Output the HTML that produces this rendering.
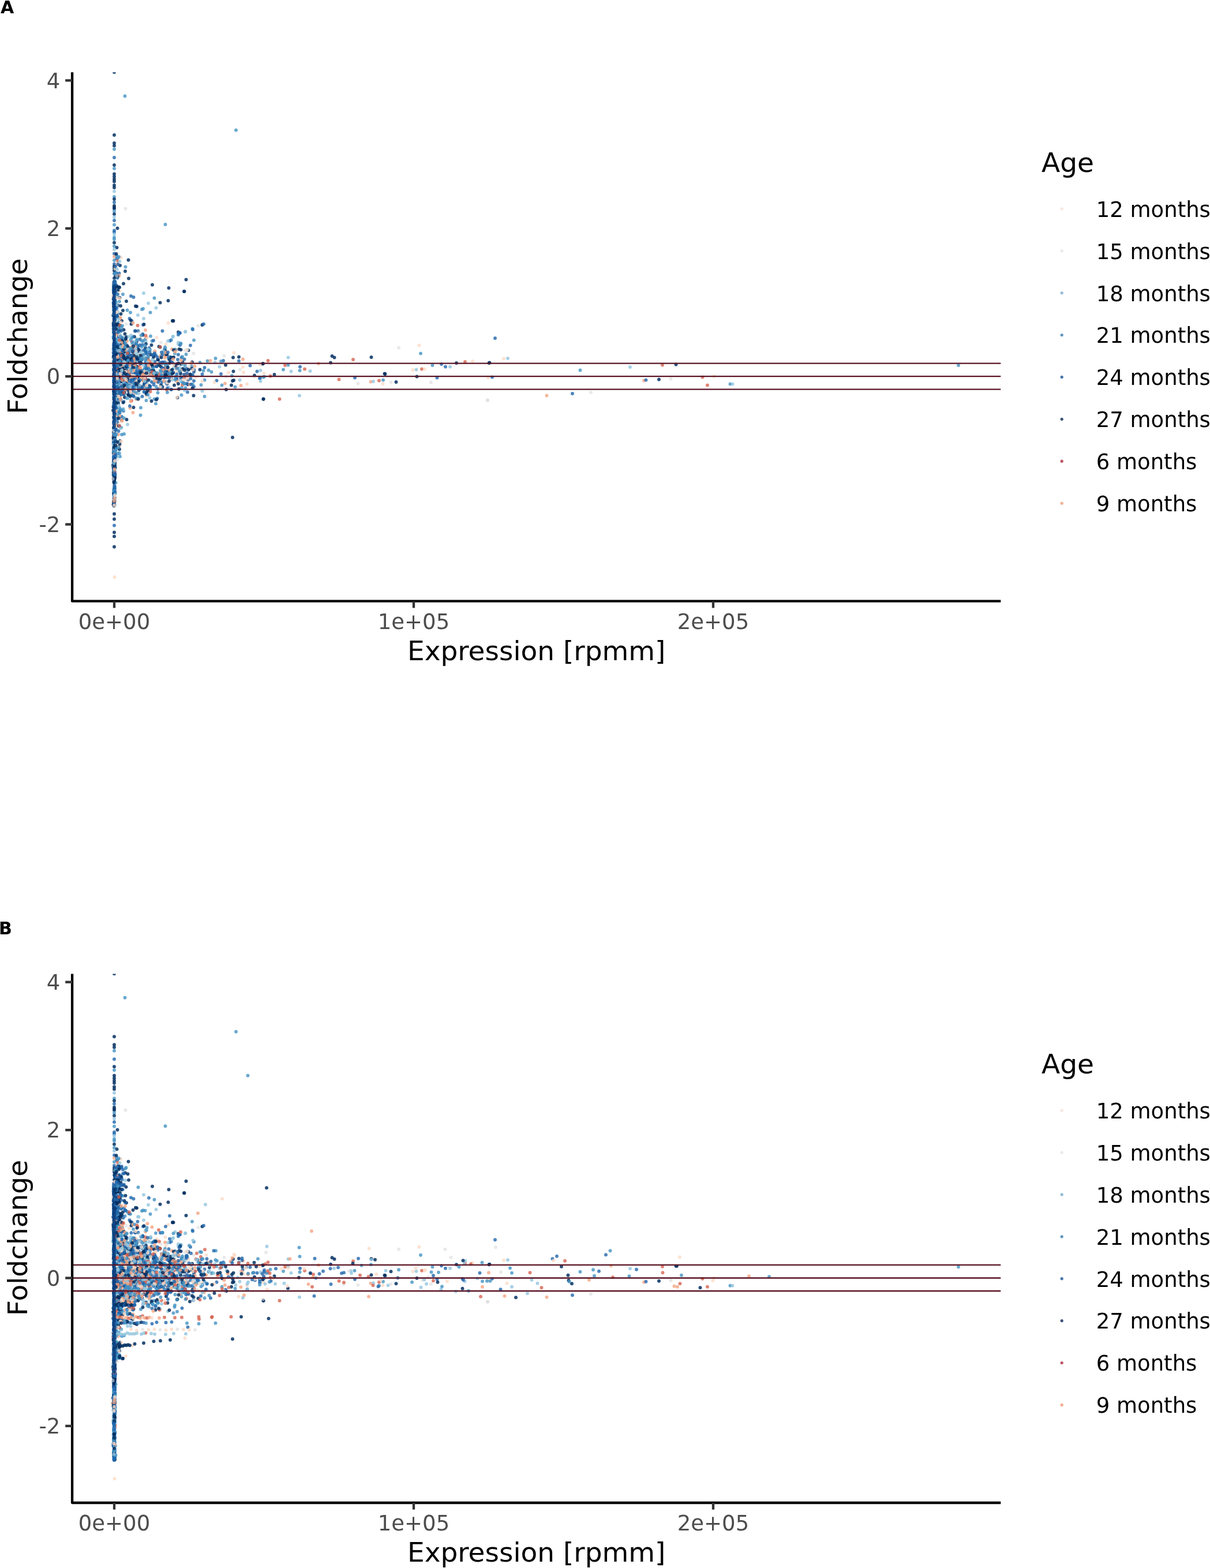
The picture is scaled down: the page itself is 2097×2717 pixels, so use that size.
<!DOCTYPE html>
<html><head><meta charset="utf-8"><style>
html,body{margin:0;padding:0;background:#fff;}
svg{display:block;}
.tk{font-family:"DejaVu Sans","Liberation Sans",sans-serif;font-size:37px;fill:#4D4D4D;}
.ti{font-family:"DejaVu Sans","Liberation Sans",sans-serif;font-size:47px;fill:#000;}
.lt{font-family:"DejaVu Sans","Liberation Sans",sans-serif;font-size:47px;fill:#000;}
.lg{font-family:"DejaVu Sans","Liberation Sans",sans-serif;font-size:37px;fill:#000;}
circle.N{fill:#053061;fill-opacity:.85} circle.B{fill:#2166AC;fill-opacity:.8} circle.M{fill:#4393C3;fill-opacity:.8} circle.L{fill:#92C5DE;fill-opacity:.8} circle.G{fill:#DADADA;fill-opacity:.6} circle.P{fill:#FDDBC7;fill-opacity:.8} circle.O{fill:#F4A582;fill-opacity:.8} circle.R{fill:#D6604D;fill-opacity:.78}
.pl{font-family:"DejaVu Sans","Liberation Sans",sans-serif;font-size:30px;font-weight:bold;fill:#000;}
</style></head><body>
<svg width="2097" height="2717" viewBox="0 0 2097 2717">
<rect width="2097" height="2717" fill="#fff"/>
<text x="1" y="22.8" class="pl">A</text>
<text x="-2.1" y="1618.5" class="pl">B</text>
<g transform="translate(0,0)">
<clipPath id="clipA"><rect x="125.1" y="125.2" width="1609.2" height="916.5"/></clipPath>
<g clip-path="url(#clipA)">
<rect x="195.4" y="742" width="5.2" height="134" rx="2.7" fill="#1a4f8f" fill-opacity="0.75"/>
<circle class=N cx=198 cy=234 r=2.95 />
<circle class=N cx=198 cy=248 r=2.95 />
<circle class=N cx=198 cy=252.5 r=2.95 />
<circle class=M cx=198 cy=258.5 r=2.95 />
<circle class=B cx=198 cy=273 r=2.95 />
<circle class=N cx=198 cy=286 r=2.95 />
<circle class=M cx=198 cy=292 r=2.95 />
<circle class=N cx=198 cy=301.5 r=2.95 />
<circle class=N cx=198 cy=306 r=2.95 />
<circle class=N cx=198 cy=310.5 r=2.95 />
<circle class=N cx=198 cy=314.5 r=2.95 />
<circle class=N cx=198 cy=321 r=2.95 />
<circle class=N cx=198 cy=325 r=2.95 />
<circle class=L cx=198 cy=331.5 r=2.95 />
<circle class=M cx=198 cy=341 r=2.95 />
<circle class=N cx=198 cy=345 r=2.95 />
<circle class=B cx=198 cy=350.5 r=2.95 />
<circle class=N cx=198 cy=356.5 r=2.95 />
<circle class=N cx=198 cy=359.5 r=2.95 />
<circle class=N cx=198 cy=361.5 r=2.95 />
<circle class=M cx=198 cy=366 r=2.95 />
<circle class=N cx=198 cy=371 r=2.95 />
<circle class=L cx=198 cy=376 r=2.95 />
<circle class=B cx=198 cy=382 r=2.95 />
<circle class=M cx=198 cy=389.5 r=2.95 />
<circle class=N cx=203.5 cy=395.5 r=2.95 />
<circle class=B cx=198 cy=399.5 r=2.95 />
<circle class=B cx=198 cy=402.5 r=2.95 />
<circle class=L cx=198 cy=406 r=2.95 />
<circle class=M cx=198 cy=411.5 r=2.95 />
<circle class=M cx=198 cy=414.5 r=2.95 />
<circle class=N cx=198 cy=420.5 r=2.95 />
<circle class=M cx=198 cy=426.5 r=2.95 />
<circle class=N cx=202.5 cy=429 r=2.95 />
<circle class=L cx=198 cy=432 r=2.95 />
<circle class=B cx=198 cy=439.5 r=2.95 />
<circle class=O cx=198 cy=444.5 r=2.95 />
<circle class=M cx=198 cy=451 r=2.95 />
<circle class=B cx=198 cy=457.5 r=2.95 />
<circle class=O cx=203 cy=458.5 r=2.95 />
<circle class=N cx=198 cy=461.5 r=2.95 />
<circle class=N cx=198 cy=465 r=2.95 />
<circle class=N cx=198 cy=469 r=2.95 />
<circle class=B cx=198 cy=474 r=2.95 />
<circle class=L cx=202 cy=477.5 r=2.95 />
<circle class=N cx=198 cy=482 r=2.95 />
<circle class=L cx=198 cy=487 r=2.95 />
<circle class=M cx=198 cy=491.5 r=2.95 />
<circle class=N cx=199.5 cy=518 r=2.95 />
<circle class=N cx=198 cy=514.5 r=2.95 />
<circle class=B cx=198 cy=529 r=2.95 />
<circle class=N cx=198.5 cy=528.5 r=2.95 />
<circle class=N cx=197 cy=528 r=2.95 />
<circle class=B cx=199.5 cy=558.5 r=2.95 />
<circle class=N cx=198.5 cy=524.5 r=2.95 />
<circle class=N cx=199 cy=512.5 r=2.95 />
<circle class=M cx=200 cy=512.5 r=2.95 />
<circle class=O cx=197.5 cy=488 r=2.95 />
<circle class=N cx=198 cy=550.5 r=2.95 />
<circle class=L cx=197.5 cy=518 r=2.95 />
<circle class=B cx=198 cy=529.5 r=2.95 />
<circle class=M cx=197.5 cy=539 r=2.95 />
<circle class=N cx=198 cy=546 r=2.95 />
<circle class=B cx=199.5 cy=545.5 r=2.95 />
<circle class=O cx=197.5 cy=501.5 r=2.95 />
<circle class=N cx=197.5 cy=491 r=2.95 />
<circle class=N cx=198 cy=559 r=2.95 />
<circle class=N cx=197.5 cy=527 r=2.95 />
<circle class=N cx=199 cy=511.5 r=2.95 />
<circle class=P cx=198.5 cy=559.5 r=2.95 />
<circle class=M cx=198 cy=545 r=2.95 />
<circle class=B cx=197.5 cy=543 r=2.95 />
<circle class=B cx=197.5 cy=492.5 r=2.95 />
<circle class=O cx=197.5 cy=518.5 r=2.95 />
<circle class=B cx=198 cy=502.5 r=2.95 />
<circle class=N cx=197 cy=494 r=2.95 />
<circle class=N cx=198 cy=557.5 r=2.95 />
<circle class=B cx=198.5 cy=526.5 r=2.95 />
<circle class=N cx=199 cy=488 r=2.95 />
<circle class=M cx=198 cy=531.5 r=2.95 />
<circle class=M cx=197.5 cy=495 r=2.95 />
<circle class=B cx=198 cy=556.5 r=2.95 />
<circle class=B cx=198 cy=505.5 r=2.95 />
<circle class=N cx=198 cy=516.5 r=2.95 />
<circle class=B cx=197.5 cy=537 r=2.95 />
<circle class=B cx=198 cy=538 r=2.95 />
<circle class=B cx=197.5 cy=493 r=2.95 />
<circle class=N cx=198 cy=502.5 r=2.95 />
<circle class=B cx=197.5 cy=552.5 r=2.95 />
<circle class=M cx=198.5 cy=538 r=2.95 />
<circle class=B cx=198 cy=545.5 r=2.95 />
<circle class=B cx=198.5 cy=525 r=2.95 />
<circle class=M cx=198.5 cy=533.5 r=2.95 />
<circle class=M cx=198.5 cy=490.5 r=2.95 />
<circle class=N cx=197.5 cy=537.5 r=2.95 />
<circle class=B cx=198.5 cy=541 r=2.95 />
<circle class=P cx=198.5 cy=507 r=2.95 />
<circle class=B cx=198 cy=536.5 r=2.95 />
<circle class=N cx=199 cy=555 r=2.95 />
<circle class=N cx=198 cy=516.5 r=2.95 />
<circle class=L cx=199 cy=513 r=2.95 />
<circle class=B cx=197.5 cy=493.5 r=2.95 />
<circle class=N cx=198.5 cy=544.5 r=2.95 />
<circle class=N cx=198 cy=547 r=2.95 />
<circle class=B cx=198.5 cy=518.5 r=2.95 />
<circle class=B cx=198 cy=545 r=2.95 />
<circle class=N cx=198.5 cy=511 r=2.95 />
<circle class=B cx=198 cy=503 r=2.95 />
<circle class=L cx=198.5 cy=514 r=2.95 />
<circle class=B cx=198 cy=494.5 r=2.95 />
<circle class=B cx=197.5 cy=527.5 r=2.95 />
<circle class=N cx=197.5 cy=544 r=2.95 />
<circle class=N cx=197 cy=526.5 r=2.95 />
<circle class=N cx=197.5 cy=518 r=2.95 />
<circle class=M cx=198.5 cy=535.5 r=2.95 />
<circle class=N cx=197.5 cy=535.5 r=2.95 />
<circle class=M cx=198.5 cy=522 r=2.95 />
<circle class=B cx=198 cy=497 r=2.95 />
<circle class=N cx=199.5 cy=492 r=2.95 />
<circle class=O cx=199 cy=500.5 r=2.95 />
<circle class=B cx=198 cy=510 r=2.95 />
<circle class=N cx=198.5 cy=492 r=2.95 />
<circle class=B cx=198 cy=504 r=2.95 />
<circle class=R cx=197.5 cy=505.5 r=2.95 />
<circle class=B cx=199.5 cy=559.5 r=2.95 />
<circle class=B cx=197.5 cy=555 r=2.95 />
<circle class=N cx=198 cy=499.5 r=2.95 />
<circle class=M cx=196.5 cy=502 r=2.95 />
<circle class=N cx=197.5 cy=543.5 r=2.95 />
<circle class=R cx=198 cy=505 r=2.95 />
<circle class=M cx=197.5 cy=504 r=2.95 />
<circle class=B cx=199 cy=528.5 r=2.95 />
<circle class=N cx=198.5 cy=550.5 r=2.95 />
<circle class=P cx=198 cy=554 r=2.95 />
<circle class=B cx=197 cy=514.5 r=2.95 />
<circle class=N cx=198.5 cy=496 r=2.95 />
<circle class=M cx=197.5 cy=510 r=2.95 />
<circle class=B cx=198 cy=558 r=2.95 />
<circle class=B cx=197 cy=529 r=2.95 />
<circle class=M cx=197 cy=525 r=2.95 />
<circle class=M cx=199.5 cy=489.5 r=2.95 />
<circle class=B cx=197.5 cy=502.5 r=2.95 />
<circle class=B cx=197.5 cy=490 r=2.95 />
<circle class=N cx=198.5 cy=506 r=2.95 />
<circle class=N cx=198 cy=545 r=2.95 />
<circle class=M cx=199 cy=528.5 r=2.95 />
<circle class=B cx=198 cy=544.5 r=2.95 />
<circle class=N cx=198.5 cy=510 r=2.95 />
<circle class=B cx=197 cy=503 r=2.95 />
<circle class=M cx=198.5 cy=534.5 r=2.95 />
<circle class=B cx=196 cy=546.5 r=2.95 />
<circle class=B cx=197 cy=526.5 r=2.95 />
<circle class=N cx=197.5 cy=558 r=2.95 />
<circle class=M cx=196.5 cy=518.5 r=2.95 />
<circle class=B cx=198.5 cy=541 r=2.95 />
<circle class=B cx=197.5 cy=517.5 r=2.95 />
<circle class=M cx=197 cy=494.5 r=2.95 />
<circle class=B cx=198.5 cy=504.5 r=2.95 />
<circle class=N cx=198 cy=542 r=2.95 />
<circle class=P cx=198 cy=537 r=2.95 />
<circle class=B cx=197.5 cy=516 r=2.95 />
<circle class=N cx=199 cy=491 r=2.95 />
<circle class=B cx=197.5 cy=531 r=2.95 />
<circle class=M cx=198 cy=498 r=2.95 />
<circle class=G cx=197.5 cy=515 r=2.95 />
<circle class=N cx=197 cy=545.5 r=2.95 />
<circle class=N cx=199 cy=520.5 r=2.95 />
<circle class=N cx=198 cy=558.5 r=2.95 />
<circle class=B cx=196.5 cy=524.5 r=2.95 />
<circle class=B cx=198 cy=551.5 r=2.95 />
<circle class=M cx=198 cy=495 r=2.95 />
<circle class=M cx=198 cy=537.5 r=2.95 />
<circle class=B cx=198 cy=544 r=2.95 />
<circle class=B cx=198 cy=488 r=2.95 />
<circle class=O cx=197.5 cy=530.5 r=2.95 />
<circle class=B cx=197 cy=558 r=2.95 />
<circle class=B cx=198.5 cy=510.5 r=2.95 />
<circle class=N cx=198 cy=534 r=2.95 />
<circle class=B cx=197.5 cy=495 r=2.95 />
<circle class=N cx=197 cy=498 r=2.95 />
<circle class=N cx=199 cy=507.5 r=2.95 />
<circle class=P cx=196.5 cy=555.5 r=2.95 />
<circle class=M cx=198 cy=545 r=2.95 />
<circle class=N cx=200 cy=498 r=2.95 />
<circle class=O cx=198 cy=515 r=2.95 />
<circle class=B cx=198 cy=536.5 r=2.95 />
<circle class=M cx=199 cy=523.5 r=2.95 />
<circle class=M cx=198.5 cy=489.5 r=2.95 />
<circle class=N cx=198.5 cy=513.5 r=2.95 />
<circle class=B cx=197.5 cy=502 r=2.95 />
<circle class=B cx=198.5 cy=493 r=2.95 />
<circle class=N cx=198.5 cy=528 r=2.95 />
<circle class=N cx=199 cy=490 r=2.95 />
<circle class=B cx=199 cy=537 r=2.95 />
<circle class=M cx=198.5 cy=531 r=2.95 />
<circle class=B cx=198 cy=525.5 r=2.95 />
<circle class=P cx=198 cy=517 r=2.95 />
<circle class=N cx=198.5 cy=534 r=2.95 />
<circle class=B cx=198.5 cy=546 r=2.95 />
<circle class=B cx=199 cy=545.5 r=2.95 />
<circle class=N cx=198 cy=557 r=2.95 />
<circle class=N cx=197 cy=506.5 r=2.95 />
<circle class=B cx=198.5 cy=525.5 r=2.95 />
<circle class=N cx=197 cy=518.5 r=2.95 />
<circle class=B cx=197.5 cy=546 r=2.95 />
<circle class=B cx=197 cy=545 r=2.95 />
<circle class=N cx=197.5 cy=507 r=2.95 />
<circle class=M cx=198.5 cy=552.5 r=2.95 />
<circle class=N cx=197 cy=532 r=2.95 />
<circle class=B cx=198 cy=522 r=2.95 />
<circle class=P cx=195.5 cy=513 r=2.95 />
<circle class=O cx=198 cy=493.5 r=2.95 />
<circle class=N cx=198.5 cy=545 r=2.95 />
<circle class=B cx=197 cy=497.5 r=2.95 />
<circle class=O cx=198 cy=547.5 r=2.95 />
<circle class=N cx=198 cy=553.5 r=2.95 />
<circle class=N cx=197.5 cy=547.5 r=2.95 />
<circle class=N cx=199.5 cy=532 r=2.95 />
<circle class=N cx=199 cy=534 r=2.95 />
<circle class=N cx=198 cy=520 r=2.95 />
<circle class=B cx=198.5 cy=515.5 r=2.95 />
<circle class=B cx=198.5 cy=535.5 r=2.95 />
<circle class=N cx=198.5 cy=525.5 r=2.95 />
<circle class=B cx=197.5 cy=537.5 r=2.95 />
<circle class=B cx=198 cy=555.5 r=2.95 />
<circle class=B cx=198 cy=557 r=2.95 />
<circle class=N cx=197.5 cy=547 r=2.95 />
<circle class=N cx=198.5 cy=502.5 r=2.95 />
<circle class=B cx=197.5 cy=517 r=2.95 />
<circle class=N cx=199 cy=505.5 r=2.95 />
<circle class=L cx=198.5 cy=490 r=2.95 />
<circle class=B cx=198.5 cy=501.5 r=2.95 />
<circle class=B cx=197.5 cy=489 r=2.95 />
<circle class=N cx=197.5 cy=516 r=2.95 />
<circle class=P cx=198.5 cy=517.5 r=2.95 />
<circle class=B cx=199 cy=553.5 r=2.95 />
<circle class=B cx=198 cy=489 r=2.95 />
<circle class=M cx=197 cy=535 r=2.95 />
<circle class=N cx=197.5 cy=525.5 r=2.95 />
<circle class=N cx=198 cy=500 r=2.95 />
<circle class=B cx=198 cy=555.5 r=2.95 />
<circle class=M cx=198 cy=517.5 r=2.95 />
<circle class=B cx=197.5 cy=518 r=2.95 />
<circle class=M cx=198 cy=493.5 r=2.95 />
<circle class=N cx=198 cy=523 r=2.95 />
<circle class=B cx=197 cy=507.5 r=2.95 />
<circle class=M cx=197 cy=544.5 r=2.95 />
<circle class=B cx=199.5 cy=537.5 r=2.95 />
<circle class=L cx=198 cy=684.5 r=2.95 />
<circle class=O cx=198.5 cy=642.5 r=2.95 />
<circle class=M cx=197.5 cy=692 r=2.95 />
<circle class=B cx=197.5 cy=603.5 r=2.95 />
<circle class=N cx=198.5 cy=617.5 r=2.95 />
<circle class=B cx=196.5 cy=564.5 r=2.95 />
<circle class=O cx=197 cy=683 r=2.95 />
<circle class=M cx=198.5 cy=680 r=2.95 />
<circle class=N cx=197 cy=586 r=2.95 />
<circle class=M cx=197.5 cy=564.5 r=2.95 />
<circle class=L cx=197.5 cy=739 r=2.95 />
<circle class=B cx=197.5 cy=617 r=2.95 />
<circle class=L cx=198.5 cy=706.5 r=2.95 />
<circle class=N cx=196.5 cy=560.5 r=2.95 />
<circle class=M cx=198 cy=665 r=2.95 />
<circle class=O cx=199.5 cy=696 r=2.95 />
<circle class=N cx=199 cy=687.5 r=2.95 />
<circle class=O cx=198 cy=653 r=2.95 />
<circle class=N cx=198 cy=670.5 r=2.95 />
<circle class=M cx=198.5 cy=582 r=2.95 />
<circle class=B cx=196.5 cy=619 r=2.95 />
<circle class=B cx=199 cy=677.5 r=2.95 />
<circle class=N cx=197.5 cy=629.5 r=2.95 />
<circle class=B cx=198.5 cy=675.5 r=2.95 />
<circle class=N cx=200 cy=580 r=2.95 />
<circle class=M cx=197.5 cy=621.5 r=2.95 />
<circle class=M cx=197 cy=651 r=2.95 />
<circle class=B cx=197.5 cy=608 r=2.95 />
<circle class=M cx=199 cy=706 r=2.95 />
<circle class=N cx=197 cy=678.5 r=2.95 />
<circle class=N cx=198 cy=626 r=2.95 />
<circle class=M cx=197.5 cy=667 r=2.95 />
<circle class=N cx=198 cy=739.5 r=2.95 />
<circle class=L cx=197 cy=682.5 r=2.95 />
<circle class=B cx=197.5 cy=653 r=2.95 />
<circle class=M cx=198 cy=666.5 r=2.95 />
<circle class=B cx=198.5 cy=618.5 r=2.95 />
<circle class=M cx=197 cy=596 r=2.95 />
<circle class=L cx=196.5 cy=584.5 r=2.95 />
<circle class=N cx=198.5 cy=730 r=2.95 />
<circle class=L cx=197.5 cy=723 r=2.95 />
<circle class=R cx=198 cy=731 r=2.95 />
<circle class=M cx=198 cy=624.5 r=2.95 />
<circle class=M cx=199.5 cy=726.5 r=2.95 />
<circle class=P cx=198 cy=737 r=2.95 />
<circle class=P cx=196.5 cy=637.5 r=2.95 />
<circle class=B cx=199 cy=634.5 r=2.95 />
<circle class=B cx=198 cy=562 r=2.95 />
<circle class=N cx=198.5 cy=609.5 r=2.95 />
<circle class=N cx=198 cy=579.5 r=2.95 />
<circle class=R cx=198 cy=715 r=2.95 />
<circle class=M cx=199 cy=561.5 r=2.95 />
<circle class=P cx=198 cy=584 r=2.95 />
<circle class=N cx=198.5 cy=717.5 r=2.95 />
<circle class=R cx=198.5 cy=702 r=2.95 />
<circle class=N cx=198.5 cy=718.5 r=2.95 />
<circle class=L cx=197 cy=662 r=2.95 />
<circle class=P cx=198.5 cy=660.5 r=2.95 />
<circle class=N cx=198 cy=721.5 r=2.95 />
<circle class=M cx=198 cy=651.5 r=2.95 />
<circle class=B cx=198 cy=714 r=2.95 />
<circle class=B cx=197 cy=677.5 r=2.95 />
<circle class=M cx=198.5 cy=679.5 r=2.95 />
<circle class=N cx=197 cy=681.5 r=2.95 />
<circle class=N cx=197.5 cy=619 r=2.95 />
<circle class=M cx=198 cy=627.5 r=2.95 />
<circle class=B cx=198 cy=608 r=2.95 />
<circle class=M cx=198 cy=690 r=2.95 />
<circle class=B cx=198 cy=562 r=2.95 />
<circle class=B cx=198 cy=577 r=2.95 />
<circle class=B cx=198.5 cy=611 r=2.95 />
<circle class=B cx=198.5 cy=664 r=2.95 />
<circle class=N cx=197.5 cy=572.5 r=2.95 />
<circle class=N cx=199 cy=654 r=2.95 />
<circle class=N cx=198.5 cy=715.5 r=2.95 />
<circle class=M cx=199 cy=658.5 r=2.95 />
<circle class=N cx=198.5 cy=724.5 r=2.95 />
<circle class=N cx=196.5 cy=705 r=2.95 />
<circle class=B cx=199 cy=716.5 r=2.95 />
<circle class=N cx=198 cy=692 r=2.95 />
<circle class=N cx=198.5 cy=715.5 r=2.95 />
<circle class=B cx=198.5 cy=684 r=2.95 />
<circle class=M cx=197 cy=629.5 r=2.95 />
<circle class=N cx=198 cy=712 r=2.95 />
<circle class=M cx=198.5 cy=569.5 r=2.95 />
<circle class=M cx=198 cy=575 r=2.95 />
<circle class=B cx=198 cy=560.5 r=2.95 />
<circle class=B cx=197.5 cy=697 r=2.95 />
<circle class=G cx=198.5 cy=573.5 r=2.95 />
<circle class=N cx=198 cy=643.5 r=2.95 />
<circle class=N cx=198 cy=644.5 r=2.95 />
<circle class=B cx=197.5 cy=725.5 r=2.95 />
<circle class=L cx=198 cy=640 r=2.95 />
<circle class=N cx=198.5 cy=704.5 r=2.95 />
<circle class=R cx=198.5 cy=690.5 r=2.95 />
<circle class=M cx=197.5 cy=576.5 r=2.95 />
<circle class=N cx=198 cy=713 r=2.95 />
<circle class=M cx=198.5 cy=584.5 r=2.95 />
<circle class=N cx=198 cy=685.5 r=2.95 />
<circle class=N cx=197 cy=575.5 r=2.95 />
<circle class=B cx=199 cy=702 r=2.95 />
<circle class=B cx=198 cy=612 r=2.95 />
<circle class=L cx=198 cy=666.5 r=2.95 />
<circle class=B cx=198.5 cy=696 r=2.95 />
<circle class=M cx=196.5 cy=605 r=2.95 />
<circle class=B cx=197 cy=640 r=2.95 />
<circle class=N cx=198 cy=624.5 r=2.95 />
<circle class=L cx=197 cy=681.5 r=2.95 />
<circle class=N cx=198.5 cy=647 r=2.95 />
<circle class=M cx=198.5 cy=711 r=2.95 />
<circle class=B cx=198 cy=613.5 r=2.95 />
<circle class=M cx=198.5 cy=735.5 r=2.95 />
<circle class=P cx=199.5 cy=728.5 r=2.95 />
<circle class=N cx=198.5 cy=706 r=2.95 />
<circle class=B cx=199 cy=716.5 r=2.95 />
<circle class=L cx=198 cy=621.5 r=2.95 />
<circle class=N cx=198 cy=667.5 r=2.95 />
<circle class=N cx=198.5 cy=686.5 r=2.95 />
<circle class=L cx=197.5 cy=584 r=2.95 />
<circle class=N cx=198.5 cy=645.5 r=2.95 />
<circle class=L cx=197.5 cy=709 r=2.95 />
<circle class=B cx=197 cy=633 r=2.95 />
<circle class=O cx=197.5 cy=570 r=2.95 />
<circle class=B cx=197 cy=561.5 r=2.95 />
<circle class=M cx=198 cy=638.5 r=2.95 />
<circle class=B cx=198 cy=567.5 r=2.95 />
<circle class=N cx=197 cy=616.5 r=2.95 />
<circle class=N cx=198.5 cy=652 r=2.95 />
<circle class=N cx=197 cy=670 r=2.95 />
<circle class=M cx=197.5 cy=674 r=2.95 />
<circle class=M cx=199.5 cy=572 r=2.95 />
<circle class=B cx=197.5 cy=701.5 r=2.95 />
<circle class=R cx=198.5 cy=725 r=2.95 />
<circle class=B cx=199 cy=571.5 r=2.95 />
<circle class=L cx=198.5 cy=735 r=2.95 />
<circle class=N cx=198.5 cy=607.5 r=2.95 />
<circle class=B cx=198.5 cy=689 r=2.95 />
<circle class=M cx=196.5 cy=569.5 r=2.95 />
<circle class=R cx=197 cy=611.5 r=2.95 />
<circle class=N cx=197.5 cy=659 r=2.95 />
<circle class=N cx=197 cy=652 r=2.95 />
<circle class=N cx=197.5 cy=659.5 r=2.95 />
<circle class=N cx=199 cy=737.5 r=2.95 />
<circle class=B cx=198 cy=609.5 r=2.95 />
<circle class=B cx=198 cy=605.5 r=2.95 />
<circle class=N cx=198.5 cy=732 r=2.95 />
<circle class=M cx=199.5 cy=591 r=2.95 />
<circle class=N cx=198.5 cy=709.5 r=2.95 />
<circle class=M cx=197.5 cy=639.5 r=2.95 />
<circle class=G cx=197 cy=595 r=2.95 />
<circle class=B cx=197.5 cy=666.5 r=2.95 />
<circle class=N cx=197.5 cy=562.5 r=2.95 />
<circle class=N cx=199 cy=646.5 r=2.95 />
<circle class=B cx=198.5 cy=683 r=2.95 />
<circle class=M cx=198 cy=678.5 r=2.95 />
<circle class=N cx=198.5 cy=708.5 r=2.95 />
<circle class=M cx=199 cy=566.5 r=2.95 />
<circle class=B cx=197 cy=702.5 r=2.95 />
<circle class=O cx=198.5 cy=731 r=2.95 />
<circle class=B cx=197 cy=723.5 r=2.95 />
<circle class=N cx=197.5 cy=570 r=2.95 />
<circle class=M cx=197.5 cy=616.5 r=2.95 />
<circle class=N cx=199 cy=672.5 r=2.95 />
<circle class=N cx=197.5 cy=688.5 r=2.95 />
<circle class=N cx=197.5 cy=716.5 r=2.95 />
<circle class=N cx=200 cy=693.5 r=2.95 />
<circle class=B cx=198.5 cy=715.5 r=2.95 />
<circle class=B cx=197 cy=599.5 r=2.95 />
<circle class=B cx=197.5 cy=586.5 r=2.95 />
<circle class=B cx=198 cy=648.5 r=2.95 />
<circle class=R cx=199.5 cy=622.5 r=2.95 />
<circle class=N cx=197.5 cy=625.5 r=2.95 />
<circle class=N cx=198.5 cy=589.5 r=2.95 />
<circle class=N cx=197.5 cy=732 r=2.95 />
<circle class=B cx=197.5 cy=661 r=2.95 />
<circle class=B cx=198 cy=702 r=2.95 />
<circle class=B cx=198.5 cy=714.5 r=2.95 />
<circle class=B cx=198 cy=675.5 r=2.95 />
<circle class=B cx=198.5 cy=609.5 r=2.95 />
<circle class=M cx=196.5 cy=584 r=2.95 />
<circle class=B cx=198 cy=669.5 r=2.95 />
<circle class=M cx=197 cy=629 r=2.95 />
<circle class=N cx=198.5 cy=726.5 r=2.95 />
<circle class=M cx=198 cy=594.5 r=2.95 />
<circle class=B cx=198 cy=733.5 r=2.95 />
<circle class=B cx=199 cy=635 r=2.95 />
<circle class=M cx=196.5 cy=627 r=2.95 />
<circle class=B cx=197 cy=733.5 r=2.95 />
<circle class=M cx=198 cy=587 r=2.95 />
<circle class=B cx=198.5 cy=600 r=2.95 />
<circle class=L cx=197.5 cy=727 r=2.95 />
<circle class=N cx=198 cy=736 r=2.95 />
<circle class=B cx=198.5 cy=708 r=2.95 />
<circle class=N cx=198 cy=594.5 r=2.95 />
<circle class=B cx=197.5 cy=698.5 r=2.95 />
<circle class=R cx=198 cy=723.5 r=2.95 />
<circle class=M cx=198 cy=617.5 r=2.95 />
<circle class=N cx=198.5 cy=723.5 r=2.95 />
<circle class=L cx=197.5 cy=579 r=2.95 />
<circle class=B cx=199 cy=731 r=2.95 />
<circle class=B cx=199 cy=568 r=2.95 />
<circle class=N cx=198.5 cy=590.5 r=2.95 />
<circle class=B cx=198.5 cy=578 r=2.95 />
<circle class=B cx=197.5 cy=596 r=2.95 />
<circle class=M cx=199.5 cy=605.5 r=2.95 />
<circle class=M cx=197.5 cy=661.5 r=2.95 />
<circle class=M cx=197 cy=575 r=2.95 />
<circle class=B cx=199 cy=617 r=2.95 />
<circle class=N cx=199.5 cy=585 r=2.95 />
<circle class=N cx=198 cy=704 r=2.95 />
<circle class=N cx=197.5 cy=642 r=2.95 />
<circle class=N cx=198 cy=585 r=2.95 />
<circle class=B cx=198.5 cy=626.5 r=2.95 />
<circle class=B cx=197.5 cy=631 r=2.95 />
<circle class=R cx=198.5 cy=598.5 r=2.95 />
<circle class=B cx=198 cy=664.5 r=2.95 />
<circle class=B cx=198 cy=613 r=2.95 />
<circle class=N cx=197.5 cy=650 r=2.95 />
<circle class=B cx=198 cy=650 r=2.95 />
<circle class=N cx=198 cy=596.5 r=2.95 />
<circle class=M cx=197.5 cy=683.5 r=2.95 />
<circle class=B cx=198 cy=718 r=2.95 />
<circle class=B cx=198.5 cy=654.5 r=2.95 />
<circle class=B cx=197.5 cy=647.5 r=2.95 />
<circle class=B cx=198.5 cy=661 r=2.95 />
<circle class=M cx=196.5 cy=611 r=2.95 />
<circle class=N cx=198 cy=686.5 r=2.95 />
<circle class=N cx=198.5 cy=654.5 r=2.95 />
<circle class=N cx=198 cy=573 r=2.95 />
<circle class=B cx=198.5 cy=619 r=2.95 />
<circle class=G cx=198 cy=727.5 r=2.95 />
<circle class=N cx=197.5 cy=647 r=2.95 />
<circle class=O cx=198.5 cy=644.5 r=2.95 />
<circle class=R cx=198.5 cy=655.5 r=2.95 />
<circle class=N cx=197.5 cy=639.5 r=2.95 />
<circle class=B cx=198.5 cy=699 r=2.95 />
<circle class=G cx=196.5 cy=715 r=2.95 />
<circle class=M cx=198 cy=573.5 r=2.95 />
<circle class=B cx=198 cy=573.5 r=2.95 />
<circle class=N cx=198.5 cy=582.5 r=2.95 />
<circle class=G cx=197.5 cy=692.5 r=2.95 />
<circle class=M cx=197 cy=688.5 r=2.95 />
<circle class=B cx=197 cy=612 r=2.95 />
<circle class=B cx=198 cy=643 r=2.95 />
<circle class=M cx=198.5 cy=653 r=2.95 />
<circle class=N cx=198 cy=716 r=2.95 />
<circle class=B cx=198 cy=580 r=2.95 />
<circle class=B cx=199.5 cy=736.5 r=2.95 />
<circle class=M cx=198 cy=581 r=2.95 />
<circle class=M cx=197.5 cy=739.5 r=2.95 />
<circle class=N cx=198 cy=706.5 r=2.95 />
<circle class=M cx=198 cy=714.5 r=2.95 />
<circle class=M cx=198 cy=663.5 r=2.95 />
<circle class=G cx=199 cy=579.5 r=2.95 />
<circle class=L cx=198 cy=574 r=2.95 />
<circle class=B cx=198 cy=616.5 r=2.95 />
<circle class=B cx=197 cy=568 r=2.95 />
<circle class=N cx=196 cy=711 r=2.95 />
<circle class=M cx=197.5 cy=566.5 r=2.95 />
<circle class=N cx=197.5 cy=571.5 r=2.95 />
<circle class=N cx=197.5 cy=617 r=2.95 />
<circle class=B cx=198 cy=580 r=2.95 />
<circle class=B cx=198 cy=571 r=2.95 />
<circle class=N cx=198 cy=617 r=2.95 />
<circle class=N cx=197 cy=564 r=2.95 />
<circle class=N cx=197.5 cy=663 r=2.95 />
<circle class=B cx=198 cy=644 r=2.95 />
<circle class=N cx=197.5 cy=722.5 r=2.95 />
<circle class=M cx=198.5 cy=701 r=2.95 />
<circle class=N cx=198.5 cy=716 r=2.95 />
<circle class=B cx=198 cy=634 r=2.95 />
<circle class=B cx=198.5 cy=711 r=2.95 />
<circle class=B cx=197 cy=712 r=2.95 />
<circle class=B cx=197.5 cy=598 r=2.95 />
<circle class=P cx=198 cy=622 r=2.95 />
<circle class=O cx=198.5 cy=733.5 r=2.95 />
<circle class=N cx=198 cy=658 r=2.95 />
<circle class=L cx=198.5 cy=733 r=2.95 />
<circle class=M cx=197 cy=701.5 r=2.95 />
<circle class=M cx=198 cy=720 r=2.95 />
<circle class=B cx=197 cy=730.5 r=2.95 />
<circle class=M cx=197 cy=659 r=2.95 />
<circle class=R cx=198.5 cy=640.5 r=2.95 />
<circle class=N cx=197.5 cy=691.5 r=2.95 />
<circle class=N cx=198 cy=683 r=2.95 />
<circle class=O cx=198.5 cy=638 r=2.95 />
<circle class=N cx=197.5 cy=603 r=2.95 />
<circle class=B cx=198 cy=685 r=2.95 />
<circle class=N cx=198.5 cy=568 r=2.95 />
<circle class=B cx=197 cy=641.5 r=2.95 />
<circle class=N cx=197.5 cy=678 r=2.95 />
<circle class=B cx=199 cy=723.5 r=2.95 />
<circle class=B cx=198.5 cy=631.5 r=2.95 />
<circle class=B cx=197 cy=576 r=2.95 />
<circle class=M cx=198.5 cy=636.5 r=2.95 />
<circle class=N cx=197.5 cy=712 r=2.95 />
<circle class=B cx=197.5 cy=606 r=2.95 />
<circle class=B cx=197.5 cy=656 r=2.95 />
<circle class=M cx=197.5 cy=582.5 r=2.95 />
<circle class=M cx=199 cy=578.5 r=2.95 />
<circle class=B cx=196.5 cy=819 r=2.95 />
<circle class=B cx=197 cy=782 r=2.95 />
<circle class=N cx=197 cy=792.5 r=2.95 />
<circle class=L cx=196 cy=769.5 r=2.95 />
<circle class=N cx=197.5 cy=802 r=2.95 />
<circle class=N cx=199 cy=753.5 r=2.95 />
<circle class=B cx=198.5 cy=816 r=2.95 />
<circle class=N cx=198.5 cy=802.5 r=2.95 />
<circle class=B cx=198.5 cy=741 r=2.95 />
<circle class=N cx=199 cy=747 r=2.95 />
<circle class=N cx=198 cy=764 r=2.95 />
<circle class=N cx=197 cy=815 r=2.95 />
<circle class=N cx=198 cy=776 r=2.95 />
<circle class=M cx=198 cy=807 r=2.95 />
<circle class=B cx=199.5 cy=811 r=2.95 />
<circle class=B cx=197.5 cy=799 r=2.95 />
<circle class=B cx=198 cy=760.5 r=2.95 />
<circle class=N cx=196.5 cy=810.5 r=2.95 />
<circle class=B cx=197.5 cy=816 r=2.95 />
<circle class=B cx=198.5 cy=795 r=2.95 />
<circle class=L cx=198 cy=815 r=2.95 />
<circle class=B cx=197 cy=776 r=2.95 />
<circle class=L cx=198 cy=828 r=2.95 />
<circle class=B cx=198.5 cy=802 r=2.95 />
<circle class=B cx=197.5 cy=812.5 r=2.95 />
<circle class=B cx=197.5 cy=825.5 r=2.95 />
<circle class=O cx=197.5 cy=749.5 r=2.95 />
<circle class=B cx=198 cy=779.5 r=2.95 />
<circle class=M cx=198 cy=809 r=2.95 />
<circle class=B cx=197.5 cy=824 r=2.95 />
<circle class=B cx=198 cy=765 r=2.95 />
<circle class=B cx=198 cy=758 r=2.95 />
<circle class=B cx=198 cy=776 r=2.95 />
<circle class=N cx=198 cy=766 r=2.95 />
<circle class=B cx=197.5 cy=816 r=2.95 />
<circle class=N cx=197.5 cy=780.5 r=2.95 />
<circle class=L cx=198.5 cy=769.5 r=2.95 />
<circle class=N cx=198 cy=810.5 r=2.95 />
<circle class=N cx=198 cy=741.5 r=2.95 />
<circle class=B cx=198 cy=816.5 r=2.95 />
<circle class=B cx=198.5 cy=779.5 r=2.95 />
<circle class=N cx=196.5 cy=823 r=2.95 />
<circle class=B cx=197.5 cy=787 r=2.95 />
<circle class=N cx=197 cy=796.5 r=2.95 />
<circle class=B cx=196 cy=805.5 r=2.95 />
<circle class=M cx=197 cy=757.5 r=2.95 />
<circle class=B cx=199 cy=780.5 r=2.95 />
<circle class=N cx=199.5 cy=755 r=2.95 />
<circle class=N cx=199 cy=763 r=2.95 />
<circle class=B cx=197.5 cy=803 r=2.95 />
<circle class=N cx=198 cy=779.5 r=2.95 />
<circle class=M cx=197.5 cy=824 r=2.95 />
<circle class=M cx=198 cy=815 r=2.95 />
<circle class=N cx=196 cy=807 r=2.95 />
<circle class=M cx=199 cy=803.5 r=2.95 />
<circle class=B cx=197.5 cy=756 r=2.95 />
<circle class=N cx=198 cy=787.5 r=2.95 />
<circle class=B cx=197 cy=828.5 r=2.95 />
<circle class=O cx=198.5 cy=750.5 r=2.95 />
<circle class=M cx=197.5 cy=742.5 r=2.95 />
<circle class=B cx=198 cy=801 r=2.95 />
<circle class=N cx=198 cy=785.5 r=2.95 />
<circle class=R cx=197.5 cy=748 r=2.95 />
<circle class=B cx=197.5 cy=761 r=2.95 />
<circle class=N cx=198.5 cy=799.5 r=2.95 />
<circle class=M cx=198.5 cy=816.5 r=2.95 />
<circle class=N cx=198 cy=750.5 r=2.95 />
<circle class=N cx=199 cy=745.5 r=2.95 />
<circle class=N cx=198 cy=810 r=2.95 />
<circle class=M cx=199 cy=797 r=2.95 />
<circle class=N cx=198.5 cy=797.5 r=2.95 />
<circle class=B cx=198.5 cy=769 r=2.95 />
<circle class=M cx=198.5 cy=822 r=2.95 />
<circle class=M cx=198.5 cy=747 r=2.95 />
<circle class=B cx=197 cy=821.5 r=2.95 />
<circle class=R cx=197 cy=810 r=2.95 />
<circle class=M cx=196.5 cy=784.5 r=2.95 />
<circle class=B cx=198.5 cy=785.5 r=2.95 />
<circle class=B cx=199 cy=804.5 r=2.95 />
<circle class=N cx=198 cy=785.5 r=2.95 />
<circle class=M cx=198 cy=814 r=2.95 />
<circle class=B cx=197 cy=813 r=2.95 />
<circle class=B cx=198 cy=791.5 r=2.95 />
<circle class=N cx=199 cy=790.5 r=2.95 />
<circle class=B cx=198.5 cy=765 r=2.95 />
<circle class=M cx=198 cy=772 r=2.95 />
<circle class=B cx=197.5 cy=774.5 r=2.95 />
<circle class=N cx=198 cy=759.5 r=2.95 />
<circle class=N cx=197.5 cy=778.5 r=2.95 />
<circle class=M cx=197.5 cy=791.5 r=2.95 />
<circle class=B cx=199 cy=759 r=2.95 />
<circle class=B cx=199 cy=790.5 r=2.95 />
<circle class=M cx=198 cy=786 r=2.95 />
<circle class=P cx=198.5 cy=801 r=2.95 />
<circle class=R cx=198.5 cy=785 r=2.95 />
<circle class=B cx=197.5 cy=755 r=2.95 />
<circle class=L cx=197 cy=809.5 r=2.95 />
<circle class=N cx=198.5 cy=759 r=2.95 />
<circle class=N cx=197 cy=741.5 r=2.95 />
<circle class=B cx=197 cy=785.5 r=2.95 />
<circle class=B cx=198.5 cy=784.5 r=2.95 />
<circle class=G cx=196.5 cy=782.5 r=2.95 />
<circle class=M cx=197.5 cy=780 r=2.95 />
<circle class=M cx=199 cy=761 r=2.95 />
<circle class=L cx=199 cy=773.5 r=2.95 />
<circle class=R cx=198.5 cy=822 r=2.95 />
<circle class=L cx=199.5 cy=744.5 r=2.95 />
<circle class=M cx=198 cy=740.5 r=2.95 />
<circle class=N cx=198.5 cy=758 r=2.95 />
<circle class=M cx=197.5 cy=793 r=2.95 />
<circle class=M cx=198 cy=788 r=2.95 />
<circle class=B cx=198 cy=740.5 r=2.95 />
<circle class=N cx=197 cy=749 r=2.95 />
<circle class=N cx=198.5 cy=808 r=2.95 />
<circle class=B cx=197 cy=818 r=2.95 />
<circle class=N cx=198.5 cy=769 r=2.95 />
<circle class=B cx=198.5 cy=795 r=2.95 />
<circle class=N cx=198.5 cy=766.5 r=2.95 />
<circle class=B cx=199 cy=784 r=2.95 />
<circle class=B cx=197 cy=793.5 r=2.95 />
<circle class=N cx=198 cy=805 r=2.95 />
<circle class=N cx=198 cy=811 r=2.95 />
<circle class=N cx=199 cy=791 r=2.95 />
<circle class=N cx=198.5 cy=744 r=2.95 />
<circle class=N cx=197 cy=761.5 r=2.95 />
<circle class=B cx=198 cy=785.5 r=2.95 />
<circle class=N cx=198 cy=794.5 r=2.95 />
<circle class=M cx=197.5 cy=818 r=2.95 />
<circle class=N cx=197.5 cy=755 r=2.95 />
<circle class=B cx=198 cy=776.5 r=2.95 />
<circle class=R cx=198.5 cy=799 r=2.95 />
<circle class=B cx=197.5 cy=773 r=2.95 />
<circle class=M cx=197 cy=775.5 r=2.95 />
<circle class=N cx=198.5 cy=746 r=2.95 />
<circle class=O cx=197.5 cy=771.5 r=2.95 />
<circle class=N cx=198.5 cy=767 r=2.95 />
<circle class=B cx=197.5 cy=779 r=2.95 />
<circle class=M cx=198.5 cy=750 r=2.95 />
<circle class=N cx=198 cy=797 r=2.95 />
<circle class=L cx=197 cy=807 r=2.95 />
<circle class=N cx=198 cy=820.5 r=2.95 />
<circle class=N cx=197.5 cy=802 r=2.95 />
<circle class=N cx=197 cy=765.5 r=2.95 />
<circle class=B cx=199 cy=764.5 r=2.95 />
<circle class=B cx=197.5 cy=740.5 r=2.95 />
<circle class=N cx=199 cy=807 r=2.95 />
<circle class=M cx=198.5 cy=804 r=2.95 />
<circle class=N cx=199 cy=745.5 r=2.95 />
<circle class=B cx=198 cy=770 r=2.95 />
<circle class=N cx=198 cy=829.5 r=2.95 />
<circle class=B cx=199 cy=826 r=2.95 />
<circle class=N cx=198.5 cy=801.5 r=2.95 />
<circle class=L cx=198.5 cy=782.5 r=2.95 />
<circle class=N cx=197.5 cy=748.5 r=2.95 />
<circle class=B cx=197.5 cy=760 r=2.95 />
<circle class=B cx=198 cy=745.5 r=2.95 />
<circle class=B cx=198.5 cy=740.5 r=2.95 />
<circle class=N cx=198.5 cy=781.5 r=2.95 />
<circle class=B cx=199 cy=808.5 r=2.95 />
<circle class=N cx=198.5 cy=818.5 r=2.95 />
<circle class=B cx=199.5 cy=771.5 r=2.95 />
<circle class=N cx=198.5 cy=770.5 r=2.95 />
<circle class=B cx=198 cy=820 r=2.95 />
<circle class=M cx=198.5 cy=772.5 r=2.95 />
<circle class=N cx=198 cy=745.5 r=2.95 />
<circle class=M cx=196.5 cy=801 r=2.95 />
<circle class=B cx=198.5 cy=808 r=2.95 />
<circle class=B cx=197.5 cy=793 r=2.95 />
<circle class=B cx=197 cy=752 r=2.95 />
<circle class=L cx=198 cy=805.5 r=2.95 />
<circle class=M cx=197.5 cy=786 r=2.95 />
<circle class=M cx=198.5 cy=767 r=2.95 />
<circle class=N cx=197.5 cy=799.5 r=2.95 />
<circle class=L cx=197 cy=798 r=2.95 />
<circle class=B cx=198 cy=800 r=2.95 />
<circle class=O cx=197.5 cy=804.5 r=2.95 />
<circle class=N cx=198 cy=747.5 r=2.95 />
<circle class=B cx=198.5 cy=798.5 r=2.95 />
<circle class=G cx=197.5 cy=823 r=2.95 />
<circle class=N cx=197 cy=817.5 r=2.95 />
<circle class=G cx=197.5 cy=778 r=2.95 />
<circle class=B cx=197 cy=758.5 r=2.95 />
<circle class=B cx=198 cy=821 r=2.95 />
<circle class=N cx=198 cy=755.5 r=2.95 />
<circle class=L cx=197.5 cy=775.5 r=2.95 />
<circle class=N cx=197 cy=765.5 r=2.95 />
<circle class=N cx=199 cy=821.5 r=2.95 />
<circle class=N cx=198.5 cy=808.5 r=2.95 />
<circle class=B cx=197.5 cy=815.5 r=2.95 />
<circle class=N cx=199.5 cy=809.5 r=2.95 />
<circle class=B cx=197.5 cy=800.5 r=2.95 />
<circle class=L cx=197.5 cy=788.5 r=2.95 />
<circle class=N cx=198.5 cy=830 r=2.95 />
<circle class=R cx=197.5 cy=797 r=2.95 />
<circle class=N cx=198.5 cy=759.5 r=2.95 />
<circle class=N cx=198.5 cy=786 r=2.95 />
<circle class=B cx=199 cy=819.5 r=2.95 />
<circle class=M cx=197 cy=780.5 r=2.95 />
<circle class=B cx=198 cy=776.5 r=2.95 />
<circle class=N cx=198 cy=790.5 r=2.95 />
<circle class=R cx=196.5 cy=756 r=2.95 />
<circle class=B cx=198.5 cy=804 r=2.95 />
<circle class=B cx=198.5 cy=769.5 r=2.95 />
<circle class=N cx=198 cy=805 r=2.95 />
<circle class=M cx=198 cy=823.5 r=2.95 />
<circle class=B cx=200 cy=787.5 r=2.95 />
<circle class=B cx=198 cy=820.5 r=2.95 />
<circle class=B cx=198 cy=741 r=2.95 />
<circle class=N cx=197.5 cy=803.5 r=2.95 />
<circle class=B cx=198.5 cy=758.5 r=2.95 />
<circle class=B cx=197.5 cy=763 r=2.95 />
<circle class=B cx=197 cy=815.5 r=2.95 />
<circle class=M cx=198 cy=815 r=2.95 />
<circle class=N cx=197 cy=811 r=2.95 />
<circle class=R cx=198 cy=821 r=2.95 />
<circle class=M cx=198 cy=829.5 r=2.95 />
<circle class=M cx=199 cy=744 r=2.95 />
<circle class=O cx=198 cy=816 r=2.95 />
<circle class=B cx=198.5 cy=796.5 r=2.95 />
<circle class=B cx=197.5 cy=795.5 r=2.95 />
<circle class=L cx=198.5 cy=799 r=2.95 />
<circle class=N cx=197.5 cy=808.5 r=2.95 />
<circle class=B cx=197.5 cy=746 r=2.95 />
<circle class=M cx=199 cy=754.5 r=2.95 />
<circle class=M cx=197.5 cy=768.5 r=2.95 />
<circle class=N cx=198 cy=762.5 r=2.95 />
<circle class=N cx=197.5 cy=820.5 r=2.95 />
<circle class=B cx=199 cy=785.5 r=2.95 />
<circle class=B cx=197.5 cy=803.5 r=2.95 />
<circle class=N cx=198 cy=819.5 r=2.95 />
<circle class=B cx=197.5 cy=776.5 r=2.95 />
<circle class=N cx=197.5 cy=777.5 r=2.95 />
<circle class=B cx=198.5 cy=783 r=2.95 />
<circle class=M cx=198 cy=770.5 r=2.95 />
<circle class=B cx=197.5 cy=745 r=2.95 />
<circle class=B cx=199 cy=796 r=2.95 />
<circle class=N cx=198 cy=827 r=2.95 />
<circle class=B cx=199 cy=809 r=2.95 />
<circle class=N cx=198.5 cy=827 r=2.95 />
<circle class=P cx=198.5 cy=778 r=2.95 />
<circle class=N cx=198.5 cy=760.5 r=2.95 />
<circle class=M cx=198.5 cy=809.5 r=2.95 />
<circle class=N cx=198.5 cy=763.5 r=2.95 />
<circle class=B cx=197.5 cy=755.5 r=2.95 />
<circle class=B cx=198 cy=809.5 r=2.95 />
<circle class=B cx=197.5 cy=813.5 r=2.95 />
<circle class=N cx=198.5 cy=809 r=2.95 />
<circle class=B cx=199 cy=743 r=2.95 />
<circle class=N cx=197.5 cy=798 r=2.95 />
<circle class=B cx=197.5 cy=791 r=2.95 />
<circle class=M cx=198 cy=740 r=2.95 />
<circle class=R cx=198.5 cy=827.5 r=2.95 />
<circle class=M cx=197 cy=791 r=2.95 />
<circle class=N cx=199 cy=826.5 r=2.95 />
<circle class=N cx=197 cy=830 r=2.95 />
<circle class=N cx=197.5 cy=823 r=2.95 />
<circle class=N cx=199 cy=802 r=2.95 />
<circle class=L cx=197.5 cy=828 r=2.95 />
<circle class=N cx=198.5 cy=829.5 r=2.95 />
<circle class=N cx=196.5 cy=759 r=2.95 />
<circle class=M cx=198.5 cy=783 r=2.95 />
<circle class=N cx=199.5 cy=771 r=2.95 />
<circle class=B cx=198 cy=752 r=2.95 />
<circle class=N cx=198.5 cy=803.5 r=2.95 />
<circle class=B cx=198 cy=790.5 r=2.95 />
<circle class=L cx=197.5 cy=763.5 r=2.95 />
<circle class=B cx=197 cy=785 r=2.95 />
<circle class=N cx=199 cy=774.5 r=2.95 />
<circle class=L cx=198 cy=750 r=2.95 />
<circle class=L cx=198 cy=821 r=2.95 />
<circle class=N cx=197.5 cy=783.5 r=2.95 />
<circle class=B cx=198.5 cy=766 r=2.95 />
<circle class=B cx=198.5 cy=785.5 r=2.95 />
<circle class=B cx=199 cy=752.5 r=2.95 />
<circle class=N cx=198 cy=821.5 r=2.95 />
<circle class=N cx=197 cy=804.5 r=2.95 />
<circle class=M cx=198 cy=816.5 r=2.95 />
<circle class=N cx=198.5 cy=759 r=2.95 />
<circle class=P cx=197.5 cy=802.5 r=2.95 />
<circle class=R cx=198.5 cy=818 r=2.95 />
<circle class=B cx=197.5 cy=790.5 r=2.95 />
<circle class=N cx=198.5 cy=827 r=2.95 />
<circle class=M cx=198 cy=814.5 r=2.95 />
<circle class=M cx=197.5 cy=802.5 r=2.95 />
<circle class=O cx=198.5 cy=786.5 r=2.95 />
<circle class=B cx=198.5 cy=821.5 r=2.95 />
<circle class=B cx=199 cy=798.5 r=2.95 />
<circle class=N cx=198 cy=775 r=2.95 />
<circle class=B cx=198 cy=747.5 r=2.95 />
<circle class=M cx=198.5 cy=754 r=2.95 />
<circle class=N cx=198 cy=741 r=2.95 />
<circle class=O cx=198.5 cy=813 r=2.95 />
<circle class=M cx=197.5 cy=782.5 r=2.95 />
<circle class=P cx=199 cy=798.5 r=2.95 />
<circle class=O cx=197.5 cy=746.5 r=2.95 />
<circle class=L cx=197.5 cy=746 r=2.95 />
<circle class=B cx=199.5 cy=822.5 r=2.95 />
<circle class=B cx=198.5 cy=821 r=2.95 />
<circle class=B cx=198 cy=828 r=2.95 />
<circle class=N cx=198.5 cy=828 r=2.95 />
<circle class=B cx=198 cy=863 r=2.95 />
<circle class=B cx=198.5 cy=867 r=2.95 />
<circle class=B cx=198 cy=874.5 r=2.95 />
<circle class=N cx=198 cy=831.5 r=2.95 />
<circle class=B cx=197 cy=855.5 r=2.95 />
<circle class=B cx=198.5 cy=869 r=2.95 />
<circle class=B cx=197.5 cy=858.5 r=2.95 />
<circle class=N cx=197.5 cy=830.5 r=2.95 />
<circle class=M cx=198 cy=845 r=2.95 />
<circle class=N cx=198.5 cy=851 r=2.95 />
<circle class=N cx=198.5 cy=861.5 r=2.95 />
<circle class=B cx=198.5 cy=862.5 r=2.95 />
<circle class=N cx=198 cy=830.5 r=2.95 />
<circle class=B cx=197.5 cy=835 r=2.95 />
<circle class=B cx=198 cy=856.5 r=2.95 />
<circle class=M cx=200.5 cy=836.5 r=2.95 />
<circle class=B cx=197 cy=854.5 r=2.95 />
<circle class=N cx=198 cy=851 r=2.95 />
<circle class=N cx=197 cy=868.5 r=2.95 />
<circle class=B cx=197.5 cy=852.5 r=2.95 />
<circle class=M cx=198 cy=855 r=2.95 />
<circle class=N cx=197.5 cy=863.5 r=2.95 />
<circle class=L cx=197.5 cy=871 r=2.95 />
<circle class=B cx=197.5 cy=832 r=2.95 />
<circle class=B cx=198 cy=871 r=2.95 />
<circle class=N cx=196.5 cy=874 r=2.95 />
<circle class=R cx=198.5 cy=869.5 r=2.95 />
<circle class=L cx=199 cy=854 r=2.95 />
<circle class=B cx=198 cy=862.5 r=2.95 />
<circle class=M cx=198 cy=861 r=2.95 />
<circle class=B cx=198.5 cy=875 r=2.95 />
<circle class=P cx=199 cy=849 r=2.95 />
<circle class=M cx=199 cy=854 r=2.95 />
<circle class=B cx=198.5 cy=863.5 r=2.95 />
<circle class=M cx=198.5 cy=852.5 r=2.95 />
<circle class=N cx=197 cy=869.5 r=2.95 />
<circle class=O cx=198.5 cy=863.5 r=2.95 />
<circle class=M cx=197 cy=849 r=2.95 />
<circle class=B cx=198 cy=866.5 r=2.95 />
<circle class=N cx=197 cy=874 r=2.95 />
<circle class=M cx=198.5 cy=845 r=2.95 />
<circle class=B cx=199 cy=847 r=2.95 />
<circle class=O cx=197.5 cy=868 r=2.95 />
<circle class=N cx=197.5 cy=855.5 r=2.95 />
<circle class=B cx=198 cy=847.5 r=2.95 />
<circle class=M cx=198.5 cy=856.5 r=2.95 />
<circle class=B cx=198 cy=873.5 r=2.95 />
<circle class=M cx=198.5 cy=865.5 r=2.95 />
<circle class=N cx=198 cy=832.5 r=2.95 />
<circle class=N cx=197.5 cy=876.5 r=2.95 />
<circle class=P cx=198 cy=875.5 r=2.95 />
<circle class=O cx=198.5 cy=865 r=2.95 />
<circle class=N cx=197.5 cy=832 r=2.95 />
<circle class=M cx=197.5 cy=850.5 r=2.95 />
<circle class=B cx=199.5 cy=852.5 r=2.95 />
<circle class=N cx=197.5 cy=836 r=2.95 />
<circle class=M cx=199.5 cy=856 r=2.95 />
<circle class=G cx=195.5 cy=830 r=2.95 />
<circle class=P cx=199 cy=858.5 r=2.95 />
<circle class=B cx=199 cy=843 r=2.95 />
<circle class=M cx=203.5 cy=515.5 r=2.95 />
<circle class=M cx=202.5 cy=550.5 r=2.95 />
<circle class=N cx=208 cy=460 r=2.95 />
<circle class=B cx=203.5 cy=543.5 r=2.95 />
<circle class=P cx=199.5 cy=465.5 r=2.95 />
<circle class=B cx=201.5 cy=538.5 r=2.95 />
<circle class=P cx=199 cy=558.5 r=2.95 />
<circle class=N cx=199.5 cy=531.5 r=2.95 />
<circle class=M cx=205.5 cy=478.5 r=2.95 />
<circle class=P cx=202.5 cy=516 r=2.95 />
<circle class=N cx=202.5 cy=541.5 r=2.95 />
<circle class=B cx=204 cy=510 r=2.95 />
<circle class=M cx=201 cy=523.5 r=2.95 />
<circle class=B cx=204.5 cy=458 r=2.95 />
<circle class=B cx=200.5 cy=507 r=2.95 />
<circle class=B cx=201.5 cy=494.5 r=2.95 />
<circle class=B cx=202.5 cy=448 r=2.95 />
<circle class=P cx=207.5 cy=504.5 r=2.95 />
<circle class=N cx=204 cy=529 r=2.95 />
<circle class=L cx=199.5 cy=544 r=2.95 />
<circle class=N cx=209 cy=530 r=2.95 />
<circle class=B cx=200 cy=462 r=2.95 />
<circle class=L cx=199.5 cy=513 r=2.95 />
<circle class=N cx=211 cy=556 r=2.95 />
<circle class=N cx=203 cy=496.5 r=2.95 />
<circle class=N cx=203.5 cy=548.5 r=2.95 />
<circle class=P cx=209.5 cy=446 r=2.95 />
<circle class=N cx=200 cy=479 r=2.95 />
<circle class=B cx=206.5 cy=473.5 r=2.95 />
<circle class=L cx=202.5 cy=529 r=2.95 />
<circle class=O cx=208 cy=551.5 r=2.95 />
<circle class=B cx=202.5 cy=533.5 r=2.95 />
<circle class=M cx=202 cy=443 r=2.95 />
<circle class=N cx=213 cy=538 r=2.95 />
<circle class=B cx=200 cy=534.5 r=2.95 />
<circle class=L cx=204 cy=540 r=2.95 />
<circle class=M cx=205.5 cy=558.5 r=2.95 />
<circle class=B cx=199 cy=493.5 r=2.95 />
<circle class=B cx=202.5 cy=547.5 r=2.95 />
<circle class=B cx=199 cy=487.5 r=2.95 />
<circle class=R cx=204 cy=452 r=2.95 />
<circle class=M cx=207 cy=522.5 r=2.95 />
<circle class=O cx=208.5 cy=550.5 r=2.95 />
<circle class=N cx=207 cy=498 r=2.95 />
<circle class=B cx=203.5 cy=481.5 r=2.95 />
<circle class=L cx=203 cy=466.5 r=2.95 />
<circle class=N cx=201.5 cy=440 r=2.95 />
<circle class=B cx=201.5 cy=473 r=2.95 />
<circle class=M cx=199 cy=510 r=2.95 />
<circle class=M cx=206 cy=445 r=2.95 />
<circle class=M cx=213 cy=510 r=2.95 />
<circle class=N cx=206 cy=497.5 r=2.95 />
<circle class=N cx=204.5 cy=502.5 r=2.95 />
<circle class=O cx=206.5 cy=477.5 r=2.95 />
<circle class=L cx=207.5 cy=453 r=2.95 />
<circle class=N cx=207.5 cy=516 r=2.95 />
<circle class=M cx=199.5 cy=474 r=2.95 />
<circle class=N cx=203.5 cy=478.5 r=2.95 />
<circle class=M cx=204.5 cy=446.5 r=2.95 />
<circle class=G cx=202.5 cy=478 r=2.95 />
<circle class=B cx=210.5 cy=727.5 r=2.95 />
<circle class=P cx=207.5 cy=640.5 r=2.95 />
<circle class=B cx=208 cy=590 r=2.95 />
<circle class=M cx=205.5 cy=560.5 r=2.95 />
<circle class=B cx=201.5 cy=595.5 r=2.95 />
<circle class=L cx=204.5 cy=694 r=2.95 />
<circle class=B cx=200 cy=705 r=2.95 />
<circle class=M cx=205 cy=628.5 r=2.95 />
<circle class=B cx=211 cy=647 r=2.95 />
<circle class=N cx=204.5 cy=661 r=2.95 />
<circle class=B cx=207 cy=662.5 r=2.95 />
<circle class=B cx=203.5 cy=585 r=2.95 />
<circle class=L cx=204.5 cy=609.5 r=2.95 />
<circle class=O cx=211.5 cy=729.5 r=2.95 />
<circle class=B cx=201.5 cy=609 r=2.95 />
<circle class=N cx=205.5 cy=635.5 r=2.95 />
<circle class=B cx=204 cy=726 r=2.95 />
<circle class=M cx=205 cy=667.5 r=2.95 />
<circle class=B cx=199.5 cy=628 r=2.95 />
<circle class=L cx=203.5 cy=709 r=2.95 />
<circle class=N cx=202.5 cy=596 r=2.95 />
<circle class=M cx=205.5 cy=693 r=2.95 />
<circle class=N cx=201 cy=625.5 r=2.95 />
<circle class=M cx=202.5 cy=663 r=2.95 />
<circle class=M cx=202 cy=711.5 r=2.95 />
<circle class=B cx=208 cy=602.5 r=2.95 />
<circle class=O cx=201 cy=721 r=2.95 />
<circle class=B cx=208.5 cy=710.5 r=2.95 />
<circle class=M cx=207 cy=723.5 r=2.95 />
<circle class=G cx=200.5 cy=710 r=2.95 />
<circle class=B cx=211 cy=722 r=2.95 />
<circle class=M cx=201.5 cy=640 r=2.95 />
<circle class=P cx=203.5 cy=667.5 r=2.95 />
<circle class=O cx=200 cy=566 r=2.95 />
<circle class=O cx=211.5 cy=727 r=2.95 />
<circle class=L cx=201.5 cy=629 r=2.95 />
<circle class=B cx=202 cy=597.5 r=2.95 />
<circle class=M cx=201.5 cy=736 r=2.95 />
<circle class=O cx=208.5 cy=618.5 r=2.95 />
<circle class=N cx=205.5 cy=738 r=2.95 />
<circle class=M cx=200.5 cy=702.5 r=2.95 />
<circle class=O cx=202.5 cy=615 r=2.95 />
<circle class=L cx=201.5 cy=587.5 r=2.95 />
<circle class=M cx=201.5 cy=648.5 r=2.95 />
<circle class=P cx=205 cy=722 r=2.95 />
<circle class=O cx=203 cy=666 r=2.95 />
<circle class=N cx=200 cy=676 r=2.95 />
<circle class=P cx=206.5 cy=665 r=2.95 />
<circle class=P cx=203.5 cy=695.5 r=2.95 />
<circle class=N cx=200 cy=590 r=2.95 />
<circle class=L cx=200 cy=567 r=2.95 />
<circle class=P cx=203 cy=651.5 r=2.95 />
<circle class=N cx=202 cy=625 r=2.95 />
<circle class=O cx=203 cy=698.5 r=2.95 />
<circle class=L cx=206.5 cy=658 r=2.95 />
<circle class=P cx=201.5 cy=709.5 r=2.95 />
<circle class=N cx=205.5 cy=640 r=2.95 />
<circle class=P cx=199 cy=573.5 r=2.95 />
<circle class=N cx=200 cy=639.5 r=2.95 />
<circle class=M cx=200.5 cy=637.5 r=2.95 />
<circle class=M cx=199.5 cy=725 r=2.95 />
<circle class=N cx=205 cy=563.5 r=2.95 />
<circle class=O cx=206.5 cy=639 r=2.95 />
<circle class=B cx=204 cy=625 r=2.95 />
<circle class=P cx=199.5 cy=585.5 r=2.95 />
<circle class=L cx=203 cy=672 r=2.95 />
<circle class=N cx=207.5 cy=571.5 r=2.95 />
<circle class=N cx=200.5 cy=656 r=2.95 />
<circle class=N cx=206 cy=676.5 r=2.95 />
<circle class=B cx=204 cy=658 r=2.95 />
<circle class=L cx=206.5 cy=601.5 r=2.95 />
<circle class=O cx=199.5 cy=649 r=2.95 />
<circle class=N cx=208.5 cy=589.5 r=2.95 />
<circle class=M cx=200 cy=586 r=2.95 />
<circle class=B cx=205 cy=656.5 r=2.95 />
<circle class=P cx=205 cy=619 r=2.95 />
<circle class=M cx=201 cy=589.5 r=2.95 />
<circle class=N cx=204 cy=689 r=2.95 />
<circle class=P cx=204.5 cy=638 r=2.95 />
<circle class=M cx=205.5 cy=713.5 r=2.95 />
<circle class=O cx=202 cy=609.5 r=2.95 />
<circle class=L cx=205.5 cy=610.5 r=2.95 />
<circle class=B cx=199 cy=606.5 r=2.95 />
<circle class=B cx=201 cy=705.5 r=2.95 />
<circle class=M cx=203.5 cy=672 r=2.95 />
<circle class=B cx=201.5 cy=562.5 r=2.95 />
<circle class=M cx=207.5 cy=707 r=2.95 />
<circle class=N cx=205.5 cy=601.5 r=2.95 />
<circle class=G cx=204 cy=680.5 r=2.95 />
<circle class=O cx=201 cy=658 r=2.95 />
<circle class=B cx=209.5 cy=622 r=2.95 />
<circle class=L cx=203 cy=697.5 r=2.95 />
<circle class=N cx=208.5 cy=678 r=2.95 />
<circle class=P cx=206 cy=732.5 r=2.95 />
<circle class=O cx=226 cy=622.5 r=2.95 />
<circle class=R cx=199.5 cy=675 r=2.95 />
<circle class=N cx=201 cy=588 r=2.95 />
<circle class=P cx=204.5 cy=592 r=2.95 />
<circle class=L cx=204 cy=652 r=2.95 />
<circle class=B cx=202.5 cy=686.5 r=2.95 />
<circle class=N cx=201.5 cy=578.5 r=2.95 />
<circle class=R cx=203.5 cy=665.5 r=2.95 />
<circle class=O cx=202 cy=664 r=2.95 />
<circle class=B cx=200 cy=736 r=2.95 />
<circle class=O cx=200 cy=641.5 r=2.95 />
<circle class=L cx=208 cy=665.5 r=2.95 />
<circle class=N cx=204 cy=562 r=2.95 />
<circle class=L cx=205 cy=620.5 r=2.95 />
<circle class=M cx=201.5 cy=597 r=2.95 />
<circle class=O cx=207 cy=720.5 r=2.95 />
<circle class=L cx=205 cy=617 r=2.95 />
<circle class=B cx=206 cy=609.5 r=2.95 />
<circle class=O cx=200.5 cy=713 r=2.95 />
<circle class=N cx=201.5 cy=562 r=2.95 />
<circle class=N cx=208 cy=564 r=2.95 />
<circle class=M cx=201.5 cy=583 r=2.95 />
<circle class=B cx=204.5 cy=598.5 r=2.95 />
<circle class=B cx=201.5 cy=707 r=2.95 />
<circle class=N cx=211 cy=660.5 r=2.95 />
<circle class=R cx=202 cy=679 r=2.95 />
<circle class=O cx=200 cy=600 r=2.95 />
<circle class=L cx=201 cy=679 r=2.95 />
<circle class=B cx=205 cy=567.5 r=2.95 />
<circle class=M cx=204.5 cy=696 r=2.95 />
<circle class=B cx=205 cy=598 r=2.95 />
<circle class=M cx=205.5 cy=623 r=2.95 />
<circle class=N cx=207 cy=675 r=2.95 />
<circle class=N cx=202.5 cy=601 r=2.95 />
<circle class=M cx=200.5 cy=683.5 r=2.95 />
<circle class=M cx=208 cy=620.5 r=2.95 />
<circle class=N cx=206 cy=636.5 r=2.95 />
<circle class=L cx=207.5 cy=610.5 r=2.95 />
<circle class=B cx=207.5 cy=715.5 r=2.95 />
<circle class=N cx=205 cy=724.5 r=2.95 />
<circle class=P cx=200 cy=738.5 r=2.95 />
<circle class=N cx=203.5 cy=620.5 r=2.95 />
<circle class=M cx=206 cy=614.5 r=2.95 />
<circle class=N cx=202 cy=661 r=2.95 />
<circle class=N cx=199 cy=662 r=2.95 />
<circle class=M cx=199.5 cy=727 r=2.95 />
<circle class=N cx=203.5 cy=607.5 r=2.95 />
<circle class=B cx=203 cy=731.5 r=2.95 />
<circle class=B cx=206 cy=643.5 r=2.95 />
<circle class=B cx=207.5 cy=620.5 r=2.95 />
<circle class=O cx=200.5 cy=735.5 r=2.95 />
<circle class=N cx=200 cy=667.5 r=2.95 />
<circle class=L cx=205.5 cy=619 r=2.95 />
<circle class=M cx=211.5 cy=621.5 r=2.95 />
<circle class=N cx=205 cy=699 r=2.95 />
<circle class=N cx=203 cy=590.5 r=2.95 />
<circle class=B cx=201.5 cy=600.5 r=2.95 />
<circle class=N cx=206 cy=660 r=2.95 />
<circle class=N cx=211 cy=590 r=2.95 />
<circle class=N cx=209.5 cy=656 r=2.95 />
<circle class=G cx=209.5 cy=571 r=2.95 />
<circle class=N cx=200.5 cy=677.5 r=2.95 />
<circle class=L cx=206 cy=624 r=2.95 />
<circle class=L cx=199.5 cy=732.5 r=2.95 />
<circle class=B cx=207.5 cy=592.5 r=2.95 />
<circle class=B cx=204 cy=567.5 r=2.95 />
<circle class=B cx=199 cy=765.5 r=2.95 />
<circle class=O cx=205 cy=753 r=2.95 />
<circle class=N cx=207 cy=778.5 r=2.95 />
<circle class=B cx=201.5 cy=744 r=2.95 />
<circle class=O cx=206.5 cy=773 r=2.95 />
<circle class=M cx=207 cy=785.5 r=2.95 />
<circle class=L cx=199.5 cy=761.5 r=2.95 />
<circle class=B cx=199.5 cy=777 r=2.95 />
<circle class=B cx=205.5 cy=747 r=2.95 />
<circle class=N cx=200 cy=791.5 r=2.95 />
<circle class=N cx=207.5 cy=769.5 r=2.95 />
<circle class=B cx=201 cy=775.5 r=2.95 />
<circle class=M cx=201 cy=764 r=2.95 />
<circle class=M cx=210 cy=741 r=2.95 />
<circle class=M cx=208 cy=791 r=2.95 />
<circle class=L cx=206 cy=785 r=2.95 />
<circle class=L cx=208.5 cy=742 r=2.95 />
<circle class=M cx=205 cy=785.5 r=2.95 />
<circle class=P cx=200.5 cy=763 r=2.95 />
<circle class=M cx=202 cy=790 r=2.95 />
<circle class=N cx=199.5 cy=775.5 r=2.95 />
<circle class=B cx=200 cy=788 r=2.95 />
<circle class=N cx=200 cy=764.5 r=2.95 />
<circle class=N cx=208 cy=764 r=2.95 />
<circle class=L cx=203.5 cy=767 r=2.95 />
<circle class=M cx=202.5 cy=768.5 r=2.95 />
<circle class=M cx=201.5 cy=752.5 r=2.95 />
<circle class=L cx=205.5 cy=765.5 r=2.95 />
<circle class=B cx=199.5 cy=762 r=2.95 />
<circle class=L cx=204 cy=791 r=2.95 />
<circle class=M cx=211 cy=753 r=2.95 />
<circle class=P cx=202 cy=771 r=2.95 />
<circle class=M cx=200.5 cy=780.5 r=2.95 />
<circle class=B cx=200 cy=790.5 r=2.95 />
<circle class=G cx=203.5 cy=796.5 r=2.95 />
<circle class=N cx=203.5 cy=766 r=2.95 />
<circle class=M cx=201.5 cy=777.5 r=2.95 />
<circle class=N cx=200.5 cy=772 r=2.95 />
<circle class=P cx=210.5 cy=764.5 r=2.95 />
<circle class=B cx=200 cy=745 r=2.95 />
<circle class=P cx=240 cy=599.5 r=2.95 />
<circle class=L cx=232.5 cy=638.5 r=2.95 />
<circle class=O cx=251.5 cy=671.5 r=2.95 />
<circle class=M cx=214.5 cy=620 r=2.95 />
<circle class=O cx=228 cy=669 r=2.95 />
<circle class=N cx=215.5 cy=663 r=2.95 />
<circle class=M cx=216 cy=656.5 r=2.95 />
<circle class=B cx=244 cy=642.5 r=2.95 />
<circle class=M cx=239 cy=645 r=2.95 />
<circle class=M cx=214.5 cy=611 r=2.95 />
<circle class=B cx=327 cy=640.5 r=2.95 />
<circle class=O cx=285.5 cy=620 r=2.95 />
<circle class=P cx=215.5 cy=640.5 r=2.95 />
<circle class=B cx=206 cy=597 r=2.95 />
<circle class=N cx=247.5 cy=580.5 r=2.95 />
<circle class=N cx=208.5 cy=691.5 r=2.95 />
<circle class=N cx=325.5 cy=666 r=2.95 />
<circle class=R cx=210.5 cy=628 r=2.95 />
<circle class=L cx=311.5 cy=637 r=2.95 />
<circle class=M cx=233 cy=647 r=2.95 />
<circle class=N cx=207 cy=621 r=2.95 />
<circle class=N cx=230.5 cy=663 r=2.95 />
<circle class=L cx=211.5 cy=624 r=2.95 />
<circle class=G cx=202.5 cy=654.5 r=2.95 />
<circle class=B cx=252.5 cy=627.5 r=2.95 />
<circle class=P cx=271.5 cy=585 r=2.95 />
<circle class=B cx=204.5 cy=587 r=2.95 />
<circle class=N cx=233 cy=583.5 r=2.95 />
<circle class=B cx=258.5 cy=640.5 r=2.95 />
<circle class=N cx=235 cy=645.5 r=2.95 />
<circle class=L cx=284 cy=614.5 r=2.95 />
<circle class=P cx=244 cy=630.5 r=2.95 />
<circle class=M cx=336 cy=589.5 r=2.95 />
<circle class=M cx=214.5 cy=657.5 r=2.95 />
<circle class=B cx=202.5 cy=661.5 r=2.95 />
<circle class=N cx=316.5 cy=627.5 r=2.95 />
<circle class=B cx=204.5 cy=623 r=2.95 />
<circle class=L cx=208 cy=605 r=2.95 />
<circle class=L cx=214.5 cy=649 r=2.95 />
<circle class=N cx=205 cy=683 r=2.95 />
<circle class=L cx=206 cy=620.5 r=2.95 />
<circle class=B cx=203.5 cy=638.5 r=2.95 />
<circle class=N cx=220.5 cy=663 r=2.95 />
<circle class=B cx=207 cy=621.5 r=2.95 />
<circle class=N cx=203.5 cy=642 r=2.95 />
<circle class=N cx=208 cy=619.5 r=2.95 />
<circle class=B cx=258.5 cy=603 r=2.95 />
<circle class=O cx=257 cy=622.5 r=2.95 />
<circle class=N cx=275.5 cy=600.5 r=2.95 />
<circle class=N cx=261 cy=640.5 r=2.95 />
<circle class=P cx=200 cy=663.5 r=2.95 />
<circle class=B cx=247 cy=597.5 r=2.95 />
<circle class=M cx=204 cy=718 r=2.95 />
<circle class=M cx=260 cy=649.5 r=2.95 />
<circle class=N cx=240.5 cy=676.5 r=2.95 />
<circle class=M cx=208.5 cy=620 r=2.95 />
<circle class=B cx=208 cy=681 r=2.95 />
<circle class=M cx=217 cy=652 r=2.95 />
<circle class=M cx=227.5 cy=623.5 r=2.95 />
<circle class=R cx=202.5 cy=632 r=2.95 />
<circle class=N cx=209 cy=614.5 r=2.95 />
<circle class=M cx=224.5 cy=656.5 r=2.95 />
<circle class=R cx=228 cy=694.5 r=2.95 />
<circle class=M cx=207.5 cy=598 r=2.95 />
<circle class=L cx=271.5 cy=634 r=2.95 />
<circle class=M cx=226.5 cy=632.5 r=2.95 />
<circle class=R cx=254 cy=672 r=2.95 />
<circle class=P cx=292 cy=636.5 r=2.95 />
<circle class=B cx=215 cy=599 r=2.95 />
<circle class=P cx=243.5 cy=586.5 r=2.95 />
<circle class=M cx=224.5 cy=610 r=2.95 />
<circle class=L cx=220 cy=652 r=2.95 />
<circle class=R cx=220.5 cy=629.5 r=2.95 />
<circle class=B cx=218 cy=640.5 r=2.95 />
<circle class=B cx=317.5 cy=639 r=2.95 />
<circle class=N cx=225.5 cy=616.5 r=2.95 />
<circle class=L cx=235.5 cy=625.5 r=2.95 />
<circle class=B cx=205 cy=670.5 r=2.95 />
<circle class=B cx=285 cy=605.5 r=2.95 />
<circle class=M cx=258 cy=642.5 r=2.95 />
<circle class=N cx=228.5 cy=601.5 r=2.95 />
<circle class=B cx=242.5 cy=674.5 r=2.95 />
<circle class=O cx=228 cy=628 r=2.95 />
<circle class=N cx=248.5 cy=659.5 r=2.95 />
<circle class=O cx=241 cy=636.5 r=2.95 />
<circle class=R cx=227 cy=653 r=2.95 />
<circle class=M cx=292 cy=621 r=2.95 />
<circle class=L cx=230.5 cy=621.5 r=2.95 />
<circle class=M cx=255.5 cy=630.5 r=2.95 />
<circle class=M cx=220.5 cy=537.5 r=2.95 />
<circle class=L cx=213.5 cy=649 r=2.95 />
<circle class=M cx=212 cy=645 r=2.95 />
<circle class=P cx=236.5 cy=588.5 r=2.95 />
<circle class=N cx=221 cy=650 r=2.95 />
<circle class=M cx=209.5 cy=679.5 r=2.95 />
<circle class=R cx=224 cy=606.5 r=2.95 />
<circle class=P cx=243.5 cy=637 r=2.95 />
<circle class=B cx=203.5 cy=607 r=2.95 />
<circle class=P cx=233.5 cy=622.5 r=2.95 />
<circle class=N cx=219 cy=660 r=2.95 />
<circle class=N cx=203 cy=660.5 r=2.95 />
<circle class=M cx=226.5 cy=642 r=2.95 />
<circle class=N cx=333 cy=627.5 r=2.95 />
<circle class=R cx=238.5 cy=636 r=2.95 />
<circle class=B cx=296 cy=626.5 r=2.95 />
<circle class=O cx=209.5 cy=604.5 r=2.95 />
<circle class=P cx=290 cy=609 r=2.95 />
<circle class=R cx=336 cy=643 r=2.95 />
<circle class=N cx=206.5 cy=627.5 r=2.95 />
<circle class=B cx=229 cy=650 r=2.95 />
<circle class=N cx=205 cy=616.5 r=2.95 />
<circle class=M cx=306.5 cy=639.5 r=2.95 />
<circle class=L cx=255 cy=663.5 r=2.95 />
<circle class=M cx=315 cy=661.5 r=2.95 />
<circle class=B cx=238 cy=651 r=2.95 />
<circle class=M cx=238 cy=690 r=2.95 />
<circle class=R cx=216 cy=664.5 r=2.95 />
<circle class=B cx=224.5 cy=660 r=2.95 />
<circle class=M cx=230 cy=628 r=2.95 />
<circle class=N cx=220.5 cy=647 r=2.95 />
<circle class=M cx=244 cy=628 r=2.95 />
<circle class=M cx=322 cy=649.5 r=2.95 />
<circle class=N cx=219.5 cy=669 r=2.95 />
<circle class=N cx=203.5 cy=655 r=2.95 />
<circle class=M cx=210 cy=642.5 r=2.95 />
<circle class=B cx=210 cy=633 r=2.95 />
<circle class=O cx=210.5 cy=669.5 r=2.95 />
<circle class=M cx=213.5 cy=709 r=2.95 />
<circle class=M cx=217.5 cy=612 r=2.95 />
<circle class=B cx=291 cy=646.5 r=2.95 />
<circle class=L cx=211.5 cy=623 r=2.95 />
<circle class=P cx=200.5 cy=649 r=2.95 />
<circle class=N cx=207.5 cy=667 r=2.95 />
<circle class=O cx=293.5 cy=647.5 r=2.95 />
<circle class=R cx=232 cy=681.5 r=2.95 />
<circle class=M cx=205 cy=616 r=2.95 />
<circle class=N cx=239 cy=650.5 r=2.95 />
<circle class=O cx=209 cy=668.5 r=2.95 />
<circle class=P cx=248 cy=607.5 r=2.95 />
<circle class=M cx=227 cy=651.5 r=2.95 />
<circle class=M cx=216 cy=682 r=2.95 />
<circle class=M cx=201.5 cy=590.5 r=2.95 />
<circle class=L cx=206 cy=686.5 r=2.95 />
<circle class=B cx=216 cy=673 r=2.95 />
<circle class=B cx=202.5 cy=654.5 r=2.95 />
<circle class=B cx=219 cy=616.5 r=2.95 />
<circle class=N cx=278.5 cy=671 r=2.95 />
<circle class=N cx=300.5 cy=646 r=2.95 />
<circle class=B cx=252.5 cy=612 r=2.95 />
<circle class=N cx=218.5 cy=671.5 r=2.95 />
<circle class=N cx=262.5 cy=650 r=2.95 />
<circle class=M cx=215 cy=617 r=2.95 />
<circle class=B cx=240.5 cy=644 r=2.95 />
<circle class=P cx=233 cy=657.5 r=2.95 />
<circle class=L cx=203.5 cy=631 r=2.95 />
<circle class=B cx=238 cy=599 r=2.95 />
<circle class=R cx=306 cy=637 r=2.95 />
<circle class=R cx=245 cy=622.5 r=2.95 />
<circle class=L cx=209.5 cy=637.5 r=2.95 />
<circle class=N cx=295 cy=655.5 r=2.95 />
<circle class=R cx=294 cy=655 r=2.95 />
<circle class=N cx=271.5 cy=634 r=2.95 />
<circle class=R cx=260.5 cy=678.5 r=2.95 />
<circle class=B cx=247.5 cy=579 r=2.95 />
<circle class=G cx=202.5 cy=611 r=2.95 />
<circle class=N cx=296.5 cy=655 r=2.95 />
<circle class=B cx=246.5 cy=619.5 r=2.95 />
<circle class=M cx=255 cy=633.5 r=2.95 />
<circle class=N cx=214.5 cy=571.5 r=2.95 />
<circle class=N cx=240 cy=608.5 r=2.95 />
<circle class=N cx=202.5 cy=670 r=2.95 />
<circle class=N cx=222 cy=620.5 r=2.95 />
<circle class=N cx=269.5 cy=648.5 r=2.95 />
<circle class=M cx=291 cy=637 r=2.95 />
<circle class=M cx=209.5 cy=607 r=2.95 />
<circle class=P cx=266.5 cy=620 r=2.95 />
<circle class=B cx=243 cy=658 r=2.95 />
<circle class=M cx=219 cy=654 r=2.95 />
<circle class=B cx=221 cy=661.5 r=2.95 />
<circle class=N cx=215 cy=593.5 r=2.95 />
<circle class=N cx=291.5 cy=644 r=2.95 />
<circle class=N cx=252 cy=603 r=2.95 />
<circle class=P cx=257 cy=633 r=2.95 />
<circle class=R cx=284.5 cy=638.5 r=2.95 />
<circle class=O cx=240 cy=615 r=2.95 />
<circle class=N cx=212.5 cy=673 r=2.95 />
<circle class=P cx=263 cy=637.5 r=2.95 />
<circle class=G cx=305.5 cy=655.5 r=2.95 />
<circle class=M cx=244.5 cy=630 r=2.95 />
<circle class=P cx=275.5 cy=645.5 r=2.95 />
<circle class=R cx=289 cy=675.5 r=2.95 />
<circle class=B cx=308 cy=656.5 r=2.95 />
<circle class=B cx=273.5 cy=656 r=2.95 />
<circle class=O cx=288.5 cy=617 r=2.95 />
<circle class=B cx=246.5 cy=687 r=2.95 />
<circle class=B cx=252 cy=633 r=2.95 />
<circle class=M cx=226.5 cy=589 r=2.95 />
<circle class=M cx=215.5 cy=626.5 r=2.95 />
<circle class=N cx=277.5 cy=601.5 r=2.95 />
<circle class=N cx=291 cy=648.5 r=2.95 />
<circle class=L cx=256.5 cy=675 r=2.95 />
<circle class=N cx=274 cy=623.5 r=2.95 />
<circle class=O cx=264 cy=649 r=2.95 />
<circle class=B cx=217 cy=586.5 r=2.95 />
<circle class=N cx=229 cy=640 r=2.95 />
<circle class=N cx=201.5 cy=637 r=2.95 />
<circle class=M cx=206 cy=662.5 r=2.95 />
<circle class=N cx=230.5 cy=645.5 r=2.95 />
<circle class=M cx=201.5 cy=680.5 r=2.95 />
<circle class=B cx=296.5 cy=675 r=2.95 />
<circle class=B cx=247.5 cy=670 r=2.95 />
<circle class=B cx=215.5 cy=624 r=2.95 />
<circle class=L cx=312 cy=653 r=2.95 />
<circle class=N cx=209 cy=675 r=2.95 />
<circle class=R cx=241 cy=635 r=2.95 />
<circle class=N cx=204 cy=670.5 r=2.95 />
<circle class=B cx=244 cy=617 r=2.95 />
<circle class=M cx=257.5 cy=625 r=2.95 />
<circle class=L cx=320 cy=676.5 r=2.95 />
<circle class=M cx=271 cy=649.5 r=2.95 />
<circle class=N cx=264.5 cy=635 r=2.95 />
<circle class=N cx=285.5 cy=648.5 r=2.95 />
<circle class=B cx=204.5 cy=665.5 r=2.95 />
<circle class=L cx=309 cy=596.5 r=2.95 />
<circle class=M cx=279.5 cy=652.5 r=2.95 />
<circle class=M cx=222 cy=604.5 r=2.95 />
<circle class=B cx=242.5 cy=588 r=2.95 />
<circle class=N cx=279 cy=667 r=2.95 />
<circle class=B cx=226 cy=669 r=2.95 />
<circle class=O cx=226 cy=602 r=2.95 />
<circle class=O cx=277 cy=654 r=2.95 />
<circle class=O cx=208 cy=648 r=2.95 />
<circle class=B cx=239.5 cy=573.5 r=2.95 />
<circle class=B cx=268.5 cy=626.5 r=2.95 />
<circle class=L cx=253 cy=592 r=2.95 />
<circle class=M cx=286.5 cy=604 r=2.95 />
<circle class=N cx=279 cy=635.5 r=2.95 />
<circle class=L cx=231 cy=592 r=2.95 />
<circle class=M cx=207 cy=738 r=2.95 />
<circle class=B cx=255.5 cy=621.5 r=2.95 />
<circle class=B cx=231.5 cy=669 r=2.95 />
<circle class=M cx=233.5 cy=671 r=2.95 />
<circle class=L cx=201.5 cy=622 r=2.95 />
<circle class=B cx=298 cy=645 r=2.95 />
<circle class=B cx=279 cy=650 r=2.95 />
<circle class=M cx=252.5 cy=621 r=2.95 />
<circle class=N cx=226.5 cy=652.5 r=2.95 />
<circle class=N cx=239.5 cy=666.5 r=2.95 />
<circle class=L cx=257 cy=606 r=2.95 />
<circle class=L cx=257 cy=617.5 r=2.95 />
<circle class=B cx=212.5 cy=637 r=2.95 />
<circle class=L cx=239 cy=622.5 r=2.95 />
<circle class=O cx=219.5 cy=623 r=2.95 />
<circle class=B cx=230 cy=673.5 r=2.95 />
<circle class=M cx=237 cy=681 r=2.95 />
<circle class=M cx=208 cy=645 r=2.95 />
<circle class=G cx=207.5 cy=642 r=2.95 />
<circle class=O cx=257.5 cy=630 r=2.95 />
<circle class=O cx=216.5 cy=659.5 r=2.95 />
<circle class=R cx=275 cy=648.5 r=2.95 />
<circle class=N cx=208 cy=640 r=2.95 />
<circle class=R cx=286.5 cy=642 r=2.95 />
<circle class=N cx=236 cy=596.5 r=2.95 />
<circle class=B cx=271.5 cy=635 r=2.95 />
<circle class=M cx=211.5 cy=630 r=2.95 />
<circle class=L cx=260 cy=659 r=2.95 />
<circle class=M cx=232 cy=674 r=2.95 />
<circle class=L cx=223.5 cy=654 r=2.95 />
<circle class=N cx=216 cy=688.5 r=2.95 />
<circle class=R cx=209.5 cy=627.5 r=2.95 />
<circle class=M cx=219 cy=662 r=2.95 />
<circle class=N cx=301 cy=619 r=2.95 />
<circle class=B cx=212.5 cy=676.5 r=2.95 />
<circle class=M cx=203 cy=595 r=2.95 />
<circle class=N cx=281.5 cy=670.5 r=2.95 />
<circle class=B cx=289.5 cy=644.5 r=2.95 />
<circle class=B cx=230.5 cy=583.5 r=2.95 />
<circle class=M cx=332 cy=634.5 r=2.95 />
<circle class=L cx=204.5 cy=665.5 r=2.95 />
<circle class=N cx=241.5 cy=627.5 r=2.95 />
<circle class=O cx=234 cy=635 r=2.95 />
<circle class=R cx=326 cy=650 r=2.95 />
<circle class=M cx=244.5 cy=581 r=2.95 />
<circle class=L cx=201 cy=623 r=2.95 />
<circle class=N cx=236 cy=638 r=2.95 />
<circle class=L cx=295 cy=645.5 r=2.95 />
<circle class=M cx=221 cy=606.5 r=2.95 />
<circle class=M cx=229.5 cy=658.5 r=2.95 />
<circle class=N cx=208 cy=573.5 r=2.95 />
<circle class=L cx=292.5 cy=671 r=2.95 />
<circle class=B cx=202.5 cy=647 r=2.95 />
<circle class=M cx=273.5 cy=680.5 r=2.95 />
<circle class=B cx=226 cy=630 r=2.95 />
<circle class=B cx=305.5 cy=656.5 r=2.95 />
<circle class=O cx=261 cy=628 r=2.95 />
<circle class=R cx=213 cy=673.5 r=2.95 />
<circle class=M cx=321 cy=664.5 r=2.95 />
<circle class=M cx=283.5 cy=628.5 r=2.95 />
<circle class=B cx=334 cy=650 r=2.95 />
<circle class=B cx=217.5 cy=660.5 r=2.95 />
<circle class=M cx=218 cy=620 r=2.95 />
<circle class=L cx=215.5 cy=634 r=2.95 />
<circle class=B cx=210 cy=655.5 r=2.95 />
<circle class=M cx=241 cy=616.5 r=2.95 />
<circle class=R cx=205.5 cy=626.5 r=2.95 />
<circle class=G cx=206 cy=631 r=2.95 />
<circle class=M cx=252 cy=587.5 r=2.95 />
<circle class=P cx=206 cy=644.5 r=2.95 />
<circle class=O cx=224 cy=604.5 r=2.95 />
<circle class=M cx=204.5 cy=664.5 r=2.95 />
<circle class=M cx=246 cy=591 r=2.95 />
<circle class=M cx=209.5 cy=678 r=2.95 />
<circle class=M cx=241.5 cy=660 r=2.95 />
<circle class=B cx=201.5 cy=623.5 r=2.95 />
<circle class=N cx=200 cy=650 r=2.95 />
<circle class=N cx=211 cy=654 r=2.95 />
<circle class=N cx=262.5 cy=598 r=2.95 />
<circle class=B cx=203 cy=671 r=2.95 />
<circle class=N cx=218 cy=637.5 r=2.95 />
<circle class=N cx=238 cy=622.5 r=2.95 />
<circle class=B cx=208 cy=628.5 r=2.95 />
<circle class=M cx=224.5 cy=666.5 r=2.95 />
<circle class=L cx=221 cy=654 r=2.95 />
<circle class=G cx=210.5 cy=617 r=2.95 />
<circle class=N cx=239 cy=653.5 r=2.95 />
<circle class=N cx=243 cy=623 r=2.95 />
<circle class=B cx=281.5 cy=638 r=2.95 />
<circle class=B cx=219.5 cy=623 r=2.95 />
<circle class=O cx=220 cy=628.5 r=2.95 />
<circle class=M cx=250 cy=666 r=2.95 />
<circle class=B cx=206 cy=643 r=2.95 />
<circle class=B cx=240 cy=622.5 r=2.95 />
<circle class=L cx=227 cy=581 r=2.95 />
<circle class=M cx=211.5 cy=596.5 r=2.95 />
<circle class=R cx=283.5 cy=639.5 r=2.95 />
<circle class=G cx=206 cy=601.5 r=2.95 />
<circle class=M cx=205 cy=658.5 r=2.95 />
<circle class=B cx=223.5 cy=640 r=2.95 />
<circle class=N cx=200.5 cy=667 r=2.95 />
<circle class=N cx=207.5 cy=676 r=2.95 />
<circle class=P cx=239.5 cy=659 r=2.95 />
<circle class=M cx=249.5 cy=654 r=2.95 />
<circle class=L cx=203 cy=569 r=2.95 />
<circle class=O cx=210.5 cy=682 r=2.95 />
<circle class=O cx=201.5 cy=649 r=2.95 />
<circle class=B cx=259.5 cy=672.5 r=2.95 />
<circle class=P cx=227.5 cy=647 r=2.95 />
<circle class=M cx=216 cy=589.5 r=2.95 />
<circle class=N cx=227 cy=641 r=2.95 />
<circle class=M cx=229 cy=643 r=2.95 />
<circle class=B cx=280.5 cy=662 r=2.95 />
<circle class=B cx=210 cy=594 r=2.95 />
<circle class=N cx=215.5 cy=670 r=2.95 />
<circle class=M cx=206 cy=612.5 r=2.95 />
<circle class=L cx=235 cy=601 r=2.95 />
<circle class=M cx=219.5 cy=655.5 r=2.95 />
<circle class=M cx=210 cy=643.5 r=2.95 />
<circle class=R cx=204 cy=637 r=2.95 />
<circle class=L cx=206.5 cy=635 r=2.95 />
<circle class=N cx=246 cy=642.5 r=2.95 />
<circle class=O cx=305 cy=606.5 r=2.95 />
<circle class=P cx=213.5 cy=652.5 r=2.95 />
<circle class=N cx=207 cy=681 r=2.95 />
<circle class=B cx=314.5 cy=619.5 r=2.95 />
<circle class=P cx=281.5 cy=615.5 r=2.95 />
<circle class=P cx=202.5 cy=541 r=2.95 />
<circle class=M cx=235.5 cy=628.5 r=2.95 />
<circle class=B cx=223 cy=603 r=2.95 />
<circle class=L cx=206 cy=702.5 r=2.95 />
<circle class=B cx=211 cy=679.5 r=2.95 />
<circle class=M cx=307.5 cy=638.5 r=2.95 />
<circle class=P cx=201 cy=582 r=2.95 />
<circle class=M cx=245.5 cy=630 r=2.95 />
<circle class=R cx=211 cy=642.5 r=2.95 />
<circle class=N cx=214.5 cy=597.5 r=2.95 />
<circle class=B cx=243 cy=646 r=2.95 />
<circle class=R cx=206.5 cy=655 r=2.95 />
<circle class=N cx=218.5 cy=665.5 r=2.95 />
<circle class=N cx=210.5 cy=607.5 r=2.95 />
<circle class=O cx=236 cy=691.5 r=2.95 />
<circle class=O cx=254 cy=585 r=2.95 />
<circle class=L cx=223.5 cy=658.5 r=2.95 />
<circle class=N cx=206 cy=651.5 r=2.95 />
<circle class=O cx=298 cy=605 r=2.95 />
<circle class=L cx=264.5 cy=624.5 r=2.95 />
<circle class=N cx=212 cy=590 r=2.95 />
<circle class=O cx=207 cy=655 r=2.95 />
<circle class=N cx=250.5 cy=655.5 r=2.95 />
<circle class=N cx=299 cy=620 r=2.95 />
<circle class=P cx=255 cy=584.5 r=2.95 />
<circle class=P cx=257 cy=649.5 r=2.95 />
<circle class=M cx=215 cy=615 r=2.95 />
<circle class=M cx=206 cy=687 r=2.95 />
<circle class=M cx=303.5 cy=605.5 r=2.95 />
<circle class=R cx=316 cy=667 r=2.95 />
<circle class=N cx=316.5 cy=639.5 r=2.95 />
<circle class=N cx=303.5 cy=633.5 r=2.95 />
<circle class=P cx=212.5 cy=604.5 r=2.95 />
<circle class=O cx=212 cy=634.5 r=2.95 />
<circle class=B cx=254 cy=629.5 r=2.95 />
<circle class=M cx=318.5 cy=631.5 r=2.95 />
<circle class=N cx=276 cy=633 r=2.95 />
<circle class=N cx=233.5 cy=642 r=2.95 />
<circle class=L cx=211.5 cy=624.5 r=2.95 />
<circle class=M cx=213 cy=627.5 r=2.95 />
<circle class=M cx=267.5 cy=662 r=2.95 />
<circle class=R cx=326 cy=658.5 r=2.95 />
<circle class=L cx=241 cy=689.5 r=2.95 />
<circle class=M cx=284 cy=610 r=2.95 />
<circle class=N cx=220 cy=624 r=2.95 />
<circle class=N cx=213.5 cy=615.5 r=2.95 />
<circle class=B cx=290 cy=634 r=2.95 />
<circle class=B cx=260.5 cy=649 r=2.95 />
<circle class=B cx=224.5 cy=552 r=2.95 />
<circle class=M cx=236.5 cy=641 r=2.95 />
<circle class=N cx=273.5 cy=623 r=2.95 />
<circle class=B cx=200.5 cy=663.5 r=2.95 />
<circle class=O cx=217.5 cy=615.5 r=2.95 />
<circle class=N cx=266 cy=642 r=2.95 />
<circle class=L cx=218.5 cy=671.5 r=2.95 />
<circle class=N cx=237 cy=591.5 r=2.95 />
<circle class=P cx=213 cy=599 r=2.95 />
<circle class=M cx=209 cy=618 r=2.95 />
<circle class=L cx=213 cy=664 r=2.95 />
<circle class=O cx=208 cy=602 r=2.95 />
<circle class=R cx=267 cy=646 r=2.95 />
<circle class=M cx=299.5 cy=629 r=2.95 />
<circle class=N cx=209 cy=661 r=2.95 />
<circle class=N cx=212.5 cy=683 r=2.95 />
<circle class=B cx=208 cy=631 r=2.95 />
<circle class=N cx=248 cy=646.5 r=2.95 />
<circle class=P cx=220.5 cy=673 r=2.95 />
<circle class=P cx=250.5 cy=657 r=2.95 />
<circle class=N cx=220.5 cy=675 r=2.95 />
<circle class=B cx=330.5 cy=656 r=2.95 />
<circle class=B cx=216 cy=679.5 r=2.95 />
<circle class=N cx=206.5 cy=620 r=2.95 />
<circle class=M cx=252 cy=655 r=2.95 />
<circle class=N cx=307.5 cy=689 r=2.95 />
<circle class=L cx=206 cy=648.5 r=2.95 />
<circle class=O cx=306.5 cy=661 r=2.95 />
<circle class=N cx=201.5 cy=660.5 r=2.95 />
<circle class=L cx=216.5 cy=633 r=2.95 />
<circle class=L cx=268 cy=645.5 r=2.95 />
<circle class=B cx=206 cy=676 r=2.95 />
<circle class=N cx=287 cy=648.5 r=2.95 />
<circle class=L cx=213.5 cy=632 r=2.95 />
<circle class=P cx=206 cy=593 r=2.95 />
<circle class=N cx=314 cy=655 r=2.95 />
<circle class=L cx=234.5 cy=651 r=2.95 />
<circle class=M cx=204 cy=659 r=2.95 />
<circle class=M cx=223.5 cy=625.5 r=2.95 />
<circle class=N cx=200.5 cy=564 r=2.95 />
<circle class=B cx=214.5 cy=683.5 r=2.95 />
<circle class=M cx=249.5 cy=656 r=2.95 />
<circle class=B cx=225 cy=666.5 r=2.95 />
<circle class=M cx=201.5 cy=656 r=2.95 />
<circle class=M cx=252.5 cy=608.5 r=2.95 />
<circle class=M cx=207 cy=657 r=2.95 />
<circle class=B cx=219 cy=635 r=2.95 />
<circle class=M cx=241 cy=659.5 r=2.95 />
<circle class=P cx=293 cy=653 r=2.95 />
<circle class=R cx=228.5 cy=593 r=2.95 />
<circle class=N cx=238.5 cy=605 r=2.95 />
<circle class=B cx=223 cy=616 r=2.95 />
<circle class=R cx=219 cy=649.5 r=2.95 />
<circle class=B cx=243.5 cy=629.5 r=2.95 />
<circle class=R cx=231 cy=632.5 r=2.95 />
<circle class=O cx=233.5 cy=625 r=2.95 />
<circle class=P cx=295.5 cy=657 r=2.95 />
<circle class=B cx=222.5 cy=611.5 r=2.95 />
<circle class=L cx=230 cy=649 r=2.95 />
<circle class=B cx=204 cy=650 r=2.95 />
<circle class=M cx=254 cy=626.5 r=2.95 />
<circle class=B cx=251.5 cy=606 r=2.95 />
<circle class=B cx=208 cy=670.5 r=2.95 />
<circle class=M cx=210 cy=644 r=2.95 />
<circle class=M cx=255 cy=607.5 r=2.95 />
<circle class=B cx=210.5 cy=621.5 r=2.95 />
<circle class=B cx=211 cy=613 r=2.95 />
<circle class=L cx=208.5 cy=602 r=2.95 />
<circle class=M cx=334 cy=666 r=2.95 />
<circle class=M cx=217 cy=640.5 r=2.95 />
<circle class=L cx=242.5 cy=648 r=2.95 />
<circle class=R cx=232 cy=614.5 r=2.95 />
<circle class=P cx=287.5 cy=596.5 r=2.95 />
<circle class=M cx=205.5 cy=619.5 r=2.95 />
<circle class=G cx=207.5 cy=666 r=2.95 />
<circle class=N cx=212 cy=650 r=2.95 />
<circle class=B cx=206.5 cy=654 r=2.95 />
<circle class=L cx=235.5 cy=591 r=2.95 />
<circle class=B cx=211.5 cy=623.5 r=2.95 />
<circle class=R cx=212.5 cy=608.5 r=2.95 />
<circle class=B cx=229 cy=615.5 r=2.95 />
<circle class=B cx=253 cy=609 r=2.95 />
<circle class=N cx=204 cy=608.5 r=2.95 />
<circle class=N cx=201 cy=647.5 r=2.95 />
<circle class=N cx=286 cy=608 r=2.95 />
<circle class=N cx=212.5 cy=681 r=2.95 />
<circle class=B cx=263.5 cy=642 r=2.95 />
<circle class=O cx=224 cy=617 r=2.95 />
<circle class=B cx=276 cy=658.5 r=2.95 />
<circle class=N cx=222.5 cy=642.5 r=2.95 />
<circle class=R cx=256 cy=620 r=2.95 />
<circle class=N cx=214.5 cy=608.5 r=2.95 />
<circle class=M cx=236.5 cy=657.5 r=2.95 />
<circle class=M cx=245.5 cy=601 r=2.95 />
<circle class=P cx=269.5 cy=645 r=2.95 />
<circle class=B cx=242.5 cy=598 r=2.95 />
<circle class=N cx=202.5 cy=684.5 r=2.95 />
<circle class=B cx=263 cy=662 r=2.95 />
<circle class=N cx=203 cy=635 r=2.95 />
<circle class=P cx=221 cy=604.5 r=2.95 />
<circle class=P cx=216.5 cy=645 r=2.95 />
<circle class=M cx=216 cy=601 r=2.95 />
<circle class=N cx=230 cy=601.5 r=2.95 />
<circle class=B cx=231 cy=658 r=2.95 />
<circle class=M cx=247.5 cy=616 r=2.95 />
<circle class=O cx=202 cy=579 r=2.95 />
<circle class=M cx=258 cy=638.5 r=2.95 />
<circle class=M cx=207 cy=597.5 r=2.95 />
<circle class=L cx=221 cy=662 r=2.95 />
<circle class=B cx=207 cy=658.5 r=2.95 />
<circle class=N cx=222 cy=684 r=2.95 />
<circle class=L cx=284 cy=608.5 r=2.95 />
<circle class=M cx=219.5 cy=669 r=2.95 />
<circle class=N cx=326.5 cy=607 r=2.95 />
<circle class=R cx=320 cy=654.5 r=2.95 />
<circle class=M cx=211 cy=628.5 r=2.95 />
<circle class=M cx=267.5 cy=651 r=2.95 />
<circle class=L cx=220.5 cy=662 r=2.95 />
<circle class=N cx=270.5 cy=655.5 r=2.95 />
<circle class=M cx=267.5 cy=691.5 r=2.95 />
<circle class=B cx=229 cy=619.5 r=2.95 />
<circle class=L cx=238 cy=615 r=2.95 />
<circle class=B cx=205.5 cy=646 r=2.95 />
<circle class=N cx=313.5 cy=606 r=2.95 />
<circle class=B cx=229.5 cy=644.5 r=2.95 />
<circle class=R cx=277.5 cy=601 r=2.95 />
<circle class=R cx=200 cy=628.5 r=2.95 />
<circle class=L cx=229 cy=595.5 r=2.95 />
<circle class=M cx=232.5 cy=643 r=2.95 />
<circle class=B cx=228.5 cy=653 r=2.95 />
<circle class=B cx=204.5 cy=616 r=2.95 />
<circle class=N cx=289.5 cy=665 r=2.95 />
<circle class=N cx=289 cy=645 r=2.95 />
<circle class=B cx=239.5 cy=671 r=2.95 />
<circle class=G cx=203.5 cy=677 r=2.95 />
<circle class=B cx=200 cy=647 r=2.95 />
<circle class=O cx=212 cy=674.5 r=2.95 />
<circle class=P cx=320.5 cy=631 r=2.95 />
<circle class=B cx=250.5 cy=639.5 r=2.95 />
<circle class=O cx=286.5 cy=615.5 r=2.95 />
<circle class=M cx=201 cy=674.5 r=2.95 />
<circle class=M cx=322 cy=651.5 r=2.95 />
<circle class=M cx=249 cy=614 r=2.95 />
<circle class=L cx=203 cy=609.5 r=2.95 />
<circle class=L cx=203.5 cy=587.5 r=2.95 />
<circle class=B cx=210 cy=608.5 r=2.95 />
<circle class=N cx=236.5 cy=635 r=2.95 />
<circle class=O cx=229 cy=608.5 r=2.95 />
<circle class=L cx=248.5 cy=632.5 r=2.95 />
<circle class=M cx=260 cy=670.5 r=2.95 />
<circle class=N cx=218 cy=612.5 r=2.95 />
<circle class=N cx=230.5 cy=685.5 r=2.95 />
<circle class=B cx=214 cy=712 r=2.95 />
<circle class=P cx=233 cy=681 r=2.95 />
<circle class=B cx=206 cy=583 r=2.95 />
<circle class=L cx=324.5 cy=606 r=2.95 />
<circle class=M cx=205.5 cy=682.5 r=2.95 />
<circle class=B cx=332 cy=649.5 r=2.95 />
<circle class=N cx=221.5 cy=618.5 r=2.95 />
<circle class=M cx=209.5 cy=641.5 r=2.95 />
<circle class=L cx=216 cy=645 r=2.95 />
<circle class=B cx=211 cy=621.5 r=2.95 />
<circle class=B cx=243 cy=630 r=2.95 />
<circle class=N cx=230.5 cy=634 r=2.95 />
<circle class=L cx=202 cy=686.5 r=2.95 />
<circle class=L cx=248.5 cy=641.5 r=2.95 />
<circle class=G cx=320.5 cy=607.5 r=2.95 />
<circle class=O cx=220 cy=591.5 r=2.95 />
<circle class=M cx=229 cy=638 r=2.95 />
<circle class=O cx=251 cy=663 r=2.95 />
<circle class=N cx=241 cy=649 r=2.95 />
<circle class=M cx=321 cy=634 r=2.95 />
<circle class=M cx=252 cy=653.5 r=2.95 />
<circle class=O cx=286.5 cy=634 r=2.95 />
<circle class=M cx=261 cy=582.5 r=2.95 />
<circle class=N cx=218 cy=656.5 r=2.95 />
<circle class=B cx=216.5 cy=660 r=2.95 />
<circle class=B cx=272.5 cy=690.5 r=2.95 />
<circle class=R cx=206.5 cy=598 r=2.95 />
<circle class=G cx=225 cy=679.5 r=2.95 />
<circle class=B cx=209 cy=618 r=2.95 />
<circle class=G cx=320 cy=658.5 r=2.95 />
<circle class=M cx=279.5 cy=670.5 r=2.95 />
<circle class=G cx=279 cy=593.5 r=2.95 />
<circle class=G cx=323.5 cy=637 r=2.95 />
<circle class=R cx=285 cy=654.5 r=2.95 />
<circle class=B cx=290 cy=672.5 r=2.95 />
<circle class=N cx=230.5 cy=621 r=2.95 />
<circle class=M cx=202 cy=628 r=2.95 />
<circle class=N cx=206.5 cy=652 r=2.95 />
<circle class=M cx=249 cy=621.5 r=2.95 />
<circle class=M cx=230.5 cy=686 r=2.95 />
<circle class=O cx=210.5 cy=593.5 r=2.95 />
<circle class=B cx=214.5 cy=696 r=2.95 />
<circle class=N cx=245 cy=623 r=2.95 />
<circle class=N cx=268.5 cy=646 r=2.95 />
<circle class=M cx=266.5 cy=642 r=2.95 />
<circle class=B cx=214 cy=663.5 r=2.95 />
<circle class=N cx=278.5 cy=655.5 r=2.95 />
<circle class=R cx=259 cy=626 r=2.95 />
<circle class=M cx=322.5 cy=614 r=2.95 />
<circle class=L cx=298 cy=658 r=2.95 />
<circle class=N cx=250 cy=665.5 r=2.95 />
<circle class=N cx=216 cy=637.5 r=2.95 />
<circle class=M cx=251.5 cy=637 r=2.95 />
<circle class=M cx=287 cy=633 r=2.95 />
<circle class=B cx=207.5 cy=643 r=2.95 />
<circle class=G cx=328 cy=635.5 r=2.95 />
<circle class=O cx=220 cy=660.5 r=2.95 />
<circle class=N cx=244 cy=670 r=2.95 />
<circle class=L cx=204.5 cy=653 r=2.95 />
<circle class=L cx=207.5 cy=623.5 r=2.95 />
<circle class=B cx=251.5 cy=644.5 r=2.95 />
<circle class=L cx=229 cy=595.5 r=2.95 />
<circle class=N cx=314 cy=631 r=2.95 />
<circle class=O cx=232.5 cy=615.5 r=2.95 />
<circle class=M cx=210.5 cy=612 r=2.95 />
<circle class=R cx=242.5 cy=639.5 r=2.95 />
<circle class=N cx=213 cy=656 r=2.95 />
<circle class=O cx=213.5 cy=636 r=2.95 />
<circle class=L cx=219 cy=654.5 r=2.95 />
<circle class=L cx=236 cy=600.5 r=2.95 />
<circle class=N cx=232 cy=616 r=2.95 />
<circle class=L cx=210 cy=627.5 r=2.95 />
<circle class=M cx=215.5 cy=636.5 r=2.95 />
<circle class=M cx=251.5 cy=680.5 r=2.95 />
<circle class=M cx=215.5 cy=586.5 r=2.95 />
<circle class=L cx=286.5 cy=662 r=2.95 />
<circle class=B cx=202 cy=607.5 r=2.95 />
<circle class=B cx=208 cy=625 r=2.95 />
<circle class=N cx=223 cy=684.5 r=2.95 />
<circle class=R cx=203.5 cy=639.5 r=2.95 />
<circle class=N cx=293.5 cy=623 r=2.95 />
<circle class=N cx=206 cy=641.5 r=2.95 />
<circle class=N cx=262 cy=631.5 r=2.95 />
<circle class=N cx=205.5 cy=626 r=2.95 />
<circle class=P cx=326 cy=639.5 r=2.95 />
<circle class=L cx=218 cy=606 r=2.95 />
<circle class=N cx=259 cy=668.5 r=2.95 />
<circle class=P cx=232 cy=655.5 r=2.95 />
<circle class=B cx=281.5 cy=573.5 r=2.95 />
<circle class=R cx=219.5 cy=656.5 r=2.95 />
<circle class=B cx=218.5 cy=630.5 r=2.95 />
<circle class=N cx=216 cy=623.5 r=2.95 />
<circle class=L cx=207.5 cy=577.5 r=2.95 />
<circle class=G cx=228 cy=680 r=2.95 />
<circle class=B cx=240 cy=659.5 r=2.95 />
<circle class=B cx=308 cy=623 r=2.95 />
<circle class=N cx=204 cy=651.5 r=2.95 />
<circle class=N cx=212 cy=646.5 r=2.95 />
<circle class=L cx=237.5 cy=587.5 r=2.95 />
<circle class=B cx=229 cy=666 r=2.95 />
<circle class=B cx=221.5 cy=653.5 r=2.95 />
<circle class=B cx=233.5 cy=645.5 r=2.95 />
<circle class=P cx=231 cy=651 r=2.95 />
<circle class=L cx=213.5 cy=584.5 r=2.95 />
<circle class=B cx=208.5 cy=657.5 r=2.95 />
<circle class=B cx=289 cy=664.5 r=2.95 />
<circle class=N cx=249.5 cy=642.5 r=2.95 />
<circle class=M cx=207 cy=632 r=2.95 />
<circle class=B cx=239 cy=601.5 r=2.95 />
<circle class=L cx=232.5 cy=635 r=2.95 />
<circle class=O cx=249 cy=660 r=2.95 />
<circle class=O cx=244 cy=615.5 r=2.95 />
<circle class=M cx=221.5 cy=625.5 r=2.95 />
<circle class=P cx=277.5 cy=670.5 r=2.95 />
<circle class=L cx=231.5 cy=641 r=2.95 />
<circle class=M cx=232.5 cy=666.5 r=2.95 />
<circle class=B cx=243 cy=644.5 r=2.95 />
<circle class=L cx=200 cy=643.5 r=2.95 />
<circle class=M cx=221 cy=667 r=2.95 />
<circle class=B cx=208 cy=680.5 r=2.95 />
<circle class=N cx=224 cy=628.5 r=2.95 />
<circle class=N cx=245 cy=622.5 r=2.95 />
<circle class=N cx=225.5 cy=644.5 r=2.95 />
<circle class=B cx=211 cy=585.5 r=2.95 />
<circle class=M cx=204 cy=669.5 r=2.95 />
<circle class=B cx=336.5 cy=641 r=2.95 />
<circle class=P cx=215 cy=661.5 r=2.95 />
<circle class=P cx=253.5 cy=686 r=2.95 />
<circle class=B cx=211 cy=650.5 r=2.95 />
<circle class=M cx=236 cy=623 r=2.95 />
<circle class=B cx=249 cy=607 r=2.95 />
<circle class=N cx=261.5 cy=614.5 r=2.95 />
<circle class=P cx=311.5 cy=656.5 r=2.95 />
<circle class=N cx=202 cy=660.5 r=2.95 />
<circle class=P cx=207 cy=655.5 r=2.95 />
<circle class=L cx=258.5 cy=650 r=2.95 />
<circle class=M cx=215 cy=639.5 r=2.95 />
<circle class=B cx=215.5 cy=619 r=2.95 />
<circle class=L cx=210 cy=604 r=2.95 />
<circle class=L cx=202 cy=613.5 r=2.95 />
<circle class=N cx=202 cy=644 r=2.95 />
<circle class=B cx=207 cy=627 r=2.95 />
<circle class=B cx=221.5 cy=637 r=2.95 />
<circle class=M cx=229.5 cy=593.5 r=2.95 />
<circle class=N cx=221.5 cy=614.5 r=2.95 />
<circle class=P cx=306 cy=643.5 r=2.95 />
<circle class=L cx=206.5 cy=643 r=2.95 />
<circle class=B cx=232 cy=687 r=2.95 />
<circle class=M cx=265 cy=645.5 r=2.95 />
<circle class=N cx=253 cy=596 r=2.95 />
<circle class=O cx=227 cy=628 r=2.95 />
<circle class=G cx=242 cy=576.5 r=2.95 />
<circle class=R cx=249.5 cy=650.5 r=2.95 />
<circle class=N cx=203 cy=688.5 r=2.95 />
<circle class=L cx=206.5 cy=687 r=2.95 />
<circle class=N cx=204.5 cy=629.5 r=2.95 />
<circle class=O cx=253 cy=674 r=2.95 />
<circle class=B cx=228.5 cy=556 r=2.95 />
<circle class=N cx=206 cy=674 r=2.95 />
<circle class=B cx=256 cy=637 r=2.95 />
<circle class=N cx=312.5 cy=644 r=2.95 />
<circle class=M cx=249 cy=642 r=2.95 />
<circle class=M cx=206 cy=687 r=2.95 />
<circle class=L cx=266.5 cy=655 r=2.95 />
<circle class=R cx=224 cy=649 r=2.95 />
<circle class=M cx=263.5 cy=591 r=2.95 />
<circle class=B cx=221.5 cy=638.5 r=2.95 />
<circle class=N cx=213 cy=638.5 r=2.95 />
<circle class=M cx=216.5 cy=641.5 r=2.95 />
<circle class=B cx=211 cy=644 r=2.95 />
<circle class=N cx=200.5 cy=611 r=2.95 />
<circle class=R cx=252.5 cy=581.5 r=2.95 />
<circle class=R cx=233 cy=606.5 r=2.95 />
<circle class=M cx=303.5 cy=658 r=2.95 />
<circle class=L cx=228.5 cy=677 r=2.95 />
<circle class=B cx=228.5 cy=677.5 r=2.95 />
<circle class=B cx=313.5 cy=655 r=2.95 />
<circle class=M cx=224.5 cy=607 r=2.95 />
<circle class=L cx=206 cy=649 r=2.95 />
<circle class=B cx=229.5 cy=637.5 r=2.95 />
<circle class=L cx=218.5 cy=614 r=2.95 />
<circle class=L cx=212 cy=652.5 r=2.95 />
<circle class=B cx=270 cy=615.5 r=2.95 />
<circle class=N cx=254 cy=683 r=2.95 />
<circle class=N cx=241 cy=621.5 r=2.95 />
<circle class=N cx=234.5 cy=573.5 r=2.95 />
<circle class=N cx=204.5 cy=611 r=2.95 />
<circle class=O cx=225.5 cy=707 r=2.95 />
<circle class=B cx=200 cy=639 r=2.95 />
<circle class=M cx=224.5 cy=659.5 r=2.95 />
<circle class=O cx=204 cy=644.5 r=2.95 />
<circle class=N cx=215 cy=677.5 r=2.95 />
<circle class=N cx=290.5 cy=637 r=2.95 />
<circle class=B cx=336 cy=644.5 r=2.95 />
<circle class=M cx=212 cy=645.5 r=2.95 />
<circle class=L cx=244 cy=625 r=2.95 />
<circle class=M cx=315 cy=672 r=2.95 />
<circle class=B cx=226.5 cy=654.5 r=2.95 />
<circle class=M cx=213.5 cy=675.5 r=2.95 />
<circle class=B cx=330 cy=598.5 r=2.95 />
<circle class=O cx=210.5 cy=625.5 r=2.95 />
<circle class=L cx=309 cy=593.5 r=2.95 />
<circle class=B cx=204 cy=622.5 r=2.95 />
<circle class=P cx=206 cy=646 r=2.95 />
<circle class=R cx=211.5 cy=625.5 r=2.95 />
<circle class=O cx=200.5 cy=617.5 r=2.95 />
<circle class=M cx=272.5 cy=646.5 r=2.95 />
<circle class=M cx=320 cy=665 r=2.95 />
<circle class=M cx=223 cy=624 r=2.95 />
<circle class=N cx=209 cy=632 r=2.95 />
<circle class=N cx=211.5 cy=614.5 r=2.95 />
<circle class=N cx=238 cy=653 r=2.95 />
<circle class=B cx=266 cy=590 r=2.95 />
<circle class=G cx=202 cy=609 r=2.95 />
<circle class=B cx=235.5 cy=595.5 r=2.95 />
<circle class=L cx=205.5 cy=592 r=2.95 />
<circle class=N cx=209.5 cy=655.5 r=2.95 />
<circle class=B cx=221.5 cy=663 r=2.95 />
<circle class=N cx=202.5 cy=664 r=2.95 />
<circle class=O cx=216 cy=657.5 r=2.95 />
<circle class=N cx=216.5 cy=578.5 r=2.95 />
<circle class=N cx=244 cy=616 r=2.95 />
<circle class=M cx=288 cy=662.5 r=2.95 />
<circle class=R cx=274 cy=661 r=2.95 />
<circle class=N cx=226.5 cy=555 r=2.95 />
<circle class=B cx=223.5 cy=615 r=2.95 />
<circle class=N cx=203 cy=646 r=2.95 />
<circle class=B cx=230 cy=657 r=2.95 />
<circle class=M cx=205 cy=690 r=2.95 />
<circle class=N cx=202.5 cy=617.5 r=2.95 />
<circle class=N cx=276 cy=656.5 r=2.95 />
<circle class=B cx=215.5 cy=664 r=2.95 />
<circle class=P cx=288 cy=627 r=2.95 />
<circle class=O cx=208.5 cy=688.5 r=2.95 />
<circle class=B cx=219.5 cy=598 r=2.95 />
<circle class=M cx=253.5 cy=672.5 r=2.95 />
<circle class=N cx=215 cy=659 r=2.95 />
<circle class=L cx=235 cy=641.5 r=2.95 />
<circle class=O cx=240.5 cy=642.5 r=2.95 />
<circle class=B cx=288.5 cy=654 r=2.95 />
<circle class=B cx=210 cy=607 r=2.95 />
<circle class=O cx=234.5 cy=601 r=2.95 />
<circle class=M cx=252.5 cy=624 r=2.95 />
<circle class=B cx=285 cy=627.5 r=2.95 />
<circle class=N cx=225 cy=643.5 r=2.95 />
<circle class=B cx=281 cy=629.5 r=2.95 />
<circle class=N cx=227.5 cy=624 r=2.95 />
<circle class=L cx=316.5 cy=631 r=2.95 />
<circle class=N cx=206 cy=624 r=2.95 />
<circle class=N cx=239.5 cy=651.5 r=2.95 />
<circle class=N cx=204 cy=643.5 r=2.95 />
<circle class=B cx=238 cy=648 r=2.95 />
<circle class=N cx=282.5 cy=643 r=2.95 />
<circle class=M cx=222.5 cy=666.5 r=2.95 />
<circle class=R cx=207 cy=685 r=2.95 />
<circle class=B cx=242 cy=621 r=2.95 />
<circle class=N cx=288 cy=614 r=2.95 />
<circle class=B cx=324 cy=646.5 r=2.95 />
<circle class=B cx=213 cy=659 r=2.95 />
<circle class=B cx=267.5 cy=616 r=2.95 />
<circle class=N cx=307 cy=630.5 r=2.95 />
<circle class=M cx=206.5 cy=619.5 r=2.95 />
<circle class=N cx=250.5 cy=652.5 r=2.95 />
<circle class=O cx=205 cy=627 r=2.95 />
<circle class=P cx=214 cy=603 r=2.95 />
<circle class=B cx=222 cy=615 r=2.95 />
<circle class=O cx=233 cy=654 r=2.95 />
<circle class=O cx=219 cy=661 r=2.95 />
<circle class=N cx=309.5 cy=629.5 r=2.95 />
<circle class=B cx=298 cy=628 r=2.95 />
<circle class=B cx=204 cy=650 r=2.95 />
<circle class=B cx=211 cy=669 r=2.95 />
<circle class=O cx=213 cy=653.5 r=2.95 />
<circle class=N cx=207 cy=640 r=2.95 />
<circle class=P cx=295.5 cy=655 r=2.95 />
<circle class=B cx=204.5 cy=653 r=2.95 />
<circle class=O cx=257.5 cy=625.5 r=2.95 />
<circle class=M cx=326 cy=658 r=2.95 />
<circle class=N cx=206.5 cy=604.5 r=2.95 />
<circle class=O cx=294 cy=641.5 r=2.95 />
<circle class=B cx=229.5 cy=639.5 r=2.95 />
<circle class=P cx=201.5 cy=653 r=2.95 />
<circle class=N cx=250 cy=646.5 r=2.95 />
<circle class=M cx=209.5 cy=684 r=2.95 />
<circle class=O cx=213 cy=604.5 r=2.95 />
<circle class=L cx=205.5 cy=593.5 r=2.95 />
<circle class=B cx=203.5 cy=663 r=2.95 />
<circle class=O cx=283.5 cy=644.5 r=2.95 />
<circle class=O cx=213.5 cy=653.5 r=2.95 />
<circle class=M cx=244 cy=706.5 r=2.95 />
<circle class=B cx=312 cy=598 r=2.95 />
<circle class=P cx=210.5 cy=693.5 r=2.95 />
<circle class=M cx=236.5 cy=596 r=2.95 />
<circle class=M cx=257 cy=638.5 r=2.95 />
<circle class=O cx=284 cy=660 r=2.95 />
<circle class=L cx=216 cy=628 r=2.95 />
<circle class=B cx=203 cy=613.5 r=2.95 />
<circle class=M cx=202 cy=589 r=2.95 />
<circle class=M cx=225.5 cy=666.5 r=2.95 />
<circle class=O cx=232.5 cy=621.5 r=2.95 />
<circle class=B cx=220 cy=645.5 r=2.95 />
<circle class=M cx=201 cy=668 r=2.95 />
<circle class=M cx=243 cy=673.5 r=2.95 />
<circle class=L cx=213.5 cy=710.5 r=2.95 />
<circle class=B cx=202.5 cy=631.5 r=2.95 />
<circle class=N cx=289.5 cy=613.5 r=2.95 />
<circle class=G cx=225 cy=643 r=2.95 />
<circle class=O cx=217 cy=606 r=2.95 />
<circle class=B cx=205 cy=573.5 r=2.95 />
<circle class=O cx=255 cy=647 r=2.95 />
<circle class=B cx=200 cy=679 r=2.95 />
<circle class=M cx=278 cy=642 r=2.95 />
<circle class=O cx=287.5 cy=611 r=2.95 />
<circle class=M cx=224.5 cy=664.5 r=2.95 />
<circle class=B cx=204.5 cy=676.5 r=2.95 />
<circle class=R cx=214.5 cy=680.5 r=2.95 />
<circle class=M cx=221 cy=637 r=2.95 />
<circle class=O cx=249.5 cy=659.5 r=2.95 />
<circle class=B cx=255.5 cy=613.5 r=2.95 />
<circle class=G cx=265 cy=610.5 r=2.95 />
<circle class=P cx=251 cy=643.5 r=2.95 />
<circle class=L cx=207 cy=591 r=2.95 />
<circle class=M cx=219.5 cy=631.5 r=2.95 />
<circle class=B cx=251 cy=666.5 r=2.95 />
<circle class=N cx=201.5 cy=570 r=2.95 />
<circle class=P cx=230 cy=599.5 r=2.95 />
<circle class=L cx=252 cy=618.5 r=2.95 />
<circle class=B cx=227 cy=663.5 r=2.95 />
<circle class=B cx=203 cy=619 r=2.95 />
<circle class=R cx=208 cy=610 r=2.95 />
<circle class=G cx=227.5 cy=666 r=2.95 />
<circle class=N cx=265.5 cy=641.5 r=2.95 />
<circle class=M cx=270 cy=699.5 r=2.95 />
<circle class=M cx=284.5 cy=643 r=2.95 />
<circle class=L cx=204.5 cy=650 r=2.95 />
<circle class=P cx=231 cy=640.5 r=2.95 />
<circle class=N cx=234 cy=630.5 r=2.95 />
<circle class=B cx=228 cy=616 r=2.95 />
<circle class=B cx=297 cy=675 r=2.95 />
<circle class=L cx=250.5 cy=651.5 r=2.95 />
<circle class=B cx=336 cy=670 r=2.95 />
<circle class=B cx=217 cy=663.5 r=2.95 />
<circle class=P cx=230 cy=643 r=2.95 />
<circle class=B cx=230.5 cy=658 r=2.95 />
<circle class=L cx=224.5 cy=690.5 r=2.95 />
<circle class=R cx=264 cy=648.5 r=2.95 />
<circle class=M cx=211.5 cy=643 r=2.95 />
<circle class=B cx=205.5 cy=650.5 r=2.95 />
<circle class=B cx=213.5 cy=627.5 r=2.95 />
<circle class=M cx=229.5 cy=642 r=2.95 />
<circle class=P cx=224.5 cy=641 r=2.95 />
<circle class=N cx=257 cy=658.5 r=2.95 />
<circle class=M cx=227 cy=682.5 r=2.95 />
<circle class=L cx=250.5 cy=674.5 r=2.95 />
<circle class=B cx=284.5 cy=654 r=2.95 />
<circle class=N cx=200.5 cy=597 r=2.95 />
<circle class=N cx=201.5 cy=698 r=2.95 />
<circle class=O cx=265.5 cy=652 r=2.95 />
<circle class=B cx=267 cy=614 r=2.95 />
<circle class=N cx=236.5 cy=618.5 r=2.95 />
<circle class=M cx=230.5 cy=661.5 r=2.95 />
<circle class=N cx=208.5 cy=647 r=2.95 />
<circle class=B cx=201 cy=595 r=2.95 />
<circle class=B cx=203.5 cy=599 r=2.95 />
<circle class=L cx=215.5 cy=603.5 r=2.95 />
<circle class=R cx=200.5 cy=646.5 r=2.95 />
<circle class=P cx=207 cy=517 r=2.95 />
<circle class=M cx=223.5 cy=671 r=2.95 />
<circle class=B cx=265 cy=646 r=2.95 />
<circle class=O cx=277.5 cy=617 r=2.95 />
<circle class=L cx=301 cy=638 r=2.95 />
<circle class=N cx=204 cy=653 r=2.95 />
<circle class=N cx=202.5 cy=654.5 r=2.95 />
<circle class=N cx=231 cy=599.5 r=2.95 />
<circle class=B cx=293.5 cy=654.5 r=2.95 />
<circle class=N cx=213 cy=623 r=2.95 />
<circle class=M cx=260 cy=606 r=2.95 />
<circle class=L cx=255.5 cy=628.5 r=2.95 />
<circle class=B cx=260.5 cy=669.5 r=2.95 />
<circle class=O cx=224.5 cy=633 r=2.95 />
<circle class=L cx=247.5 cy=592 r=2.95 />
<circle class=B cx=248 cy=563 r=2.95 />
<circle class=B cx=323 cy=639 r=2.95 />
<circle class=O cx=236.5 cy=654 r=2.95 />
<circle class=N cx=210.5 cy=657.5 r=2.95 />
<circle class=O cx=257.5 cy=633.5 r=2.95 />
<circle class=R cx=252 cy=656.5 r=2.95 />
<circle class=M cx=288.5 cy=629.5 r=2.95 />
<circle class=P cx=209.5 cy=558.5 r=2.95 />
<circle class=N cx=227 cy=621.5 r=2.95 />
<circle class=N cx=261.5 cy=647.5 r=2.95 />
<circle class=L cx=209 cy=675 r=2.95 />
<circle class=B cx=203 cy=653 r=2.95 />
<circle class=L cx=264.5 cy=622.5 r=2.95 />
<circle class=B cx=242 cy=642 r=2.95 />
<circle class=N cx=240.5 cy=661 r=2.95 />
<circle class=N cx=251 cy=664 r=2.95 />
<circle class=B cx=218 cy=653 r=2.95 />
<circle class=O cx=208.5 cy=649.5 r=2.95 />
<circle class=B cx=200.5 cy=629 r=2.95 />
<circle class=M cx=251.5 cy=599 r=2.95 />
<circle class=B cx=222 cy=674.5 r=2.95 />
<circle class=B cx=200.5 cy=610.5 r=2.95 />
<circle class=G cx=254.5 cy=650 r=2.95 />
<circle class=B cx=241.5 cy=648.5 r=2.95 />
<circle class=P cx=220 cy=652 r=2.95 />
<circle class=M cx=205.5 cy=644 r=2.95 />
<circle class=M cx=201 cy=604.5 r=2.95 />
<circle class=R cx=207.5 cy=564 r=2.95 />
<circle class=N cx=279.5 cy=619.5 r=2.95 />
<circle class=M cx=210.5 cy=606 r=2.95 />
<circle class=N cx=208.5 cy=598 r=2.95 />
<circle class=L cx=209 cy=600.5 r=2.95 />
<circle class=L cx=242.5 cy=667.5 r=2.95 />
<circle class=O cx=267.5 cy=659.5 r=2.95 />
<circle class=P cx=250.5 cy=654 r=2.95 />
<circle class=B cx=210.5 cy=573 r=2.95 />
<circle class=M cx=204 cy=652.5 r=2.95 />
<circle class=B cx=246 cy=672.5 r=2.95 />
<circle class=R cx=221 cy=612 r=2.95 />
<circle class=B cx=211.5 cy=675 r=2.95 />
<circle class=B cx=202 cy=595.5 r=2.95 />
<circle class=R cx=200.5 cy=646 r=2.95 />
<circle class=B cx=267 cy=634.5 r=2.95 />
<circle class=N cx=221 cy=600 r=2.95 />
<circle class=M cx=222 cy=644 r=2.95 />
<circle class=B cx=283.5 cy=638.5 r=2.95 />
<circle class=O cx=208.5 cy=645.5 r=2.95 />
<circle class=M cx=297 cy=589 r=2.95 />
<circle class=N cx=218 cy=664.5 r=2.95 />
<circle class=O cx=268.5 cy=608.5 r=2.95 />
<circle class=M cx=242.5 cy=650.5 r=2.95 />
<circle class=P cx=224 cy=666 r=2.95 />
<circle class=B cx=259.5 cy=610.5 r=2.95 />
<circle class=B cx=214.5 cy=646 r=2.95 />
<circle class=R cx=320 cy=649.5 r=2.95 />
<circle class=P cx=226 cy=653.5 r=2.95 />
<circle class=O cx=234 cy=634 r=2.95 />
<circle class=B cx=212.5 cy=607.5 r=2.95 />
<circle class=N cx=219 cy=584 r=2.95 />
<circle class=N cx=309 cy=665 r=2.95 />
<circle class=N cx=237.5 cy=621.5 r=2.95 />
<circle class=N cx=219 cy=635.5 r=2.95 />
<circle class=M cx=243.5 cy=608 r=2.95 />
<circle class=O cx=313.5 cy=641.5 r=2.95 />
<circle class=N cx=264.5 cy=632.5 r=2.95 />
<circle class=O cx=219.5 cy=672 r=2.95 />
<circle class=N cx=214.5 cy=649 r=2.95 />
<circle class=O cx=210 cy=624 r=2.95 />
<circle class=B cx=208 cy=678 r=2.95 />
<circle class=M cx=203.5 cy=667 r=2.95 />
<circle class=L cx=256.5 cy=605.5 r=2.95 />
<circle class=N cx=256 cy=677 r=2.95 />
<circle class=B cx=291 cy=610.5 r=2.95 />
<circle class=O cx=283 cy=641 r=2.95 />
<circle class=M cx=215 cy=654 r=2.95 />
<circle class=O cx=249 cy=650.5 r=2.95 />
<circle class=N cx=266 cy=618.5 r=2.95 />
<circle class=L cx=250.5 cy=678 r=2.95 />
<circle class=N cx=231.5 cy=637 r=2.95 />
<circle class=M cx=221 cy=671.5 r=2.95 />
<circle class=R cx=263.5 cy=644.5 r=2.95 />
<circle class=P cx=249 cy=620.5 r=2.95 />
<circle class=N cx=223.5 cy=679 r=2.95 />
<circle class=O cx=217.5 cy=675 r=2.95 />
<circle class=O cx=269 cy=631.5 r=2.95 />
<circle class=B cx=266.5 cy=666.5 r=2.95 />
<circle class=L cx=259.5 cy=689.5 r=2.95 />
<circle class=B cx=277.5 cy=628 r=2.95 />
<circle class=M cx=257 cy=618.5 r=2.95 />
<circle class=B cx=273.5 cy=674 r=2.95 />
<circle class=N cx=313 cy=647.5 r=2.95 />
<circle class=O cx=226 cy=676 r=2.95 />
<circle class=B cx=324.5 cy=665 r=2.95 />
<circle class=B cx=215.5 cy=663.5 r=2.95 />
<circle class=B cx=246 cy=623 r=2.95 />
<circle class=R cx=262 cy=650.5 r=2.95 />
<circle class=N cx=329.5 cy=648.5 r=2.95 />
<circle class=M cx=321.5 cy=672 r=2.95 />
<circle class=N cx=216.5 cy=621.5 r=2.95 />
<circle class=M cx=202 cy=634 r=2.95 />
<circle class=N cx=202 cy=653 r=2.95 />
<circle class=M cx=228.5 cy=585.5 r=2.95 />
<circle class=B cx=224 cy=667.5 r=2.95 />
<circle class=N cx=219.5 cy=651.5 r=2.95 />
<circle class=M cx=209.5 cy=693 r=2.95 />
<circle class=B cx=206.5 cy=614 r=2.95 />
<circle class=P cx=203.5 cy=616.5 r=2.95 />
<circle class=N cx=215.5 cy=647.5 r=2.95 />
<circle class=M cx=247 cy=620.5 r=2.95 />
<circle class=M cx=212 cy=564.5 r=2.95 />
<circle class=N cx=254 cy=646.5 r=2.95 />
<circle class=M cx=265.5 cy=637.5 r=2.95 />
<circle class=B cx=202.5 cy=691 r=2.95 />
<circle class=B cx=249.5 cy=679 r=2.95 />
<circle class=N cx=309 cy=575.5 r=2.95 />
<circle class=B cx=229.5 cy=685.5 r=2.95 />
<circle class=O cx=211.5 cy=658.5 r=2.95 />
<circle class=N cx=271 cy=651 r=2.95 />
<circle class=L cx=228.5 cy=661 r=2.95 />
<circle class=O cx=228.5 cy=653 r=2.95 />
<circle class=O cx=222.5 cy=655 r=2.95 />
<circle class=L cx=245 cy=628 r=2.95 />
<circle class=L cx=205 cy=597 r=2.95 />
<circle class=B cx=201.5 cy=627 r=2.95 />
<circle class=B cx=336 cy=660 r=2.95 />
<circle class=G cx=227 cy=643.5 r=2.95 />
<circle class=B cx=214 cy=647.5 r=2.95 />
<circle class=B cx=268 cy=612 r=2.95 />
<circle class=G cx=335.5 cy=612.5 r=2.95 />
<circle class=L cx=215.5 cy=664 r=2.95 />
<circle class=R cx=209 cy=655.5 r=2.95 />
<circle class=R cx=216.5 cy=641.5 r=2.95 />
<circle class=L cx=215.5 cy=653 r=2.95 />
<circle class=B cx=207 cy=645 r=2.95 />
<circle class=P cx=211 cy=641.5 r=2.95 />
<circle class=N cx=252.5 cy=661.5 r=2.95 />
<circle class=O cx=208.5 cy=692.5 r=2.95 />
<circle class=N cx=287.5 cy=650 r=2.95 />
<circle class=L cx=210.5 cy=645.5 r=2.95 />
<circle class=B cx=230.5 cy=670.5 r=2.95 />
<circle class=M cx=260.5 cy=649.5 r=2.95 />
<circle class=M cx=221 cy=666.5 r=2.95 />
<circle class=N cx=335.5 cy=685.5 r=2.95 />
<circle class=P cx=207.5 cy=581.5 r=2.95 />
<circle class=B cx=221.5 cy=645.5 r=2.95 />
<circle class=B cx=209 cy=646 r=2.95 />
<circle class=M cx=226 cy=642.5 r=2.95 />
<circle class=B cx=200.5 cy=667 r=2.95 />
<circle class=M cx=270.5 cy=670 r=2.95 />
<circle class=L cx=244 cy=610.5 r=2.95 />
<circle class=N cx=225.5 cy=686.5 r=2.95 />
<circle class=N cx=216 cy=642 r=2.95 />
<circle class=B cx=296.5 cy=648.5 r=2.95 />
<circle class=M cx=278.5 cy=652.5 r=2.95 />
<circle class=L cx=200.5 cy=647.5 r=2.95 />
<circle class=B cx=205 cy=598 r=2.95 />
<circle class=B cx=234.5 cy=657 r=2.95 />
<circle class=L cx=220 cy=657.5 r=2.95 />
<circle class=O cx=261 cy=649.5 r=2.95 />
<circle class=B cx=202.5 cy=597.5 r=2.95 />
<circle class=P cx=237 cy=607 r=2.95 />
<circle class=N cx=201.5 cy=613.5 r=2.95 />
<circle class=B cx=207.5 cy=684.5 r=2.95 />
<circle class=B cx=242.5 cy=645 r=2.95 />
<circle class=M cx=210.5 cy=567.5 r=2.95 />
<circle class=O cx=272.5 cy=662 r=2.95 />
<circle class=M cx=297 cy=642 r=2.95 />
<circle class=N cx=244 cy=647 r=2.95 />
<circle class=B cx=220 cy=649 r=2.95 />
<circle class=N cx=208.5 cy=642 r=2.95 />
<circle class=P cx=289.5 cy=663.5 r=2.95 />
<circle class=N cx=249.5 cy=562 r=2.95 />
<circle class=L cx=200 cy=665 r=2.95 />
<circle class=B cx=229 cy=625.5 r=2.95 />
<circle class=P cx=296 cy=649.5 r=2.95 />
<circle class=M cx=295.5 cy=649.5 r=2.95 />
<circle class=L cx=223.5 cy=583.5 r=2.95 />
<circle class=N cx=227.5 cy=561.5 r=2.95 />
<circle class=P cx=217.5 cy=644 r=2.95 />
<circle class=O cx=329 cy=666 r=2.95 />
<circle class=N cx=221 cy=657 r=2.95 />
<circle class=B cx=256.5 cy=670.5 r=2.95 />
<circle class=P cx=215.5 cy=629.5 r=2.95 />
<circle class=N cx=220 cy=649 r=2.95 />
<circle class=M cx=252.5 cy=621 r=2.95 />
<circle class=B cx=205 cy=652.5 r=2.95 />
<circle class=N cx=231.5 cy=706 r=2.95 />
<circle class=N cx=213.5 cy=697.5 r=2.95 />
<circle class=M cx=254.5 cy=670.5 r=2.95 />
<circle class=M cx=244.5 cy=621.5 r=2.95 />
<circle class=N cx=243.5 cy=628 r=2.95 />
<circle class=N cx=215 cy=605 r=2.95 />
<circle class=N cx=223.5 cy=651.5 r=2.95 />
<circle class=N cx=206 cy=653 r=2.95 />
<circle class=M cx=286 cy=629.5 r=2.95 />
<circle class=N cx=200 cy=614.5 r=2.95 />
<circle class=L cx=200.5 cy=690.5 r=2.95 />
<circle class=M cx=236.5 cy=690.5 r=2.95 />
<circle class=M cx=201 cy=602.5 r=2.95 />
<circle class=M cx=217 cy=665.5 r=2.95 />
<circle class=B cx=264.5 cy=615 r=2.95 />
<circle class=N cx=203 cy=601 r=2.95 />
<circle class=L cx=211 cy=642 r=2.95 />
<circle class=L cx=202.5 cy=650.5 r=2.95 />
<circle class=N cx=230 cy=609.5 r=2.95 />
<circle class=O cx=223 cy=644 r=2.95 />
<circle class=B cx=267 cy=647 r=2.95 />
<circle class=M cx=237.5 cy=589 r=2.95 />
<circle class=R cx=210.5 cy=616.5 r=2.95 />
<circle class=N cx=215.5 cy=646 r=2.95 />
<circle class=M cx=303.5 cy=653 r=2.95 />
<circle class=M cx=217 cy=594.5 r=2.95 />
<circle class=P cx=205 cy=627.5 r=2.95 />
<circle class=B cx=286.5 cy=644.5 r=2.95 />
<circle class=L cx=235.5 cy=611.5 r=2.95 />
<circle class=B cx=274.5 cy=662 r=2.95 />
<circle class=N cx=254 cy=680 r=2.95 />
<circle class=B cx=220.5 cy=633 r=2.95 />
<circle class=N cx=209 cy=625.5 r=2.95 />
<circle class=N cx=205 cy=624 r=2.95 />
<circle class=M cx=206 cy=659.5 r=2.95 />
<circle class=B cx=251 cy=663.5 r=2.95 />
<circle class=O cx=246 cy=654 r=2.95 />
<circle class=B cx=281 cy=615 r=2.95 />
<circle class=O cx=331.5 cy=629 r=2.95 />
<circle class=B cx=254 cy=639 r=2.95 />
<circle class=M cx=279 cy=644 r=2.95 />
<circle class=R cx=216 cy=658 r=2.95 />
<circle class=L cx=235 cy=604.5 r=2.95 />
<circle class=N cx=207.5 cy=624.5 r=2.95 />
<circle class=N cx=332.5 cy=638.5 r=2.95 />
<circle class=B cx=233 cy=659 r=2.95 />
<circle class=M cx=234 cy=679.5 r=2.95 />
<circle class=P cx=300.5 cy=632.5 r=2.95 />
<circle class=P cx=235.5 cy=659.5 r=2.95 />
<circle class=L cx=312.5 cy=642 r=2.95 />
<circle class=N cx=202.5 cy=662 r=2.95 />
<circle class=R cx=207 cy=589.5 r=2.95 />
<circle class=O cx=213.5 cy=600.5 r=2.95 />
<circle class=B cx=227.5 cy=661.5 r=2.95 />
<circle class=P cx=205.5 cy=687 r=2.95 />
<circle class=B cx=201.5 cy=635 r=2.95 />
<circle class=G cx=218.5 cy=561.5 r=2.95 />
<circle class=M cx=281 cy=650 r=2.95 />
<circle class=P cx=208.5 cy=647.5 r=2.95 />
<circle class=B cx=232.5 cy=657 r=2.95 />
<circle class=O cx=232.5 cy=642 r=2.95 />
<circle class=B cx=227.5 cy=658.5 r=2.95 />
<circle class=M cx=208 cy=625.5 r=2.95 />
<circle class=N cx=209.5 cy=544 r=2.95 />
<circle class=P cx=226.5 cy=679.5 r=2.95 />
<circle class=B cx=234 cy=573.5 r=2.95 />
<circle class=O cx=247 cy=648.5 r=2.95 />
<circle class=B cx=204.5 cy=576 r=2.95 />
<circle class=M cx=227 cy=604 r=2.95 />
<circle class=O cx=243.5 cy=637 r=2.95 />
<circle class=B cx=319.5 cy=622.5 r=2.95 />
<circle class=L cx=225.5 cy=669.5 r=2.95 />
<circle class=B cx=271 cy=635 r=2.95 />
<circle class=M cx=216.5 cy=601.5 r=2.95 />
<circle class=P cx=202.5 cy=660 r=2.95 />
<circle class=N cx=243.5 cy=645 r=2.95 />
<circle class=L cx=205 cy=553 r=2.95 />
<circle class=M cx=206 cy=664.5 r=2.95 />
<circle class=L cx=251 cy=660.5 r=2.95 />
<circle class=M cx=209 cy=582.5 r=2.95 />
<circle class=N cx=235.5 cy=664 r=2.95 />
<circle class=B cx=237 cy=643 r=2.95 />
<circle class=B cx=292.5 cy=618.5 r=2.95 />
<circle class=O cx=204 cy=619 r=2.95 />
<circle class=M cx=303 cy=612.5 r=2.95 />
<circle class=P cx=316.5 cy=658.5 r=2.95 />
<circle class=B cx=203 cy=671 r=2.95 />
<circle class=L cx=267 cy=646.5 r=2.95 />
<circle class=L cx=206.5 cy=607.5 r=2.95 />
<circle class=M cx=295 cy=618.5 r=2.95 />
<circle class=M cx=203.5 cy=651.5 r=2.95 />
<circle class=N cx=215.5 cy=667.5 r=2.95 />
<circle class=B cx=331 cy=666 r=2.95 />
<circle class=M cx=286 cy=601.5 r=2.95 />
<circle class=B cx=281.5 cy=627.5 r=2.95 />
<circle class=B cx=222.5 cy=651 r=2.95 />
<circle class=L cx=214.5 cy=626.5 r=2.95 />
<circle class=B cx=294.5 cy=590.5 r=2.95 />
<circle class=M cx=220 cy=690 r=2.95 />
<circle class=N cx=286.5 cy=651.5 r=2.95 />
<circle class=B cx=202.5 cy=661.5 r=2.95 />
<circle class=B cx=272.5 cy=619 r=2.95 />
<circle class=N cx=236 cy=666.5 r=2.95 />
<circle class=N cx=240.5 cy=606 r=2.95 />
<circle class=B cx=280 cy=610.5 r=2.95 />
<circle class=L cx=216.5 cy=655 r=2.95 />
<circle class=P cx=203 cy=654.5 r=2.95 />
<circle class=M cx=206 cy=628.5 r=2.95 />
<circle class=M cx=248 cy=590.5 r=2.95 />
<circle class=P cx=254 cy=668 r=2.95 />
<circle class=N cx=218 cy=587.5 r=2.95 />
<circle class=L cx=240.5 cy=682 r=2.95 />
<circle class=B cx=319 cy=649 r=2.95 />
<circle class=N cx=214.5 cy=617.5 r=2.95 />
<circle class=M cx=256.5 cy=684 r=2.95 />
<circle class=P cx=218.5 cy=658 r=2.95 />
<circle class=M cx=237 cy=637.5 r=2.95 />
<circle class=B cx=230 cy=607.5 r=2.95 />
<rect x="195.3" y="492" width="5.4" height="250" rx="2.7" fill="#0b3f80" fill-opacity="0.88"/>
<circle class=N cx=198 cy=125 r=2.95 />
<circle class=M cx=216.5 cy=166.5 r=2.95 />
<circle class=M cx=409 cy=225.5 r=2.95 />
<circle class=G cx=217.5 cy=361.5 r=2.95 />
<circle class=M cx=286.5 cy=389 r=2.95 />
<circle class=N cx=222.5 cy=450.5 r=2.95 />
<circle class=M cx=217.5 cy=462.5 r=2.95 />
<circle class=N cx=217 cy=470 r=2.95 />
<circle class=N cx=223 cy=482.5 r=2.95 />
<circle class=N cx=214 cy=491.5 r=2.95 />
<circle class=N cx=322.5 cy=484.5 r=2.95 />
<circle class=N cx=264 cy=493.5 r=2.95 />
<circle class=N cx=292.5 cy=499 r=2.95 />
<circle class=N cx=319.5 cy=505 r=2.95 />
<circle class=L cx=249 cy=508 r=2.95 />
<circle class=B cx=227 cy=513 r=2.95 />
<circle class=B cx=231.5 cy=515 r=2.95 />
<circle class=N cx=219 cy=522 r=2.95 />
<circle class=M cx=267.5 cy=516.5 r=2.95 />
<circle class=L cx=257 cy=525.5 r=2.95 />
<circle class=N cx=277.5 cy=524.5 r=2.95 />
<circle class=N cx=291.5 cy=521 r=2.95 />
<circle class=N cx=235 cy=530.5 r=2.95 />
<circle class=N cx=237 cy=531 r=2.95 />
<circle class=M cx=246 cy=536 r=2.95 />
<circle class=M cx=248 cy=535 r=2.95 />
<circle class=L cx=270.5 cy=533.5 r=2.95 />
<circle class=M cx=260.5 cy=541.5 r=2.95 />
<circle class=M cx=226 cy=541.5 r=2.95 />
<circle class=L cx=239 cy=546 r=2.95 />
<circle class=L cx=249 cy=552 r=2.95 />
<circle class=N cx=299 cy=556 r=2.95 />
<circle class=N cx=299.5 cy=556 r=2.95 />
<circle class=P cx=291.5 cy=560 r=2.95 />
<circle class=N cx=350.5 cy=563 r=2.95 />
<circle class=B cx=353 cy=561.5 r=2.95 />
<circle class=M cx=333.5 cy=569.5 r=2.95 />
<circle class=G cx=343.5 cy=564.5 r=2.95 />
<circle class=L cx=321 cy=575 r=2.95 />
<circle class=M cx=310.5 cy=577 r=2.95 />
<circle class=O cx=252 cy=572 r=2.95 />
<circle class=O cx=230.5 cy=559.5 r=2.95 />
<circle class=R cx=238.5 cy=564 r=2.95 />
<circle class=B cx=312 cy=577 r=2.95 />
<circle class=M cx=313.5 cy=595.5 r=2.95 />
<circle class=L cx=300 cy=583 r=2.95 />
<circle class=N cx=319 cy=505 r=2.95 />
<circle class=N cx=300.5 cy=556 r=2.95 />
<circle class=N cx=456.5 cy=691.5 r=2.95 />
<circle class=R cx=484.5 cy=691.5 r=2.95 />
<circle class=L cx=519 cy=685.5 r=2.95 />
<circle class=L cx=499.5 cy=619.5 r=2.95 />
<circle class=R cx=464.5 cy=625 r=2.95 />
<circle class=N cx=455 cy=630.5 r=2.95 />
<circle class=R cx=494 cy=633 r=2.95 />
<circle class=M cx=499.5 cy=632.5 r=2.95 />
<circle class=B cx=520 cy=635.5 r=2.95 />
<circle class=M cx=519.5 cy=642 r=2.95 />
<circle class=R cx=528 cy=639.5 r=2.95 />
<circle class=L cx=537.5 cy=643 r=2.95 />
<circle class=L cx=504.5 cy=643.5 r=2.95 />
<circle class=M cx=491 cy=640.5 r=2.95 />
<circle class=N cx=475.5 cy=649 r=2.95 />
<circle class=R cx=468.5 cy=651.5 r=2.95 />
<circle class=M cx=458 cy=652.5 r=2.95 />
<circle class=M cx=451 cy=655 r=2.95 />
<circle class=O cx=552 cy=630 r=2.95 />
<circle class=N cx=573 cy=628.5 r=2.95 />
<circle class=N cx=575.5 cy=617 r=2.95 />
<circle class=N cx=579.5 cy=619.5 r=2.95 />
<circle class=R cx=612 cy=623 r=2.95 />
<circle class=N cx=643.5 cy=619 r=2.95 />
<circle class=R cx=587.5 cy=657.5 r=2.95 />
<circle class=B cx=615 cy=654.5 r=2.95 />
<circle class=G cx=620.5 cy=664.5 r=2.95 />
<circle class=O cx=642.5 cy=661.5 r=2.95 />
<circle class=L cx=647 cy=661 r=2.95 />
<circle class=R cx=657 cy=659.5 r=2.95 />
<circle class=M cx=664 cy=658.5 r=2.95 />
<circle class=P cx=663.5 cy=665 r=2.95 />
<circle class=N cx=666.5 cy=647.5 r=2.95 />
<circle class=N cx=667.5 cy=648 r=2.95 />
<circle class=G cx=677.5 cy=662.5 r=2.95 />
<circle class=N cx=686.5 cy=662 r=2.95 />
<circle class=G cx=691 cy=602.5 r=2.95 />
<circle class=P cx=726.5 cy=598.5 r=2.95 />
<circle class=M cx=729 cy=612.5 r=2.95 />
<circle class=L cx=721.5 cy=640.5 r=2.95 />
<circle class=P cx=715.5 cy=641 r=2.95 />
<circle class=R cx=731 cy=639.5 r=2.95 />
<circle class=P cx=736 cy=639.5 r=2.95 />
<circle class=N cx=722.5 cy=652.5 r=2.95 />
<circle class=M cx=749.5 cy=633 r=2.95 />
<circle class=G cx=747 cy=662.5 r=2.95 />
<circle class=B cx=757.5 cy=654.5 r=2.95 />
<circle class=B cx=765 cy=631 r=2.95 />
<circle class=B cx=772 cy=635.5 r=2.95 />
<circle class=L cx=780 cy=635.5 r=2.95 />
<circle class=N cx=791 cy=629 r=2.95 />
<circle class=R cx=806 cy=627 r=2.95 />
<circle class=P cx=819 cy=626 r=2.95 />
<circle class=N cx=847.5 cy=629 r=2.95 />
<circle class=P cx=846 cy=654.5 r=2.95 />
<circle class=G cx=845 cy=693.5 r=2.95 />
<circle class=B cx=858 cy=586 r=2.95 />
<circle class=P cx=873 cy=621.5 r=2.95 />
<circle class=L cx=880 cy=621 r=2.95 />
<circle class=N cx=848.5 cy=628.5 r=2.95 />
<circle class=B cx=853 cy=653.5 r=2.95 />
<circle class=M cx=1005.5 cy=641.5 r=2.95 />
<circle class=O cx=947.5 cy=685.5 r=2.95 />
<circle class=B cx=992 cy=682 r=2.95 />
<circle class=G cx=1024 cy=680 r=2.95 />
<circle class=G cx=845 cy=693.5 r=2.95 />
<circle class=L cx=1092 cy=636 r=2.95 />
<circle class=R cx=1148 cy=632.5 r=2.95 />
<circle class=N cx=1171.5 cy=631.5 r=2.95 />
<circle class=O cx=1116 cy=659.5 r=2.95 />
<circle class=B cx=1119.5 cy=658.5 r=2.95 />
<circle class=N cx=1142 cy=657.5 r=2.95 />
<circle class=G cx=1162.5 cy=656.5 r=2.95 />
<circle class=R cx=1217.5 cy=653.5 r=2.95 />
<circle class=P cx=1237.5 cy=652 r=2.95 />
<circle class=R cx=1226 cy=667.5 r=2.95 />
<circle class=M cx=1265.5 cy=665.5 r=2.95 />
<circle class=L cx=1269.5 cy=665.5 r=2.95 />
<circle class=M cx=1661 cy=633 r=2.95 />
<circle class=N cx=403 cy=758 r=2.95 />
<circle class=M cx=243.5 cy=719.5 r=2.95 />
<circle class=O cx=230.5 cy=715 r=2.95 />
<circle class=M cx=215 cy=752 r=2.95 />
<circle class=M cx=205.5 cy=775 r=2.95 />
<circle class=L cx=221 cy=735.5 r=2.95 />
<circle class=R cx=207 cy=738 r=2.95 />
<circle class=N cx=219.5 cy=727 r=2.95 />
<circle class=M cx=215 cy=724.5 r=2.95 />
<circle class=M cx=211.5 cy=711 r=2.95 />
<circle class=O cx=226.5 cy=695.5 r=2.95 />
<circle class=B cx=225 cy=703.5 r=2.95 />
<circle class=M cx=253.5 cy=694 r=2.95 />
<circle class=N cx=262.5 cy=695 r=2.95 />
<circle class=N cx=271 cy=692.5 r=2.95 />
<circle class=N cx=239.5 cy=691.5 r=2.95 />
<circle class=N cx=198 cy=890.5 r=2.95 />
<circle class=N cx=198 cy=899.5 r=2.95 />
<circle class=B cx=198 cy=910.5 r=2.95 />
<circle class=N cx=198 cy=922.5 r=2.95 />
<circle class=N cx=198 cy=929.5 r=2.95 />
<circle class=N cx=198 cy=947.5 r=2.95 />
<circle class=P cx=198.5 cy=1000 r=2.95 />
<circle class=L cx=321.5 cy=574.5 r=2.95 />
<circle class=B cx=309 cy=580 r=2.95 />
<circle class=B cx=311 cy=577 r=2.95 />
<circle class=L cx=299.5 cy=583.5 r=2.95 />
<circle class=L cx=291 cy=591 r=2.95 />
<circle class=M cx=313 cy=595 r=2.95 />
<circle class=B cx=334 cy=571 r=2.95 />
<circle class=N cx=310.5 cy=605 r=2.95 />
<circle class=N cx=301 cy=606.5 r=2.95 />
<circle class=O cx=303.5 cy=609.5 r=2.95 />
<circle class=B cx=309 cy=614.5 r=2.95 />
<circle class=M cx=316 cy=618 r=2.95 />
<circle class=N cx=296.5 cy=619.5 r=2.95 />
<circle class=O cx=300 cy=622.5 r=2.95 />
<circle class=O cx=314 cy=624.5 r=2.95 />
<circle class=N cx=294 cy=629 r=2.95 />
<circle class=P cx=324 cy=606.5 r=2.95 />
<circle class=M cx=346.5 cy=628 r=2.95 />
<circle class=M cx=359.5 cy=625.5 r=2.95 />
<circle class=O cx=364.5 cy=625 r=2.95 />
<circle class=M cx=373.5 cy=621 r=2.95 />
<circle class=L cx=372.5 cy=628 r=2.95 />
<circle class=B cx=387 cy=625 r=2.95 />
<circle class=M cx=383 cy=626 r=2.95 />
<circle class=G cx=388.5 cy=616.5 r=2.95 />
<circle class=N cx=404 cy=619.5 r=2.95 />
<circle class=N cx=414 cy=618.5 r=2.95 />
<circle class=B cx=414 cy=625.5 r=2.95 />
<circle class=O cx=421 cy=622.5 r=2.95 />
<circle class=P cx=405.5 cy=611.5 r=2.95 />
<circle class=B cx=433.5 cy=633.5 r=2.95 />
<circle class=N cx=456 cy=630 r=2.95 />
<circle class=P cx=450.5 cy=632 r=2.95 />
<circle class=N cx=391 cy=632.5 r=2.95 />
<circle class=L cx=380.5 cy=635.5 r=2.95 />
<circle class=P cx=421 cy=636 r=2.95 />
<circle class=B cx=445.5 cy=643.5 r=2.95 />
<circle class=L cx=451.5 cy=642 r=2.95 />
<circle class=P cx=457.5 cy=647 r=2.95 />
<circle class=N cx=404.5 cy=643.5 r=2.95 />
<circle class=P cx=396 cy=645.5 r=2.95 />
<circle class=G cx=416 cy=640.5 r=2.95 />
<circle class=P cx=422 cy=645 r=2.95 />
<circle class=B cx=383 cy=648 r=2.95 />
<circle class=M cx=361.5 cy=641.5 r=2.95 />
<circle class=M cx=366.5 cy=644.5 r=2.95 />
<circle class=B cx=354.5 cy=637 r=2.95 />
<circle class=N cx=346.5 cy=640.5 r=2.95 />
<circle class=B cx=350.5 cy=648.5 r=2.95 />
<circle class=M cx=352.5 cy=642.5 r=2.95 />
<circle class=O cx=337.5 cy=634.5 r=2.95 />
<circle class=P cx=334.5 cy=640.5 r=2.95 />
<circle class=N cx=326.5 cy=640.5 r=2.95 />
<circle class=N cx=320 cy=641.5 r=2.95 />
<circle class=M cx=311 cy=643.5 r=2.95 />
<circle class=N cx=298.5 cy=640.5 r=2.95 />
<circle class=N cx=298.5 cy=647.5 r=2.95 />
<circle class=B cx=306.5 cy=648.5 r=2.95 />
<circle class=M cx=292 cy=646.5 r=2.95 />
<circle class=N cx=441 cy=650.5 r=2.95 />
<circle class=M cx=402 cy=651 r=2.95 />
<circle class=G cx=392 cy=652.5 r=2.95 />
<circle class=B cx=450 cy=655.5 r=2.95 />
<circle class=M cx=456.5 cy=653.5 r=2.95 />
<circle class=L cx=451.5 cy=660.5 r=2.95 />
<circle class=N cx=403 cy=660 r=2.95 />
<circle class=N cx=405 cy=659 r=2.95 />
<circle class=L cx=415.5 cy=658.5 r=2.95 />
<circle class=O cx=390 cy=664.5 r=2.95 />
<circle class=B cx=375.5 cy=659.5 r=2.95 />
<circle class=P cx=371.5 cy=662.5 r=2.95 />
<circle class=M cx=384.5 cy=667.5 r=2.95 />
<circle class=N cx=401 cy=667.5 r=2.95 />
<circle class=M cx=407.5 cy=670.5 r=2.95 />
<circle class=O cx=417.5 cy=668 r=2.95 />
<circle class=P cx=428 cy=665.5 r=2.95 />
<circle class=M cx=354.5 cy=658.5 r=2.95 />
<circle class=P cx=350.5 cy=660.5 r=2.95 />
<circle class=M cx=348.5 cy=667 r=2.95 />
<circle class=L cx=350.5 cy=677.5 r=2.95 />
<circle class=M cx=354.5 cy=687 r=2.95 />
<circle class=N cx=333.5 cy=672.5 r=2.95 />
<circle class=B cx=325 cy=679.5 r=2.95 />
<circle class=M cx=314.5 cy=684.5 r=2.95 />
<circle class=P cx=306.5 cy=688.5 r=2.95 />
<circle class=N cx=310 cy=674 r=2.95 />
<circle class=N cx=392 cy=675 r=2.95 />
<circle class=N cx=456.5 cy=691.5 r=2.95 />
<circle class=M cx=317 cy=663 r=2.95 />
<circle class=M cx=319 cy=664.5 r=2.95 />
<circle class=L cx=313 cy=659.5 r=2.95 />
<circle class=N cx=302 cy=667.5 r=2.95 />
<circle class=N cx=293 cy=660.5 r=2.95 />
<circle class=P cx=324.5 cy=655.5 r=2.95 />
<circle class=P cx=339.5 cy=653.5 r=2.95 />
<circle class=M cx=290 cy=680 r=2.95 />
</g>
<line x1="125.1" x2="1734.3" y1="629.6" y2="629.6" stroke="#5a1424" stroke-width="2.3"/>
<line x1="125.1" x2="1734.3" y1="652.2" y2="652.2" stroke="#5a1424" stroke-width="2.3"/>
<line x1="125.1" x2="1734.3" y1="674.7" y2="674.7" stroke="#5a1424" stroke-width="2.3"/>
<path d="M125.1,125.2 V1041.7 H1734.3" fill="none" stroke="#000" stroke-width="4.3" stroke-linecap="butt" stroke-linejoin="round"/>
<line x1="113.2" x2="125.1" y1="139.4" y2="139.4" stroke="#333" stroke-width="4.3"/>
<text x="104.3" y="152.5" class="tk" text-anchor="end">4</text>
<line x1="113.2" x2="125.1" y1="395.8" y2="395.8" stroke="#333" stroke-width="4.3"/>
<text x="104.3" y="408.9" class="tk" text-anchor="end">2</text>
<line x1="113.2" x2="125.1" y1="652.2" y2="652.2" stroke="#333" stroke-width="4.3"/>
<text x="104.3" y="665.3" class="tk" text-anchor="end">0</text>
<line x1="113.2" x2="125.1" y1="908.6" y2="908.6" stroke="#333" stroke-width="4.3"/>
<text x="104.3" y="921.7" class="tk" text-anchor="end">-2</text>
<line x1="198.0" x2="198.0" y1="1041.7" y2="1053.4" stroke="#333" stroke-width="4.3"/>
<text x="198.0" y="1090" class="tk" text-anchor="middle">0e+00</text>
<line x1="717.0" x2="717.0" y1="1041.7" y2="1053.4" stroke="#333" stroke-width="4.3"/>
<text x="717.0" y="1090" class="tk" text-anchor="middle">1e+05</text>
<line x1="1236.0" x2="1236.0" y1="1041.7" y2="1053.4" stroke="#333" stroke-width="4.3"/>
<text x="1236.0" y="1090" class="tk" text-anchor="middle">2e+05</text>
<text x="929.7" y="1143.5" class="ti" text-anchor="middle">Expression [rpmm]</text>
<text transform="translate(46.7,582.6) rotate(-90)" class="ti" text-anchor="middle">Foldchange</text>
<text x="1805" y="297.8" class="lt">Age</text>
<circle cx="1840.2" cy="361.8" r="2.6" fill="#F0C8B8" fill-opacity="0.45"/>
<text x="1899.7" y="375.7" class="lg">12 months</text>
<circle cx="1840.2" cy="434.7" r="2.6" fill="#D0D0D0" fill-opacity="0.45"/>
<text x="1899.7" y="448.6" class="lg">15 months</text>
<circle cx="1840.2" cy="507.6" r="2.6" fill="#7FB0CF" fill-opacity="0.85"/>
<text x="1899.7" y="521.5" class="lg">18 months</text>
<circle cx="1840.2" cy="580.5" r="2.6" fill="#4383B3" fill-opacity="0.85"/>
<text x="1899.7" y="594.4" class="lg">21 months</text>
<circle cx="1840.2" cy="653.4" r="2.6" fill="#2A5E9C" fill-opacity="0.85"/>
<text x="1899.7" y="667.3" class="lg">24 months</text>
<circle cx="1840.2" cy="726.3" r="2.6" fill="#1B3560" fill-opacity="0.85"/>
<text x="1899.7" y="740.2" class="lg">27 months</text>
<circle cx="1840.2" cy="799.2" r="2.6" fill="#B2384B" fill-opacity="0.85"/>
<text x="1899.7" y="813.1" class="lg">6 months</text>
<circle cx="1840.2" cy="872.1" r="2.6" fill="#F0A07A" fill-opacity="0.85"/>
<text x="1899.7" y="886.0" class="lg">9 months</text>
</g>
<g transform="translate(0,1562.3)">
<clipPath id="clipB"><rect x="125.1" y="125.2" width="1609.2" height="916.5"/></clipPath>
<g clip-path="url(#clipB)">
<circle class=B cx=197.5 cy=529.5 r=2.95 />
<circle class=N cx=198 cy=544 r=2.95 />
<circle class=R cx=197.5 cy=536 r=2.95 />
<circle class=B cx=198.5 cy=540 r=2.95 />
<circle class=B cx=198 cy=544.5 r=2.95 />
<circle class=N cx=198 cy=534.5 r=2.95 />
<circle class=M cx=197.5 cy=558.5 r=2.95 />
<circle class=N cx=197.5 cy=541 r=2.95 />
<circle class=B cx=198.5 cy=556 r=2.95 />
<circle class=B cx=197.5 cy=535 r=2.95 />
<circle class=M cx=198.5 cy=557 r=2.95 />
<circle class=B cx=198.5 cy=553.5 r=2.95 />
<circle class=L cx=197.5 cy=541.5 r=2.95 />
<circle class=N cx=198 cy=540 r=2.95 />
<circle class=N cx=198 cy=534 r=2.95 />
<circle class=B cx=199 cy=530 r=2.95 />
<circle class=B cx=197.5 cy=541 r=2.95 />
<circle class=B cx=198 cy=529.5 r=2.95 />
<circle class=N cx=197.5 cy=545 r=2.95 />
<circle class=B cx=198.5 cy=539 r=2.95 />
<circle class=L cx=196.5 cy=556 r=2.95 />
<circle class=B cx=197.5 cy=538 r=2.95 />
<circle class=M cx=197 cy=553.5 r=2.95 />
<circle class=N cx=198.5 cy=556.5 r=2.95 />
<circle class=O cx=198.5 cy=530 r=2.95 />
<circle class=N cx=197.5 cy=545 r=2.95 />
<circle class=B cx=198.5 cy=543.5 r=2.95 />
<circle class=N cx=198.5 cy=530 r=2.95 />
<circle class=N cx=197.5 cy=551 r=2.95 />
<circle class=N cx=199 cy=554.5 r=2.95 />
<circle class=L cx=197.5 cy=559.5 r=2.95 />
<circle class=N cx=198 cy=538 r=2.95 />
<circle class=L cx=197 cy=538.5 r=2.95 />
<circle class=N cx=198.5 cy=549.5 r=2.95 />
<circle class=N cx=197.5 cy=536 r=2.95 />
<circle class=N cx=197.5 cy=531 r=2.95 />
<circle class=N cx=198 cy=550 r=2.95 />
<circle class=N cx=199 cy=553 r=2.95 />
<circle class=N cx=197.5 cy=555 r=2.95 />
<circle class=B cx=197.5 cy=542 r=2.95 />
<circle class=L cx=199 cy=547.5 r=2.95 />
<circle class=O cx=198.5 cy=531.5 r=2.95 />
<circle class=M cx=198.5 cy=559 r=2.95 />
<circle class=N cx=196.5 cy=558.5 r=2.95 />
<circle class=N cx=198.5 cy=536 r=2.95 />
<circle class=N cx=197.5 cy=541 r=2.95 />
<circle class=N cx=197 cy=540.5 r=2.95 />
<circle class=B cx=198 cy=545 r=2.95 />
<circle class=N cx=199 cy=534 r=2.95 />
<circle class=B cx=197 cy=541.5 r=2.95 />
<circle class=M cx=197.5 cy=534 r=2.95 />
<circle class=B cx=198 cy=546 r=2.95 />
<circle class=N cx=197.5 cy=531 r=2.95 />
<circle class=B cx=197.5 cy=555 r=2.95 />
<circle class=N cx=198.5 cy=534 r=2.95 />
<circle class=N cx=198 cy=543.5 r=2.95 />
<circle class=N cx=197 cy=559 r=2.95 />
<circle class=B cx=197.5 cy=555.5 r=2.95 />
<circle class=B cx=198 cy=547.5 r=2.95 />
<circle class=B cx=198.5 cy=538 r=2.95 />
<circle class=B cx=198 cy=733.5 r=2.95 />
<circle class=B cx=199.5 cy=649.5 r=2.95 />
<circle class=B cx=199 cy=667 r=2.95 />
<circle class=N cx=197.5 cy=705 r=2.95 />
<circle class=B cx=198 cy=734 r=2.95 />
<circle class=B cx=197.5 cy=714 r=2.95 />
<circle class=L cx=197.5 cy=647 r=2.95 />
<circle class=N cx=197.5 cy=594.5 r=2.95 />
<circle class=B cx=198 cy=735.5 r=2.95 />
<circle class=N cx=196.5 cy=659.5 r=2.95 />
<circle class=B cx=198.5 cy=694 r=2.95 />
<circle class=B cx=199 cy=648.5 r=2.95 />
<circle class=M cx=197 cy=655 r=2.95 />
<circle class=B cx=196 cy=722 r=2.95 />
<circle class=N cx=197 cy=680 r=2.95 />
<circle class=B cx=198 cy=663.5 r=2.95 />
<circle class=B cx=197.5 cy=719.5 r=2.95 />
<circle class=B cx=198 cy=674 r=2.95 />
<circle class=B cx=199 cy=639.5 r=2.95 />
<circle class=M cx=198.5 cy=676.5 r=2.95 />
<circle class=L cx=198 cy=627.5 r=2.95 />
<circle class=P cx=197.5 cy=587.5 r=2.95 />
<circle class=M cx=198 cy=662 r=2.95 />
<circle class=L cx=197 cy=646.5 r=2.95 />
<circle class=N cx=199 cy=662 r=2.95 />
<circle class=B cx=198.5 cy=578 r=2.95 />
<circle class=N cx=198 cy=715.5 r=2.95 />
<circle class=M cx=197.5 cy=614 r=2.95 />
<circle class=B cx=198 cy=699.5 r=2.95 />
<circle class=B cx=198.5 cy=715.5 r=2.95 />
<circle class=R cx=197.5 cy=719 r=2.95 />
<circle class=B cx=197 cy=683 r=2.95 />
<circle class=N cx=197 cy=733.5 r=2.95 />
<circle class=B cx=198.5 cy=616 r=2.95 />
<circle class=B cx=197.5 cy=738 r=2.95 />
<circle class=B cx=197 cy=587 r=2.95 />
<circle class=M cx=198.5 cy=602.5 r=2.95 />
<circle class=B cx=199 cy=662 r=2.95 />
<circle class=N cx=198 cy=691 r=2.95 />
<circle class=B cx=198 cy=616.5 r=2.95 />
<circle class=B cx=197.5 cy=702 r=2.95 />
<circle class=B cx=196.5 cy=568 r=2.95 />
<circle class=B cx=199.5 cy=726.5 r=2.95 />
<circle class=N cx=197.5 cy=651 r=2.95 />
<circle class=B cx=199 cy=601 r=2.95 />
<circle class=B cx=197.5 cy=696 r=2.95 />
<circle class=N cx=197 cy=606.5 r=2.95 />
<circle class=B cx=197.5 cy=734.5 r=2.95 />
<circle class=M cx=196 cy=589 r=2.95 />
<circle class=N cx=198 cy=637 r=2.95 />
<circle class=B cx=198.5 cy=582 r=2.95 />
<circle class=B cx=198 cy=617 r=2.95 />
<circle class=B cx=198 cy=609 r=2.95 />
<circle class=M cx=199 cy=693 r=2.95 />
<circle class=R cx=199 cy=690 r=2.95 />
<circle class=N cx=198.5 cy=581 r=2.95 />
<circle class=B cx=197 cy=581.5 r=2.95 />
<circle class=B cx=198 cy=682.5 r=2.95 />
<circle class=B cx=199 cy=722 r=2.95 />
<circle class=B cx=197 cy=574 r=2.95 />
<circle class=N cx=198.5 cy=699 r=2.95 />
<circle class=B cx=198 cy=639 r=2.95 />
<circle class=N cx=198.5 cy=710 r=2.95 />
<circle class=B cx=198.5 cy=714 r=2.95 />
<circle class=B cx=198 cy=595 r=2.95 />
<circle class=B cx=197.5 cy=625.5 r=2.95 />
<circle class=B cx=198 cy=631.5 r=2.95 />
<circle class=M cx=196.5 cy=696.5 r=2.95 />
<circle class=B cx=198.5 cy=659.5 r=2.95 />
<circle class=M cx=197.5 cy=618 r=2.95 />
<circle class=N cx=198.5 cy=726 r=2.95 />
<circle class=M cx=197.5 cy=615 r=2.95 />
<circle class=B cx=198 cy=718.5 r=2.95 />
<circle class=B cx=199 cy=703 r=2.95 />
<circle class=N cx=197.5 cy=624.5 r=2.95 />
<circle class=N cx=199 cy=681.5 r=2.95 />
<circle class=B cx=198 cy=678.5 r=2.95 />
<circle class=M cx=196.5 cy=715 r=2.95 />
<circle class=M cx=198 cy=585 r=2.95 />
<circle class=N cx=198 cy=581.5 r=2.95 />
<circle class=B cx=198.5 cy=577.5 r=2.95 />
<circle class=B cx=199 cy=595 r=2.95 />
<circle class=N cx=197.5 cy=605 r=2.95 />
<circle class=N cx=198.5 cy=726.5 r=2.95 />
<circle class=B cx=197.5 cy=709 r=2.95 />
<circle class=L cx=198 cy=689 r=2.95 />
<circle class=N cx=197.5 cy=603 r=2.95 />
<circle class=N cx=198 cy=589.5 r=2.95 />
<circle class=N cx=197 cy=602.5 r=2.95 />
<circle class=B cx=199 cy=576 r=2.95 />
<circle class=B cx=197.5 cy=617 r=2.95 />
<circle class=B cx=197 cy=693 r=2.95 />
<circle class=M cx=198 cy=688.5 r=2.95 />
<circle class=R cx=198 cy=638 r=2.95 />
<circle class=L cx=198 cy=587 r=2.95 />
<circle class=N cx=197.5 cy=578 r=2.95 />
<circle class=B cx=198 cy=676.5 r=2.95 />
<circle class=M cx=196.5 cy=580.5 r=2.95 />
<circle class=B cx=198 cy=671.5 r=2.95 />
<circle class=N cx=198 cy=611 r=2.95 />
<circle class=N cx=198.5 cy=724 r=2.95 />
<circle class=M cx=199 cy=613 r=2.95 />
<circle class=N cx=196.5 cy=561.5 r=2.95 />
<circle class=L cx=198 cy=576.5 r=2.95 />
<circle class=B cx=196.5 cy=703.5 r=2.95 />
<circle class=N cx=198.5 cy=601.5 r=2.95 />
<circle class=N cx=199 cy=705 r=2.95 />
<circle class=B cx=199 cy=733 r=2.95 />
<circle class=N cx=199 cy=645.5 r=2.95 />
<circle class=B cx=197 cy=631 r=2.95 />
<circle class=B cx=198 cy=738.5 r=2.95 />
<circle class=M cx=198.5 cy=647 r=2.95 />
<circle class=B cx=198 cy=676.5 r=2.95 />
<circle class=B cx=197.5 cy=725 r=2.95 />
<circle class=N cx=198.5 cy=723 r=2.95 />
<circle class=B cx=198 cy=689.5 r=2.95 />
<circle class=B cx=197.5 cy=624.5 r=2.95 />
<circle class=M cx=197.5 cy=625 r=2.95 />
<circle class=B cx=198.5 cy=602 r=2.95 />
<circle class=B cx=197.5 cy=615.5 r=2.95 />
<circle class=L cx=199 cy=621.5 r=2.95 />
<circle class=N cx=198 cy=647.5 r=2.95 />
<circle class=B cx=198.5 cy=655.5 r=2.95 />
<circle class=B cx=198 cy=588 r=2.95 />
<circle class=B cx=199 cy=643.5 r=2.95 />
<circle class=M cx=197 cy=613.5 r=2.95 />
<circle class=R cx=198.5 cy=618.5 r=2.95 />
<circle class=M cx=197 cy=598.5 r=2.95 />
<circle class=M cx=198 cy=614.5 r=2.95 />
<circle class=N cx=198 cy=666.5 r=2.95 />
<circle class=N cx=198.5 cy=604 r=2.95 />
<circle class=B cx=199 cy=711 r=2.95 />
<circle class=B cx=199 cy=650 r=2.95 />
<circle class=M cx=197.5 cy=660 r=2.95 />
<circle class=M cx=197 cy=703 r=2.95 />
<circle class=B cx=197.5 cy=712 r=2.95 />
<circle class=L cx=198 cy=692 r=2.95 />
<circle class=B cx=198.5 cy=661.5 r=2.95 />
<circle class=N cx=197.5 cy=712 r=2.95 />
<circle class=R cx=197.5 cy=572 r=2.95 />
<circle class=B cx=198 cy=639.5 r=2.95 />
<circle class=M cx=198 cy=722 r=2.95 />
<circle class=L cx=197 cy=571.5 r=2.95 />
<circle class=N cx=199 cy=583.5 r=2.95 />
<circle class=B cx=198 cy=627.5 r=2.95 />
<circle class=N cx=197.5 cy=616 r=2.95 />
<circle class=M cx=198.5 cy=735.5 r=2.95 />
<circle class=N cx=198.5 cy=736.5 r=2.95 />
<circle class=N cx=196.5 cy=715.5 r=2.95 />
<circle class=B cx=197 cy=640.5 r=2.95 />
<circle class=P cx=197.5 cy=703.5 r=2.95 />
<circle class=N cx=198.5 cy=722 r=2.95 />
<circle class=N cx=197.5 cy=693.5 r=2.95 />
<circle class=B cx=199 cy=587.5 r=2.95 />
<circle class=N cx=198 cy=726 r=2.95 />
<circle class=B cx=198 cy=703 r=2.95 />
<circle class=P cx=198.5 cy=731 r=2.95 />
<circle class=B cx=198 cy=618.5 r=2.95 />
<circle class=N cx=198.5 cy=592 r=2.95 />
<circle class=N cx=199 cy=623.5 r=2.95 />
<circle class=B cx=197.5 cy=663 r=2.95 />
<circle class=B cx=199 cy=674 r=2.95 />
<circle class=N cx=197 cy=603 r=2.95 />
<circle class=O cx=197.5 cy=696 r=2.95 />
<circle class=N cx=197.5 cy=561 r=2.95 />
<circle class=B cx=198 cy=585 r=2.95 />
<circle class=L cx=198.5 cy=696.5 r=2.95 />
<circle class=B cx=197 cy=611 r=2.95 />
<circle class=B cx=197.5 cy=692 r=2.95 />
<circle class=N cx=198 cy=611.5 r=2.95 />
<circle class=B cx=198.5 cy=640 r=2.95 />
<circle class=N cx=199.5 cy=705 r=2.95 />
<circle class=B cx=198.5 cy=608 r=2.95 />
<circle class=B cx=199 cy=719 r=2.95 />
<circle class=B cx=198 cy=617.5 r=2.95 />
<circle class=N cx=197.5 cy=675 r=2.95 />
<circle class=N cx=198.5 cy=566.5 r=2.95 />
<circle class=B cx=198 cy=668 r=2.95 />
<circle class=L cx=197.5 cy=630.5 r=2.95 />
<circle class=B cx=199.5 cy=715.5 r=2.95 />
<circle class=N cx=198 cy=643.5 r=2.95 />
<circle class=N cx=197 cy=644 r=2.95 />
<circle class=N cx=197.5 cy=729 r=2.95 />
<circle class=B cx=198 cy=679.5 r=2.95 />
<circle class=B cx=197.5 cy=580.5 r=2.95 />
<circle class=B cx=198.5 cy=682.5 r=2.95 />
<circle class=B cx=198 cy=592 r=2.95 />
<circle class=N cx=197.5 cy=690 r=2.95 />
<circle class=N cx=198 cy=642 r=2.95 />
<circle class=N cx=198 cy=615.5 r=2.95 />
<circle class=B cx=198 cy=673 r=2.95 />
<circle class=B cx=198.5 cy=733.5 r=2.95 />
<circle class=B cx=199 cy=636 r=2.95 />
<circle class=B cx=198.5 cy=566.5 r=2.95 />
<circle class=M cx=197.5 cy=686.5 r=2.95 />
<circle class=B cx=197 cy=728 r=2.95 />
<circle class=B cx=198.5 cy=625.5 r=2.95 />
<circle class=B cx=198 cy=724.5 r=2.95 />
<circle class=B cx=197.5 cy=689 r=2.95 />
<circle class=L cx=199 cy=599 r=2.95 />
<circle class=L cx=197.5 cy=799.5 r=2.95 />
<circle class=N cx=198 cy=759 r=2.95 />
<circle class=L cx=199.5 cy=751 r=2.95 />
<circle class=N cx=198 cy=768 r=2.95 />
<circle class=N cx=197.5 cy=767 r=2.95 />
<circle class=B cx=198.5 cy=820.5 r=2.95 />
<circle class=N cx=199 cy=815 r=2.95 />
<circle class=N cx=198.5 cy=768.5 r=2.95 />
<circle class=B cx=197 cy=824.5 r=2.95 />
<circle class=L cx=198.5 cy=792.5 r=2.95 />
<circle class=B cx=198 cy=767 r=2.95 />
<circle class=P cx=198 cy=809.5 r=2.95 />
<circle class=N cx=197.5 cy=797.5 r=2.95 />
<circle class=B cx=198 cy=787 r=2.95 />
<circle class=B cx=199 cy=771.5 r=2.95 />
<circle class=M cx=198.5 cy=826.5 r=2.95 />
<circle class=L cx=198 cy=750 r=2.95 />
<circle class=B cx=198 cy=790 r=2.95 />
<circle class=B cx=199 cy=796.5 r=2.95 />
<circle class=N cx=198.5 cy=745.5 r=2.95 />
<circle class=N cx=196.5 cy=819 r=2.95 />
<circle class=N cx=198 cy=778 r=2.95 />
<circle class=B cx=199.5 cy=796.5 r=2.95 />
<circle class=B cx=198.5 cy=813.5 r=2.95 />
<circle class=L cx=197 cy=811.5 r=2.95 />
<circle class=B cx=198.5 cy=818.5 r=2.95 />
<circle class=B cx=198 cy=750 r=2.95 />
<circle class=B cx=198 cy=778.5 r=2.95 />
<circle class=L cx=197 cy=756.5 r=2.95 />
<circle class=B cx=197.5 cy=816 r=2.95 />
<circle class=B cx=198 cy=779.5 r=2.95 />
<circle class=B cx=198 cy=821 r=2.95 />
<circle class=M cx=197 cy=767 r=2.95 />
<circle class=B cx=197 cy=821.5 r=2.95 />
<circle class=B cx=198.5 cy=787 r=2.95 />
<circle class=B cx=198 cy=753 r=2.95 />
<circle class=B cx=198 cy=826.5 r=2.95 />
<circle class=N cx=197.5 cy=803 r=2.95 />
<circle class=N cx=198 cy=763 r=2.95 />
<circle class=B cx=197.5 cy=818 r=2.95 />
<circle class=R cx=197.5 cy=746 r=2.95 />
<circle class=M cx=198.5 cy=771 r=2.95 />
<circle class=B cx=197.5 cy=794.5 r=2.95 />
<circle class=B cx=197 cy=771 r=2.95 />
<circle class=B cx=197.5 cy=774.5 r=2.95 />
<circle class=B cx=197.5 cy=772 r=2.95 />
<circle class=B cx=198 cy=798 r=2.95 />
<circle class=R cx=197.5 cy=764.5 r=2.95 />
<circle class=N cx=197 cy=801.5 r=2.95 />
<circle class=B cx=198.5 cy=803.5 r=2.95 />
<circle class=L cx=198 cy=791 r=2.95 />
<circle class=N cx=197.5 cy=788 r=2.95 />
<circle class=N cx=198.5 cy=795 r=2.95 />
<circle class=N cx=198 cy=790.5 r=2.95 />
<circle class=M cx=198 cy=775 r=2.95 />
<circle class=L cx=197 cy=780 r=2.95 />
<circle class=B cx=199 cy=803 r=2.95 />
<circle class=B cx=196.5 cy=782.5 r=2.95 />
<circle class=B cx=197 cy=781 r=2.95 />
<circle class=B cx=197 cy=794 r=2.95 />
<circle class=N cx=198 cy=805 r=2.95 />
<circle class=N cx=197.5 cy=747 r=2.95 />
<circle class=B cx=198.5 cy=772.5 r=2.95 />
<circle class=B cx=198 cy=742 r=2.95 />
<circle class=N cx=199 cy=794.5 r=2.95 />
<circle class=B cx=199.5 cy=796.5 r=2.95 />
<circle class=N cx=198 cy=804 r=2.95 />
<circle class=B cx=199 cy=770 r=2.95 />
<circle class=B cx=198 cy=780.5 r=2.95 />
<circle class=B cx=199 cy=746.5 r=2.95 />
<circle class=M cx=198 cy=820 r=2.95 />
<circle class=B cx=198.5 cy=816 r=2.95 />
<circle class=M cx=197.5 cy=799 r=2.95 />
<circle class=R cx=198 cy=780.5 r=2.95 />
<circle class=M cx=197.5 cy=788.5 r=2.95 />
<circle class=B cx=198 cy=820.5 r=2.95 />
<circle class=L cx=198 cy=781 r=2.95 />
<circle class=N cx=198 cy=807.5 r=2.95 />
<circle class=N cx=197 cy=823 r=2.95 />
<circle class=M cx=197.5 cy=747.5 r=2.95 />
<circle class=N cx=197.5 cy=770 r=2.95 />
<circle class=N cx=199 cy=770.5 r=2.95 />
<circle class=N cx=198.5 cy=785 r=2.95 />
<circle class=P cx=198 cy=781.5 r=2.95 />
<circle class=B cx=198.5 cy=790 r=2.95 />
<circle class=L cx=199 cy=749.5 r=2.95 />
<circle class=B cx=197.5 cy=778 r=2.95 />
<circle class=N cx=197.5 cy=804 r=2.95 />
<circle class=B cx=197.5 cy=808.5 r=2.95 />
<circle class=M cx=198.5 cy=821.5 r=2.95 />
<circle class=B cx=197.5 cy=770 r=2.95 />
<circle class=M cx=199 cy=813 r=2.95 />
<circle class=M cx=197.5 cy=819 r=2.95 />
<circle class=N cx=198.5 cy=811.5 r=2.95 />
<circle class=M cx=198.5 cy=779 r=2.95 />
<circle class=N cx=198 cy=805 r=2.95 />
<circle class=B cx=197.5 cy=776.5 r=2.95 />
<circle class=B cx=199 cy=746 r=2.95 />
<circle class=B cx=198.5 cy=804.5 r=2.95 />
<circle class=B cx=197.5 cy=773.5 r=2.95 />
<circle class=N cx=198.5 cy=815.5 r=2.95 />
<circle class=B cx=198.5 cy=756.5 r=2.95 />
<circle class=B cx=198.5 cy=783 r=2.95 />
<circle class=M cx=198 cy=777 r=2.95 />
<circle class=M cx=198 cy=754 r=2.95 />
<circle class=N cx=197 cy=773.5 r=2.95 />
<circle class=M cx=197.5 cy=745 r=2.95 />
<circle class=N cx=197 cy=768 r=2.95 />
<circle class=L cx=198 cy=810.5 r=2.95 />
<circle class=B cx=196.5 cy=823 r=2.95 />
<circle class=B cx=199 cy=790 r=2.95 />
<circle class=N cx=199 cy=810 r=2.95 />
<circle class=B cx=199 cy=802.5 r=2.95 />
<circle class=B cx=197.5 cy=796 r=2.95 />
<circle class=L cx=199 cy=815 r=2.95 />
<circle class=N cx=197.5 cy=774 r=2.95 />
<circle class=R cx=198.5 cy=785.5 r=2.95 />
<circle class=N cx=198 cy=757.5 r=2.95 />
<circle class=B cx=197.5 cy=779 r=2.95 />
<circle class=N cx=198.5 cy=759.5 r=2.95 />
<circle class=N cx=197 cy=743.5 r=2.95 />
<circle class=N cx=199 cy=778 r=2.95 />
<circle class=L cx=198.5 cy=751 r=2.95 />
<circle class=B cx=197.5 cy=814 r=2.95 />
<circle class=N cx=197.5 cy=819.5 r=2.95 />
<circle class=M cx=198.5 cy=785 r=2.95 />
<circle class=M cx=197.5 cy=764 r=2.95 />
<circle class=B cx=197 cy=773.5 r=2.95 />
<circle class=N cx=198 cy=811 r=2.95 />
<circle class=M cx=197 cy=781.5 r=2.95 />
<circle class=N cx=198.5 cy=762 r=2.95 />
<circle class=B cx=199.5 cy=817.5 r=2.95 />
<circle class=N cx=197 cy=824.5 r=2.95 />
<circle class=N cx=198 cy=762.5 r=2.95 />
<circle class=M cx=196.5 cy=752.5 r=2.95 />
<circle class=B cx=197.5 cy=745 r=2.95 />
<circle class=B cx=198 cy=748 r=2.95 />
<circle class=B cx=200 cy=819 r=2.95 />
<circle class=B cx=198.5 cy=797.5 r=2.95 />
<circle class=B cx=199 cy=820 r=2.95 />
<circle class=B cx=198 cy=754.5 r=2.95 />
<circle class=M cx=199 cy=763 r=2.95 />
<circle class=N cx=197.5 cy=816.5 r=2.95 />
<circle class=B cx=196.5 cy=785 r=2.95 />
<circle class=N cx=197.5 cy=814 r=2.95 />
<circle class=B cx=197.5 cy=802 r=2.95 />
<circle class=B cx=198 cy=759 r=2.95 />
<circle class=B cx=199 cy=785.5 r=2.95 />
<circle class=B cx=198.5 cy=824.5 r=2.95 />
<circle class=B cx=199 cy=794 r=2.95 />
<circle class=B cx=198.5 cy=775.5 r=2.95 />
<circle class=B cx=198.5 cy=766 r=2.95 />
<circle class=N cx=199 cy=770 r=2.95 />
<circle class=B cx=198 cy=793 r=2.95 />
<circle class=M cx=197 cy=769.5 r=2.95 />
<circle class=B cx=197.5 cy=781.5 r=2.95 />
<circle class=N cx=200.5 cy=795 r=2.95 />
<circle class=M cx=198.5 cy=800 r=2.95 />
<circle class=N cx=198.5 cy=810.5 r=2.95 />
<circle class=M cx=199 cy=796 r=2.95 />
<circle class=N cx=196.5 cy=747.5 r=2.95 />
<circle class=B cx=198.5 cy=789.5 r=2.95 />
<circle class=B cx=199 cy=755 r=2.95 />
<circle class=N cx=199 cy=758.5 r=2.95 />
<circle class=M cx=196.5 cy=819.5 r=2.95 />
<circle class=L cx=199.5 cy=788 r=2.95 />
<circle class=N cx=198.5 cy=820.5 r=2.95 />
<circle class=O cx=197.5 cy=793 r=2.95 />
<circle class=N cx=198.5 cy=821 r=2.95 />
<circle class=N cx=198.5 cy=770 r=2.95 />
<circle class=N cx=197.5 cy=792.5 r=2.95 />
<circle class=L cx=197 cy=764 r=2.95 />
<circle class=N cx=197.5 cy=798.5 r=2.95 />
<circle class=M cx=198 cy=770.5 r=2.95 />
<circle class=N cx=199 cy=782.5 r=2.95 />
<circle class=B cx=198 cy=806 r=2.95 />
<circle class=B cx=198 cy=790.5 r=2.95 />
<circle class=M cx=197 cy=743 r=2.95 />
<circle class=N cx=198 cy=775.5 r=2.95 />
<circle class=B cx=197.5 cy=820 r=2.95 />
<circle class=B cx=198.5 cy=820 r=2.95 />
<circle class=B cx=197 cy=812.5 r=2.95 />
<circle class=N cx=199 cy=826.5 r=2.95 />
<circle class=B cx=197.5 cy=795.5 r=2.95 />
<circle class=N cx=199 cy=810.5 r=2.95 />
<circle class=B cx=196.5 cy=817.5 r=2.95 />
<circle class=B cx=198.5 cy=790.5 r=2.95 />
<circle class=M cx=197.5 cy=815 r=2.95 />
<circle class=P cx=197 cy=814.5 r=2.95 />
<circle class=B cx=198 cy=824.5 r=2.95 />
<circle class=B cx=198 cy=790.5 r=2.95 />
<circle class=N cx=197.5 cy=771.5 r=2.95 />
<circle class=B cx=196.5 cy=754 r=2.95 />
<circle class=N cx=197 cy=810.5 r=2.95 />
<circle class=B cx=199 cy=759.5 r=2.95 />
<circle class=O cx=197 cy=784 r=2.95 />
<circle class=M cx=198.5 cy=828 r=2.95 />
<circle class=N cx=198 cy=763.5 r=2.95 />
<circle class=N cx=197.5 cy=822 r=2.95 />
<circle class=P cx=198 cy=748 r=2.95 />
<circle class=M cx=197 cy=931 r=2.95 />
<circle class=N cx=198.5 cy=839.5 r=2.95 />
<circle class=B cx=199 cy=870 r=2.95 />
<circle class=M cx=198 cy=909 r=2.95 />
<circle class=N cx=198.5 cy=862.5 r=2.95 />
<circle class=L cx=198 cy=918 r=2.95 />
<circle class=M cx=197.5 cy=912 r=2.95 />
<circle class=M cx=196.5 cy=923.5 r=2.95 />
<circle class=M cx=197.5 cy=935 r=2.95 />
<circle class=B cx=198.5 cy=879.5 r=2.95 />
<circle class=B cx=198.5 cy=931 r=2.95 />
<circle class=M cx=199 cy=964.5 r=2.95 />
<circle class=M cx=200 cy=943 r=2.95 />
<circle class=B cx=198.5 cy=911.5 r=2.95 />
<circle class=B cx=198 cy=849 r=2.95 />
<circle class=M cx=199 cy=918.5 r=2.95 />
<circle class=B cx=197.5 cy=927.5 r=2.95 />
<circle class=B cx=198 cy=913.5 r=2.95 />
<circle class=M cx=197.5 cy=868.5 r=2.95 />
<circle class=N cx=197 cy=932 r=2.95 />
<circle class=N cx=199.5 cy=884 r=2.95 />
<circle class=L cx=198.5 cy=864 r=2.95 />
<circle class=M cx=199 cy=880.5 r=2.95 />
<circle class=M cx=199 cy=874.5 r=2.95 />
<circle class=L cx=200 cy=888.5 r=2.95 />
<circle class=M cx=197.5 cy=903 r=2.95 />
<circle class=B cx=198.5 cy=875.5 r=2.95 />
<circle class=M cx=198 cy=948 r=2.95 />
<circle class=B cx=197.5 cy=855.5 r=2.95 />
<circle class=P cx=199 cy=843.5 r=2.95 />
<circle class=M cx=198.5 cy=849.5 r=2.95 />
<circle class=B cx=198.5 cy=953 r=2.95 />
<circle class=L cx=198.5 cy=876 r=2.95 />
<circle class=M cx=198 cy=913 r=2.95 />
<circle class=B cx=199.5 cy=876.5 r=2.95 />
<circle class=B cx=198 cy=890 r=2.95 />
<circle class=L cx=198.5 cy=934 r=2.95 />
<circle class=B cx=198.5 cy=857.5 r=2.95 />
<circle class=M cx=198 cy=860 r=2.95 />
<circle class=M cx=197.5 cy=941.5 r=2.95 />
<circle class=L cx=198.5 cy=834 r=2.95 />
<circle class=B cx=198.5 cy=949.5 r=2.95 />
<circle class=M cx=197.5 cy=850 r=2.95 />
<circle class=B cx=199 cy=849 r=2.95 />
<circle class=N cx=199 cy=840.5 r=2.95 />
<circle class=M cx=197.5 cy=902.5 r=2.95 />
<circle class=L cx=197.5 cy=861.5 r=2.95 />
<circle class=N cx=197 cy=855 r=2.95 />
<circle class=N cx=198 cy=919.5 r=2.95 />
<circle class=M cx=199 cy=937 r=2.95 />
<circle class=L cx=198.5 cy=966 r=2.95 />
<circle class=B cx=198 cy=861.5 r=2.95 />
<circle class=L cx=198.5 cy=857 r=2.95 />
<circle class=L cx=198.5 cy=937 r=2.95 />
<circle class=M cx=197.5 cy=912.5 r=2.95 />
<circle class=B cx=199 cy=864.5 r=2.95 />
<circle class=N cx=198.5 cy=858 r=2.95 />
<circle class=R cx=197.5 cy=951 r=2.95 />
<circle class=N cx=197.5 cy=955 r=2.95 />
<circle class=B cx=198 cy=895.5 r=2.95 />
<circle class=N cx=197.5 cy=955 r=2.95 />
<circle class=B cx=198.5 cy=844 r=2.95 />
<circle class=M cx=198 cy=964 r=2.95 />
<circle class=B cx=197.5 cy=954 r=2.95 />
<circle class=N cx=198 cy=837 r=2.95 />
<circle class=B cx=197 cy=839 r=2.95 />
<circle class=M cx=198 cy=839.5 r=2.95 />
<circle class=L cx=196.5 cy=892 r=2.95 />
<circle class=N cx=198 cy=894 r=2.95 />
<circle class=M cx=196.5 cy=943.5 r=2.95 />
<circle class=M cx=199 cy=948.5 r=2.95 />
<circle class=N cx=198 cy=836.5 r=2.95 />
<circle class=N cx=197.5 cy=896 r=2.95 />
<circle class=L cx=198.5 cy=874 r=2.95 />
<circle class=B cx=197.5 cy=918 r=2.95 />
<circle class=L cx=197.5 cy=929.5 r=2.95 />
<circle class=N cx=198 cy=913 r=2.95 />
<circle class=M cx=198 cy=844.5 r=2.95 />
<circle class=N cx=198 cy=939 r=2.95 />
<circle class=B cx=198.5 cy=842 r=2.95 />
<circle class=B cx=198 cy=885 r=2.95 />
<circle class=B cx=198.5 cy=925 r=2.95 />
<circle class=B cx=198.5 cy=856 r=2.95 />
<circle class=M cx=198 cy=933 r=2.95 />
<circle class=B cx=197.5 cy=951 r=2.95 />
<circle class=B cx=197.5 cy=915.5 r=2.95 />
<circle class=M cx=198.5 cy=843 r=2.95 />
<circle class=P cx=196.5 cy=841 r=2.95 />
<circle class=B cx=198 cy=840 r=2.95 />
<circle class=M cx=197.5 cy=874 r=2.95 />
<circle class=B cx=198.5 cy=854 r=2.95 />
<circle class=M cx=198.5 cy=873 r=2.95 />
<circle class=L cx=197.5 cy=877.5 r=2.95 />
<circle class=O cx=197.5 cy=961 r=2.95 />
<circle class=N cx=198 cy=861.5 r=2.95 />
<circle class=N cx=198.5 cy=885 r=2.95 />
<circle class=M cx=198 cy=865 r=2.95 />
<circle class=L cx=197 cy=964.5 r=2.95 />
<circle class=L cx=197.5 cy=880 r=2.95 />
<circle class=B cx=198.5 cy=873.5 r=2.95 />
<circle class=B cx=198.5 cy=831 r=2.95 />
<circle class=B cx=197.5 cy=934.5 r=2.95 />
<circle class=O cx=198.5 cy=954 r=2.95 />
<circle class=B cx=197 cy=899 r=2.95 />
<circle class=N cx=198 cy=831 r=2.95 />
<circle class=M cx=199.5 cy=921 r=2.95 />
<circle class=M cx=196.5 cy=833 r=2.95 />
<circle class=M cx=198 cy=952.5 r=2.95 />
<circle class=M cx=197.5 cy=833.5 r=2.95 />
<circle class=M cx=198.5 cy=936 r=2.95 />
<circle class=M cx=198 cy=879.5 r=2.95 />
<circle class=B cx=197.5 cy=860 r=2.95 />
<circle class=M cx=196.5 cy=899.5 r=2.95 />
<circle class=N cx=197.5 cy=944 r=2.95 />
<circle class=B cx=197.5 cy=857 r=2.95 />
<circle class=L cx=197 cy=862.5 r=2.95 />
<circle class=N cx=197 cy=858.5 r=2.95 />
<circle class=M cx=197.5 cy=839 r=2.95 />
<circle class=M cx=197.5 cy=922 r=2.95 />
<circle class=B cx=198.5 cy=949.5 r=2.95 />
<circle class=B cx=197.5 cy=941 r=2.95 />
<circle class=B cx=197 cy=866 r=2.95 />
<circle class=L cx=198.5 cy=874.5 r=2.95 />
<circle class=M cx=198 cy=968 r=2.95 />
<circle class=M cx=197.5 cy=945.5 r=2.95 />
<circle class=O cx=198 cy=916.5 r=2.95 />
<circle class=M cx=199 cy=897.5 r=2.95 />
<circle class=B cx=199 cy=929 r=2.95 />
<circle class=B cx=197.5 cy=837 r=2.95 />
<circle class=M cx=197.5 cy=920.5 r=2.95 />
<circle class=M cx=198 cy=877 r=2.95 />
<circle class=B cx=196.5 cy=941.5 r=2.95 />
<circle class=M cx=196.5 cy=902.5 r=2.95 />
<circle class=L cx=198 cy=870 r=2.95 />
<circle class=M cx=198.5 cy=863.5 r=2.95 />
<circle class=L cx=198.5 cy=919.5 r=2.95 />
<circle class=M cx=198 cy=830.5 r=2.95 />
<circle class=M cx=198.5 cy=830 r=2.95 />
<circle class=M cx=198.5 cy=959.5 r=2.95 />
<circle class=N cx=198 cy=862.5 r=2.95 />
<circle class=B cx=197.5 cy=941.5 r=2.95 />
<circle class=L cx=198.5 cy=967.5 r=2.95 />
<circle class=M cx=198 cy=838 r=2.95 />
<circle class=B cx=198 cy=886.5 r=2.95 />
<circle class=B cx=198 cy=912.5 r=2.95 />
<circle class=B cx=198.5 cy=855 r=2.95 />
<circle class=B cx=198 cy=936 r=2.95 />
<circle class=N cx=197.5 cy=904 r=2.95 />
<circle class=B cx=196.5 cy=942.5 r=2.95 />
<circle class=N cx=199 cy=962.5 r=2.95 />
<circle class=N cx=198 cy=854.5 r=2.95 />
<circle class=L cx=198.5 cy=838.5 r=2.95 />
<circle class=M cx=197.5 cy=955 r=2.95 />
<circle class=N cx=198.5 cy=952.5 r=2.95 />
<circle class=B cx=198.5 cy=855.5 r=2.95 />
<circle class=N cx=198.5 cy=905.5 r=2.95 />
<circle class=L cx=196 cy=869.5 r=2.95 />
<circle class=B cx=198 cy=843.5 r=2.95 />
<circle class=M cx=198.5 cy=890.5 r=2.95 />
<circle class=L cx=198 cy=900 r=2.95 />
<circle class=N cx=199 cy=894 r=2.95 />
<circle class=B cx=198 cy=955.5 r=2.95 />
<circle class=M cx=197.5 cy=896.5 r=2.95 />
<circle class=M cx=198.5 cy=838 r=2.95 />
<circle class=M cx=197.5 cy=921.5 r=2.95 />
<circle class=M cx=198.5 cy=961.5 r=2.95 />
<circle class=B cx=197 cy=871.5 r=2.95 />
<circle class=B cx=198 cy=861 r=2.95 />
<circle class=L cx=199 cy=835 r=2.95 />
<circle class=P cx=199 cy=865.5 r=2.95 />
<circle class=M cx=198 cy=876.5 r=2.95 />
<circle class=L cx=198.5 cy=905 r=2.95 />
<circle class=R cx=199.5 cy=908 r=2.95 />
<circle class=B cx=199 cy=869 r=2.95 />
<circle class=M cx=197.5 cy=849.5 r=2.95 />
<circle class=M cx=198 cy=925 r=2.95 />
<circle class=M cx=198 cy=845 r=2.95 />
<circle class=M cx=198 cy=854.5 r=2.95 />
<circle class=M cx=198 cy=925.5 r=2.95 />
<circle class=N cx=198 cy=846 r=2.95 />
<circle class=B cx=199 cy=834 r=2.95 />
<circle class=B cx=197.5 cy=961.5 r=2.95 />
<circle class=M cx=196.5 cy=899 r=2.95 />
<circle class=B cx=197 cy=841 r=2.95 />
<circle class=M cx=198.5 cy=837.5 r=2.95 />
<circle class=M cx=197.5 cy=900.5 r=2.95 />
<circle class=N cx=198 cy=856.5 r=2.95 />
<circle class=O cx=198 cy=853.5 r=2.95 />
<circle class=B cx=199 cy=957 r=2.95 />
<circle class=M cx=197 cy=917 r=2.95 />
<circle class=B cx=197.5 cy=956.5 r=2.95 />
<circle class=B cx=199 cy=901.5 r=2.95 />
<circle class=M cx=197.5 cy=878.5 r=2.95 />
<circle class=B cx=197.5 cy=939.5 r=2.95 />
<circle class=B cx=198 cy=950.5 r=2.95 />
<circle class=M cx=198.5 cy=931.5 r=2.95 />
<circle class=L cx=198.5 cy=884.5 r=2.95 />
<circle class=B cx=198 cy=927.5 r=2.95 />
<circle class=N cx=199 cy=967 r=2.95 />
<circle class=B cx=199 cy=919.5 r=2.95 />
<circle class=M cx=198.5 cy=962 r=2.95 />
<circle class=M cx=197.5 cy=865 r=2.95 />
<circle class=M cx=197 cy=958.5 r=2.95 />
<circle class=B cx=197.5 cy=846.5 r=2.95 />
<circle class=B cx=197.5 cy=962 r=2.95 />
<circle class=P cx=197.5 cy=879.5 r=2.95 />
<circle class=B cx=198 cy=868 r=2.95 />
<circle class=B cx=198.5 cy=887 r=2.95 />
<circle class=B cx=198 cy=926.5 r=2.95 />
<circle class=B cx=197.5 cy=965.5 r=2.95 />
<circle class=L cx=199.5 cy=850 r=2.95 />
<circle class=M cx=198 cy=869.5 r=2.95 />
<circle class=B cx=198.5 cy=965 r=2.95 />
<circle class=B cx=198.5 cy=953 r=2.95 />
<circle class=B cx=198 cy=904.5 r=2.95 />
<circle class=B cx=198.5 cy=881.5 r=2.95 />
<circle class=M cx=198 cy=844.5 r=2.95 />
<circle class=L cx=198.5 cy=934 r=2.95 />
<circle class=N cx=198 cy=912 r=2.95 />
<circle class=M cx=199 cy=901.5 r=2.95 />
<circle class=L cx=199 cy=959.5 r=2.95 />
<circle class=N cx=198 cy=937 r=2.95 />
<circle class=M cx=197 cy=844 r=2.95 />
<circle class=N cx=197.5 cy=928.5 r=2.95 />
<circle class=M cx=198.5 cy=905.5 r=2.95 />
<circle class=P cx=198.5 cy=855 r=2.95 />
<circle class=L cx=197 cy=880.5 r=2.95 />
<circle class=M cx=197.5 cy=908.5 r=2.95 />
<circle class=M cx=198 cy=935.5 r=2.95 />
<circle class=M cx=198 cy=890.5 r=2.95 />
<circle class=O cx=199 cy=941.5 r=2.95 />
<circle class=B cx=197.5 cy=876 r=2.95 />
<circle class=M cx=198 cy=918.5 r=2.95 />
<circle class=N cx=197.5 cy=956.5 r=2.95 />
<circle class=B cx=197.5 cy=961 r=2.95 />
<circle class=B cx=197.5 cy=839 r=2.95 />
<circle class=N cx=198 cy=868.5 r=2.95 />
<circle class=B cx=197.5 cy=954 r=2.95 />
<circle class=L cx=198.5 cy=885.5 r=2.95 />
<circle class=M cx=198 cy=901 r=2.95 />
<circle class=N cx=197.5 cy=956.5 r=2.95 />
<circle class=M cx=198.5 cy=830.5 r=2.95 />
<circle class=M cx=198.5 cy=950.5 r=2.95 />
<circle class=M cx=197 cy=857 r=2.95 />
<circle class=O cx=199.5 cy=910 r=2.95 />
<circle class=B cx=197.5 cy=905.5 r=2.95 />
<circle class=M cx=198.5 cy=951.5 r=2.95 />
<circle class=M cx=196.5 cy=881.5 r=2.95 />
<circle class=M cx=198 cy=945 r=2.95 />
<circle class=L cx=198.5 cy=914 r=2.95 />
<circle class=M cx=198.5 cy=869 r=2.95 />
<circle class=M cx=197.5 cy=871 r=2.95 />
<circle class=L cx=198 cy=850 r=2.95 />
<circle class=B cx=198 cy=909.5 r=2.95 />
<circle class=N cx=198.5 cy=850 r=2.95 />
<circle class=M cx=200.5 cy=959.5 r=2.95 />
<circle class=B cx=196.5 cy=939 r=2.95 />
<circle class=B cx=198 cy=901.5 r=2.95 />
<circle class=M cx=198 cy=848 r=2.95 />
<circle class=L cx=198 cy=875 r=2.95 />
<circle class=B cx=198.5 cy=913.5 r=2.95 />
<circle class=M cx=198.5 cy=888.5 r=2.95 />
<circle class=B cx=197 cy=904.5 r=2.95 />
<circle class=M cx=197 cy=952 r=2.95 />
<circle class=B cx=198.5 cy=927 r=2.95 />
<circle class=N cx=198 cy=933 r=2.95 />
<circle class=L cx=197.5 cy=859.5 r=2.95 />
<circle class=M cx=198 cy=849 r=2.95 />
<circle class=B cx=197.5 cy=841.5 r=2.95 />
<circle class=M cx=198.5 cy=858.5 r=2.95 />
<circle class=B cx=197.5 cy=967.5 r=2.95 />
<circle class=M cx=197 cy=931 r=2.95 />
<circle class=L cx=198.5 cy=947 r=2.95 />
<circle class=L cx=197.5 cy=957.5 r=2.95 />
<circle class=L cx=198 cy=912.5 r=2.95 />
<circle class=B cx=199 cy=846 r=2.95 />
<circle class=B cx=198.5 cy=880.5 r=2.95 />
<circle class=L cx=198.5 cy=878 r=2.95 />
<circle class=B cx=198.5 cy=886.5 r=2.95 />
<circle class=N cx=198 cy=923 r=2.95 />
<circle class=L cx=199 cy=856 r=2.95 />
<circle class=M cx=197 cy=914 r=2.95 />
<circle class=B cx=197.5 cy=842 r=2.95 />
<circle class=M cx=197.5 cy=933 r=2.95 />
<circle class=L cx=198 cy=878 r=2.95 />
<circle class=P cx=197 cy=858.5 r=2.95 />
<circle class=R cx=198.5 cy=868.5 r=2.95 />
<circle class=L cx=197 cy=898 r=2.95 />
<circle class=N cx=199 cy=893.5 r=2.95 />
<circle class=B cx=198 cy=915 r=2.95 />
<circle class=B cx=198.5 cy=859.5 r=2.95 />
<circle class=B cx=198.5 cy=859.5 r=2.95 />
<circle class=M cx=199 cy=834.5 r=2.95 />
<circle class=O cx=195 cy=869.5 r=2.95 />
<circle class=P cx=197.5 cy=939 r=2.95 />
<circle class=B cx=198 cy=843.5 r=2.95 />
<circle class=N cx=199 cy=866 r=2.95 />
<circle class=B cx=195.5 cy=860 r=2.95 />
<circle class=B cx=197.5 cy=869 r=2.95 />
<circle class=P cx=197.5 cy=882.5 r=2.95 />
<rect x="195.4" y="742" width="5.2" height="134" rx="2.7" fill="#1a4f8f" fill-opacity="0.75"/>
<circle class=N cx=198 cy=234 r=2.95 />
<circle class=N cx=198 cy=248 r=2.95 />
<circle class=N cx=198 cy=252.5 r=2.95 />
<circle class=M cx=198 cy=258.5 r=2.95 />
<circle class=B cx=198 cy=273 r=2.95 />
<circle class=N cx=198 cy=286 r=2.95 />
<circle class=M cx=198 cy=292 r=2.95 />
<circle class=N cx=198 cy=301.5 r=2.95 />
<circle class=N cx=198 cy=306 r=2.95 />
<circle class=N cx=198 cy=310.5 r=2.95 />
<circle class=N cx=198 cy=314.5 r=2.95 />
<circle class=N cx=198 cy=321 r=2.95 />
<circle class=N cx=198 cy=325 r=2.95 />
<circle class=L cx=198 cy=331.5 r=2.95 />
<circle class=M cx=198 cy=341 r=2.95 />
<circle class=N cx=198 cy=345 r=2.95 />
<circle class=B cx=198 cy=350.5 r=2.95 />
<circle class=N cx=198 cy=356.5 r=2.95 />
<circle class=N cx=198 cy=359.5 r=2.95 />
<circle class=N cx=198 cy=361.5 r=2.95 />
<circle class=M cx=198 cy=366 r=2.95 />
<circle class=N cx=198 cy=371 r=2.95 />
<circle class=L cx=198 cy=376 r=2.95 />
<circle class=B cx=198 cy=382 r=2.95 />
<circle class=M cx=198 cy=389.5 r=2.95 />
<circle class=N cx=203.5 cy=395.5 r=2.95 />
<circle class=B cx=198 cy=399.5 r=2.95 />
<circle class=B cx=198 cy=402.5 r=2.95 />
<circle class=L cx=198 cy=406 r=2.95 />
<circle class=M cx=198 cy=411.5 r=2.95 />
<circle class=M cx=198 cy=414.5 r=2.95 />
<circle class=N cx=198 cy=420.5 r=2.95 />
<circle class=M cx=198 cy=426.5 r=2.95 />
<circle class=N cx=202.5 cy=429 r=2.95 />
<circle class=L cx=198 cy=432 r=2.95 />
<circle class=B cx=198 cy=439.5 r=2.95 />
<circle class=O cx=198 cy=444.5 r=2.95 />
<circle class=M cx=198 cy=451 r=2.95 />
<circle class=B cx=198 cy=457.5 r=2.95 />
<circle class=O cx=203 cy=458.5 r=2.95 />
<circle class=N cx=198 cy=461.5 r=2.95 />
<circle class=N cx=198 cy=465 r=2.95 />
<circle class=N cx=198 cy=469 r=2.95 />
<circle class=B cx=198 cy=474 r=2.95 />
<circle class=L cx=202 cy=477.5 r=2.95 />
<circle class=N cx=198 cy=482 r=2.95 />
<circle class=L cx=198 cy=487 r=2.95 />
<circle class=M cx=198 cy=491.5 r=2.95 />
<circle class=N cx=199.5 cy=518 r=2.95 />
<circle class=N cx=198 cy=514.5 r=2.95 />
<circle class=B cx=198 cy=529 r=2.95 />
<circle class=N cx=198.5 cy=528.5 r=2.95 />
<circle class=N cx=197 cy=528 r=2.95 />
<circle class=B cx=199.5 cy=558.5 r=2.95 />
<circle class=N cx=198.5 cy=524.5 r=2.95 />
<circle class=N cx=199 cy=512.5 r=2.95 />
<circle class=M cx=200 cy=512.5 r=2.95 />
<circle class=O cx=197.5 cy=488 r=2.95 />
<circle class=N cx=198 cy=550.5 r=2.95 />
<circle class=L cx=197.5 cy=518 r=2.95 />
<circle class=B cx=198 cy=529.5 r=2.95 />
<circle class=M cx=197.5 cy=539 r=2.95 />
<circle class=N cx=198 cy=546 r=2.95 />
<circle class=B cx=199.5 cy=545.5 r=2.95 />
<circle class=O cx=197.5 cy=501.5 r=2.95 />
<circle class=N cx=197.5 cy=491 r=2.95 />
<circle class=N cx=198 cy=559 r=2.95 />
<circle class=N cx=197.5 cy=527 r=2.95 />
<circle class=N cx=199 cy=511.5 r=2.95 />
<circle class=P cx=198.5 cy=559.5 r=2.95 />
<circle class=M cx=198 cy=545 r=2.95 />
<circle class=B cx=197.5 cy=543 r=2.95 />
<circle class=B cx=197.5 cy=492.5 r=2.95 />
<circle class=O cx=197.5 cy=518.5 r=2.95 />
<circle class=B cx=198 cy=502.5 r=2.95 />
<circle class=N cx=197 cy=494 r=2.95 />
<circle class=N cx=198 cy=557.5 r=2.95 />
<circle class=B cx=198.5 cy=526.5 r=2.95 />
<circle class=N cx=199 cy=488 r=2.95 />
<circle class=M cx=198 cy=531.5 r=2.95 />
<circle class=M cx=197.5 cy=495 r=2.95 />
<circle class=B cx=198 cy=556.5 r=2.95 />
<circle class=B cx=198 cy=505.5 r=2.95 />
<circle class=N cx=198 cy=516.5 r=2.95 />
<circle class=B cx=197.5 cy=537 r=2.95 />
<circle class=B cx=198 cy=538 r=2.95 />
<circle class=B cx=197.5 cy=493 r=2.95 />
<circle class=N cx=198 cy=502.5 r=2.95 />
<circle class=B cx=197.5 cy=552.5 r=2.95 />
<circle class=M cx=198.5 cy=538 r=2.95 />
<circle class=B cx=198 cy=545.5 r=2.95 />
<circle class=B cx=198.5 cy=525 r=2.95 />
<circle class=M cx=198.5 cy=533.5 r=2.95 />
<circle class=M cx=198.5 cy=490.5 r=2.95 />
<circle class=N cx=197.5 cy=537.5 r=2.95 />
<circle class=B cx=198.5 cy=541 r=2.95 />
<circle class=P cx=198.5 cy=507 r=2.95 />
<circle class=B cx=198 cy=536.5 r=2.95 />
<circle class=N cx=199 cy=555 r=2.95 />
<circle class=N cx=198 cy=516.5 r=2.95 />
<circle class=L cx=199 cy=513 r=2.95 />
<circle class=B cx=197.5 cy=493.5 r=2.95 />
<circle class=N cx=198.5 cy=544.5 r=2.95 />
<circle class=N cx=198 cy=547 r=2.95 />
<circle class=B cx=198.5 cy=518.5 r=2.95 />
<circle class=B cx=198 cy=545 r=2.95 />
<circle class=N cx=198.5 cy=511 r=2.95 />
<circle class=B cx=198 cy=503 r=2.95 />
<circle class=L cx=198.5 cy=514 r=2.95 />
<circle class=B cx=198 cy=494.5 r=2.95 />
<circle class=B cx=197.5 cy=527.5 r=2.95 />
<circle class=N cx=197.5 cy=544 r=2.95 />
<circle class=N cx=197 cy=526.5 r=2.95 />
<circle class=N cx=197.5 cy=518 r=2.95 />
<circle class=M cx=198.5 cy=535.5 r=2.95 />
<circle class=N cx=197.5 cy=535.5 r=2.95 />
<circle class=M cx=198.5 cy=522 r=2.95 />
<circle class=B cx=198 cy=497 r=2.95 />
<circle class=N cx=199.5 cy=492 r=2.95 />
<circle class=O cx=199 cy=500.5 r=2.95 />
<circle class=B cx=198 cy=510 r=2.95 />
<circle class=N cx=198.5 cy=492 r=2.95 />
<circle class=B cx=198 cy=504 r=2.95 />
<circle class=R cx=197.5 cy=505.5 r=2.95 />
<circle class=B cx=199.5 cy=559.5 r=2.95 />
<circle class=B cx=197.5 cy=555 r=2.95 />
<circle class=N cx=198 cy=499.5 r=2.95 />
<circle class=M cx=196.5 cy=502 r=2.95 />
<circle class=N cx=197.5 cy=543.5 r=2.95 />
<circle class=R cx=198 cy=505 r=2.95 />
<circle class=M cx=197.5 cy=504 r=2.95 />
<circle class=B cx=199 cy=528.5 r=2.95 />
<circle class=N cx=198.5 cy=550.5 r=2.95 />
<circle class=P cx=198 cy=554 r=2.95 />
<circle class=B cx=197 cy=514.5 r=2.95 />
<circle class=N cx=198.5 cy=496 r=2.95 />
<circle class=M cx=197.5 cy=510 r=2.95 />
<circle class=B cx=198 cy=558 r=2.95 />
<circle class=B cx=197 cy=529 r=2.95 />
<circle class=M cx=197 cy=525 r=2.95 />
<circle class=M cx=199.5 cy=489.5 r=2.95 />
<circle class=B cx=197.5 cy=502.5 r=2.95 />
<circle class=B cx=197.5 cy=490 r=2.95 />
<circle class=N cx=198.5 cy=506 r=2.95 />
<circle class=N cx=198 cy=545 r=2.95 />
<circle class=M cx=199 cy=528.5 r=2.95 />
<circle class=B cx=198 cy=544.5 r=2.95 />
<circle class=N cx=198.5 cy=510 r=2.95 />
<circle class=B cx=197 cy=503 r=2.95 />
<circle class=M cx=198.5 cy=534.5 r=2.95 />
<circle class=B cx=196 cy=546.5 r=2.95 />
<circle class=B cx=197 cy=526.5 r=2.95 />
<circle class=N cx=197.5 cy=558 r=2.95 />
<circle class=M cx=196.5 cy=518.5 r=2.95 />
<circle class=B cx=198.5 cy=541 r=2.95 />
<circle class=B cx=197.5 cy=517.5 r=2.95 />
<circle class=M cx=197 cy=494.5 r=2.95 />
<circle class=B cx=198.5 cy=504.5 r=2.95 />
<circle class=N cx=198 cy=542 r=2.95 />
<circle class=P cx=198 cy=537 r=2.95 />
<circle class=B cx=197.5 cy=516 r=2.95 />
<circle class=N cx=199 cy=491 r=2.95 />
<circle class=B cx=197.5 cy=531 r=2.95 />
<circle class=M cx=198 cy=498 r=2.95 />
<circle class=G cx=197.5 cy=515 r=2.95 />
<circle class=N cx=197 cy=545.5 r=2.95 />
<circle class=N cx=199 cy=520.5 r=2.95 />
<circle class=N cx=198 cy=558.5 r=2.95 />
<circle class=B cx=196.5 cy=524.5 r=2.95 />
<circle class=B cx=198 cy=551.5 r=2.95 />
<circle class=M cx=198 cy=495 r=2.95 />
<circle class=M cx=198 cy=537.5 r=2.95 />
<circle class=B cx=198 cy=544 r=2.95 />
<circle class=B cx=198 cy=488 r=2.95 />
<circle class=O cx=197.5 cy=530.5 r=2.95 />
<circle class=B cx=197 cy=558 r=2.95 />
<circle class=B cx=198.5 cy=510.5 r=2.95 />
<circle class=N cx=198 cy=534 r=2.95 />
<circle class=B cx=197.5 cy=495 r=2.95 />
<circle class=N cx=197 cy=498 r=2.95 />
<circle class=N cx=199 cy=507.5 r=2.95 />
<circle class=P cx=196.5 cy=555.5 r=2.95 />
<circle class=M cx=198 cy=545 r=2.95 />
<circle class=N cx=200 cy=498 r=2.95 />
<circle class=O cx=198 cy=515 r=2.95 />
<circle class=B cx=198 cy=536.5 r=2.95 />
<circle class=M cx=199 cy=523.5 r=2.95 />
<circle class=M cx=198.5 cy=489.5 r=2.95 />
<circle class=N cx=198.5 cy=513.5 r=2.95 />
<circle class=B cx=197.5 cy=502 r=2.95 />
<circle class=B cx=198.5 cy=493 r=2.95 />
<circle class=N cx=198.5 cy=528 r=2.95 />
<circle class=N cx=199 cy=490 r=2.95 />
<circle class=B cx=199 cy=537 r=2.95 />
<circle class=M cx=198.5 cy=531 r=2.95 />
<circle class=B cx=198 cy=525.5 r=2.95 />
<circle class=P cx=198 cy=517 r=2.95 />
<circle class=N cx=198.5 cy=534 r=2.95 />
<circle class=B cx=198.5 cy=546 r=2.95 />
<circle class=B cx=199 cy=545.5 r=2.95 />
<circle class=N cx=198 cy=557 r=2.95 />
<circle class=N cx=197 cy=506.5 r=2.95 />
<circle class=B cx=198.5 cy=525.5 r=2.95 />
<circle class=N cx=197 cy=518.5 r=2.95 />
<circle class=B cx=197.5 cy=546 r=2.95 />
<circle class=B cx=197 cy=545 r=2.95 />
<circle class=N cx=197.5 cy=507 r=2.95 />
<circle class=M cx=198.5 cy=552.5 r=2.95 />
<circle class=N cx=197 cy=532 r=2.95 />
<circle class=B cx=198 cy=522 r=2.95 />
<circle class=P cx=195.5 cy=513 r=2.95 />
<circle class=O cx=198 cy=493.5 r=2.95 />
<circle class=N cx=198.5 cy=545 r=2.95 />
<circle class=B cx=197 cy=497.5 r=2.95 />
<circle class=O cx=198 cy=547.5 r=2.95 />
<circle class=N cx=198 cy=553.5 r=2.95 />
<circle class=N cx=197.5 cy=547.5 r=2.95 />
<circle class=N cx=199.5 cy=532 r=2.95 />
<circle class=N cx=199 cy=534 r=2.95 />
<circle class=N cx=198 cy=520 r=2.95 />
<circle class=B cx=198.5 cy=515.5 r=2.95 />
<circle class=B cx=198.5 cy=535.5 r=2.95 />
<circle class=N cx=198.5 cy=525.5 r=2.95 />
<circle class=B cx=197.5 cy=537.5 r=2.95 />
<circle class=B cx=198 cy=555.5 r=2.95 />
<circle class=B cx=198 cy=557 r=2.95 />
<circle class=N cx=197.5 cy=547 r=2.95 />
<circle class=N cx=198.5 cy=502.5 r=2.95 />
<circle class=B cx=197.5 cy=517 r=2.95 />
<circle class=N cx=199 cy=505.5 r=2.95 />
<circle class=L cx=198.5 cy=490 r=2.95 />
<circle class=B cx=198.5 cy=501.5 r=2.95 />
<circle class=B cx=197.5 cy=489 r=2.95 />
<circle class=N cx=197.5 cy=516 r=2.95 />
<circle class=P cx=198.5 cy=517.5 r=2.95 />
<circle class=B cx=199 cy=553.5 r=2.95 />
<circle class=B cx=198 cy=489 r=2.95 />
<circle class=M cx=197 cy=535 r=2.95 />
<circle class=N cx=197.5 cy=525.5 r=2.95 />
<circle class=N cx=198 cy=500 r=2.95 />
<circle class=B cx=198 cy=555.5 r=2.95 />
<circle class=M cx=198 cy=517.5 r=2.95 />
<circle class=B cx=197.5 cy=518 r=2.95 />
<circle class=M cx=198 cy=493.5 r=2.95 />
<circle class=N cx=198 cy=523 r=2.95 />
<circle class=B cx=197 cy=507.5 r=2.95 />
<circle class=M cx=197 cy=544.5 r=2.95 />
<circle class=B cx=199.5 cy=537.5 r=2.95 />
<circle class=L cx=198 cy=684.5 r=2.95 />
<circle class=O cx=198.5 cy=642.5 r=2.95 />
<circle class=M cx=197.5 cy=692 r=2.95 />
<circle class=B cx=197.5 cy=603.5 r=2.95 />
<circle class=N cx=198.5 cy=617.5 r=2.95 />
<circle class=B cx=196.5 cy=564.5 r=2.95 />
<circle class=O cx=197 cy=683 r=2.95 />
<circle class=M cx=198.5 cy=680 r=2.95 />
<circle class=N cx=197 cy=586 r=2.95 />
<circle class=M cx=197.5 cy=564.5 r=2.95 />
<circle class=L cx=197.5 cy=739 r=2.95 />
<circle class=B cx=197.5 cy=617 r=2.95 />
<circle class=L cx=198.5 cy=706.5 r=2.95 />
<circle class=N cx=196.5 cy=560.5 r=2.95 />
<circle class=M cx=198 cy=665 r=2.95 />
<circle class=O cx=199.5 cy=696 r=2.95 />
<circle class=N cx=199 cy=687.5 r=2.95 />
<circle class=O cx=198 cy=653 r=2.95 />
<circle class=N cx=198 cy=670.5 r=2.95 />
<circle class=M cx=198.5 cy=582 r=2.95 />
<circle class=B cx=196.5 cy=619 r=2.95 />
<circle class=B cx=199 cy=677.5 r=2.95 />
<circle class=N cx=197.5 cy=629.5 r=2.95 />
<circle class=B cx=198.5 cy=675.5 r=2.95 />
<circle class=N cx=200 cy=580 r=2.95 />
<circle class=M cx=197.5 cy=621.5 r=2.95 />
<circle class=M cx=197 cy=651 r=2.95 />
<circle class=B cx=197.5 cy=608 r=2.95 />
<circle class=M cx=199 cy=706 r=2.95 />
<circle class=N cx=197 cy=678.5 r=2.95 />
<circle class=N cx=198 cy=626 r=2.95 />
<circle class=M cx=197.5 cy=667 r=2.95 />
<circle class=N cx=198 cy=739.5 r=2.95 />
<circle class=L cx=197 cy=682.5 r=2.95 />
<circle class=B cx=197.5 cy=653 r=2.95 />
<circle class=M cx=198 cy=666.5 r=2.95 />
<circle class=B cx=198.5 cy=618.5 r=2.95 />
<circle class=M cx=197 cy=596 r=2.95 />
<circle class=L cx=196.5 cy=584.5 r=2.95 />
<circle class=N cx=198.5 cy=730 r=2.95 />
<circle class=L cx=197.5 cy=723 r=2.95 />
<circle class=R cx=198 cy=731 r=2.95 />
<circle class=M cx=198 cy=624.5 r=2.95 />
<circle class=M cx=199.5 cy=726.5 r=2.95 />
<circle class=P cx=198 cy=737 r=2.95 />
<circle class=P cx=196.5 cy=637.5 r=2.95 />
<circle class=B cx=199 cy=634.5 r=2.95 />
<circle class=B cx=198 cy=562 r=2.95 />
<circle class=N cx=198.5 cy=609.5 r=2.95 />
<circle class=N cx=198 cy=579.5 r=2.95 />
<circle class=R cx=198 cy=715 r=2.95 />
<circle class=M cx=199 cy=561.5 r=2.95 />
<circle class=P cx=198 cy=584 r=2.95 />
<circle class=N cx=198.5 cy=717.5 r=2.95 />
<circle class=R cx=198.5 cy=702 r=2.95 />
<circle class=N cx=198.5 cy=718.5 r=2.95 />
<circle class=L cx=197 cy=662 r=2.95 />
<circle class=P cx=198.5 cy=660.5 r=2.95 />
<circle class=N cx=198 cy=721.5 r=2.95 />
<circle class=M cx=198 cy=651.5 r=2.95 />
<circle class=B cx=198 cy=714 r=2.95 />
<circle class=B cx=197 cy=677.5 r=2.95 />
<circle class=M cx=198.5 cy=679.5 r=2.95 />
<circle class=N cx=197 cy=681.5 r=2.95 />
<circle class=N cx=197.5 cy=619 r=2.95 />
<circle class=M cx=198 cy=627.5 r=2.95 />
<circle class=B cx=198 cy=608 r=2.95 />
<circle class=M cx=198 cy=690 r=2.95 />
<circle class=B cx=198 cy=562 r=2.95 />
<circle class=B cx=198 cy=577 r=2.95 />
<circle class=B cx=198.5 cy=611 r=2.95 />
<circle class=B cx=198.5 cy=664 r=2.95 />
<circle class=N cx=197.5 cy=572.5 r=2.95 />
<circle class=N cx=199 cy=654 r=2.95 />
<circle class=N cx=198.5 cy=715.5 r=2.95 />
<circle class=M cx=199 cy=658.5 r=2.95 />
<circle class=N cx=198.5 cy=724.5 r=2.95 />
<circle class=N cx=196.5 cy=705 r=2.95 />
<circle class=B cx=199 cy=716.5 r=2.95 />
<circle class=N cx=198 cy=692 r=2.95 />
<circle class=N cx=198.5 cy=715.5 r=2.95 />
<circle class=B cx=198.5 cy=684 r=2.95 />
<circle class=M cx=197 cy=629.5 r=2.95 />
<circle class=N cx=198 cy=712 r=2.95 />
<circle class=M cx=198.5 cy=569.5 r=2.95 />
<circle class=M cx=198 cy=575 r=2.95 />
<circle class=B cx=198 cy=560.5 r=2.95 />
<circle class=B cx=197.5 cy=697 r=2.95 />
<circle class=G cx=198.5 cy=573.5 r=2.95 />
<circle class=N cx=198 cy=643.5 r=2.95 />
<circle class=N cx=198 cy=644.5 r=2.95 />
<circle class=B cx=197.5 cy=725.5 r=2.95 />
<circle class=L cx=198 cy=640 r=2.95 />
<circle class=N cx=198.5 cy=704.5 r=2.95 />
<circle class=R cx=198.5 cy=690.5 r=2.95 />
<circle class=M cx=197.5 cy=576.5 r=2.95 />
<circle class=N cx=198 cy=713 r=2.95 />
<circle class=M cx=198.5 cy=584.5 r=2.95 />
<circle class=N cx=198 cy=685.5 r=2.95 />
<circle class=N cx=197 cy=575.5 r=2.95 />
<circle class=B cx=199 cy=702 r=2.95 />
<circle class=B cx=198 cy=612 r=2.95 />
<circle class=L cx=198 cy=666.5 r=2.95 />
<circle class=B cx=198.5 cy=696 r=2.95 />
<circle class=M cx=196.5 cy=605 r=2.95 />
<circle class=B cx=197 cy=640 r=2.95 />
<circle class=N cx=198 cy=624.5 r=2.95 />
<circle class=L cx=197 cy=681.5 r=2.95 />
<circle class=N cx=198.5 cy=647 r=2.95 />
<circle class=M cx=198.5 cy=711 r=2.95 />
<circle class=B cx=198 cy=613.5 r=2.95 />
<circle class=M cx=198.5 cy=735.5 r=2.95 />
<circle class=P cx=199.5 cy=728.5 r=2.95 />
<circle class=N cx=198.5 cy=706 r=2.95 />
<circle class=B cx=199 cy=716.5 r=2.95 />
<circle class=L cx=198 cy=621.5 r=2.95 />
<circle class=N cx=198 cy=667.5 r=2.95 />
<circle class=N cx=198.5 cy=686.5 r=2.95 />
<circle class=L cx=197.5 cy=584 r=2.95 />
<circle class=N cx=198.5 cy=645.5 r=2.95 />
<circle class=L cx=197.5 cy=709 r=2.95 />
<circle class=B cx=197 cy=633 r=2.95 />
<circle class=O cx=197.5 cy=570 r=2.95 />
<circle class=B cx=197 cy=561.5 r=2.95 />
<circle class=M cx=198 cy=638.5 r=2.95 />
<circle class=B cx=198 cy=567.5 r=2.95 />
<circle class=N cx=197 cy=616.5 r=2.95 />
<circle class=N cx=198.5 cy=652 r=2.95 />
<circle class=N cx=197 cy=670 r=2.95 />
<circle class=M cx=197.5 cy=674 r=2.95 />
<circle class=M cx=199.5 cy=572 r=2.95 />
<circle class=B cx=197.5 cy=701.5 r=2.95 />
<circle class=R cx=198.5 cy=725 r=2.95 />
<circle class=B cx=199 cy=571.5 r=2.95 />
<circle class=L cx=198.5 cy=735 r=2.95 />
<circle class=N cx=198.5 cy=607.5 r=2.95 />
<circle class=B cx=198.5 cy=689 r=2.95 />
<circle class=M cx=196.5 cy=569.5 r=2.95 />
<circle class=R cx=197 cy=611.5 r=2.95 />
<circle class=N cx=197.5 cy=659 r=2.95 />
<circle class=N cx=197 cy=652 r=2.95 />
<circle class=N cx=197.5 cy=659.5 r=2.95 />
<circle class=N cx=199 cy=737.5 r=2.95 />
<circle class=B cx=198 cy=609.5 r=2.95 />
<circle class=B cx=198 cy=605.5 r=2.95 />
<circle class=N cx=198.5 cy=732 r=2.95 />
<circle class=M cx=199.5 cy=591 r=2.95 />
<circle class=N cx=198.5 cy=709.5 r=2.95 />
<circle class=M cx=197.5 cy=639.5 r=2.95 />
<circle class=G cx=197 cy=595 r=2.95 />
<circle class=B cx=197.5 cy=666.5 r=2.95 />
<circle class=N cx=197.5 cy=562.5 r=2.95 />
<circle class=N cx=199 cy=646.5 r=2.95 />
<circle class=B cx=198.5 cy=683 r=2.95 />
<circle class=M cx=198 cy=678.5 r=2.95 />
<circle class=N cx=198.5 cy=708.5 r=2.95 />
<circle class=M cx=199 cy=566.5 r=2.95 />
<circle class=B cx=197 cy=702.5 r=2.95 />
<circle class=O cx=198.5 cy=731 r=2.95 />
<circle class=B cx=197 cy=723.5 r=2.95 />
<circle class=N cx=197.5 cy=570 r=2.95 />
<circle class=M cx=197.5 cy=616.5 r=2.95 />
<circle class=N cx=199 cy=672.5 r=2.95 />
<circle class=N cx=197.5 cy=688.5 r=2.95 />
<circle class=N cx=197.5 cy=716.5 r=2.95 />
<circle class=N cx=200 cy=693.5 r=2.95 />
<circle class=B cx=198.5 cy=715.5 r=2.95 />
<circle class=B cx=197 cy=599.5 r=2.95 />
<circle class=B cx=197.5 cy=586.5 r=2.95 />
<circle class=B cx=198 cy=648.5 r=2.95 />
<circle class=R cx=199.5 cy=622.5 r=2.95 />
<circle class=N cx=197.5 cy=625.5 r=2.95 />
<circle class=N cx=198.5 cy=589.5 r=2.95 />
<circle class=N cx=197.5 cy=732 r=2.95 />
<circle class=B cx=197.5 cy=661 r=2.95 />
<circle class=B cx=198 cy=702 r=2.95 />
<circle class=B cx=198.5 cy=714.5 r=2.95 />
<circle class=B cx=198 cy=675.5 r=2.95 />
<circle class=B cx=198.5 cy=609.5 r=2.95 />
<circle class=M cx=196.5 cy=584 r=2.95 />
<circle class=B cx=198 cy=669.5 r=2.95 />
<circle class=M cx=197 cy=629 r=2.95 />
<circle class=N cx=198.5 cy=726.5 r=2.95 />
<circle class=M cx=198 cy=594.5 r=2.95 />
<circle class=B cx=198 cy=733.5 r=2.95 />
<circle class=B cx=199 cy=635 r=2.95 />
<circle class=M cx=196.5 cy=627 r=2.95 />
<circle class=B cx=197 cy=733.5 r=2.95 />
<circle class=M cx=198 cy=587 r=2.95 />
<circle class=B cx=198.5 cy=600 r=2.95 />
<circle class=L cx=197.5 cy=727 r=2.95 />
<circle class=N cx=198 cy=736 r=2.95 />
<circle class=B cx=198.5 cy=708 r=2.95 />
<circle class=N cx=198 cy=594.5 r=2.95 />
<circle class=B cx=197.5 cy=698.5 r=2.95 />
<circle class=R cx=198 cy=723.5 r=2.95 />
<circle class=M cx=198 cy=617.5 r=2.95 />
<circle class=N cx=198.5 cy=723.5 r=2.95 />
<circle class=L cx=197.5 cy=579 r=2.95 />
<circle class=B cx=199 cy=731 r=2.95 />
<circle class=B cx=199 cy=568 r=2.95 />
<circle class=N cx=198.5 cy=590.5 r=2.95 />
<circle class=B cx=198.5 cy=578 r=2.95 />
<circle class=B cx=197.5 cy=596 r=2.95 />
<circle class=M cx=199.5 cy=605.5 r=2.95 />
<circle class=M cx=197.5 cy=661.5 r=2.95 />
<circle class=M cx=197 cy=575 r=2.95 />
<circle class=B cx=199 cy=617 r=2.95 />
<circle class=N cx=199.5 cy=585 r=2.95 />
<circle class=N cx=198 cy=704 r=2.95 />
<circle class=N cx=197.5 cy=642 r=2.95 />
<circle class=N cx=198 cy=585 r=2.95 />
<circle class=B cx=198.5 cy=626.5 r=2.95 />
<circle class=B cx=197.5 cy=631 r=2.95 />
<circle class=R cx=198.5 cy=598.5 r=2.95 />
<circle class=B cx=198 cy=664.5 r=2.95 />
<circle class=B cx=198 cy=613 r=2.95 />
<circle class=N cx=197.5 cy=650 r=2.95 />
<circle class=B cx=198 cy=650 r=2.95 />
<circle class=N cx=198 cy=596.5 r=2.95 />
<circle class=M cx=197.5 cy=683.5 r=2.95 />
<circle class=B cx=198 cy=718 r=2.95 />
<circle class=B cx=198.5 cy=654.5 r=2.95 />
<circle class=B cx=197.5 cy=647.5 r=2.95 />
<circle class=B cx=198.5 cy=661 r=2.95 />
<circle class=M cx=196.5 cy=611 r=2.95 />
<circle class=N cx=198 cy=686.5 r=2.95 />
<circle class=N cx=198.5 cy=654.5 r=2.95 />
<circle class=N cx=198 cy=573 r=2.95 />
<circle class=B cx=198.5 cy=619 r=2.95 />
<circle class=G cx=198 cy=727.5 r=2.95 />
<circle class=N cx=197.5 cy=647 r=2.95 />
<circle class=O cx=198.5 cy=644.5 r=2.95 />
<circle class=R cx=198.5 cy=655.5 r=2.95 />
<circle class=N cx=197.5 cy=639.5 r=2.95 />
<circle class=B cx=198.5 cy=699 r=2.95 />
<circle class=G cx=196.5 cy=715 r=2.95 />
<circle class=M cx=198 cy=573.5 r=2.95 />
<circle class=B cx=198 cy=573.5 r=2.95 />
<circle class=N cx=198.5 cy=582.5 r=2.95 />
<circle class=G cx=197.5 cy=692.5 r=2.95 />
<circle class=M cx=197 cy=688.5 r=2.95 />
<circle class=B cx=197 cy=612 r=2.95 />
<circle class=B cx=198 cy=643 r=2.95 />
<circle class=M cx=198.5 cy=653 r=2.95 />
<circle class=N cx=198 cy=716 r=2.95 />
<circle class=B cx=198 cy=580 r=2.95 />
<circle class=B cx=199.5 cy=736.5 r=2.95 />
<circle class=M cx=198 cy=581 r=2.95 />
<circle class=M cx=197.5 cy=739.5 r=2.95 />
<circle class=N cx=198 cy=706.5 r=2.95 />
<circle class=M cx=198 cy=714.5 r=2.95 />
<circle class=M cx=198 cy=663.5 r=2.95 />
<circle class=G cx=199 cy=579.5 r=2.95 />
<circle class=L cx=198 cy=574 r=2.95 />
<circle class=B cx=198 cy=616.5 r=2.95 />
<circle class=B cx=197 cy=568 r=2.95 />
<circle class=N cx=196 cy=711 r=2.95 />
<circle class=M cx=197.5 cy=566.5 r=2.95 />
<circle class=N cx=197.5 cy=571.5 r=2.95 />
<circle class=N cx=197.5 cy=617 r=2.95 />
<circle class=B cx=198 cy=580 r=2.95 />
<circle class=B cx=198 cy=571 r=2.95 />
<circle class=N cx=198 cy=617 r=2.95 />
<circle class=N cx=197 cy=564 r=2.95 />
<circle class=N cx=197.5 cy=663 r=2.95 />
<circle class=B cx=198 cy=644 r=2.95 />
<circle class=N cx=197.5 cy=722.5 r=2.95 />
<circle class=M cx=198.5 cy=701 r=2.95 />
<circle class=N cx=198.5 cy=716 r=2.95 />
<circle class=B cx=198 cy=634 r=2.95 />
<circle class=B cx=198.5 cy=711 r=2.95 />
<circle class=B cx=197 cy=712 r=2.95 />
<circle class=B cx=197.5 cy=598 r=2.95 />
<circle class=P cx=198 cy=622 r=2.95 />
<circle class=O cx=198.5 cy=733.5 r=2.95 />
<circle class=N cx=198 cy=658 r=2.95 />
<circle class=L cx=198.5 cy=733 r=2.95 />
<circle class=M cx=197 cy=701.5 r=2.95 />
<circle class=M cx=198 cy=720 r=2.95 />
<circle class=B cx=197 cy=730.5 r=2.95 />
<circle class=M cx=197 cy=659 r=2.95 />
<circle class=R cx=198.5 cy=640.5 r=2.95 />
<circle class=N cx=197.5 cy=691.5 r=2.95 />
<circle class=N cx=198 cy=683 r=2.95 />
<circle class=O cx=198.5 cy=638 r=2.95 />
<circle class=N cx=197.5 cy=603 r=2.95 />
<circle class=B cx=198 cy=685 r=2.95 />
<circle class=N cx=198.5 cy=568 r=2.95 />
<circle class=B cx=197 cy=641.5 r=2.95 />
<circle class=N cx=197.5 cy=678 r=2.95 />
<circle class=B cx=199 cy=723.5 r=2.95 />
<circle class=B cx=198.5 cy=631.5 r=2.95 />
<circle class=B cx=197 cy=576 r=2.95 />
<circle class=M cx=198.5 cy=636.5 r=2.95 />
<circle class=N cx=197.5 cy=712 r=2.95 />
<circle class=B cx=197.5 cy=606 r=2.95 />
<circle class=B cx=197.5 cy=656 r=2.95 />
<circle class=M cx=197.5 cy=582.5 r=2.95 />
<circle class=M cx=199 cy=578.5 r=2.95 />
<circle class=B cx=196.5 cy=819 r=2.95 />
<circle class=B cx=197 cy=782 r=2.95 />
<circle class=N cx=197 cy=792.5 r=2.95 />
<circle class=L cx=196 cy=769.5 r=2.95 />
<circle class=N cx=197.5 cy=802 r=2.95 />
<circle class=N cx=199 cy=753.5 r=2.95 />
<circle class=B cx=198.5 cy=816 r=2.95 />
<circle class=N cx=198.5 cy=802.5 r=2.95 />
<circle class=B cx=198.5 cy=741 r=2.95 />
<circle class=N cx=199 cy=747 r=2.95 />
<circle class=N cx=198 cy=764 r=2.95 />
<circle class=N cx=197 cy=815 r=2.95 />
<circle class=N cx=198 cy=776 r=2.95 />
<circle class=M cx=198 cy=807 r=2.95 />
<circle class=B cx=199.5 cy=811 r=2.95 />
<circle class=B cx=197.5 cy=799 r=2.95 />
<circle class=B cx=198 cy=760.5 r=2.95 />
<circle class=N cx=196.5 cy=810.5 r=2.95 />
<circle class=B cx=197.5 cy=816 r=2.95 />
<circle class=B cx=198.5 cy=795 r=2.95 />
<circle class=L cx=198 cy=815 r=2.95 />
<circle class=B cx=197 cy=776 r=2.95 />
<circle class=L cx=198 cy=828 r=2.95 />
<circle class=B cx=198.5 cy=802 r=2.95 />
<circle class=B cx=197.5 cy=812.5 r=2.95 />
<circle class=B cx=197.5 cy=825.5 r=2.95 />
<circle class=O cx=197.5 cy=749.5 r=2.95 />
<circle class=B cx=198 cy=779.5 r=2.95 />
<circle class=M cx=198 cy=809 r=2.95 />
<circle class=B cx=197.5 cy=824 r=2.95 />
<circle class=B cx=198 cy=765 r=2.95 />
<circle class=B cx=198 cy=758 r=2.95 />
<circle class=B cx=198 cy=776 r=2.95 />
<circle class=N cx=198 cy=766 r=2.95 />
<circle class=B cx=197.5 cy=816 r=2.95 />
<circle class=N cx=197.5 cy=780.5 r=2.95 />
<circle class=L cx=198.5 cy=769.5 r=2.95 />
<circle class=N cx=198 cy=810.5 r=2.95 />
<circle class=N cx=198 cy=741.5 r=2.95 />
<circle class=B cx=198 cy=816.5 r=2.95 />
<circle class=B cx=198.5 cy=779.5 r=2.95 />
<circle class=N cx=196.5 cy=823 r=2.95 />
<circle class=B cx=197.5 cy=787 r=2.95 />
<circle class=N cx=197 cy=796.5 r=2.95 />
<circle class=B cx=196 cy=805.5 r=2.95 />
<circle class=M cx=197 cy=757.5 r=2.95 />
<circle class=B cx=199 cy=780.5 r=2.95 />
<circle class=N cx=199.5 cy=755 r=2.95 />
<circle class=N cx=199 cy=763 r=2.95 />
<circle class=B cx=197.5 cy=803 r=2.95 />
<circle class=N cx=198 cy=779.5 r=2.95 />
<circle class=M cx=197.5 cy=824 r=2.95 />
<circle class=M cx=198 cy=815 r=2.95 />
<circle class=N cx=196 cy=807 r=2.95 />
<circle class=M cx=199 cy=803.5 r=2.95 />
<circle class=B cx=197.5 cy=756 r=2.95 />
<circle class=N cx=198 cy=787.5 r=2.95 />
<circle class=B cx=197 cy=828.5 r=2.95 />
<circle class=O cx=198.5 cy=750.5 r=2.95 />
<circle class=M cx=197.5 cy=742.5 r=2.95 />
<circle class=B cx=198 cy=801 r=2.95 />
<circle class=N cx=198 cy=785.5 r=2.95 />
<circle class=R cx=197.5 cy=748 r=2.95 />
<circle class=B cx=197.5 cy=761 r=2.95 />
<circle class=N cx=198.5 cy=799.5 r=2.95 />
<circle class=M cx=198.5 cy=816.5 r=2.95 />
<circle class=N cx=198 cy=750.5 r=2.95 />
<circle class=N cx=199 cy=745.5 r=2.95 />
<circle class=N cx=198 cy=810 r=2.95 />
<circle class=M cx=199 cy=797 r=2.95 />
<circle class=N cx=198.5 cy=797.5 r=2.95 />
<circle class=B cx=198.5 cy=769 r=2.95 />
<circle class=M cx=198.5 cy=822 r=2.95 />
<circle class=M cx=198.5 cy=747 r=2.95 />
<circle class=B cx=197 cy=821.5 r=2.95 />
<circle class=R cx=197 cy=810 r=2.95 />
<circle class=M cx=196.5 cy=784.5 r=2.95 />
<circle class=B cx=198.5 cy=785.5 r=2.95 />
<circle class=B cx=199 cy=804.5 r=2.95 />
<circle class=N cx=198 cy=785.5 r=2.95 />
<circle class=M cx=198 cy=814 r=2.95 />
<circle class=B cx=197 cy=813 r=2.95 />
<circle class=B cx=198 cy=791.5 r=2.95 />
<circle class=N cx=199 cy=790.5 r=2.95 />
<circle class=B cx=198.5 cy=765 r=2.95 />
<circle class=M cx=198 cy=772 r=2.95 />
<circle class=B cx=197.5 cy=774.5 r=2.95 />
<circle class=N cx=198 cy=759.5 r=2.95 />
<circle class=N cx=197.5 cy=778.5 r=2.95 />
<circle class=M cx=197.5 cy=791.5 r=2.95 />
<circle class=B cx=199 cy=759 r=2.95 />
<circle class=B cx=199 cy=790.5 r=2.95 />
<circle class=M cx=198 cy=786 r=2.95 />
<circle class=P cx=198.5 cy=801 r=2.95 />
<circle class=R cx=198.5 cy=785 r=2.95 />
<circle class=B cx=197.5 cy=755 r=2.95 />
<circle class=L cx=197 cy=809.5 r=2.95 />
<circle class=N cx=198.5 cy=759 r=2.95 />
<circle class=N cx=197 cy=741.5 r=2.95 />
<circle class=B cx=197 cy=785.5 r=2.95 />
<circle class=B cx=198.5 cy=784.5 r=2.95 />
<circle class=G cx=196.5 cy=782.5 r=2.95 />
<circle class=M cx=197.5 cy=780 r=2.95 />
<circle class=M cx=199 cy=761 r=2.95 />
<circle class=L cx=199 cy=773.5 r=2.95 />
<circle class=R cx=198.5 cy=822 r=2.95 />
<circle class=L cx=199.5 cy=744.5 r=2.95 />
<circle class=M cx=198 cy=740.5 r=2.95 />
<circle class=N cx=198.5 cy=758 r=2.95 />
<circle class=M cx=197.5 cy=793 r=2.95 />
<circle class=M cx=198 cy=788 r=2.95 />
<circle class=B cx=198 cy=740.5 r=2.95 />
<circle class=N cx=197 cy=749 r=2.95 />
<circle class=N cx=198.5 cy=808 r=2.95 />
<circle class=B cx=197 cy=818 r=2.95 />
<circle class=N cx=198.5 cy=769 r=2.95 />
<circle class=B cx=198.5 cy=795 r=2.95 />
<circle class=N cx=198.5 cy=766.5 r=2.95 />
<circle class=B cx=199 cy=784 r=2.95 />
<circle class=B cx=197 cy=793.5 r=2.95 />
<circle class=N cx=198 cy=805 r=2.95 />
<circle class=N cx=198 cy=811 r=2.95 />
<circle class=N cx=199 cy=791 r=2.95 />
<circle class=N cx=198.5 cy=744 r=2.95 />
<circle class=N cx=197 cy=761.5 r=2.95 />
<circle class=B cx=198 cy=785.5 r=2.95 />
<circle class=N cx=198 cy=794.5 r=2.95 />
<circle class=M cx=197.5 cy=818 r=2.95 />
<circle class=N cx=197.5 cy=755 r=2.95 />
<circle class=B cx=198 cy=776.5 r=2.95 />
<circle class=R cx=198.5 cy=799 r=2.95 />
<circle class=B cx=197.5 cy=773 r=2.95 />
<circle class=M cx=197 cy=775.5 r=2.95 />
<circle class=N cx=198.5 cy=746 r=2.95 />
<circle class=O cx=197.5 cy=771.5 r=2.95 />
<circle class=N cx=198.5 cy=767 r=2.95 />
<circle class=B cx=197.5 cy=779 r=2.95 />
<circle class=M cx=198.5 cy=750 r=2.95 />
<circle class=N cx=198 cy=797 r=2.95 />
<circle class=L cx=197 cy=807 r=2.95 />
<circle class=N cx=198 cy=820.5 r=2.95 />
<circle class=N cx=197.5 cy=802 r=2.95 />
<circle class=N cx=197 cy=765.5 r=2.95 />
<circle class=B cx=199 cy=764.5 r=2.95 />
<circle class=B cx=197.5 cy=740.5 r=2.95 />
<circle class=N cx=199 cy=807 r=2.95 />
<circle class=M cx=198.5 cy=804 r=2.95 />
<circle class=N cx=199 cy=745.5 r=2.95 />
<circle class=B cx=198 cy=770 r=2.95 />
<circle class=N cx=198 cy=829.5 r=2.95 />
<circle class=B cx=199 cy=826 r=2.95 />
<circle class=N cx=198.5 cy=801.5 r=2.95 />
<circle class=L cx=198.5 cy=782.5 r=2.95 />
<circle class=N cx=197.5 cy=748.5 r=2.95 />
<circle class=B cx=197.5 cy=760 r=2.95 />
<circle class=B cx=198 cy=745.5 r=2.95 />
<circle class=B cx=198.5 cy=740.5 r=2.95 />
<circle class=N cx=198.5 cy=781.5 r=2.95 />
<circle class=B cx=199 cy=808.5 r=2.95 />
<circle class=N cx=198.5 cy=818.5 r=2.95 />
<circle class=B cx=199.5 cy=771.5 r=2.95 />
<circle class=N cx=198.5 cy=770.5 r=2.95 />
<circle class=B cx=198 cy=820 r=2.95 />
<circle class=M cx=198.5 cy=772.5 r=2.95 />
<circle class=N cx=198 cy=745.5 r=2.95 />
<circle class=M cx=196.5 cy=801 r=2.95 />
<circle class=B cx=198.5 cy=808 r=2.95 />
<circle class=B cx=197.5 cy=793 r=2.95 />
<circle class=B cx=197 cy=752 r=2.95 />
<circle class=L cx=198 cy=805.5 r=2.95 />
<circle class=M cx=197.5 cy=786 r=2.95 />
<circle class=M cx=198.5 cy=767 r=2.95 />
<circle class=N cx=197.5 cy=799.5 r=2.95 />
<circle class=L cx=197 cy=798 r=2.95 />
<circle class=B cx=198 cy=800 r=2.95 />
<circle class=O cx=197.5 cy=804.5 r=2.95 />
<circle class=N cx=198 cy=747.5 r=2.95 />
<circle class=B cx=198.5 cy=798.5 r=2.95 />
<circle class=G cx=197.5 cy=823 r=2.95 />
<circle class=N cx=197 cy=817.5 r=2.95 />
<circle class=G cx=197.5 cy=778 r=2.95 />
<circle class=B cx=197 cy=758.5 r=2.95 />
<circle class=B cx=198 cy=821 r=2.95 />
<circle class=N cx=198 cy=755.5 r=2.95 />
<circle class=L cx=197.5 cy=775.5 r=2.95 />
<circle class=N cx=197 cy=765.5 r=2.95 />
<circle class=N cx=199 cy=821.5 r=2.95 />
<circle class=N cx=198.5 cy=808.5 r=2.95 />
<circle class=B cx=197.5 cy=815.5 r=2.95 />
<circle class=N cx=199.5 cy=809.5 r=2.95 />
<circle class=B cx=197.5 cy=800.5 r=2.95 />
<circle class=L cx=197.5 cy=788.5 r=2.95 />
<circle class=N cx=198.5 cy=830 r=2.95 />
<circle class=R cx=197.5 cy=797 r=2.95 />
<circle class=N cx=198.5 cy=759.5 r=2.95 />
<circle class=N cx=198.5 cy=786 r=2.95 />
<circle class=B cx=199 cy=819.5 r=2.95 />
<circle class=M cx=197 cy=780.5 r=2.95 />
<circle class=B cx=198 cy=776.5 r=2.95 />
<circle class=N cx=198 cy=790.5 r=2.95 />
<circle class=R cx=196.5 cy=756 r=2.95 />
<circle class=B cx=198.5 cy=804 r=2.95 />
<circle class=B cx=198.5 cy=769.5 r=2.95 />
<circle class=N cx=198 cy=805 r=2.95 />
<circle class=M cx=198 cy=823.5 r=2.95 />
<circle class=B cx=200 cy=787.5 r=2.95 />
<circle class=B cx=198 cy=820.5 r=2.95 />
<circle class=B cx=198 cy=741 r=2.95 />
<circle class=N cx=197.5 cy=803.5 r=2.95 />
<circle class=B cx=198.5 cy=758.5 r=2.95 />
<circle class=B cx=197.5 cy=763 r=2.95 />
<circle class=B cx=197 cy=815.5 r=2.95 />
<circle class=M cx=198 cy=815 r=2.95 />
<circle class=N cx=197 cy=811 r=2.95 />
<circle class=R cx=198 cy=821 r=2.95 />
<circle class=M cx=198 cy=829.5 r=2.95 />
<circle class=M cx=199 cy=744 r=2.95 />
<circle class=O cx=198 cy=816 r=2.95 />
<circle class=B cx=198.5 cy=796.5 r=2.95 />
<circle class=B cx=197.5 cy=795.5 r=2.95 />
<circle class=L cx=198.5 cy=799 r=2.95 />
<circle class=N cx=197.5 cy=808.5 r=2.95 />
<circle class=B cx=197.5 cy=746 r=2.95 />
<circle class=M cx=199 cy=754.5 r=2.95 />
<circle class=M cx=197.5 cy=768.5 r=2.95 />
<circle class=N cx=198 cy=762.5 r=2.95 />
<circle class=N cx=197.5 cy=820.5 r=2.95 />
<circle class=B cx=199 cy=785.5 r=2.95 />
<circle class=B cx=197.5 cy=803.5 r=2.95 />
<circle class=N cx=198 cy=819.5 r=2.95 />
<circle class=B cx=197.5 cy=776.5 r=2.95 />
<circle class=N cx=197.5 cy=777.5 r=2.95 />
<circle class=B cx=198.5 cy=783 r=2.95 />
<circle class=M cx=198 cy=770.5 r=2.95 />
<circle class=B cx=197.5 cy=745 r=2.95 />
<circle class=B cx=199 cy=796 r=2.95 />
<circle class=N cx=198 cy=827 r=2.95 />
<circle class=B cx=199 cy=809 r=2.95 />
<circle class=N cx=198.5 cy=827 r=2.95 />
<circle class=P cx=198.5 cy=778 r=2.95 />
<circle class=N cx=198.5 cy=760.5 r=2.95 />
<circle class=M cx=198.5 cy=809.5 r=2.95 />
<circle class=N cx=198.5 cy=763.5 r=2.95 />
<circle class=B cx=197.5 cy=755.5 r=2.95 />
<circle class=B cx=198 cy=809.5 r=2.95 />
<circle class=B cx=197.5 cy=813.5 r=2.95 />
<circle class=N cx=198.5 cy=809 r=2.95 />
<circle class=B cx=199 cy=743 r=2.95 />
<circle class=N cx=197.5 cy=798 r=2.95 />
<circle class=B cx=197.5 cy=791 r=2.95 />
<circle class=M cx=198 cy=740 r=2.95 />
<circle class=R cx=198.5 cy=827.5 r=2.95 />
<circle class=M cx=197 cy=791 r=2.95 />
<circle class=N cx=199 cy=826.5 r=2.95 />
<circle class=N cx=197 cy=830 r=2.95 />
<circle class=N cx=197.5 cy=823 r=2.95 />
<circle class=N cx=199 cy=802 r=2.95 />
<circle class=L cx=197.5 cy=828 r=2.95 />
<circle class=N cx=198.5 cy=829.5 r=2.95 />
<circle class=N cx=196.5 cy=759 r=2.95 />
<circle class=M cx=198.5 cy=783 r=2.95 />
<circle class=N cx=199.5 cy=771 r=2.95 />
<circle class=B cx=198 cy=752 r=2.95 />
<circle class=N cx=198.5 cy=803.5 r=2.95 />
<circle class=B cx=198 cy=790.5 r=2.95 />
<circle class=L cx=197.5 cy=763.5 r=2.95 />
<circle class=B cx=197 cy=785 r=2.95 />
<circle class=N cx=199 cy=774.5 r=2.95 />
<circle class=L cx=198 cy=750 r=2.95 />
<circle class=L cx=198 cy=821 r=2.95 />
<circle class=N cx=197.5 cy=783.5 r=2.95 />
<circle class=B cx=198.5 cy=766 r=2.95 />
<circle class=B cx=198.5 cy=785.5 r=2.95 />
<circle class=B cx=199 cy=752.5 r=2.95 />
<circle class=N cx=198 cy=821.5 r=2.95 />
<circle class=N cx=197 cy=804.5 r=2.95 />
<circle class=M cx=198 cy=816.5 r=2.95 />
<circle class=N cx=198.5 cy=759 r=2.95 />
<circle class=P cx=197.5 cy=802.5 r=2.95 />
<circle class=R cx=198.5 cy=818 r=2.95 />
<circle class=B cx=197.5 cy=790.5 r=2.95 />
<circle class=N cx=198.5 cy=827 r=2.95 />
<circle class=M cx=198 cy=814.5 r=2.95 />
<circle class=M cx=197.5 cy=802.5 r=2.95 />
<circle class=O cx=198.5 cy=786.5 r=2.95 />
<circle class=B cx=198.5 cy=821.5 r=2.95 />
<circle class=B cx=199 cy=798.5 r=2.95 />
<circle class=N cx=198 cy=775 r=2.95 />
<circle class=B cx=198 cy=747.5 r=2.95 />
<circle class=M cx=198.5 cy=754 r=2.95 />
<circle class=N cx=198 cy=741 r=2.95 />
<circle class=O cx=198.5 cy=813 r=2.95 />
<circle class=M cx=197.5 cy=782.5 r=2.95 />
<circle class=P cx=199 cy=798.5 r=2.95 />
<circle class=O cx=197.5 cy=746.5 r=2.95 />
<circle class=L cx=197.5 cy=746 r=2.95 />
<circle class=B cx=199.5 cy=822.5 r=2.95 />
<circle class=B cx=198.5 cy=821 r=2.95 />
<circle class=B cx=198 cy=828 r=2.95 />
<circle class=N cx=198.5 cy=828 r=2.95 />
<circle class=B cx=198 cy=863 r=2.95 />
<circle class=B cx=198.5 cy=867 r=2.95 />
<circle class=B cx=198 cy=874.5 r=2.95 />
<circle class=N cx=198 cy=831.5 r=2.95 />
<circle class=B cx=197 cy=855.5 r=2.95 />
<circle class=B cx=198.5 cy=869 r=2.95 />
<circle class=B cx=197.5 cy=858.5 r=2.95 />
<circle class=N cx=197.5 cy=830.5 r=2.95 />
<circle class=M cx=198 cy=845 r=2.95 />
<circle class=N cx=198.5 cy=851 r=2.95 />
<circle class=N cx=198.5 cy=861.5 r=2.95 />
<circle class=B cx=198.5 cy=862.5 r=2.95 />
<circle class=N cx=198 cy=830.5 r=2.95 />
<circle class=B cx=197.5 cy=835 r=2.95 />
<circle class=B cx=198 cy=856.5 r=2.95 />
<circle class=M cx=200.5 cy=836.5 r=2.95 />
<circle class=B cx=197 cy=854.5 r=2.95 />
<circle class=N cx=198 cy=851 r=2.95 />
<circle class=N cx=197 cy=868.5 r=2.95 />
<circle class=B cx=197.5 cy=852.5 r=2.95 />
<circle class=M cx=198 cy=855 r=2.95 />
<circle class=N cx=197.5 cy=863.5 r=2.95 />
<circle class=L cx=197.5 cy=871 r=2.95 />
<circle class=B cx=197.5 cy=832 r=2.95 />
<circle class=B cx=198 cy=871 r=2.95 />
<circle class=N cx=196.5 cy=874 r=2.95 />
<circle class=R cx=198.5 cy=869.5 r=2.95 />
<circle class=L cx=199 cy=854 r=2.95 />
<circle class=B cx=198 cy=862.5 r=2.95 />
<circle class=M cx=198 cy=861 r=2.95 />
<circle class=B cx=198.5 cy=875 r=2.95 />
<circle class=P cx=199 cy=849 r=2.95 />
<circle class=M cx=199 cy=854 r=2.95 />
<circle class=B cx=198.5 cy=863.5 r=2.95 />
<circle class=M cx=198.5 cy=852.5 r=2.95 />
<circle class=N cx=197 cy=869.5 r=2.95 />
<circle class=O cx=198.5 cy=863.5 r=2.95 />
<circle class=M cx=197 cy=849 r=2.95 />
<circle class=B cx=198 cy=866.5 r=2.95 />
<circle class=N cx=197 cy=874 r=2.95 />
<circle class=M cx=198.5 cy=845 r=2.95 />
<circle class=B cx=199 cy=847 r=2.95 />
<circle class=O cx=197.5 cy=868 r=2.95 />
<circle class=N cx=197.5 cy=855.5 r=2.95 />
<circle class=B cx=198 cy=847.5 r=2.95 />
<circle class=M cx=198.5 cy=856.5 r=2.95 />
<circle class=B cx=198 cy=873.5 r=2.95 />
<circle class=M cx=198.5 cy=865.5 r=2.95 />
<circle class=N cx=198 cy=832.5 r=2.95 />
<circle class=N cx=197.5 cy=876.5 r=2.95 />
<circle class=P cx=198 cy=875.5 r=2.95 />
<circle class=O cx=198.5 cy=865 r=2.95 />
<circle class=N cx=197.5 cy=832 r=2.95 />
<circle class=M cx=197.5 cy=850.5 r=2.95 />
<circle class=B cx=199.5 cy=852.5 r=2.95 />
<circle class=N cx=197.5 cy=836 r=2.95 />
<circle class=M cx=199.5 cy=856 r=2.95 />
<circle class=G cx=195.5 cy=830 r=2.95 />
<circle class=P cx=199 cy=858.5 r=2.95 />
<circle class=B cx=199 cy=843 r=2.95 />
<circle class=M cx=203.5 cy=515.5 r=2.95 />
<circle class=M cx=202.5 cy=550.5 r=2.95 />
<circle class=N cx=208 cy=460 r=2.95 />
<circle class=B cx=203.5 cy=543.5 r=2.95 />
<circle class=P cx=199.5 cy=465.5 r=2.95 />
<circle class=B cx=201.5 cy=538.5 r=2.95 />
<circle class=P cx=199 cy=558.5 r=2.95 />
<circle class=N cx=199.5 cy=531.5 r=2.95 />
<circle class=M cx=205.5 cy=478.5 r=2.95 />
<circle class=P cx=202.5 cy=516 r=2.95 />
<circle class=N cx=202.5 cy=541.5 r=2.95 />
<circle class=B cx=204 cy=510 r=2.95 />
<circle class=M cx=201 cy=523.5 r=2.95 />
<circle class=B cx=204.5 cy=458 r=2.95 />
<circle class=B cx=200.5 cy=507 r=2.95 />
<circle class=B cx=201.5 cy=494.5 r=2.95 />
<circle class=B cx=202.5 cy=448 r=2.95 />
<circle class=P cx=207.5 cy=504.5 r=2.95 />
<circle class=N cx=204 cy=529 r=2.95 />
<circle class=L cx=199.5 cy=544 r=2.95 />
<circle class=N cx=209 cy=530 r=2.95 />
<circle class=B cx=200 cy=462 r=2.95 />
<circle class=L cx=199.5 cy=513 r=2.95 />
<circle class=N cx=211 cy=556 r=2.95 />
<circle class=N cx=203 cy=496.5 r=2.95 />
<circle class=N cx=203.5 cy=548.5 r=2.95 />
<circle class=P cx=209.5 cy=446 r=2.95 />
<circle class=N cx=200 cy=479 r=2.95 />
<circle class=B cx=206.5 cy=473.5 r=2.95 />
<circle class=L cx=202.5 cy=529 r=2.95 />
<circle class=O cx=208 cy=551.5 r=2.95 />
<circle class=B cx=202.5 cy=533.5 r=2.95 />
<circle class=M cx=202 cy=443 r=2.95 />
<circle class=N cx=213 cy=538 r=2.95 />
<circle class=B cx=200 cy=534.5 r=2.95 />
<circle class=L cx=204 cy=540 r=2.95 />
<circle class=M cx=205.5 cy=558.5 r=2.95 />
<circle class=B cx=199 cy=493.5 r=2.95 />
<circle class=B cx=202.5 cy=547.5 r=2.95 />
<circle class=B cx=199 cy=487.5 r=2.95 />
<circle class=R cx=204 cy=452 r=2.95 />
<circle class=M cx=207 cy=522.5 r=2.95 />
<circle class=O cx=208.5 cy=550.5 r=2.95 />
<circle class=N cx=207 cy=498 r=2.95 />
<circle class=B cx=203.5 cy=481.5 r=2.95 />
<circle class=L cx=203 cy=466.5 r=2.95 />
<circle class=N cx=201.5 cy=440 r=2.95 />
<circle class=B cx=201.5 cy=473 r=2.95 />
<circle class=M cx=199 cy=510 r=2.95 />
<circle class=M cx=206 cy=445 r=2.95 />
<circle class=M cx=213 cy=510 r=2.95 />
<circle class=N cx=206 cy=497.5 r=2.95 />
<circle class=N cx=204.5 cy=502.5 r=2.95 />
<circle class=O cx=206.5 cy=477.5 r=2.95 />
<circle class=L cx=207.5 cy=453 r=2.95 />
<circle class=N cx=207.5 cy=516 r=2.95 />
<circle class=M cx=199.5 cy=474 r=2.95 />
<circle class=N cx=203.5 cy=478.5 r=2.95 />
<circle class=M cx=204.5 cy=446.5 r=2.95 />
<circle class=G cx=202.5 cy=478 r=2.95 />
<circle class=B cx=210.5 cy=727.5 r=2.95 />
<circle class=P cx=207.5 cy=640.5 r=2.95 />
<circle class=B cx=208 cy=590 r=2.95 />
<circle class=M cx=205.5 cy=560.5 r=2.95 />
<circle class=B cx=201.5 cy=595.5 r=2.95 />
<circle class=L cx=204.5 cy=694 r=2.95 />
<circle class=B cx=200 cy=705 r=2.95 />
<circle class=M cx=205 cy=628.5 r=2.95 />
<circle class=B cx=211 cy=647 r=2.95 />
<circle class=N cx=204.5 cy=661 r=2.95 />
<circle class=B cx=207 cy=662.5 r=2.95 />
<circle class=B cx=203.5 cy=585 r=2.95 />
<circle class=L cx=204.5 cy=609.5 r=2.95 />
<circle class=O cx=211.5 cy=729.5 r=2.95 />
<circle class=B cx=201.5 cy=609 r=2.95 />
<circle class=N cx=205.5 cy=635.5 r=2.95 />
<circle class=B cx=204 cy=726 r=2.95 />
<circle class=M cx=205 cy=667.5 r=2.95 />
<circle class=B cx=199.5 cy=628 r=2.95 />
<circle class=L cx=203.5 cy=709 r=2.95 />
<circle class=N cx=202.5 cy=596 r=2.95 />
<circle class=M cx=205.5 cy=693 r=2.95 />
<circle class=N cx=201 cy=625.5 r=2.95 />
<circle class=M cx=202.5 cy=663 r=2.95 />
<circle class=M cx=202 cy=711.5 r=2.95 />
<circle class=B cx=208 cy=602.5 r=2.95 />
<circle class=O cx=201 cy=721 r=2.95 />
<circle class=B cx=208.5 cy=710.5 r=2.95 />
<circle class=M cx=207 cy=723.5 r=2.95 />
<circle class=G cx=200.5 cy=710 r=2.95 />
<circle class=B cx=211 cy=722 r=2.95 />
<circle class=M cx=201.5 cy=640 r=2.95 />
<circle class=P cx=203.5 cy=667.5 r=2.95 />
<circle class=O cx=200 cy=566 r=2.95 />
<circle class=O cx=211.5 cy=727 r=2.95 />
<circle class=L cx=201.5 cy=629 r=2.95 />
<circle class=B cx=202 cy=597.5 r=2.95 />
<circle class=M cx=201.5 cy=736 r=2.95 />
<circle class=O cx=208.5 cy=618.5 r=2.95 />
<circle class=N cx=205.5 cy=738 r=2.95 />
<circle class=M cx=200.5 cy=702.5 r=2.95 />
<circle class=O cx=202.5 cy=615 r=2.95 />
<circle class=L cx=201.5 cy=587.5 r=2.95 />
<circle class=M cx=201.5 cy=648.5 r=2.95 />
<circle class=P cx=205 cy=722 r=2.95 />
<circle class=O cx=203 cy=666 r=2.95 />
<circle class=N cx=200 cy=676 r=2.95 />
<circle class=P cx=206.5 cy=665 r=2.95 />
<circle class=P cx=203.5 cy=695.5 r=2.95 />
<circle class=N cx=200 cy=590 r=2.95 />
<circle class=L cx=200 cy=567 r=2.95 />
<circle class=P cx=203 cy=651.5 r=2.95 />
<circle class=N cx=202 cy=625 r=2.95 />
<circle class=O cx=203 cy=698.5 r=2.95 />
<circle class=L cx=206.5 cy=658 r=2.95 />
<circle class=P cx=201.5 cy=709.5 r=2.95 />
<circle class=N cx=205.5 cy=640 r=2.95 />
<circle class=P cx=199 cy=573.5 r=2.95 />
<circle class=N cx=200 cy=639.5 r=2.95 />
<circle class=M cx=200.5 cy=637.5 r=2.95 />
<circle class=M cx=199.5 cy=725 r=2.95 />
<circle class=N cx=205 cy=563.5 r=2.95 />
<circle class=O cx=206.5 cy=639 r=2.95 />
<circle class=B cx=204 cy=625 r=2.95 />
<circle class=P cx=199.5 cy=585.5 r=2.95 />
<circle class=L cx=203 cy=672 r=2.95 />
<circle class=N cx=207.5 cy=571.5 r=2.95 />
<circle class=N cx=200.5 cy=656 r=2.95 />
<circle class=N cx=206 cy=676.5 r=2.95 />
<circle class=B cx=204 cy=658 r=2.95 />
<circle class=L cx=206.5 cy=601.5 r=2.95 />
<circle class=O cx=199.5 cy=649 r=2.95 />
<circle class=N cx=208.5 cy=589.5 r=2.95 />
<circle class=M cx=200 cy=586 r=2.95 />
<circle class=B cx=205 cy=656.5 r=2.95 />
<circle class=P cx=205 cy=619 r=2.95 />
<circle class=M cx=201 cy=589.5 r=2.95 />
<circle class=N cx=204 cy=689 r=2.95 />
<circle class=P cx=204.5 cy=638 r=2.95 />
<circle class=M cx=205.5 cy=713.5 r=2.95 />
<circle class=O cx=202 cy=609.5 r=2.95 />
<circle class=L cx=205.5 cy=610.5 r=2.95 />
<circle class=B cx=199 cy=606.5 r=2.95 />
<circle class=B cx=201 cy=705.5 r=2.95 />
<circle class=M cx=203.5 cy=672 r=2.95 />
<circle class=B cx=201.5 cy=562.5 r=2.95 />
<circle class=M cx=207.5 cy=707 r=2.95 />
<circle class=N cx=205.5 cy=601.5 r=2.95 />
<circle class=G cx=204 cy=680.5 r=2.95 />
<circle class=O cx=201 cy=658 r=2.95 />
<circle class=B cx=209.5 cy=622 r=2.95 />
<circle class=L cx=203 cy=697.5 r=2.95 />
<circle class=N cx=208.5 cy=678 r=2.95 />
<circle class=P cx=206 cy=732.5 r=2.95 />
<circle class=O cx=226 cy=622.5 r=2.95 />
<circle class=R cx=199.5 cy=675 r=2.95 />
<circle class=N cx=201 cy=588 r=2.95 />
<circle class=P cx=204.5 cy=592 r=2.95 />
<circle class=L cx=204 cy=652 r=2.95 />
<circle class=B cx=202.5 cy=686.5 r=2.95 />
<circle class=N cx=201.5 cy=578.5 r=2.95 />
<circle class=R cx=203.5 cy=665.5 r=2.95 />
<circle class=O cx=202 cy=664 r=2.95 />
<circle class=B cx=200 cy=736 r=2.95 />
<circle class=O cx=200 cy=641.5 r=2.95 />
<circle class=L cx=208 cy=665.5 r=2.95 />
<circle class=N cx=204 cy=562 r=2.95 />
<circle class=L cx=205 cy=620.5 r=2.95 />
<circle class=M cx=201.5 cy=597 r=2.95 />
<circle class=O cx=207 cy=720.5 r=2.95 />
<circle class=L cx=205 cy=617 r=2.95 />
<circle class=B cx=206 cy=609.5 r=2.95 />
<circle class=O cx=200.5 cy=713 r=2.95 />
<circle class=N cx=201.5 cy=562 r=2.95 />
<circle class=N cx=208 cy=564 r=2.95 />
<circle class=M cx=201.5 cy=583 r=2.95 />
<circle class=B cx=204.5 cy=598.5 r=2.95 />
<circle class=B cx=201.5 cy=707 r=2.95 />
<circle class=N cx=211 cy=660.5 r=2.95 />
<circle class=R cx=202 cy=679 r=2.95 />
<circle class=O cx=200 cy=600 r=2.95 />
<circle class=L cx=201 cy=679 r=2.95 />
<circle class=B cx=205 cy=567.5 r=2.95 />
<circle class=M cx=204.5 cy=696 r=2.95 />
<circle class=B cx=205 cy=598 r=2.95 />
<circle class=M cx=205.5 cy=623 r=2.95 />
<circle class=N cx=207 cy=675 r=2.95 />
<circle class=N cx=202.5 cy=601 r=2.95 />
<circle class=M cx=200.5 cy=683.5 r=2.95 />
<circle class=M cx=208 cy=620.5 r=2.95 />
<circle class=N cx=206 cy=636.5 r=2.95 />
<circle class=L cx=207.5 cy=610.5 r=2.95 />
<circle class=B cx=207.5 cy=715.5 r=2.95 />
<circle class=N cx=205 cy=724.5 r=2.95 />
<circle class=P cx=200 cy=738.5 r=2.95 />
<circle class=N cx=203.5 cy=620.5 r=2.95 />
<circle class=M cx=206 cy=614.5 r=2.95 />
<circle class=N cx=202 cy=661 r=2.95 />
<circle class=N cx=199 cy=662 r=2.95 />
<circle class=M cx=199.5 cy=727 r=2.95 />
<circle class=N cx=203.5 cy=607.5 r=2.95 />
<circle class=B cx=203 cy=731.5 r=2.95 />
<circle class=B cx=206 cy=643.5 r=2.95 />
<circle class=B cx=207.5 cy=620.5 r=2.95 />
<circle class=O cx=200.5 cy=735.5 r=2.95 />
<circle class=N cx=200 cy=667.5 r=2.95 />
<circle class=L cx=205.5 cy=619 r=2.95 />
<circle class=M cx=211.5 cy=621.5 r=2.95 />
<circle class=N cx=205 cy=699 r=2.95 />
<circle class=N cx=203 cy=590.5 r=2.95 />
<circle class=B cx=201.5 cy=600.5 r=2.95 />
<circle class=N cx=206 cy=660 r=2.95 />
<circle class=N cx=211 cy=590 r=2.95 />
<circle class=N cx=209.5 cy=656 r=2.95 />
<circle class=G cx=209.5 cy=571 r=2.95 />
<circle class=N cx=200.5 cy=677.5 r=2.95 />
<circle class=L cx=206 cy=624 r=2.95 />
<circle class=L cx=199.5 cy=732.5 r=2.95 />
<circle class=B cx=207.5 cy=592.5 r=2.95 />
<circle class=B cx=204 cy=567.5 r=2.95 />
<circle class=B cx=199 cy=765.5 r=2.95 />
<circle class=O cx=205 cy=753 r=2.95 />
<circle class=N cx=207 cy=778.5 r=2.95 />
<circle class=B cx=201.5 cy=744 r=2.95 />
<circle class=O cx=206.5 cy=773 r=2.95 />
<circle class=M cx=207 cy=785.5 r=2.95 />
<circle class=L cx=199.5 cy=761.5 r=2.95 />
<circle class=B cx=199.5 cy=777 r=2.95 />
<circle class=B cx=205.5 cy=747 r=2.95 />
<circle class=N cx=200 cy=791.5 r=2.95 />
<circle class=N cx=207.5 cy=769.5 r=2.95 />
<circle class=B cx=201 cy=775.5 r=2.95 />
<circle class=M cx=201 cy=764 r=2.95 />
<circle class=M cx=210 cy=741 r=2.95 />
<circle class=M cx=208 cy=791 r=2.95 />
<circle class=L cx=206 cy=785 r=2.95 />
<circle class=L cx=208.5 cy=742 r=2.95 />
<circle class=M cx=205 cy=785.5 r=2.95 />
<circle class=P cx=200.5 cy=763 r=2.95 />
<circle class=M cx=202 cy=790 r=2.95 />
<circle class=N cx=199.5 cy=775.5 r=2.95 />
<circle class=B cx=200 cy=788 r=2.95 />
<circle class=N cx=200 cy=764.5 r=2.95 />
<circle class=N cx=208 cy=764 r=2.95 />
<circle class=L cx=203.5 cy=767 r=2.95 />
<circle class=M cx=202.5 cy=768.5 r=2.95 />
<circle class=M cx=201.5 cy=752.5 r=2.95 />
<circle class=L cx=205.5 cy=765.5 r=2.95 />
<circle class=B cx=199.5 cy=762 r=2.95 />
<circle class=L cx=204 cy=791 r=2.95 />
<circle class=M cx=211 cy=753 r=2.95 />
<circle class=P cx=202 cy=771 r=2.95 />
<circle class=M cx=200.5 cy=780.5 r=2.95 />
<circle class=B cx=200 cy=790.5 r=2.95 />
<circle class=G cx=203.5 cy=796.5 r=2.95 />
<circle class=N cx=203.5 cy=766 r=2.95 />
<circle class=M cx=201.5 cy=777.5 r=2.95 />
<circle class=N cx=200.5 cy=772 r=2.95 />
<circle class=P cx=210.5 cy=764.5 r=2.95 />
<circle class=B cx=200 cy=745 r=2.95 />
<circle class=P cx=240 cy=599.5 r=2.95 />
<circle class=L cx=232.5 cy=638.5 r=2.95 />
<circle class=O cx=251.5 cy=671.5 r=2.95 />
<circle class=M cx=214.5 cy=620 r=2.95 />
<circle class=O cx=228 cy=669 r=2.95 />
<circle class=N cx=215.5 cy=663 r=2.95 />
<circle class=M cx=216 cy=656.5 r=2.95 />
<circle class=B cx=244 cy=642.5 r=2.95 />
<circle class=M cx=239 cy=645 r=2.95 />
<circle class=M cx=214.5 cy=611 r=2.95 />
<circle class=B cx=327 cy=640.5 r=2.95 />
<circle class=O cx=285.5 cy=620 r=2.95 />
<circle class=P cx=215.5 cy=640.5 r=2.95 />
<circle class=B cx=206 cy=597 r=2.95 />
<circle class=N cx=247.5 cy=580.5 r=2.95 />
<circle class=N cx=208.5 cy=691.5 r=2.95 />
<circle class=N cx=325.5 cy=666 r=2.95 />
<circle class=R cx=210.5 cy=628 r=2.95 />
<circle class=L cx=311.5 cy=637 r=2.95 />
<circle class=M cx=233 cy=647 r=2.95 />
<circle class=N cx=207 cy=621 r=2.95 />
<circle class=N cx=230.5 cy=663 r=2.95 />
<circle class=L cx=211.5 cy=624 r=2.95 />
<circle class=G cx=202.5 cy=654.5 r=2.95 />
<circle class=B cx=252.5 cy=627.5 r=2.95 />
<circle class=P cx=271.5 cy=585 r=2.95 />
<circle class=B cx=204.5 cy=587 r=2.95 />
<circle class=N cx=233 cy=583.5 r=2.95 />
<circle class=B cx=258.5 cy=640.5 r=2.95 />
<circle class=N cx=235 cy=645.5 r=2.95 />
<circle class=L cx=284 cy=614.5 r=2.95 />
<circle class=P cx=244 cy=630.5 r=2.95 />
<circle class=M cx=336 cy=589.5 r=2.95 />
<circle class=M cx=214.5 cy=657.5 r=2.95 />
<circle class=B cx=202.5 cy=661.5 r=2.95 />
<circle class=N cx=316.5 cy=627.5 r=2.95 />
<circle class=B cx=204.5 cy=623 r=2.95 />
<circle class=L cx=208 cy=605 r=2.95 />
<circle class=L cx=214.5 cy=649 r=2.95 />
<circle class=N cx=205 cy=683 r=2.95 />
<circle class=L cx=206 cy=620.5 r=2.95 />
<circle class=B cx=203.5 cy=638.5 r=2.95 />
<circle class=N cx=220.5 cy=663 r=2.95 />
<circle class=B cx=207 cy=621.5 r=2.95 />
<circle class=N cx=203.5 cy=642 r=2.95 />
<circle class=N cx=208 cy=619.5 r=2.95 />
<circle class=B cx=258.5 cy=603 r=2.95 />
<circle class=O cx=257 cy=622.5 r=2.95 />
<circle class=N cx=275.5 cy=600.5 r=2.95 />
<circle class=N cx=261 cy=640.5 r=2.95 />
<circle class=P cx=200 cy=663.5 r=2.95 />
<circle class=B cx=247 cy=597.5 r=2.95 />
<circle class=M cx=204 cy=718 r=2.95 />
<circle class=M cx=260 cy=649.5 r=2.95 />
<circle class=N cx=240.5 cy=676.5 r=2.95 />
<circle class=M cx=208.5 cy=620 r=2.95 />
<circle class=B cx=208 cy=681 r=2.95 />
<circle class=M cx=217 cy=652 r=2.95 />
<circle class=M cx=227.5 cy=623.5 r=2.95 />
<circle class=R cx=202.5 cy=632 r=2.95 />
<circle class=N cx=209 cy=614.5 r=2.95 />
<circle class=M cx=224.5 cy=656.5 r=2.95 />
<circle class=R cx=228 cy=694.5 r=2.95 />
<circle class=M cx=207.5 cy=598 r=2.95 />
<circle class=L cx=271.5 cy=634 r=2.95 />
<circle class=M cx=226.5 cy=632.5 r=2.95 />
<circle class=R cx=254 cy=672 r=2.95 />
<circle class=P cx=292 cy=636.5 r=2.95 />
<circle class=B cx=215 cy=599 r=2.95 />
<circle class=P cx=243.5 cy=586.5 r=2.95 />
<circle class=M cx=224.5 cy=610 r=2.95 />
<circle class=L cx=220 cy=652 r=2.95 />
<circle class=R cx=220.5 cy=629.5 r=2.95 />
<circle class=B cx=218 cy=640.5 r=2.95 />
<circle class=B cx=317.5 cy=639 r=2.95 />
<circle class=N cx=225.5 cy=616.5 r=2.95 />
<circle class=L cx=235.5 cy=625.5 r=2.95 />
<circle class=B cx=205 cy=670.5 r=2.95 />
<circle class=B cx=285 cy=605.5 r=2.95 />
<circle class=M cx=258 cy=642.5 r=2.95 />
<circle class=N cx=228.5 cy=601.5 r=2.95 />
<circle class=B cx=242.5 cy=674.5 r=2.95 />
<circle class=O cx=228 cy=628 r=2.95 />
<circle class=N cx=248.5 cy=659.5 r=2.95 />
<circle class=O cx=241 cy=636.5 r=2.95 />
<circle class=R cx=227 cy=653 r=2.95 />
<circle class=M cx=292 cy=621 r=2.95 />
<circle class=L cx=230.5 cy=621.5 r=2.95 />
<circle class=M cx=255.5 cy=630.5 r=2.95 />
<circle class=M cx=220.5 cy=537.5 r=2.95 />
<circle class=L cx=213.5 cy=649 r=2.95 />
<circle class=M cx=212 cy=645 r=2.95 />
<circle class=P cx=236.5 cy=588.5 r=2.95 />
<circle class=N cx=221 cy=650 r=2.95 />
<circle class=M cx=209.5 cy=679.5 r=2.95 />
<circle class=R cx=224 cy=606.5 r=2.95 />
<circle class=P cx=243.5 cy=637 r=2.95 />
<circle class=B cx=203.5 cy=607 r=2.95 />
<circle class=P cx=233.5 cy=622.5 r=2.95 />
<circle class=N cx=219 cy=660 r=2.95 />
<circle class=N cx=203 cy=660.5 r=2.95 />
<circle class=M cx=226.5 cy=642 r=2.95 />
<circle class=N cx=333 cy=627.5 r=2.95 />
<circle class=R cx=238.5 cy=636 r=2.95 />
<circle class=B cx=296 cy=626.5 r=2.95 />
<circle class=O cx=209.5 cy=604.5 r=2.95 />
<circle class=P cx=290 cy=609 r=2.95 />
<circle class=R cx=336 cy=643 r=2.95 />
<circle class=N cx=206.5 cy=627.5 r=2.95 />
<circle class=B cx=229 cy=650 r=2.95 />
<circle class=N cx=205 cy=616.5 r=2.95 />
<circle class=M cx=306.5 cy=639.5 r=2.95 />
<circle class=L cx=255 cy=663.5 r=2.95 />
<circle class=M cx=315 cy=661.5 r=2.95 />
<circle class=B cx=238 cy=651 r=2.95 />
<circle class=M cx=238 cy=690 r=2.95 />
<circle class=R cx=216 cy=664.5 r=2.95 />
<circle class=B cx=224.5 cy=660 r=2.95 />
<circle class=M cx=230 cy=628 r=2.95 />
<circle class=N cx=220.5 cy=647 r=2.95 />
<circle class=M cx=244 cy=628 r=2.95 />
<circle class=M cx=322 cy=649.5 r=2.95 />
<circle class=N cx=219.5 cy=669 r=2.95 />
<circle class=N cx=203.5 cy=655 r=2.95 />
<circle class=M cx=210 cy=642.5 r=2.95 />
<circle class=B cx=210 cy=633 r=2.95 />
<circle class=O cx=210.5 cy=669.5 r=2.95 />
<circle class=M cx=213.5 cy=709 r=2.95 />
<circle class=M cx=217.5 cy=612 r=2.95 />
<circle class=B cx=291 cy=646.5 r=2.95 />
<circle class=L cx=211.5 cy=623 r=2.95 />
<circle class=P cx=200.5 cy=649 r=2.95 />
<circle class=N cx=207.5 cy=667 r=2.95 />
<circle class=O cx=293.5 cy=647.5 r=2.95 />
<circle class=R cx=232 cy=681.5 r=2.95 />
<circle class=M cx=205 cy=616 r=2.95 />
<circle class=N cx=239 cy=650.5 r=2.95 />
<circle class=O cx=209 cy=668.5 r=2.95 />
<circle class=P cx=248 cy=607.5 r=2.95 />
<circle class=M cx=227 cy=651.5 r=2.95 />
<circle class=M cx=216 cy=682 r=2.95 />
<circle class=M cx=201.5 cy=590.5 r=2.95 />
<circle class=L cx=206 cy=686.5 r=2.95 />
<circle class=B cx=216 cy=673 r=2.95 />
<circle class=B cx=202.5 cy=654.5 r=2.95 />
<circle class=B cx=219 cy=616.5 r=2.95 />
<circle class=N cx=278.5 cy=671 r=2.95 />
<circle class=N cx=300.5 cy=646 r=2.95 />
<circle class=B cx=252.5 cy=612 r=2.95 />
<circle class=N cx=218.5 cy=671.5 r=2.95 />
<circle class=N cx=262.5 cy=650 r=2.95 />
<circle class=M cx=215 cy=617 r=2.95 />
<circle class=B cx=240.5 cy=644 r=2.95 />
<circle class=P cx=233 cy=657.5 r=2.95 />
<circle class=L cx=203.5 cy=631 r=2.95 />
<circle class=B cx=238 cy=599 r=2.95 />
<circle class=R cx=306 cy=637 r=2.95 />
<circle class=R cx=245 cy=622.5 r=2.95 />
<circle class=L cx=209.5 cy=637.5 r=2.95 />
<circle class=N cx=295 cy=655.5 r=2.95 />
<circle class=R cx=294 cy=655 r=2.95 />
<circle class=N cx=271.5 cy=634 r=2.95 />
<circle class=R cx=260.5 cy=678.5 r=2.95 />
<circle class=B cx=247.5 cy=579 r=2.95 />
<circle class=G cx=202.5 cy=611 r=2.95 />
<circle class=N cx=296.5 cy=655 r=2.95 />
<circle class=B cx=246.5 cy=619.5 r=2.95 />
<circle class=M cx=255 cy=633.5 r=2.95 />
<circle class=N cx=214.5 cy=571.5 r=2.95 />
<circle class=N cx=240 cy=608.5 r=2.95 />
<circle class=N cx=202.5 cy=670 r=2.95 />
<circle class=N cx=222 cy=620.5 r=2.95 />
<circle class=N cx=269.5 cy=648.5 r=2.95 />
<circle class=M cx=291 cy=637 r=2.95 />
<circle class=M cx=209.5 cy=607 r=2.95 />
<circle class=P cx=266.5 cy=620 r=2.95 />
<circle class=B cx=243 cy=658 r=2.95 />
<circle class=M cx=219 cy=654 r=2.95 />
<circle class=B cx=221 cy=661.5 r=2.95 />
<circle class=N cx=215 cy=593.5 r=2.95 />
<circle class=N cx=291.5 cy=644 r=2.95 />
<circle class=N cx=252 cy=603 r=2.95 />
<circle class=P cx=257 cy=633 r=2.95 />
<circle class=R cx=284.5 cy=638.5 r=2.95 />
<circle class=O cx=240 cy=615 r=2.95 />
<circle class=N cx=212.5 cy=673 r=2.95 />
<circle class=P cx=263 cy=637.5 r=2.95 />
<circle class=G cx=305.5 cy=655.5 r=2.95 />
<circle class=M cx=244.5 cy=630 r=2.95 />
<circle class=P cx=275.5 cy=645.5 r=2.95 />
<circle class=R cx=289 cy=675.5 r=2.95 />
<circle class=B cx=308 cy=656.5 r=2.95 />
<circle class=B cx=273.5 cy=656 r=2.95 />
<circle class=O cx=288.5 cy=617 r=2.95 />
<circle class=B cx=246.5 cy=687 r=2.95 />
<circle class=B cx=252 cy=633 r=2.95 />
<circle class=M cx=226.5 cy=589 r=2.95 />
<circle class=M cx=215.5 cy=626.5 r=2.95 />
<circle class=N cx=277.5 cy=601.5 r=2.95 />
<circle class=N cx=291 cy=648.5 r=2.95 />
<circle class=L cx=256.5 cy=675 r=2.95 />
<circle class=N cx=274 cy=623.5 r=2.95 />
<circle class=O cx=264 cy=649 r=2.95 />
<circle class=B cx=217 cy=586.5 r=2.95 />
<circle class=N cx=229 cy=640 r=2.95 />
<circle class=N cx=201.5 cy=637 r=2.95 />
<circle class=M cx=206 cy=662.5 r=2.95 />
<circle class=N cx=230.5 cy=645.5 r=2.95 />
<circle class=M cx=201.5 cy=680.5 r=2.95 />
<circle class=B cx=296.5 cy=675 r=2.95 />
<circle class=B cx=247.5 cy=670 r=2.95 />
<circle class=B cx=215.5 cy=624 r=2.95 />
<circle class=L cx=312 cy=653 r=2.95 />
<circle class=N cx=209 cy=675 r=2.95 />
<circle class=R cx=241 cy=635 r=2.95 />
<circle class=N cx=204 cy=670.5 r=2.95 />
<circle class=B cx=244 cy=617 r=2.95 />
<circle class=M cx=257.5 cy=625 r=2.95 />
<circle class=L cx=320 cy=676.5 r=2.95 />
<circle class=M cx=271 cy=649.5 r=2.95 />
<circle class=N cx=264.5 cy=635 r=2.95 />
<circle class=N cx=285.5 cy=648.5 r=2.95 />
<circle class=B cx=204.5 cy=665.5 r=2.95 />
<circle class=L cx=309 cy=596.5 r=2.95 />
<circle class=M cx=279.5 cy=652.5 r=2.95 />
<circle class=M cx=222 cy=604.5 r=2.95 />
<circle class=B cx=242.5 cy=588 r=2.95 />
<circle class=N cx=279 cy=667 r=2.95 />
<circle class=B cx=226 cy=669 r=2.95 />
<circle class=O cx=226 cy=602 r=2.95 />
<circle class=O cx=277 cy=654 r=2.95 />
<circle class=O cx=208 cy=648 r=2.95 />
<circle class=B cx=239.5 cy=573.5 r=2.95 />
<circle class=B cx=268.5 cy=626.5 r=2.95 />
<circle class=L cx=253 cy=592 r=2.95 />
<circle class=M cx=286.5 cy=604 r=2.95 />
<circle class=N cx=279 cy=635.5 r=2.95 />
<circle class=L cx=231 cy=592 r=2.95 />
<circle class=M cx=207 cy=738 r=2.95 />
<circle class=B cx=255.5 cy=621.5 r=2.95 />
<circle class=B cx=231.5 cy=669 r=2.95 />
<circle class=M cx=233.5 cy=671 r=2.95 />
<circle class=L cx=201.5 cy=622 r=2.95 />
<circle class=B cx=298 cy=645 r=2.95 />
<circle class=B cx=279 cy=650 r=2.95 />
<circle class=M cx=252.5 cy=621 r=2.95 />
<circle class=N cx=226.5 cy=652.5 r=2.95 />
<circle class=N cx=239.5 cy=666.5 r=2.95 />
<circle class=L cx=257 cy=606 r=2.95 />
<circle class=L cx=257 cy=617.5 r=2.95 />
<circle class=B cx=212.5 cy=637 r=2.95 />
<circle class=L cx=239 cy=622.5 r=2.95 />
<circle class=O cx=219.5 cy=623 r=2.95 />
<circle class=B cx=230 cy=673.5 r=2.95 />
<circle class=M cx=237 cy=681 r=2.95 />
<circle class=M cx=208 cy=645 r=2.95 />
<circle class=G cx=207.5 cy=642 r=2.95 />
<circle class=O cx=257.5 cy=630 r=2.95 />
<circle class=O cx=216.5 cy=659.5 r=2.95 />
<circle class=R cx=275 cy=648.5 r=2.95 />
<circle class=N cx=208 cy=640 r=2.95 />
<circle class=R cx=286.5 cy=642 r=2.95 />
<circle class=N cx=236 cy=596.5 r=2.95 />
<circle class=B cx=271.5 cy=635 r=2.95 />
<circle class=M cx=211.5 cy=630 r=2.95 />
<circle class=L cx=260 cy=659 r=2.95 />
<circle class=M cx=232 cy=674 r=2.95 />
<circle class=L cx=223.5 cy=654 r=2.95 />
<circle class=N cx=216 cy=688.5 r=2.95 />
<circle class=R cx=209.5 cy=627.5 r=2.95 />
<circle class=M cx=219 cy=662 r=2.95 />
<circle class=N cx=301 cy=619 r=2.95 />
<circle class=B cx=212.5 cy=676.5 r=2.95 />
<circle class=M cx=203 cy=595 r=2.95 />
<circle class=N cx=281.5 cy=670.5 r=2.95 />
<circle class=B cx=289.5 cy=644.5 r=2.95 />
<circle class=B cx=230.5 cy=583.5 r=2.95 />
<circle class=M cx=332 cy=634.5 r=2.95 />
<circle class=L cx=204.5 cy=665.5 r=2.95 />
<circle class=N cx=241.5 cy=627.5 r=2.95 />
<circle class=O cx=234 cy=635 r=2.95 />
<circle class=R cx=326 cy=650 r=2.95 />
<circle class=M cx=244.5 cy=581 r=2.95 />
<circle class=L cx=201 cy=623 r=2.95 />
<circle class=N cx=236 cy=638 r=2.95 />
<circle class=L cx=295 cy=645.5 r=2.95 />
<circle class=M cx=221 cy=606.5 r=2.95 />
<circle class=M cx=229.5 cy=658.5 r=2.95 />
<circle class=N cx=208 cy=573.5 r=2.95 />
<circle class=L cx=292.5 cy=671 r=2.95 />
<circle class=B cx=202.5 cy=647 r=2.95 />
<circle class=M cx=273.5 cy=680.5 r=2.95 />
<circle class=B cx=226 cy=630 r=2.95 />
<circle class=B cx=305.5 cy=656.5 r=2.95 />
<circle class=O cx=261 cy=628 r=2.95 />
<circle class=R cx=213 cy=673.5 r=2.95 />
<circle class=M cx=321 cy=664.5 r=2.95 />
<circle class=M cx=283.5 cy=628.5 r=2.95 />
<circle class=B cx=334 cy=650 r=2.95 />
<circle class=B cx=217.5 cy=660.5 r=2.95 />
<circle class=M cx=218 cy=620 r=2.95 />
<circle class=L cx=215.5 cy=634 r=2.95 />
<circle class=B cx=210 cy=655.5 r=2.95 />
<circle class=M cx=241 cy=616.5 r=2.95 />
<circle class=R cx=205.5 cy=626.5 r=2.95 />
<circle class=G cx=206 cy=631 r=2.95 />
<circle class=M cx=252 cy=587.5 r=2.95 />
<circle class=P cx=206 cy=644.5 r=2.95 />
<circle class=O cx=224 cy=604.5 r=2.95 />
<circle class=M cx=204.5 cy=664.5 r=2.95 />
<circle class=M cx=246 cy=591 r=2.95 />
<circle class=M cx=209.5 cy=678 r=2.95 />
<circle class=M cx=241.5 cy=660 r=2.95 />
<circle class=B cx=201.5 cy=623.5 r=2.95 />
<circle class=N cx=200 cy=650 r=2.95 />
<circle class=N cx=211 cy=654 r=2.95 />
<circle class=N cx=262.5 cy=598 r=2.95 />
<circle class=B cx=203 cy=671 r=2.95 />
<circle class=N cx=218 cy=637.5 r=2.95 />
<circle class=N cx=238 cy=622.5 r=2.95 />
<circle class=B cx=208 cy=628.5 r=2.95 />
<circle class=M cx=224.5 cy=666.5 r=2.95 />
<circle class=L cx=221 cy=654 r=2.95 />
<circle class=G cx=210.5 cy=617 r=2.95 />
<circle class=N cx=239 cy=653.5 r=2.95 />
<circle class=N cx=243 cy=623 r=2.95 />
<circle class=B cx=281.5 cy=638 r=2.95 />
<circle class=B cx=219.5 cy=623 r=2.95 />
<circle class=O cx=220 cy=628.5 r=2.95 />
<circle class=M cx=250 cy=666 r=2.95 />
<circle class=B cx=206 cy=643 r=2.95 />
<circle class=B cx=240 cy=622.5 r=2.95 />
<circle class=L cx=227 cy=581 r=2.95 />
<circle class=M cx=211.5 cy=596.5 r=2.95 />
<circle class=R cx=283.5 cy=639.5 r=2.95 />
<circle class=G cx=206 cy=601.5 r=2.95 />
<circle class=M cx=205 cy=658.5 r=2.95 />
<circle class=B cx=223.5 cy=640 r=2.95 />
<circle class=N cx=200.5 cy=667 r=2.95 />
<circle class=N cx=207.5 cy=676 r=2.95 />
<circle class=P cx=239.5 cy=659 r=2.95 />
<circle class=M cx=249.5 cy=654 r=2.95 />
<circle class=L cx=203 cy=569 r=2.95 />
<circle class=O cx=210.5 cy=682 r=2.95 />
<circle class=O cx=201.5 cy=649 r=2.95 />
<circle class=B cx=259.5 cy=672.5 r=2.95 />
<circle class=P cx=227.5 cy=647 r=2.95 />
<circle class=M cx=216 cy=589.5 r=2.95 />
<circle class=N cx=227 cy=641 r=2.95 />
<circle class=M cx=229 cy=643 r=2.95 />
<circle class=B cx=280.5 cy=662 r=2.95 />
<circle class=B cx=210 cy=594 r=2.95 />
<circle class=N cx=215.5 cy=670 r=2.95 />
<circle class=M cx=206 cy=612.5 r=2.95 />
<circle class=L cx=235 cy=601 r=2.95 />
<circle class=M cx=219.5 cy=655.5 r=2.95 />
<circle class=M cx=210 cy=643.5 r=2.95 />
<circle class=R cx=204 cy=637 r=2.95 />
<circle class=L cx=206.5 cy=635 r=2.95 />
<circle class=N cx=246 cy=642.5 r=2.95 />
<circle class=O cx=305 cy=606.5 r=2.95 />
<circle class=P cx=213.5 cy=652.5 r=2.95 />
<circle class=N cx=207 cy=681 r=2.95 />
<circle class=B cx=314.5 cy=619.5 r=2.95 />
<circle class=P cx=281.5 cy=615.5 r=2.95 />
<circle class=P cx=202.5 cy=541 r=2.95 />
<circle class=M cx=235.5 cy=628.5 r=2.95 />
<circle class=B cx=223 cy=603 r=2.95 />
<circle class=L cx=206 cy=702.5 r=2.95 />
<circle class=B cx=211 cy=679.5 r=2.95 />
<circle class=M cx=307.5 cy=638.5 r=2.95 />
<circle class=P cx=201 cy=582 r=2.95 />
<circle class=M cx=245.5 cy=630 r=2.95 />
<circle class=R cx=211 cy=642.5 r=2.95 />
<circle class=N cx=214.5 cy=597.5 r=2.95 />
<circle class=B cx=243 cy=646 r=2.95 />
<circle class=R cx=206.5 cy=655 r=2.95 />
<circle class=N cx=218.5 cy=665.5 r=2.95 />
<circle class=N cx=210.5 cy=607.5 r=2.95 />
<circle class=O cx=236 cy=691.5 r=2.95 />
<circle class=O cx=254 cy=585 r=2.95 />
<circle class=L cx=223.5 cy=658.5 r=2.95 />
<circle class=N cx=206 cy=651.5 r=2.95 />
<circle class=O cx=298 cy=605 r=2.95 />
<circle class=L cx=264.5 cy=624.5 r=2.95 />
<circle class=N cx=212 cy=590 r=2.95 />
<circle class=O cx=207 cy=655 r=2.95 />
<circle class=N cx=250.5 cy=655.5 r=2.95 />
<circle class=N cx=299 cy=620 r=2.95 />
<circle class=P cx=255 cy=584.5 r=2.95 />
<circle class=P cx=257 cy=649.5 r=2.95 />
<circle class=M cx=215 cy=615 r=2.95 />
<circle class=M cx=206 cy=687 r=2.95 />
<circle class=M cx=303.5 cy=605.5 r=2.95 />
<circle class=R cx=316 cy=667 r=2.95 />
<circle class=N cx=316.5 cy=639.5 r=2.95 />
<circle class=N cx=303.5 cy=633.5 r=2.95 />
<circle class=P cx=212.5 cy=604.5 r=2.95 />
<circle class=O cx=212 cy=634.5 r=2.95 />
<circle class=B cx=254 cy=629.5 r=2.95 />
<circle class=M cx=318.5 cy=631.5 r=2.95 />
<circle class=N cx=276 cy=633 r=2.95 />
<circle class=N cx=233.5 cy=642 r=2.95 />
<circle class=L cx=211.5 cy=624.5 r=2.95 />
<circle class=M cx=213 cy=627.5 r=2.95 />
<circle class=M cx=267.5 cy=662 r=2.95 />
<circle class=R cx=326 cy=658.5 r=2.95 />
<circle class=L cx=241 cy=689.5 r=2.95 />
<circle class=M cx=284 cy=610 r=2.95 />
<circle class=N cx=220 cy=624 r=2.95 />
<circle class=N cx=213.5 cy=615.5 r=2.95 />
<circle class=B cx=290 cy=634 r=2.95 />
<circle class=B cx=260.5 cy=649 r=2.95 />
<circle class=B cx=224.5 cy=552 r=2.95 />
<circle class=M cx=236.5 cy=641 r=2.95 />
<circle class=N cx=273.5 cy=623 r=2.95 />
<circle class=B cx=200.5 cy=663.5 r=2.95 />
<circle class=O cx=217.5 cy=615.5 r=2.95 />
<circle class=N cx=266 cy=642 r=2.95 />
<circle class=L cx=218.5 cy=671.5 r=2.95 />
<circle class=N cx=237 cy=591.5 r=2.95 />
<circle class=P cx=213 cy=599 r=2.95 />
<circle class=M cx=209 cy=618 r=2.95 />
<circle class=L cx=213 cy=664 r=2.95 />
<circle class=O cx=208 cy=602 r=2.95 />
<circle class=R cx=267 cy=646 r=2.95 />
<circle class=M cx=299.5 cy=629 r=2.95 />
<circle class=N cx=209 cy=661 r=2.95 />
<circle class=N cx=212.5 cy=683 r=2.95 />
<circle class=B cx=208 cy=631 r=2.95 />
<circle class=N cx=248 cy=646.5 r=2.95 />
<circle class=P cx=220.5 cy=673 r=2.95 />
<circle class=P cx=250.5 cy=657 r=2.95 />
<circle class=N cx=220.5 cy=675 r=2.95 />
<circle class=B cx=330.5 cy=656 r=2.95 />
<circle class=B cx=216 cy=679.5 r=2.95 />
<circle class=N cx=206.5 cy=620 r=2.95 />
<circle class=M cx=252 cy=655 r=2.95 />
<circle class=N cx=307.5 cy=689 r=2.95 />
<circle class=L cx=206 cy=648.5 r=2.95 />
<circle class=O cx=306.5 cy=661 r=2.95 />
<circle class=N cx=201.5 cy=660.5 r=2.95 />
<circle class=L cx=216.5 cy=633 r=2.95 />
<circle class=L cx=268 cy=645.5 r=2.95 />
<circle class=B cx=206 cy=676 r=2.95 />
<circle class=N cx=287 cy=648.5 r=2.95 />
<circle class=L cx=213.5 cy=632 r=2.95 />
<circle class=P cx=206 cy=593 r=2.95 />
<circle class=N cx=314 cy=655 r=2.95 />
<circle class=L cx=234.5 cy=651 r=2.95 />
<circle class=M cx=204 cy=659 r=2.95 />
<circle class=M cx=223.5 cy=625.5 r=2.95 />
<circle class=N cx=200.5 cy=564 r=2.95 />
<circle class=B cx=214.5 cy=683.5 r=2.95 />
<circle class=M cx=249.5 cy=656 r=2.95 />
<circle class=B cx=225 cy=666.5 r=2.95 />
<circle class=M cx=201.5 cy=656 r=2.95 />
<circle class=M cx=252.5 cy=608.5 r=2.95 />
<circle class=M cx=207 cy=657 r=2.95 />
<circle class=B cx=219 cy=635 r=2.95 />
<circle class=M cx=241 cy=659.5 r=2.95 />
<circle class=P cx=293 cy=653 r=2.95 />
<circle class=R cx=228.5 cy=593 r=2.95 />
<circle class=N cx=238.5 cy=605 r=2.95 />
<circle class=B cx=223 cy=616 r=2.95 />
<circle class=R cx=219 cy=649.5 r=2.95 />
<circle class=B cx=243.5 cy=629.5 r=2.95 />
<circle class=R cx=231 cy=632.5 r=2.95 />
<circle class=O cx=233.5 cy=625 r=2.95 />
<circle class=P cx=295.5 cy=657 r=2.95 />
<circle class=B cx=222.5 cy=611.5 r=2.95 />
<circle class=L cx=230 cy=649 r=2.95 />
<circle class=B cx=204 cy=650 r=2.95 />
<circle class=M cx=254 cy=626.5 r=2.95 />
<circle class=B cx=251.5 cy=606 r=2.95 />
<circle class=B cx=208 cy=670.5 r=2.95 />
<circle class=M cx=210 cy=644 r=2.95 />
<circle class=M cx=255 cy=607.5 r=2.95 />
<circle class=B cx=210.5 cy=621.5 r=2.95 />
<circle class=B cx=211 cy=613 r=2.95 />
<circle class=L cx=208.5 cy=602 r=2.95 />
<circle class=M cx=334 cy=666 r=2.95 />
<circle class=M cx=217 cy=640.5 r=2.95 />
<circle class=L cx=242.5 cy=648 r=2.95 />
<circle class=R cx=232 cy=614.5 r=2.95 />
<circle class=P cx=287.5 cy=596.5 r=2.95 />
<circle class=M cx=205.5 cy=619.5 r=2.95 />
<circle class=G cx=207.5 cy=666 r=2.95 />
<circle class=N cx=212 cy=650 r=2.95 />
<circle class=B cx=206.5 cy=654 r=2.95 />
<circle class=L cx=235.5 cy=591 r=2.95 />
<circle class=B cx=211.5 cy=623.5 r=2.95 />
<circle class=R cx=212.5 cy=608.5 r=2.95 />
<circle class=B cx=229 cy=615.5 r=2.95 />
<circle class=B cx=253 cy=609 r=2.95 />
<circle class=N cx=204 cy=608.5 r=2.95 />
<circle class=N cx=201 cy=647.5 r=2.95 />
<circle class=N cx=286 cy=608 r=2.95 />
<circle class=N cx=212.5 cy=681 r=2.95 />
<circle class=B cx=263.5 cy=642 r=2.95 />
<circle class=O cx=224 cy=617 r=2.95 />
<circle class=B cx=276 cy=658.5 r=2.95 />
<circle class=N cx=222.5 cy=642.5 r=2.95 />
<circle class=R cx=256 cy=620 r=2.95 />
<circle class=N cx=214.5 cy=608.5 r=2.95 />
<circle class=M cx=236.5 cy=657.5 r=2.95 />
<circle class=M cx=245.5 cy=601 r=2.95 />
<circle class=P cx=269.5 cy=645 r=2.95 />
<circle class=B cx=242.5 cy=598 r=2.95 />
<circle class=N cx=202.5 cy=684.5 r=2.95 />
<circle class=B cx=263 cy=662 r=2.95 />
<circle class=N cx=203 cy=635 r=2.95 />
<circle class=P cx=221 cy=604.5 r=2.95 />
<circle class=P cx=216.5 cy=645 r=2.95 />
<circle class=M cx=216 cy=601 r=2.95 />
<circle class=N cx=230 cy=601.5 r=2.95 />
<circle class=B cx=231 cy=658 r=2.95 />
<circle class=M cx=247.5 cy=616 r=2.95 />
<circle class=O cx=202 cy=579 r=2.95 />
<circle class=M cx=258 cy=638.5 r=2.95 />
<circle class=M cx=207 cy=597.5 r=2.95 />
<circle class=L cx=221 cy=662 r=2.95 />
<circle class=B cx=207 cy=658.5 r=2.95 />
<circle class=N cx=222 cy=684 r=2.95 />
<circle class=L cx=284 cy=608.5 r=2.95 />
<circle class=M cx=219.5 cy=669 r=2.95 />
<circle class=N cx=326.5 cy=607 r=2.95 />
<circle class=R cx=320 cy=654.5 r=2.95 />
<circle class=M cx=211 cy=628.5 r=2.95 />
<circle class=M cx=267.5 cy=651 r=2.95 />
<circle class=L cx=220.5 cy=662 r=2.95 />
<circle class=N cx=270.5 cy=655.5 r=2.95 />
<circle class=M cx=267.5 cy=691.5 r=2.95 />
<circle class=B cx=229 cy=619.5 r=2.95 />
<circle class=L cx=238 cy=615 r=2.95 />
<circle class=B cx=205.5 cy=646 r=2.95 />
<circle class=N cx=313.5 cy=606 r=2.95 />
<circle class=B cx=229.5 cy=644.5 r=2.95 />
<circle class=R cx=277.5 cy=601 r=2.95 />
<circle class=R cx=200 cy=628.5 r=2.95 />
<circle class=L cx=229 cy=595.5 r=2.95 />
<circle class=M cx=232.5 cy=643 r=2.95 />
<circle class=B cx=228.5 cy=653 r=2.95 />
<circle class=B cx=204.5 cy=616 r=2.95 />
<circle class=N cx=289.5 cy=665 r=2.95 />
<circle class=N cx=289 cy=645 r=2.95 />
<circle class=B cx=239.5 cy=671 r=2.95 />
<circle class=G cx=203.5 cy=677 r=2.95 />
<circle class=B cx=200 cy=647 r=2.95 />
<circle class=O cx=212 cy=674.5 r=2.95 />
<circle class=P cx=320.5 cy=631 r=2.95 />
<circle class=B cx=250.5 cy=639.5 r=2.95 />
<circle class=O cx=286.5 cy=615.5 r=2.95 />
<circle class=M cx=201 cy=674.5 r=2.95 />
<circle class=M cx=322 cy=651.5 r=2.95 />
<circle class=M cx=249 cy=614 r=2.95 />
<circle class=L cx=203 cy=609.5 r=2.95 />
<circle class=L cx=203.5 cy=587.5 r=2.95 />
<circle class=B cx=210 cy=608.5 r=2.95 />
<circle class=N cx=236.5 cy=635 r=2.95 />
<circle class=O cx=229 cy=608.5 r=2.95 />
<circle class=L cx=248.5 cy=632.5 r=2.95 />
<circle class=M cx=260 cy=670.5 r=2.95 />
<circle class=N cx=218 cy=612.5 r=2.95 />
<circle class=N cx=230.5 cy=685.5 r=2.95 />
<circle class=B cx=214 cy=712 r=2.95 />
<circle class=P cx=233 cy=681 r=2.95 />
<circle class=B cx=206 cy=583 r=2.95 />
<circle class=L cx=324.5 cy=606 r=2.95 />
<circle class=M cx=205.5 cy=682.5 r=2.95 />
<circle class=B cx=332 cy=649.5 r=2.95 />
<circle class=N cx=221.5 cy=618.5 r=2.95 />
<circle class=M cx=209.5 cy=641.5 r=2.95 />
<circle class=L cx=216 cy=645 r=2.95 />
<circle class=B cx=211 cy=621.5 r=2.95 />
<circle class=B cx=243 cy=630 r=2.95 />
<circle class=N cx=230.5 cy=634 r=2.95 />
<circle class=L cx=202 cy=686.5 r=2.95 />
<circle class=L cx=248.5 cy=641.5 r=2.95 />
<circle class=G cx=320.5 cy=607.5 r=2.95 />
<circle class=O cx=220 cy=591.5 r=2.95 />
<circle class=M cx=229 cy=638 r=2.95 />
<circle class=O cx=251 cy=663 r=2.95 />
<circle class=N cx=241 cy=649 r=2.95 />
<circle class=M cx=321 cy=634 r=2.95 />
<circle class=M cx=252 cy=653.5 r=2.95 />
<circle class=O cx=286.5 cy=634 r=2.95 />
<circle class=M cx=261 cy=582.5 r=2.95 />
<circle class=N cx=218 cy=656.5 r=2.95 />
<circle class=B cx=216.5 cy=660 r=2.95 />
<circle class=B cx=272.5 cy=690.5 r=2.95 />
<circle class=R cx=206.5 cy=598 r=2.95 />
<circle class=G cx=225 cy=679.5 r=2.95 />
<circle class=B cx=209 cy=618 r=2.95 />
<circle class=G cx=320 cy=658.5 r=2.95 />
<circle class=M cx=279.5 cy=670.5 r=2.95 />
<circle class=G cx=279 cy=593.5 r=2.95 />
<circle class=G cx=323.5 cy=637 r=2.95 />
<circle class=R cx=285 cy=654.5 r=2.95 />
<circle class=B cx=290 cy=672.5 r=2.95 />
<circle class=N cx=230.5 cy=621 r=2.95 />
<circle class=M cx=202 cy=628 r=2.95 />
<circle class=N cx=206.5 cy=652 r=2.95 />
<circle class=M cx=249 cy=621.5 r=2.95 />
<circle class=M cx=230.5 cy=686 r=2.95 />
<circle class=O cx=210.5 cy=593.5 r=2.95 />
<circle class=B cx=214.5 cy=696 r=2.95 />
<circle class=N cx=245 cy=623 r=2.95 />
<circle class=N cx=268.5 cy=646 r=2.95 />
<circle class=M cx=266.5 cy=642 r=2.95 />
<circle class=B cx=214 cy=663.5 r=2.95 />
<circle class=N cx=278.5 cy=655.5 r=2.95 />
<circle class=R cx=259 cy=626 r=2.95 />
<circle class=M cx=322.5 cy=614 r=2.95 />
<circle class=L cx=298 cy=658 r=2.95 />
<circle class=N cx=250 cy=665.5 r=2.95 />
<circle class=N cx=216 cy=637.5 r=2.95 />
<circle class=M cx=251.5 cy=637 r=2.95 />
<circle class=M cx=287 cy=633 r=2.95 />
<circle class=B cx=207.5 cy=643 r=2.95 />
<circle class=G cx=328 cy=635.5 r=2.95 />
<circle class=O cx=220 cy=660.5 r=2.95 />
<circle class=N cx=244 cy=670 r=2.95 />
<circle class=L cx=204.5 cy=653 r=2.95 />
<circle class=L cx=207.5 cy=623.5 r=2.95 />
<circle class=B cx=251.5 cy=644.5 r=2.95 />
<circle class=L cx=229 cy=595.5 r=2.95 />
<circle class=N cx=314 cy=631 r=2.95 />
<circle class=O cx=232.5 cy=615.5 r=2.95 />
<circle class=M cx=210.5 cy=612 r=2.95 />
<circle class=R cx=242.5 cy=639.5 r=2.95 />
<circle class=N cx=213 cy=656 r=2.95 />
<circle class=O cx=213.5 cy=636 r=2.95 />
<circle class=L cx=219 cy=654.5 r=2.95 />
<circle class=L cx=236 cy=600.5 r=2.95 />
<circle class=N cx=232 cy=616 r=2.95 />
<circle class=L cx=210 cy=627.5 r=2.95 />
<circle class=M cx=215.5 cy=636.5 r=2.95 />
<circle class=M cx=251.5 cy=680.5 r=2.95 />
<circle class=M cx=215.5 cy=586.5 r=2.95 />
<circle class=L cx=286.5 cy=662 r=2.95 />
<circle class=B cx=202 cy=607.5 r=2.95 />
<circle class=B cx=208 cy=625 r=2.95 />
<circle class=N cx=223 cy=684.5 r=2.95 />
<circle class=R cx=203.5 cy=639.5 r=2.95 />
<circle class=N cx=293.5 cy=623 r=2.95 />
<circle class=N cx=206 cy=641.5 r=2.95 />
<circle class=N cx=262 cy=631.5 r=2.95 />
<circle class=N cx=205.5 cy=626 r=2.95 />
<circle class=P cx=326 cy=639.5 r=2.95 />
<circle class=L cx=218 cy=606 r=2.95 />
<circle class=N cx=259 cy=668.5 r=2.95 />
<circle class=P cx=232 cy=655.5 r=2.95 />
<circle class=B cx=281.5 cy=573.5 r=2.95 />
<circle class=R cx=219.5 cy=656.5 r=2.95 />
<circle class=B cx=218.5 cy=630.5 r=2.95 />
<circle class=N cx=216 cy=623.5 r=2.95 />
<circle class=L cx=207.5 cy=577.5 r=2.95 />
<circle class=G cx=228 cy=680 r=2.95 />
<circle class=B cx=240 cy=659.5 r=2.95 />
<circle class=B cx=308 cy=623 r=2.95 />
<circle class=N cx=204 cy=651.5 r=2.95 />
<circle class=N cx=212 cy=646.5 r=2.95 />
<circle class=L cx=237.5 cy=587.5 r=2.95 />
<circle class=B cx=229 cy=666 r=2.95 />
<circle class=B cx=221.5 cy=653.5 r=2.95 />
<circle class=B cx=233.5 cy=645.5 r=2.95 />
<circle class=P cx=231 cy=651 r=2.95 />
<circle class=L cx=213.5 cy=584.5 r=2.95 />
<circle class=B cx=208.5 cy=657.5 r=2.95 />
<circle class=B cx=289 cy=664.5 r=2.95 />
<circle class=N cx=249.5 cy=642.5 r=2.95 />
<circle class=M cx=207 cy=632 r=2.95 />
<circle class=B cx=239 cy=601.5 r=2.95 />
<circle class=L cx=232.5 cy=635 r=2.95 />
<circle class=O cx=249 cy=660 r=2.95 />
<circle class=O cx=244 cy=615.5 r=2.95 />
<circle class=M cx=221.5 cy=625.5 r=2.95 />
<circle class=P cx=277.5 cy=670.5 r=2.95 />
<circle class=L cx=231.5 cy=641 r=2.95 />
<circle class=M cx=232.5 cy=666.5 r=2.95 />
<circle class=B cx=243 cy=644.5 r=2.95 />
<circle class=L cx=200 cy=643.5 r=2.95 />
<circle class=M cx=221 cy=667 r=2.95 />
<circle class=B cx=208 cy=680.5 r=2.95 />
<circle class=N cx=224 cy=628.5 r=2.95 />
<circle class=N cx=245 cy=622.5 r=2.95 />
<circle class=N cx=225.5 cy=644.5 r=2.95 />
<circle class=B cx=211 cy=585.5 r=2.95 />
<circle class=M cx=204 cy=669.5 r=2.95 />
<circle class=B cx=336.5 cy=641 r=2.95 />
<circle class=P cx=215 cy=661.5 r=2.95 />
<circle class=P cx=253.5 cy=686 r=2.95 />
<circle class=B cx=211 cy=650.5 r=2.95 />
<circle class=M cx=236 cy=623 r=2.95 />
<circle class=B cx=249 cy=607 r=2.95 />
<circle class=N cx=261.5 cy=614.5 r=2.95 />
<circle class=P cx=311.5 cy=656.5 r=2.95 />
<circle class=N cx=202 cy=660.5 r=2.95 />
<circle class=P cx=207 cy=655.5 r=2.95 />
<circle class=L cx=258.5 cy=650 r=2.95 />
<circle class=M cx=215 cy=639.5 r=2.95 />
<circle class=B cx=215.5 cy=619 r=2.95 />
<circle class=L cx=210 cy=604 r=2.95 />
<circle class=L cx=202 cy=613.5 r=2.95 />
<circle class=N cx=202 cy=644 r=2.95 />
<circle class=B cx=207 cy=627 r=2.95 />
<circle class=B cx=221.5 cy=637 r=2.95 />
<circle class=M cx=229.5 cy=593.5 r=2.95 />
<circle class=N cx=221.5 cy=614.5 r=2.95 />
<circle class=P cx=306 cy=643.5 r=2.95 />
<circle class=L cx=206.5 cy=643 r=2.95 />
<circle class=B cx=232 cy=687 r=2.95 />
<circle class=M cx=265 cy=645.5 r=2.95 />
<circle class=N cx=253 cy=596 r=2.95 />
<circle class=O cx=227 cy=628 r=2.95 />
<circle class=G cx=242 cy=576.5 r=2.95 />
<circle class=R cx=249.5 cy=650.5 r=2.95 />
<circle class=N cx=203 cy=688.5 r=2.95 />
<circle class=L cx=206.5 cy=687 r=2.95 />
<circle class=N cx=204.5 cy=629.5 r=2.95 />
<circle class=O cx=253 cy=674 r=2.95 />
<circle class=B cx=228.5 cy=556 r=2.95 />
<circle class=N cx=206 cy=674 r=2.95 />
<circle class=B cx=256 cy=637 r=2.95 />
<circle class=N cx=312.5 cy=644 r=2.95 />
<circle class=M cx=249 cy=642 r=2.95 />
<circle class=M cx=206 cy=687 r=2.95 />
<circle class=L cx=266.5 cy=655 r=2.95 />
<circle class=R cx=224 cy=649 r=2.95 />
<circle class=M cx=263.5 cy=591 r=2.95 />
<circle class=B cx=221.5 cy=638.5 r=2.95 />
<circle class=N cx=213 cy=638.5 r=2.95 />
<circle class=M cx=216.5 cy=641.5 r=2.95 />
<circle class=B cx=211 cy=644 r=2.95 />
<circle class=N cx=200.5 cy=611 r=2.95 />
<circle class=R cx=252.5 cy=581.5 r=2.95 />
<circle class=R cx=233 cy=606.5 r=2.95 />
<circle class=M cx=303.5 cy=658 r=2.95 />
<circle class=L cx=228.5 cy=677 r=2.95 />
<circle class=B cx=228.5 cy=677.5 r=2.95 />
<circle class=B cx=313.5 cy=655 r=2.95 />
<circle class=M cx=224.5 cy=607 r=2.95 />
<circle class=L cx=206 cy=649 r=2.95 />
<circle class=B cx=229.5 cy=637.5 r=2.95 />
<circle class=L cx=218.5 cy=614 r=2.95 />
<circle class=L cx=212 cy=652.5 r=2.95 />
<circle class=B cx=270 cy=615.5 r=2.95 />
<circle class=N cx=254 cy=683 r=2.95 />
<circle class=N cx=241 cy=621.5 r=2.95 />
<circle class=N cx=234.5 cy=573.5 r=2.95 />
<circle class=N cx=204.5 cy=611 r=2.95 />
<circle class=O cx=225.5 cy=707 r=2.95 />
<circle class=B cx=200 cy=639 r=2.95 />
<circle class=M cx=224.5 cy=659.5 r=2.95 />
<circle class=O cx=204 cy=644.5 r=2.95 />
<circle class=N cx=215 cy=677.5 r=2.95 />
<circle class=N cx=290.5 cy=637 r=2.95 />
<circle class=B cx=336 cy=644.5 r=2.95 />
<circle class=M cx=212 cy=645.5 r=2.95 />
<circle class=L cx=244 cy=625 r=2.95 />
<circle class=M cx=315 cy=672 r=2.95 />
<circle class=B cx=226.5 cy=654.5 r=2.95 />
<circle class=M cx=213.5 cy=675.5 r=2.95 />
<circle class=B cx=330 cy=598.5 r=2.95 />
<circle class=O cx=210.5 cy=625.5 r=2.95 />
<circle class=L cx=309 cy=593.5 r=2.95 />
<circle class=B cx=204 cy=622.5 r=2.95 />
<circle class=P cx=206 cy=646 r=2.95 />
<circle class=R cx=211.5 cy=625.5 r=2.95 />
<circle class=O cx=200.5 cy=617.5 r=2.95 />
<circle class=M cx=272.5 cy=646.5 r=2.95 />
<circle class=M cx=320 cy=665 r=2.95 />
<circle class=M cx=223 cy=624 r=2.95 />
<circle class=N cx=209 cy=632 r=2.95 />
<circle class=N cx=211.5 cy=614.5 r=2.95 />
<circle class=N cx=238 cy=653 r=2.95 />
<circle class=B cx=266 cy=590 r=2.95 />
<circle class=G cx=202 cy=609 r=2.95 />
<circle class=B cx=235.5 cy=595.5 r=2.95 />
<circle class=L cx=205.5 cy=592 r=2.95 />
<circle class=N cx=209.5 cy=655.5 r=2.95 />
<circle class=B cx=221.5 cy=663 r=2.95 />
<circle class=N cx=202.5 cy=664 r=2.95 />
<circle class=O cx=216 cy=657.5 r=2.95 />
<circle class=N cx=216.5 cy=578.5 r=2.95 />
<circle class=N cx=244 cy=616 r=2.95 />
<circle class=M cx=288 cy=662.5 r=2.95 />
<circle class=R cx=274 cy=661 r=2.95 />
<circle class=N cx=226.5 cy=555 r=2.95 />
<circle class=B cx=223.5 cy=615 r=2.95 />
<circle class=N cx=203 cy=646 r=2.95 />
<circle class=B cx=230 cy=657 r=2.95 />
<circle class=M cx=205 cy=690 r=2.95 />
<circle class=N cx=202.5 cy=617.5 r=2.95 />
<circle class=N cx=276 cy=656.5 r=2.95 />
<circle class=B cx=215.5 cy=664 r=2.95 />
<circle class=P cx=288 cy=627 r=2.95 />
<circle class=O cx=208.5 cy=688.5 r=2.95 />
<circle class=B cx=219.5 cy=598 r=2.95 />
<circle class=M cx=253.5 cy=672.5 r=2.95 />
<circle class=N cx=215 cy=659 r=2.95 />
<circle class=L cx=235 cy=641.5 r=2.95 />
<circle class=O cx=240.5 cy=642.5 r=2.95 />
<circle class=B cx=288.5 cy=654 r=2.95 />
<circle class=B cx=210 cy=607 r=2.95 />
<circle class=O cx=234.5 cy=601 r=2.95 />
<circle class=M cx=252.5 cy=624 r=2.95 />
<circle class=B cx=285 cy=627.5 r=2.95 />
<circle class=N cx=225 cy=643.5 r=2.95 />
<circle class=B cx=281 cy=629.5 r=2.95 />
<circle class=N cx=227.5 cy=624 r=2.95 />
<circle class=L cx=316.5 cy=631 r=2.95 />
<circle class=N cx=206 cy=624 r=2.95 />
<circle class=N cx=239.5 cy=651.5 r=2.95 />
<circle class=N cx=204 cy=643.5 r=2.95 />
<circle class=B cx=238 cy=648 r=2.95 />
<circle class=N cx=282.5 cy=643 r=2.95 />
<circle class=M cx=222.5 cy=666.5 r=2.95 />
<circle class=R cx=207 cy=685 r=2.95 />
<circle class=B cx=242 cy=621 r=2.95 />
<circle class=N cx=288 cy=614 r=2.95 />
<circle class=B cx=324 cy=646.5 r=2.95 />
<circle class=B cx=213 cy=659 r=2.95 />
<circle class=B cx=267.5 cy=616 r=2.95 />
<circle class=N cx=307 cy=630.5 r=2.95 />
<circle class=M cx=206.5 cy=619.5 r=2.95 />
<circle class=N cx=250.5 cy=652.5 r=2.95 />
<circle class=O cx=205 cy=627 r=2.95 />
<circle class=P cx=214 cy=603 r=2.95 />
<circle class=B cx=222 cy=615 r=2.95 />
<circle class=O cx=233 cy=654 r=2.95 />
<circle class=O cx=219 cy=661 r=2.95 />
<circle class=N cx=309.5 cy=629.5 r=2.95 />
<circle class=B cx=298 cy=628 r=2.95 />
<circle class=B cx=204 cy=650 r=2.95 />
<circle class=B cx=211 cy=669 r=2.95 />
<circle class=O cx=213 cy=653.5 r=2.95 />
<circle class=N cx=207 cy=640 r=2.95 />
<circle class=P cx=295.5 cy=655 r=2.95 />
<circle class=B cx=204.5 cy=653 r=2.95 />
<circle class=O cx=257.5 cy=625.5 r=2.95 />
<circle class=M cx=326 cy=658 r=2.95 />
<circle class=N cx=206.5 cy=604.5 r=2.95 />
<circle class=O cx=294 cy=641.5 r=2.95 />
<circle class=B cx=229.5 cy=639.5 r=2.95 />
<circle class=P cx=201.5 cy=653 r=2.95 />
<circle class=N cx=250 cy=646.5 r=2.95 />
<circle class=M cx=209.5 cy=684 r=2.95 />
<circle class=O cx=213 cy=604.5 r=2.95 />
<circle class=L cx=205.5 cy=593.5 r=2.95 />
<circle class=B cx=203.5 cy=663 r=2.95 />
<circle class=O cx=283.5 cy=644.5 r=2.95 />
<circle class=O cx=213.5 cy=653.5 r=2.95 />
<circle class=M cx=244 cy=706.5 r=2.95 />
<circle class=B cx=312 cy=598 r=2.95 />
<circle class=P cx=210.5 cy=693.5 r=2.95 />
<circle class=M cx=236.5 cy=596 r=2.95 />
<circle class=M cx=257 cy=638.5 r=2.95 />
<circle class=O cx=284 cy=660 r=2.95 />
<circle class=L cx=216 cy=628 r=2.95 />
<circle class=B cx=203 cy=613.5 r=2.95 />
<circle class=M cx=202 cy=589 r=2.95 />
<circle class=M cx=225.5 cy=666.5 r=2.95 />
<circle class=O cx=232.5 cy=621.5 r=2.95 />
<circle class=B cx=220 cy=645.5 r=2.95 />
<circle class=M cx=201 cy=668 r=2.95 />
<circle class=M cx=243 cy=673.5 r=2.95 />
<circle class=L cx=213.5 cy=710.5 r=2.95 />
<circle class=B cx=202.5 cy=631.5 r=2.95 />
<circle class=N cx=289.5 cy=613.5 r=2.95 />
<circle class=G cx=225 cy=643 r=2.95 />
<circle class=O cx=217 cy=606 r=2.95 />
<circle class=B cx=205 cy=573.5 r=2.95 />
<circle class=O cx=255 cy=647 r=2.95 />
<circle class=B cx=200 cy=679 r=2.95 />
<circle class=M cx=278 cy=642 r=2.95 />
<circle class=O cx=287.5 cy=611 r=2.95 />
<circle class=M cx=224.5 cy=664.5 r=2.95 />
<circle class=B cx=204.5 cy=676.5 r=2.95 />
<circle class=R cx=214.5 cy=680.5 r=2.95 />
<circle class=M cx=221 cy=637 r=2.95 />
<circle class=O cx=249.5 cy=659.5 r=2.95 />
<circle class=B cx=255.5 cy=613.5 r=2.95 />
<circle class=G cx=265 cy=610.5 r=2.95 />
<circle class=P cx=251 cy=643.5 r=2.95 />
<circle class=L cx=207 cy=591 r=2.95 />
<circle class=M cx=219.5 cy=631.5 r=2.95 />
<circle class=B cx=251 cy=666.5 r=2.95 />
<circle class=N cx=201.5 cy=570 r=2.95 />
<circle class=P cx=230 cy=599.5 r=2.95 />
<circle class=L cx=252 cy=618.5 r=2.95 />
<circle class=B cx=227 cy=663.5 r=2.95 />
<circle class=B cx=203 cy=619 r=2.95 />
<circle class=R cx=208 cy=610 r=2.95 />
<circle class=G cx=227.5 cy=666 r=2.95 />
<circle class=N cx=265.5 cy=641.5 r=2.95 />
<circle class=M cx=270 cy=699.5 r=2.95 />
<circle class=M cx=284.5 cy=643 r=2.95 />
<circle class=L cx=204.5 cy=650 r=2.95 />
<circle class=P cx=231 cy=640.5 r=2.95 />
<circle class=N cx=234 cy=630.5 r=2.95 />
<circle class=B cx=228 cy=616 r=2.95 />
<circle class=B cx=297 cy=675 r=2.95 />
<circle class=L cx=250.5 cy=651.5 r=2.95 />
<circle class=B cx=336 cy=670 r=2.95 />
<circle class=B cx=217 cy=663.5 r=2.95 />
<circle class=P cx=230 cy=643 r=2.95 />
<circle class=B cx=230.5 cy=658 r=2.95 />
<circle class=L cx=224.5 cy=690.5 r=2.95 />
<circle class=R cx=264 cy=648.5 r=2.95 />
<circle class=M cx=211.5 cy=643 r=2.95 />
<circle class=B cx=205.5 cy=650.5 r=2.95 />
<circle class=B cx=213.5 cy=627.5 r=2.95 />
<circle class=M cx=229.5 cy=642 r=2.95 />
<circle class=P cx=224.5 cy=641 r=2.95 />
<circle class=N cx=257 cy=658.5 r=2.95 />
<circle class=M cx=227 cy=682.5 r=2.95 />
<circle class=L cx=250.5 cy=674.5 r=2.95 />
<circle class=B cx=284.5 cy=654 r=2.95 />
<circle class=N cx=200.5 cy=597 r=2.95 />
<circle class=N cx=201.5 cy=698 r=2.95 />
<circle class=O cx=265.5 cy=652 r=2.95 />
<circle class=B cx=267 cy=614 r=2.95 />
<circle class=N cx=236.5 cy=618.5 r=2.95 />
<circle class=M cx=230.5 cy=661.5 r=2.95 />
<circle class=N cx=208.5 cy=647 r=2.95 />
<circle class=B cx=201 cy=595 r=2.95 />
<circle class=B cx=203.5 cy=599 r=2.95 />
<circle class=L cx=215.5 cy=603.5 r=2.95 />
<circle class=R cx=200.5 cy=646.5 r=2.95 />
<circle class=P cx=207 cy=517 r=2.95 />
<circle class=M cx=223.5 cy=671 r=2.95 />
<circle class=B cx=265 cy=646 r=2.95 />
<circle class=O cx=277.5 cy=617 r=2.95 />
<circle class=L cx=301 cy=638 r=2.95 />
<circle class=N cx=204 cy=653 r=2.95 />
<circle class=N cx=202.5 cy=654.5 r=2.95 />
<circle class=N cx=231 cy=599.5 r=2.95 />
<circle class=B cx=293.5 cy=654.5 r=2.95 />
<circle class=N cx=213 cy=623 r=2.95 />
<circle class=M cx=260 cy=606 r=2.95 />
<circle class=L cx=255.5 cy=628.5 r=2.95 />
<circle class=B cx=260.5 cy=669.5 r=2.95 />
<circle class=O cx=224.5 cy=633 r=2.95 />
<circle class=L cx=247.5 cy=592 r=2.95 />
<circle class=B cx=248 cy=563 r=2.95 />
<circle class=B cx=323 cy=639 r=2.95 />
<circle class=O cx=236.5 cy=654 r=2.95 />
<circle class=N cx=210.5 cy=657.5 r=2.95 />
<circle class=O cx=257.5 cy=633.5 r=2.95 />
<circle class=R cx=252 cy=656.5 r=2.95 />
<circle class=M cx=288.5 cy=629.5 r=2.95 />
<circle class=P cx=209.5 cy=558.5 r=2.95 />
<circle class=N cx=227 cy=621.5 r=2.95 />
<circle class=N cx=261.5 cy=647.5 r=2.95 />
<circle class=L cx=209 cy=675 r=2.95 />
<circle class=B cx=203 cy=653 r=2.95 />
<circle class=L cx=264.5 cy=622.5 r=2.95 />
<circle class=B cx=242 cy=642 r=2.95 />
<circle class=N cx=240.5 cy=661 r=2.95 />
<circle class=N cx=251 cy=664 r=2.95 />
<circle class=B cx=218 cy=653 r=2.95 />
<circle class=O cx=208.5 cy=649.5 r=2.95 />
<circle class=B cx=200.5 cy=629 r=2.95 />
<circle class=M cx=251.5 cy=599 r=2.95 />
<circle class=B cx=222 cy=674.5 r=2.95 />
<circle class=B cx=200.5 cy=610.5 r=2.95 />
<circle class=G cx=254.5 cy=650 r=2.95 />
<circle class=B cx=241.5 cy=648.5 r=2.95 />
<circle class=P cx=220 cy=652 r=2.95 />
<circle class=M cx=205.5 cy=644 r=2.95 />
<circle class=M cx=201 cy=604.5 r=2.95 />
<circle class=R cx=207.5 cy=564 r=2.95 />
<circle class=N cx=279.5 cy=619.5 r=2.95 />
<circle class=M cx=210.5 cy=606 r=2.95 />
<circle class=N cx=208.5 cy=598 r=2.95 />
<circle class=L cx=209 cy=600.5 r=2.95 />
<circle class=L cx=242.5 cy=667.5 r=2.95 />
<circle class=O cx=267.5 cy=659.5 r=2.95 />
<circle class=P cx=250.5 cy=654 r=2.95 />
<circle class=B cx=210.5 cy=573 r=2.95 />
<circle class=M cx=204 cy=652.5 r=2.95 />
<circle class=B cx=246 cy=672.5 r=2.95 />
<circle class=R cx=221 cy=612 r=2.95 />
<circle class=B cx=211.5 cy=675 r=2.95 />
<circle class=B cx=202 cy=595.5 r=2.95 />
<circle class=R cx=200.5 cy=646 r=2.95 />
<circle class=B cx=267 cy=634.5 r=2.95 />
<circle class=N cx=221 cy=600 r=2.95 />
<circle class=M cx=222 cy=644 r=2.95 />
<circle class=B cx=283.5 cy=638.5 r=2.95 />
<circle class=O cx=208.5 cy=645.5 r=2.95 />
<circle class=M cx=297 cy=589 r=2.95 />
<circle class=N cx=218 cy=664.5 r=2.95 />
<circle class=O cx=268.5 cy=608.5 r=2.95 />
<circle class=M cx=242.5 cy=650.5 r=2.95 />
<circle class=P cx=224 cy=666 r=2.95 />
<circle class=B cx=259.5 cy=610.5 r=2.95 />
<circle class=B cx=214.5 cy=646 r=2.95 />
<circle class=R cx=320 cy=649.5 r=2.95 />
<circle class=P cx=226 cy=653.5 r=2.95 />
<circle class=O cx=234 cy=634 r=2.95 />
<circle class=B cx=212.5 cy=607.5 r=2.95 />
<circle class=N cx=219 cy=584 r=2.95 />
<circle class=N cx=309 cy=665 r=2.95 />
<circle class=N cx=237.5 cy=621.5 r=2.95 />
<circle class=N cx=219 cy=635.5 r=2.95 />
<circle class=M cx=243.5 cy=608 r=2.95 />
<circle class=O cx=313.5 cy=641.5 r=2.95 />
<circle class=N cx=264.5 cy=632.5 r=2.95 />
<circle class=O cx=219.5 cy=672 r=2.95 />
<circle class=N cx=214.5 cy=649 r=2.95 />
<circle class=O cx=210 cy=624 r=2.95 />
<circle class=B cx=208 cy=678 r=2.95 />
<circle class=M cx=203.5 cy=667 r=2.95 />
<circle class=L cx=256.5 cy=605.5 r=2.95 />
<circle class=N cx=256 cy=677 r=2.95 />
<circle class=B cx=291 cy=610.5 r=2.95 />
<circle class=O cx=283 cy=641 r=2.95 />
<circle class=M cx=215 cy=654 r=2.95 />
<circle class=O cx=249 cy=650.5 r=2.95 />
<circle class=N cx=266 cy=618.5 r=2.95 />
<circle class=L cx=250.5 cy=678 r=2.95 />
<circle class=N cx=231.5 cy=637 r=2.95 />
<circle class=M cx=221 cy=671.5 r=2.95 />
<circle class=R cx=263.5 cy=644.5 r=2.95 />
<circle class=P cx=249 cy=620.5 r=2.95 />
<circle class=N cx=223.5 cy=679 r=2.95 />
<circle class=O cx=217.5 cy=675 r=2.95 />
<circle class=O cx=269 cy=631.5 r=2.95 />
<circle class=B cx=266.5 cy=666.5 r=2.95 />
<circle class=L cx=259.5 cy=689.5 r=2.95 />
<circle class=B cx=277.5 cy=628 r=2.95 />
<circle class=M cx=257 cy=618.5 r=2.95 />
<circle class=B cx=273.5 cy=674 r=2.95 />
<circle class=N cx=313 cy=647.5 r=2.95 />
<circle class=O cx=226 cy=676 r=2.95 />
<circle class=B cx=324.5 cy=665 r=2.95 />
<circle class=B cx=215.5 cy=663.5 r=2.95 />
<circle class=B cx=246 cy=623 r=2.95 />
<circle class=R cx=262 cy=650.5 r=2.95 />
<circle class=N cx=329.5 cy=648.5 r=2.95 />
<circle class=M cx=321.5 cy=672 r=2.95 />
<circle class=N cx=216.5 cy=621.5 r=2.95 />
<circle class=M cx=202 cy=634 r=2.95 />
<circle class=N cx=202 cy=653 r=2.95 />
<circle class=M cx=228.5 cy=585.5 r=2.95 />
<circle class=B cx=224 cy=667.5 r=2.95 />
<circle class=N cx=219.5 cy=651.5 r=2.95 />
<circle class=M cx=209.5 cy=693 r=2.95 />
<circle class=B cx=206.5 cy=614 r=2.95 />
<circle class=P cx=203.5 cy=616.5 r=2.95 />
<circle class=N cx=215.5 cy=647.5 r=2.95 />
<circle class=M cx=247 cy=620.5 r=2.95 />
<circle class=M cx=212 cy=564.5 r=2.95 />
<circle class=N cx=254 cy=646.5 r=2.95 />
<circle class=M cx=265.5 cy=637.5 r=2.95 />
<circle class=B cx=202.5 cy=691 r=2.95 />
<circle class=B cx=249.5 cy=679 r=2.95 />
<circle class=N cx=309 cy=575.5 r=2.95 />
<circle class=B cx=229.5 cy=685.5 r=2.95 />
<circle class=O cx=211.5 cy=658.5 r=2.95 />
<circle class=N cx=271 cy=651 r=2.95 />
<circle class=L cx=228.5 cy=661 r=2.95 />
<circle class=O cx=228.5 cy=653 r=2.95 />
<circle class=O cx=222.5 cy=655 r=2.95 />
<circle class=L cx=245 cy=628 r=2.95 />
<circle class=L cx=205 cy=597 r=2.95 />
<circle class=B cx=201.5 cy=627 r=2.95 />
<circle class=B cx=336 cy=660 r=2.95 />
<circle class=G cx=227 cy=643.5 r=2.95 />
<circle class=B cx=214 cy=647.5 r=2.95 />
<circle class=B cx=268 cy=612 r=2.95 />
<circle class=G cx=335.5 cy=612.5 r=2.95 />
<circle class=L cx=215.5 cy=664 r=2.95 />
<circle class=R cx=209 cy=655.5 r=2.95 />
<circle class=R cx=216.5 cy=641.5 r=2.95 />
<circle class=L cx=215.5 cy=653 r=2.95 />
<circle class=B cx=207 cy=645 r=2.95 />
<circle class=P cx=211 cy=641.5 r=2.95 />
<circle class=N cx=252.5 cy=661.5 r=2.95 />
<circle class=O cx=208.5 cy=692.5 r=2.95 />
<circle class=N cx=287.5 cy=650 r=2.95 />
<circle class=L cx=210.5 cy=645.5 r=2.95 />
<circle class=B cx=230.5 cy=670.5 r=2.95 />
<circle class=M cx=260.5 cy=649.5 r=2.95 />
<circle class=M cx=221 cy=666.5 r=2.95 />
<circle class=N cx=335.5 cy=685.5 r=2.95 />
<circle class=P cx=207.5 cy=581.5 r=2.95 />
<circle class=B cx=221.5 cy=645.5 r=2.95 />
<circle class=B cx=209 cy=646 r=2.95 />
<circle class=M cx=226 cy=642.5 r=2.95 />
<circle class=B cx=200.5 cy=667 r=2.95 />
<circle class=M cx=270.5 cy=670 r=2.95 />
<circle class=L cx=244 cy=610.5 r=2.95 />
<circle class=N cx=225.5 cy=686.5 r=2.95 />
<circle class=N cx=216 cy=642 r=2.95 />
<circle class=B cx=296.5 cy=648.5 r=2.95 />
<circle class=M cx=278.5 cy=652.5 r=2.95 />
<circle class=L cx=200.5 cy=647.5 r=2.95 />
<circle class=B cx=205 cy=598 r=2.95 />
<circle class=B cx=234.5 cy=657 r=2.95 />
<circle class=L cx=220 cy=657.5 r=2.95 />
<circle class=O cx=261 cy=649.5 r=2.95 />
<circle class=B cx=202.5 cy=597.5 r=2.95 />
<circle class=P cx=237 cy=607 r=2.95 />
<circle class=N cx=201.5 cy=613.5 r=2.95 />
<circle class=B cx=207.5 cy=684.5 r=2.95 />
<circle class=B cx=242.5 cy=645 r=2.95 />
<circle class=M cx=210.5 cy=567.5 r=2.95 />
<circle class=O cx=272.5 cy=662 r=2.95 />
<circle class=M cx=297 cy=642 r=2.95 />
<circle class=N cx=244 cy=647 r=2.95 />
<circle class=B cx=220 cy=649 r=2.95 />
<circle class=N cx=208.5 cy=642 r=2.95 />
<circle class=P cx=289.5 cy=663.5 r=2.95 />
<circle class=N cx=249.5 cy=562 r=2.95 />
<circle class=L cx=200 cy=665 r=2.95 />
<circle class=B cx=229 cy=625.5 r=2.95 />
<circle class=P cx=296 cy=649.5 r=2.95 />
<circle class=M cx=295.5 cy=649.5 r=2.95 />
<circle class=L cx=223.5 cy=583.5 r=2.95 />
<circle class=N cx=227.5 cy=561.5 r=2.95 />
<circle class=P cx=217.5 cy=644 r=2.95 />
<circle class=O cx=329 cy=666 r=2.95 />
<circle class=N cx=221 cy=657 r=2.95 />
<circle class=B cx=256.5 cy=670.5 r=2.95 />
<circle class=P cx=215.5 cy=629.5 r=2.95 />
<circle class=N cx=220 cy=649 r=2.95 />
<circle class=M cx=252.5 cy=621 r=2.95 />
<circle class=B cx=205 cy=652.5 r=2.95 />
<circle class=N cx=231.5 cy=706 r=2.95 />
<circle class=N cx=213.5 cy=697.5 r=2.95 />
<circle class=M cx=254.5 cy=670.5 r=2.95 />
<circle class=M cx=244.5 cy=621.5 r=2.95 />
<circle class=N cx=243.5 cy=628 r=2.95 />
<circle class=N cx=215 cy=605 r=2.95 />
<circle class=N cx=223.5 cy=651.5 r=2.95 />
<circle class=N cx=206 cy=653 r=2.95 />
<circle class=M cx=286 cy=629.5 r=2.95 />
<circle class=N cx=200 cy=614.5 r=2.95 />
<circle class=L cx=200.5 cy=690.5 r=2.95 />
<circle class=M cx=236.5 cy=690.5 r=2.95 />
<circle class=M cx=201 cy=602.5 r=2.95 />
<circle class=M cx=217 cy=665.5 r=2.95 />
<circle class=B cx=264.5 cy=615 r=2.95 />
<circle class=N cx=203 cy=601 r=2.95 />
<circle class=L cx=211 cy=642 r=2.95 />
<circle class=L cx=202.5 cy=650.5 r=2.95 />
<circle class=N cx=230 cy=609.5 r=2.95 />
<circle class=O cx=223 cy=644 r=2.95 />
<circle class=B cx=267 cy=647 r=2.95 />
<circle class=M cx=237.5 cy=589 r=2.95 />
<circle class=R cx=210.5 cy=616.5 r=2.95 />
<circle class=N cx=215.5 cy=646 r=2.95 />
<circle class=M cx=303.5 cy=653 r=2.95 />
<circle class=M cx=217 cy=594.5 r=2.95 />
<circle class=P cx=205 cy=627.5 r=2.95 />
<circle class=B cx=286.5 cy=644.5 r=2.95 />
<circle class=L cx=235.5 cy=611.5 r=2.95 />
<circle class=B cx=274.5 cy=662 r=2.95 />
<circle class=N cx=254 cy=680 r=2.95 />
<circle class=B cx=220.5 cy=633 r=2.95 />
<circle class=N cx=209 cy=625.5 r=2.95 />
<circle class=N cx=205 cy=624 r=2.95 />
<circle class=M cx=206 cy=659.5 r=2.95 />
<circle class=B cx=251 cy=663.5 r=2.95 />
<circle class=O cx=246 cy=654 r=2.95 />
<circle class=B cx=281 cy=615 r=2.95 />
<circle class=O cx=331.5 cy=629 r=2.95 />
<circle class=B cx=254 cy=639 r=2.95 />
<circle class=M cx=279 cy=644 r=2.95 />
<circle class=R cx=216 cy=658 r=2.95 />
<circle class=L cx=235 cy=604.5 r=2.95 />
<circle class=N cx=207.5 cy=624.5 r=2.95 />
<circle class=N cx=332.5 cy=638.5 r=2.95 />
<circle class=B cx=233 cy=659 r=2.95 />
<circle class=M cx=234 cy=679.5 r=2.95 />
<circle class=P cx=300.5 cy=632.5 r=2.95 />
<circle class=P cx=235.5 cy=659.5 r=2.95 />
<circle class=L cx=312.5 cy=642 r=2.95 />
<circle class=N cx=202.5 cy=662 r=2.95 />
<circle class=R cx=207 cy=589.5 r=2.95 />
<circle class=O cx=213.5 cy=600.5 r=2.95 />
<circle class=B cx=227.5 cy=661.5 r=2.95 />
<circle class=P cx=205.5 cy=687 r=2.95 />
<circle class=B cx=201.5 cy=635 r=2.95 />
<circle class=G cx=218.5 cy=561.5 r=2.95 />
<circle class=M cx=281 cy=650 r=2.95 />
<circle class=P cx=208.5 cy=647.5 r=2.95 />
<circle class=B cx=232.5 cy=657 r=2.95 />
<circle class=O cx=232.5 cy=642 r=2.95 />
<circle class=B cx=227.5 cy=658.5 r=2.95 />
<circle class=M cx=208 cy=625.5 r=2.95 />
<circle class=N cx=209.5 cy=544 r=2.95 />
<circle class=P cx=226.5 cy=679.5 r=2.95 />
<circle class=B cx=234 cy=573.5 r=2.95 />
<circle class=O cx=247 cy=648.5 r=2.95 />
<circle class=B cx=204.5 cy=576 r=2.95 />
<circle class=M cx=227 cy=604 r=2.95 />
<circle class=O cx=243.5 cy=637 r=2.95 />
<circle class=B cx=319.5 cy=622.5 r=2.95 />
<circle class=L cx=225.5 cy=669.5 r=2.95 />
<circle class=B cx=271 cy=635 r=2.95 />
<circle class=M cx=216.5 cy=601.5 r=2.95 />
<circle class=P cx=202.5 cy=660 r=2.95 />
<circle class=N cx=243.5 cy=645 r=2.95 />
<circle class=L cx=205 cy=553 r=2.95 />
<circle class=M cx=206 cy=664.5 r=2.95 />
<circle class=L cx=251 cy=660.5 r=2.95 />
<circle class=M cx=209 cy=582.5 r=2.95 />
<circle class=N cx=235.5 cy=664 r=2.95 />
<circle class=B cx=237 cy=643 r=2.95 />
<circle class=B cx=292.5 cy=618.5 r=2.95 />
<circle class=O cx=204 cy=619 r=2.95 />
<circle class=M cx=303 cy=612.5 r=2.95 />
<circle class=P cx=316.5 cy=658.5 r=2.95 />
<circle class=B cx=203 cy=671 r=2.95 />
<circle class=L cx=267 cy=646.5 r=2.95 />
<circle class=L cx=206.5 cy=607.5 r=2.95 />
<circle class=M cx=295 cy=618.5 r=2.95 />
<circle class=M cx=203.5 cy=651.5 r=2.95 />
<circle class=N cx=215.5 cy=667.5 r=2.95 />
<circle class=B cx=331 cy=666 r=2.95 />
<circle class=M cx=286 cy=601.5 r=2.95 />
<circle class=B cx=281.5 cy=627.5 r=2.95 />
<circle class=B cx=222.5 cy=651 r=2.95 />
<circle class=L cx=214.5 cy=626.5 r=2.95 />
<circle class=B cx=294.5 cy=590.5 r=2.95 />
<circle class=M cx=220 cy=690 r=2.95 />
<circle class=N cx=286.5 cy=651.5 r=2.95 />
<circle class=B cx=202.5 cy=661.5 r=2.95 />
<circle class=B cx=272.5 cy=619 r=2.95 />
<circle class=N cx=236 cy=666.5 r=2.95 />
<circle class=N cx=240.5 cy=606 r=2.95 />
<circle class=B cx=280 cy=610.5 r=2.95 />
<circle class=L cx=216.5 cy=655 r=2.95 />
<circle class=P cx=203 cy=654.5 r=2.95 />
<circle class=M cx=206 cy=628.5 r=2.95 />
<circle class=M cx=248 cy=590.5 r=2.95 />
<circle class=P cx=254 cy=668 r=2.95 />
<circle class=N cx=218 cy=587.5 r=2.95 />
<circle class=L cx=240.5 cy=682 r=2.95 />
<circle class=B cx=319 cy=649 r=2.95 />
<circle class=N cx=214.5 cy=617.5 r=2.95 />
<circle class=M cx=256.5 cy=684 r=2.95 />
<circle class=P cx=218.5 cy=658 r=2.95 />
<circle class=M cx=237 cy=637.5 r=2.95 />
<circle class=B cx=230 cy=607.5 r=2.95 />
<rect x="195.3" y="492" width="5.4" height="250" rx="2.7" fill="#0b3f80" fill-opacity="0.88"/>
<circle class=N cx=198 cy=125 r=2.95 />
<circle class=M cx=216.5 cy=166.5 r=2.95 />
<circle class=M cx=409 cy=225.5 r=2.95 />
<circle class=G cx=217.5 cy=361.5 r=2.95 />
<circle class=M cx=286.5 cy=389 r=2.95 />
<circle class=N cx=222.5 cy=450.5 r=2.95 />
<circle class=M cx=217.5 cy=462.5 r=2.95 />
<circle class=N cx=217 cy=470 r=2.95 />
<circle class=N cx=223 cy=482.5 r=2.95 />
<circle class=N cx=214 cy=491.5 r=2.95 />
<circle class=N cx=322.5 cy=484.5 r=2.95 />
<circle class=N cx=264 cy=493.5 r=2.95 />
<circle class=N cx=292.5 cy=499 r=2.95 />
<circle class=N cx=319.5 cy=505 r=2.95 />
<circle class=L cx=249 cy=508 r=2.95 />
<circle class=B cx=227 cy=513 r=2.95 />
<circle class=B cx=231.5 cy=515 r=2.95 />
<circle class=N cx=219 cy=522 r=2.95 />
<circle class=M cx=267.5 cy=516.5 r=2.95 />
<circle class=L cx=257 cy=525.5 r=2.95 />
<circle class=N cx=277.5 cy=524.5 r=2.95 />
<circle class=N cx=291.5 cy=521 r=2.95 />
<circle class=N cx=235 cy=530.5 r=2.95 />
<circle class=N cx=237 cy=531 r=2.95 />
<circle class=M cx=246 cy=536 r=2.95 />
<circle class=M cx=248 cy=535 r=2.95 />
<circle class=L cx=270.5 cy=533.5 r=2.95 />
<circle class=M cx=260.5 cy=541.5 r=2.95 />
<circle class=M cx=226 cy=541.5 r=2.95 />
<circle class=L cx=239 cy=546 r=2.95 />
<circle class=L cx=249 cy=552 r=2.95 />
<circle class=N cx=299 cy=556 r=2.95 />
<circle class=N cx=299.5 cy=556 r=2.95 />
<circle class=P cx=291.5 cy=560 r=2.95 />
<circle class=N cx=350.5 cy=563 r=2.95 />
<circle class=B cx=353 cy=561.5 r=2.95 />
<circle class=M cx=333.5 cy=569.5 r=2.95 />
<circle class=G cx=343.5 cy=564.5 r=2.95 />
<circle class=L cx=321 cy=575 r=2.95 />
<circle class=M cx=310.5 cy=577 r=2.95 />
<circle class=O cx=252 cy=572 r=2.95 />
<circle class=O cx=230.5 cy=559.5 r=2.95 />
<circle class=R cx=238.5 cy=564 r=2.95 />
<circle class=B cx=312 cy=577 r=2.95 />
<circle class=M cx=313.5 cy=595.5 r=2.95 />
<circle class=L cx=300 cy=583 r=2.95 />
<circle class=N cx=319 cy=505 r=2.95 />
<circle class=N cx=300.5 cy=556 r=2.95 />
<circle class=N cx=456.5 cy=691.5 r=2.95 />
<circle class=R cx=484.5 cy=691.5 r=2.95 />
<circle class=L cx=519 cy=685.5 r=2.95 />
<circle class=L cx=499.5 cy=619.5 r=2.95 />
<circle class=R cx=464.5 cy=625 r=2.95 />
<circle class=N cx=455 cy=630.5 r=2.95 />
<circle class=R cx=494 cy=633 r=2.95 />
<circle class=M cx=499.5 cy=632.5 r=2.95 />
<circle class=B cx=520 cy=635.5 r=2.95 />
<circle class=M cx=519.5 cy=642 r=2.95 />
<circle class=R cx=528 cy=639.5 r=2.95 />
<circle class=L cx=537.5 cy=643 r=2.95 />
<circle class=L cx=504.5 cy=643.5 r=2.95 />
<circle class=M cx=491 cy=640.5 r=2.95 />
<circle class=N cx=475.5 cy=649 r=2.95 />
<circle class=R cx=468.5 cy=651.5 r=2.95 />
<circle class=M cx=458 cy=652.5 r=2.95 />
<circle class=M cx=451 cy=655 r=2.95 />
<circle class=O cx=552 cy=630 r=2.95 />
<circle class=N cx=573 cy=628.5 r=2.95 />
<circle class=N cx=575.5 cy=617 r=2.95 />
<circle class=N cx=579.5 cy=619.5 r=2.95 />
<circle class=R cx=612 cy=623 r=2.95 />
<circle class=N cx=643.5 cy=619 r=2.95 />
<circle class=R cx=587.5 cy=657.5 r=2.95 />
<circle class=B cx=615 cy=654.5 r=2.95 />
<circle class=G cx=620.5 cy=664.5 r=2.95 />
<circle class=O cx=642.5 cy=661.5 r=2.95 />
<circle class=L cx=647 cy=661 r=2.95 />
<circle class=R cx=657 cy=659.5 r=2.95 />
<circle class=M cx=664 cy=658.5 r=2.95 />
<circle class=P cx=663.5 cy=665 r=2.95 />
<circle class=N cx=666.5 cy=647.5 r=2.95 />
<circle class=N cx=667.5 cy=648 r=2.95 />
<circle class=G cx=677.5 cy=662.5 r=2.95 />
<circle class=N cx=686.5 cy=662 r=2.95 />
<circle class=G cx=691 cy=602.5 r=2.95 />
<circle class=P cx=726.5 cy=598.5 r=2.95 />
<circle class=M cx=729 cy=612.5 r=2.95 />
<circle class=L cx=721.5 cy=640.5 r=2.95 />
<circle class=P cx=715.5 cy=641 r=2.95 />
<circle class=R cx=731 cy=639.5 r=2.95 />
<circle class=P cx=736 cy=639.5 r=2.95 />
<circle class=N cx=722.5 cy=652.5 r=2.95 />
<circle class=M cx=749.5 cy=633 r=2.95 />
<circle class=G cx=747 cy=662.5 r=2.95 />
<circle class=B cx=757.5 cy=654.5 r=2.95 />
<circle class=B cx=765 cy=631 r=2.95 />
<circle class=B cx=772 cy=635.5 r=2.95 />
<circle class=L cx=780 cy=635.5 r=2.95 />
<circle class=N cx=791 cy=629 r=2.95 />
<circle class=R cx=806 cy=627 r=2.95 />
<circle class=P cx=819 cy=626 r=2.95 />
<circle class=N cx=847.5 cy=629 r=2.95 />
<circle class=P cx=846 cy=654.5 r=2.95 />
<circle class=G cx=845 cy=693.5 r=2.95 />
<circle class=B cx=858 cy=586 r=2.95 />
<circle class=P cx=873 cy=621.5 r=2.95 />
<circle class=L cx=880 cy=621 r=2.95 />
<circle class=N cx=848.5 cy=628.5 r=2.95 />
<circle class=B cx=853 cy=653.5 r=2.95 />
<circle class=M cx=1005.5 cy=641.5 r=2.95 />
<circle class=O cx=947.5 cy=685.5 r=2.95 />
<circle class=B cx=992 cy=682 r=2.95 />
<circle class=G cx=1024 cy=680 r=2.95 />
<circle class=G cx=845 cy=693.5 r=2.95 />
<circle class=L cx=1092 cy=636 r=2.95 />
<circle class=R cx=1148 cy=632.5 r=2.95 />
<circle class=N cx=1171.5 cy=631.5 r=2.95 />
<circle class=O cx=1116 cy=659.5 r=2.95 />
<circle class=B cx=1119.5 cy=658.5 r=2.95 />
<circle class=N cx=1142 cy=657.5 r=2.95 />
<circle class=G cx=1162.5 cy=656.5 r=2.95 />
<circle class=R cx=1217.5 cy=653.5 r=2.95 />
<circle class=P cx=1237.5 cy=652 r=2.95 />
<circle class=R cx=1226 cy=667.5 r=2.95 />
<circle class=M cx=1265.5 cy=665.5 r=2.95 />
<circle class=L cx=1269.5 cy=665.5 r=2.95 />
<circle class=M cx=1661 cy=633 r=2.95 />
<circle class=N cx=403 cy=758 r=2.95 />
<circle class=M cx=243.5 cy=719.5 r=2.95 />
<circle class=O cx=230.5 cy=715 r=2.95 />
<circle class=M cx=215 cy=752 r=2.95 />
<circle class=M cx=205.5 cy=775 r=2.95 />
<circle class=L cx=221 cy=735.5 r=2.95 />
<circle class=R cx=207 cy=738 r=2.95 />
<circle class=N cx=219.5 cy=727 r=2.95 />
<circle class=M cx=215 cy=724.5 r=2.95 />
<circle class=M cx=211.5 cy=711 r=2.95 />
<circle class=O cx=226.5 cy=695.5 r=2.95 />
<circle class=B cx=225 cy=703.5 r=2.95 />
<circle class=M cx=253.5 cy=694 r=2.95 />
<circle class=N cx=262.5 cy=695 r=2.95 />
<circle class=N cx=271 cy=692.5 r=2.95 />
<circle class=N cx=239.5 cy=691.5 r=2.95 />
<circle class=N cx=198 cy=890.5 r=2.95 />
<circle class=N cx=198 cy=899.5 r=2.95 />
<circle class=B cx=198 cy=910.5 r=2.95 />
<circle class=N cx=198 cy=922.5 r=2.95 />
<circle class=N cx=198 cy=929.5 r=2.95 />
<circle class=N cx=198 cy=947.5 r=2.95 />
<circle class=P cx=198.5 cy=1000 r=2.95 />
<circle class=L cx=321.5 cy=574.5 r=2.95 />
<circle class=B cx=309 cy=580 r=2.95 />
<circle class=B cx=311 cy=577 r=2.95 />
<circle class=L cx=299.5 cy=583.5 r=2.95 />
<circle class=L cx=291 cy=591 r=2.95 />
<circle class=M cx=313 cy=595 r=2.95 />
<circle class=B cx=334 cy=571 r=2.95 />
<circle class=N cx=310.5 cy=605 r=2.95 />
<circle class=N cx=301 cy=606.5 r=2.95 />
<circle class=O cx=303.5 cy=609.5 r=2.95 />
<circle class=B cx=309 cy=614.5 r=2.95 />
<circle class=M cx=316 cy=618 r=2.95 />
<circle class=N cx=296.5 cy=619.5 r=2.95 />
<circle class=O cx=300 cy=622.5 r=2.95 />
<circle class=O cx=314 cy=624.5 r=2.95 />
<circle class=N cx=294 cy=629 r=2.95 />
<circle class=P cx=324 cy=606.5 r=2.95 />
<circle class=M cx=346.5 cy=628 r=2.95 />
<circle class=M cx=359.5 cy=625.5 r=2.95 />
<circle class=O cx=364.5 cy=625 r=2.95 />
<circle class=M cx=373.5 cy=621 r=2.95 />
<circle class=L cx=372.5 cy=628 r=2.95 />
<circle class=B cx=387 cy=625 r=2.95 />
<circle class=M cx=383 cy=626 r=2.95 />
<circle class=G cx=388.5 cy=616.5 r=2.95 />
<circle class=N cx=404 cy=619.5 r=2.95 />
<circle class=N cx=414 cy=618.5 r=2.95 />
<circle class=B cx=414 cy=625.5 r=2.95 />
<circle class=O cx=421 cy=622.5 r=2.95 />
<circle class=P cx=405.5 cy=611.5 r=2.95 />
<circle class=B cx=433.5 cy=633.5 r=2.95 />
<circle class=N cx=456 cy=630 r=2.95 />
<circle class=P cx=450.5 cy=632 r=2.95 />
<circle class=N cx=391 cy=632.5 r=2.95 />
<circle class=L cx=380.5 cy=635.5 r=2.95 />
<circle class=P cx=421 cy=636 r=2.95 />
<circle class=B cx=445.5 cy=643.5 r=2.95 />
<circle class=L cx=451.5 cy=642 r=2.95 />
<circle class=P cx=457.5 cy=647 r=2.95 />
<circle class=N cx=404.5 cy=643.5 r=2.95 />
<circle class=P cx=396 cy=645.5 r=2.95 />
<circle class=G cx=416 cy=640.5 r=2.95 />
<circle class=P cx=422 cy=645 r=2.95 />
<circle class=B cx=383 cy=648 r=2.95 />
<circle class=M cx=361.5 cy=641.5 r=2.95 />
<circle class=M cx=366.5 cy=644.5 r=2.95 />
<circle class=B cx=354.5 cy=637 r=2.95 />
<circle class=N cx=346.5 cy=640.5 r=2.95 />
<circle class=B cx=350.5 cy=648.5 r=2.95 />
<circle class=M cx=352.5 cy=642.5 r=2.95 />
<circle class=O cx=337.5 cy=634.5 r=2.95 />
<circle class=P cx=334.5 cy=640.5 r=2.95 />
<circle class=N cx=326.5 cy=640.5 r=2.95 />
<circle class=N cx=320 cy=641.5 r=2.95 />
<circle class=M cx=311 cy=643.5 r=2.95 />
<circle class=N cx=298.5 cy=640.5 r=2.95 />
<circle class=N cx=298.5 cy=647.5 r=2.95 />
<circle class=B cx=306.5 cy=648.5 r=2.95 />
<circle class=M cx=292 cy=646.5 r=2.95 />
<circle class=N cx=441 cy=650.5 r=2.95 />
<circle class=M cx=402 cy=651 r=2.95 />
<circle class=G cx=392 cy=652.5 r=2.95 />
<circle class=B cx=450 cy=655.5 r=2.95 />
<circle class=M cx=456.5 cy=653.5 r=2.95 />
<circle class=L cx=451.5 cy=660.5 r=2.95 />
<circle class=N cx=403 cy=660 r=2.95 />
<circle class=N cx=405 cy=659 r=2.95 />
<circle class=L cx=415.5 cy=658.5 r=2.95 />
<circle class=O cx=390 cy=664.5 r=2.95 />
<circle class=B cx=375.5 cy=659.5 r=2.95 />
<circle class=P cx=371.5 cy=662.5 r=2.95 />
<circle class=M cx=384.5 cy=667.5 r=2.95 />
<circle class=N cx=401 cy=667.5 r=2.95 />
<circle class=M cx=407.5 cy=670.5 r=2.95 />
<circle class=O cx=417.5 cy=668 r=2.95 />
<circle class=P cx=428 cy=665.5 r=2.95 />
<circle class=M cx=354.5 cy=658.5 r=2.95 />
<circle class=P cx=350.5 cy=660.5 r=2.95 />
<circle class=M cx=348.5 cy=667 r=2.95 />
<circle class=L cx=350.5 cy=677.5 r=2.95 />
<circle class=M cx=354.5 cy=687 r=2.95 />
<circle class=N cx=333.5 cy=672.5 r=2.95 />
<circle class=B cx=325 cy=679.5 r=2.95 />
<circle class=M cx=314.5 cy=684.5 r=2.95 />
<circle class=P cx=306.5 cy=688.5 r=2.95 />
<circle class=N cx=310 cy=674 r=2.95 />
<circle class=N cx=392 cy=675 r=2.95 />
<circle class=N cx=456.5 cy=691.5 r=2.95 />
<circle class=M cx=317 cy=663 r=2.95 />
<circle class=M cx=319 cy=664.5 r=2.95 />
<circle class=L cx=313 cy=659.5 r=2.95 />
<circle class=N cx=302 cy=667.5 r=2.95 />
<circle class=N cx=293 cy=660.5 r=2.95 />
<circle class=P cx=324.5 cy=655.5 r=2.95 />
<circle class=P cx=339.5 cy=653.5 r=2.95 />
<circle class=M cx=290 cy=680 r=2.95 />
<circle class=B cx=209.5 cy=532.5 r=2.95 />
<circle class=M cx=202 cy=529.5 r=2.95 />
<circle class=M cx=204 cy=511.5 r=2.95 />
<circle class=B cx=215 cy=531.5 r=2.95 />
<circle class=B cx=207 cy=545 r=2.95 />
<circle class=N cx=203.5 cy=539 r=2.95 />
<circle class=B cx=204.5 cy=485 r=2.95 />
<circle class=M cx=206.5 cy=486 r=2.95 />
<circle class=N cx=205 cy=484 r=2.95 />
<circle class=B cx=223.5 cy=540.5 r=2.95 />
<circle class=B cx=217 cy=521.5 r=2.95 />
<circle class=N cx=200.5 cy=465 r=2.95 />
<circle class=B cx=200 cy=477 r=2.95 />
<circle class=B cx=210.5 cy=461 r=2.95 />
<circle class=O cx=206.5 cy=526 r=2.95 />
<circle class=N cx=218.5 cy=494.5 r=2.95 />
<circle class=B cx=200 cy=525.5 r=2.95 />
<circle class=B cx=201 cy=465 r=2.95 />
<circle class=P cx=199 cy=485.5 r=2.95 />
<circle class=N cx=200 cy=469.5 r=2.95 />
<circle class=B cx=210.5 cy=531 r=2.95 />
<circle class=B cx=202 cy=475 r=2.95 />
<circle class=N cx=206 cy=494.5 r=2.95 />
<circle class=B cx=213 cy=471.5 r=2.95 />
<circle class=P cx=208 cy=477 r=2.95 />
<circle class=B cx=205.5 cy=491 r=2.95 />
<circle class=N cx=202 cy=519.5 r=2.95 />
<circle class=B cx=208.5 cy=475.5 r=2.95 />
<circle class=M cx=200 cy=543 r=2.95 />
<circle class=N cx=206.5 cy=541.5 r=2.95 />
<circle class=B cx=210.5 cy=478 r=2.95 />
<circle class=N cx=202.5 cy=549 r=2.95 />
<circle class=B cx=205 cy=511 r=2.95 />
<circle class=N cx=206 cy=518 r=2.95 />
<circle class=N cx=205.5 cy=490.5 r=2.95 />
<circle class=N cx=203 cy=513.5 r=2.95 />
<circle class=N cx=203.5 cy=481.5 r=2.95 />
<circle class=B cx=211.5 cy=556.5 r=2.95 />
<circle class=N cx=199 cy=476.5 r=2.95 />
<circle class=N cx=209.5 cy=487 r=2.95 />
<circle class=L cx=212.5 cy=498.5 r=2.95 />
<circle class=M cx=204 cy=534 r=2.95 />
<circle class=N cx=208 cy=504.5 r=2.95 />
<circle class=O cx=210.5 cy=558 r=2.95 />
<circle class=N cx=217.5 cy=509.5 r=2.95 />
<circle class=L cx=199 cy=557 r=2.95 />
<circle class=N cx=204.5 cy=481.5 r=2.95 />
<circle class=M cx=203 cy=557.5 r=2.95 />
<circle class=B cx=210 cy=509 r=2.95 />
<circle class=B cx=199.5 cy=516 r=2.95 />
<circle class=B cx=206 cy=477 r=2.95 />
<circle class=B cx=202 cy=486.5 r=2.95 />
<circle class=N cx=203.5 cy=558.5 r=2.95 />
<circle class=B cx=208 cy=528 r=2.95 />
<circle class=B cx=212.5 cy=499 r=2.95 />
<circle class=N cx=205.5 cy=515.5 r=2.95 />
<circle class=B cx=207.5 cy=551.5 r=2.95 />
<circle class=N cx=205.5 cy=475.5 r=2.95 />
<circle class=B cx=206 cy=490.5 r=2.95 />
<circle class=M cx=208.5 cy=542.5 r=2.95 />
<circle class=N cx=202.5 cy=503.5 r=2.95 />
<circle class=B cx=215 cy=490.5 r=2.95 />
<circle class=B cx=210 cy=517.5 r=2.95 />
<circle class=B cx=204 cy=530 r=2.95 />
<circle class=M cx=199.5 cy=465.5 r=2.95 />
<circle class=N cx=206.5 cy=459 r=2.95 />
<circle class=B cx=204.5 cy=537.5 r=2.95 />
<circle class=B cx=209.5 cy=492 r=2.95 />
<circle class=M cx=202 cy=497.5 r=2.95 />
<circle class=N cx=205.5 cy=513.5 r=2.95 />
<circle class=N cx=206.5 cy=520.5 r=2.95 />
<circle class=N cx=210.5 cy=499 r=2.95 />
<circle class=B cx=206 cy=463.5 r=2.95 />
<circle class=B cx=199.5 cy=535 r=2.95 />
<circle class=N cx=200.5 cy=497 r=2.95 />
<circle class=N cx=201 cy=502 r=2.95 />
<circle class=N cx=208 cy=513 r=2.95 />
<circle class=N cx=207 cy=545.5 r=2.95 />
<circle class=B cx=205 cy=531 r=2.95 />
<circle class=B cx=200.5 cy=548.5 r=2.95 />
<circle class=N cx=202.5 cy=522.5 r=2.95 />
<circle class=N cx=204 cy=555.5 r=2.95 />
<circle class=B cx=199.5 cy=535.5 r=2.95 />
<circle class=O cx=199.5 cy=553 r=2.95 />
<circle class=B cx=201.5 cy=556.5 r=2.95 />
<circle class=M cx=204 cy=462.5 r=2.95 />
<circle class=B cx=202 cy=500 r=2.95 />
<circle class=N cx=206.5 cy=551 r=2.95 />
<circle class=N cx=199.5 cy=532 r=2.95 />
<circle class=B cx=209 cy=508.5 r=2.95 />
<circle class=M cx=216.5 cy=545 r=2.95 />
<circle class=M cx=199.5 cy=495.5 r=2.95 />
<circle class=M cx=209.5 cy=529.5 r=2.95 />
<circle class=B cx=202 cy=494 r=2.95 />
<circle class=B cx=202 cy=485.5 r=2.95 />
<circle class=N cx=211.5 cy=543.5 r=2.95 />
<circle class=B cx=213.5 cy=548 r=2.95 />
<circle class=N cx=199.5 cy=498 r=2.95 />
<circle class=N cx=206.5 cy=542 r=2.95 />
<circle class=N cx=203 cy=523.5 r=2.95 />
<circle class=O cx=210.5 cy=527.5 r=2.95 />
<circle class=M cx=218.5 cy=461 r=2.95 />
<circle class=N cx=204.5 cy=549 r=2.95 />
<circle class=B cx=203.5 cy=460.5 r=2.95 />
<circle class=O cx=203 cy=476 r=2.95 />
<circle class=B cx=205.5 cy=462 r=2.95 />
<circle class=N cx=210 cy=477 r=2.95 />
<circle class=B cx=218 cy=535.5 r=2.95 />
<circle class=M cx=204.5 cy=493 r=2.95 />
<circle class=N cx=203 cy=541.5 r=2.95 />
<circle class=N cx=206.5 cy=463.5 r=2.95 />
<circle class=M cx=200.5 cy=557 r=2.95 />
<circle class=N cx=199 cy=473.5 r=2.95 />
<circle class=B cx=211.5 cy=491 r=2.95 />
<circle class=N cx=201.5 cy=557 r=2.95 />
<circle class=N cx=209 cy=546.5 r=2.95 />
<circle class=N cx=202 cy=468 r=2.95 />
<circle class=B cx=213 cy=464.5 r=2.95 />
<circle class=N cx=208 cy=480 r=2.95 />
<circle class=B cx=211 cy=459 r=2.95 />
<circle class=L cx=217 cy=483 r=2.95 />
<circle class=N cx=221.5 cy=472 r=2.95 />
<circle class=B cx=211.5 cy=481.5 r=2.95 />
<circle class=B cx=203.5 cy=516.5 r=2.95 />
<circle class=B cx=215 cy=471 r=2.95 />
<circle class=B cx=200.5 cy=477 r=2.95 />
<circle class=N cx=215.5 cy=518.5 r=2.95 />
<circle class=N cx=209.5 cy=540.5 r=2.95 />
<circle class=B cx=206 cy=477.5 r=2.95 />
<circle class=N cx=211.5 cy=557 r=2.95 />
<circle class=M cx=203.5 cy=586.5 r=2.95 />
<circle class=N cx=205.5 cy=654 r=2.95 />
<circle class=B cx=203 cy=577 r=2.95 />
<circle class=B cx=204 cy=656 r=2.95 />
<circle class=N cx=205 cy=616.5 r=2.95 />
<circle class=M cx=205.5 cy=634 r=2.95 />
<circle class=M cx=205 cy=560.5 r=2.95 />
<circle class=N cx=201 cy=650 r=2.95 />
<circle class=B cx=206 cy=700.5 r=2.95 />
<circle class=G cx=206.5 cy=581 r=2.95 />
<circle class=L cx=217.5 cy=617 r=2.95 />
<circle class=B cx=209 cy=631.5 r=2.95 />
<circle class=B cx=201 cy=682.5 r=2.95 />
<circle class=B cx=206.5 cy=626 r=2.95 />
<circle class=M cx=214.5 cy=639 r=2.95 />
<circle class=R cx=209.5 cy=634.5 r=2.95 />
<circle class=L cx=208 cy=613 r=2.95 />
<circle class=N cx=204 cy=734.5 r=2.95 />
<circle class=B cx=201.5 cy=675 r=2.95 />
<circle class=M cx=204.5 cy=692.5 r=2.95 />
<circle class=R cx=205.5 cy=697.5 r=2.95 />
<circle class=O cx=212 cy=561 r=2.95 />
<circle class=N cx=202.5 cy=651.5 r=2.95 />
<circle class=L cx=200 cy=570 r=2.95 />
<circle class=B cx=201.5 cy=588.5 r=2.95 />
<circle class=N cx=212.5 cy=716.5 r=2.95 />
<circle class=R cx=205.5 cy=659 r=2.95 />
<circle class=N cx=205 cy=733.5 r=2.95 />
<circle class=N cx=208 cy=717 r=2.95 />
<circle class=M cx=205.5 cy=628.5 r=2.95 />
<circle class=B cx=202.5 cy=600.5 r=2.95 />
<circle class=M cx=204 cy=577.5 r=2.95 />
<circle class=L cx=205 cy=572.5 r=2.95 />
<circle class=B cx=205 cy=624 r=2.95 />
<circle class=N cx=205 cy=566.5 r=2.95 />
<circle class=M cx=208 cy=664 r=2.95 />
<circle class=O cx=218 cy=574.5 r=2.95 />
<circle class=B cx=206.5 cy=564 r=2.95 />
<circle class=L cx=202.5 cy=597.5 r=2.95 />
<circle class=N cx=202.5 cy=697.5 r=2.95 />
<circle class=B cx=203 cy=680.5 r=2.95 />
<circle class=B cx=209 cy=642 r=2.95 />
<circle class=L cx=207.5 cy=577 r=2.95 />
<circle class=M cx=202.5 cy=674 r=2.95 />
<circle class=B cx=206 cy=713 r=2.95 />
<circle class=B cx=199 cy=679 r=2.95 />
<circle class=L cx=201.5 cy=703.5 r=2.95 />
<circle class=R cx=199 cy=738 r=2.95 />
<circle class=B cx=203.5 cy=606.5 r=2.95 />
<circle class=M cx=208 cy=617.5 r=2.95 />
<circle class=N cx=205 cy=660 r=2.95 />
<circle class=N cx=203 cy=722.5 r=2.95 />
<circle class=B cx=200 cy=598 r=2.95 />
<circle class=B cx=201.5 cy=670.5 r=2.95 />
<circle class=B cx=204.5 cy=690.5 r=2.95 />
<circle class=M cx=200.5 cy=664.5 r=2.95 />
<circle class=N cx=201 cy=618.5 r=2.95 />
<circle class=P cx=204 cy=637 r=2.95 />
<circle class=L cx=201.5 cy=657.5 r=2.95 />
<circle class=G cx=206.5 cy=692 r=2.95 />
<circle class=G cx=200 cy=592 r=2.95 />
<circle class=M cx=206.5 cy=681 r=2.95 />
<circle class=L cx=215 cy=679 r=2.95 />
<circle class=P cx=201.5 cy=673.5 r=2.95 />
<circle class=G cx=205 cy=619.5 r=2.95 />
<circle class=M cx=199 cy=652 r=2.95 />
<circle class=L cx=200 cy=695.5 r=2.95 />
<circle class=M cx=208.5 cy=566.5 r=2.95 />
<circle class=M cx=203.5 cy=693.5 r=2.95 />
<circle class=L cx=204.5 cy=718.5 r=2.95 />
<circle class=B cx=205 cy=667.5 r=2.95 />
<circle class=N cx=211.5 cy=701.5 r=2.95 />
<circle class=B cx=200 cy=702 r=2.95 />
<circle class=B cx=202 cy=722 r=2.95 />
<circle class=M cx=202 cy=568 r=2.95 />
<circle class=R cx=210 cy=610.5 r=2.95 />
<circle class=N cx=204 cy=587 r=2.95 />
<circle class=M cx=206.5 cy=655 r=2.95 />
<circle class=N cx=203 cy=561 r=2.95 />
<circle class=R cx=201 cy=718 r=2.95 />
<circle class=B cx=208 cy=623 r=2.95 />
<circle class=M cx=202.5 cy=660 r=2.95 />
<circle class=M cx=205.5 cy=604.5 r=2.95 />
<circle class=L cx=200 cy=635.5 r=2.95 />
<circle class=M cx=206 cy=605.5 r=2.95 />
<circle class=M cx=204.5 cy=575 r=2.95 />
<circle class=M cx=203.5 cy=562.5 r=2.95 />
<circle class=M cx=205 cy=624 r=2.95 />
<circle class=O cx=208.5 cy=616.5 r=2.95 />
<circle class=B cx=211 cy=629 r=2.95 />
<circle class=B cx=203.5 cy=613 r=2.95 />
<circle class=B cx=215 cy=697.5 r=2.95 />
<circle class=M cx=212.5 cy=611.5 r=2.95 />
<circle class=G cx=206 cy=673.5 r=2.95 />
<circle class=O cx=207 cy=637.5 r=2.95 />
<circle class=L cx=205 cy=601 r=2.95 />
<circle class=R cx=201 cy=738.5 r=2.95 />
<circle class=O cx=208.5 cy=569.5 r=2.95 />
<circle class=N cx=218 cy=693 r=2.95 />
<circle class=M cx=199 cy=732.5 r=2.95 />
<circle class=N cx=199 cy=660.5 r=2.95 />
<circle class=L cx=200.5 cy=630 r=2.95 />
<circle class=R cx=205 cy=571 r=2.95 />
<circle class=M cx=206.5 cy=611.5 r=2.95 />
<circle class=B cx=200.5 cy=575.5 r=2.95 />
<circle class=B cx=203 cy=588.5 r=2.95 />
<circle class=O cx=199.5 cy=620 r=2.95 />
<circle class=M cx=207 cy=642 r=2.95 />
<circle class=N cx=206.5 cy=652.5 r=2.95 />
<circle class=L cx=199 cy=654 r=2.95 />
<circle class=N cx=201.5 cy=697.5 r=2.95 />
<circle class=B cx=214 cy=637.5 r=2.95 />
<circle class=N cx=206.5 cy=706.5 r=2.95 />
<circle class=N cx=201 cy=686 r=2.95 />
<circle class=M cx=199.5 cy=601 r=2.95 />
<circle class=M cx=201 cy=639.5 r=2.95 />
<circle class=M cx=203.5 cy=670 r=2.95 />
<circle class=N cx=201.5 cy=573.5 r=2.95 />
<circle class=L cx=202.5 cy=696 r=2.95 />
<circle class=M cx=205.5 cy=566.5 r=2.95 />
<circle class=N cx=203 cy=692.5 r=2.95 />
<circle class=P cx=204.5 cy=737.5 r=2.95 />
<circle class=M cx=202 cy=584 r=2.95 />
<circle class=G cx=221 cy=635.5 r=2.95 />
<circle class=M cx=209.5 cy=682.5 r=2.95 />
<circle class=B cx=217 cy=699.5 r=2.95 />
<circle class=M cx=206 cy=580.5 r=2.95 />
<circle class=O cx=205.5 cy=617.5 r=2.95 />
<circle class=N cx=203 cy=577 r=2.95 />
<circle class=B cx=207.5 cy=713.5 r=2.95 />
<circle class=R cx=201.5 cy=709.5 r=2.95 />
<circle class=N cx=206.5 cy=613 r=2.95 />
<circle class=M cx=203 cy=701 r=2.95 />
<circle class=N cx=205.5 cy=592 r=2.95 />
<circle class=M cx=205.5 cy=689.5 r=2.95 />
<circle class=B cx=202 cy=609 r=2.95 />
<circle class=B cx=202.5 cy=637.5 r=2.95 />
<circle class=B cx=204 cy=655.5 r=2.95 />
<circle class=B cx=209.5 cy=688.5 r=2.95 />
<circle class=N cx=209.5 cy=706.5 r=2.95 />
<circle class=N cx=206.5 cy=613.5 r=2.95 />
<circle class=B cx=211.5 cy=723 r=2.95 />
<circle class=L cx=201.5 cy=653.5 r=2.95 />
<circle class=M cx=201.5 cy=653 r=2.95 />
<circle class=B cx=201 cy=659 r=2.95 />
<circle class=P cx=207 cy=564.5 r=2.95 />
<circle class=N cx=204.5 cy=656.5 r=2.95 />
<circle class=N cx=203.5 cy=659.5 r=2.95 />
<circle class=B cx=199 cy=637.5 r=2.95 />
<circle class=B cx=205.5 cy=700.5 r=2.95 />
<circle class=M cx=205 cy=749 r=2.95 />
<circle class=N cx=212.5 cy=792 r=2.95 />
<circle class=N cx=200 cy=744.5 r=2.95 />
<circle class=M cx=201 cy=743.5 r=2.95 />
<circle class=N cx=207.5 cy=787.5 r=2.95 />
<circle class=P cx=206 cy=779 r=2.95 />
<circle class=B cx=206 cy=790.5 r=2.95 />
<circle class=M cx=202 cy=791.5 r=2.95 />
<circle class=L cx=200 cy=769.5 r=2.95 />
<circle class=N cx=213 cy=791.5 r=2.95 />
<circle class=N cx=207 cy=789.5 r=2.95 />
<circle class=M cx=202 cy=763 r=2.95 />
<circle class=N cx=201 cy=770 r=2.95 />
<circle class=B cx=202 cy=782 r=2.95 />
<circle class=G cx=199 cy=759.5 r=2.95 />
<circle class=R cx=240.5 cy=679.5 r=2.95 />
<circle class=B cx=233.5 cy=649 r=2.95 />
<circle class=M cx=359 cy=662 r=2.95 />
<circle class=O cx=286 cy=605.5 r=2.95 />
<circle class=M cx=231 cy=662.5 r=2.95 />
<circle class=R cx=214 cy=557 r=2.95 />
<circle class=B cx=221.5 cy=715 r=2.95 />
<circle class=B cx=439.5 cy=643 r=2.95 />
<circle class=N cx=263 cy=692.5 r=2.95 />
<circle class=R cx=288 cy=633 r=2.95 />
<circle class=R cx=212 cy=655 r=2.95 />
<circle class=L cx=226.5 cy=736 r=2.95 />
<circle class=N cx=226 cy=620.5 r=2.95 />
<circle class=L cx=277.5 cy=705.5 r=2.95 />
<circle class=B cx=227.5 cy=723 r=2.95 />
<circle class=M cx=438 cy=643.5 r=2.95 />
<circle class=P cx=288 cy=649 r=2.95 />
<circle class=M cx=242 cy=672.5 r=2.95 />
<circle class=B cx=298.5 cy=642.5 r=2.95 />
<circle class=B cx=223 cy=594.5 r=2.95 />
<circle class=G cx=200.5 cy=693.5 r=2.95 />
<circle class=M cx=225 cy=645.5 r=2.95 />
<circle class=B cx=203.5 cy=664.5 r=2.95 />
<circle class=G cx=216 cy=632 r=2.95 />
<circle class=L cx=227.5 cy=677 r=2.95 />
<circle class=M cx=223.5 cy=662.5 r=2.95 />
<circle class=P cx=218 cy=787.5 r=2.95 />
<circle class=M cx=270.5 cy=621.5 r=2.95 />
<circle class=O cx=261 cy=668.5 r=2.95 />
<circle class=N cx=225 cy=714 r=2.95 />
<circle class=R cx=210.5 cy=667 r=2.95 />
<circle class=B cx=230.5 cy=615.5 r=2.95 />
<circle class=O cx=216.5 cy=623.5 r=2.95 />
<circle class=R cx=205 cy=600 r=2.95 />
<circle class=R cx=280 cy=670.5 r=2.95 />
<circle class=P cx=237.5 cy=685 r=2.95 />
<circle class=M cx=210.5 cy=627 r=2.95 />
<circle class=O cx=351.5 cy=675.5 r=2.95 />
<circle class=M cx=241.5 cy=662 r=2.95 />
<circle class=M cx=282 cy=615 r=2.95 />
<circle class=M cx=236 cy=647.5 r=2.95 />
<circle class=O cx=344.5 cy=622.5 r=2.95 />
<circle class=L cx=291 cy=710 r=2.95 />
<circle class=M cx=214.5 cy=677.5 r=2.95 />
<circle class=M cx=233.5 cy=559.5 r=2.95 />
<circle class=B cx=292.5 cy=602 r=2.95 />
<circle class=O cx=230 cy=693 r=2.95 />
<circle class=N cx=212 cy=637.5 r=2.95 />
<circle class=M cx=228.5 cy=672 r=2.95 />
<circle class=L cx=211.5 cy=578.5 r=2.95 />
<circle class=R cx=258.5 cy=665.5 r=2.95 />
<circle class=G cx=202 cy=658 r=2.95 />
<circle class=N cx=207 cy=597.5 r=2.95 />
<circle class=R cx=301 cy=639.5 r=2.95 />
<circle class=B cx=284 cy=665 r=2.95 />
<circle class=N cx=203 cy=653.5 r=2.95 />
<circle class=G cx=247.5 cy=653.5 r=2.95 />
<circle class=L cx=276.5 cy=648 r=2.95 />
<circle class=P cx=259.5 cy=658.5 r=2.95 />
<circle class=N cx=212.5 cy=678.5 r=2.95 />
<circle class=O cx=236.5 cy=681 r=2.95 />
<circle class=B cx=237 cy=666 r=2.95 />
<circle class=O cx=214 cy=691 r=2.95 />
<circle class=O cx=250.5 cy=648 r=2.95 />
<circle class=M cx=401 cy=624 r=2.95 />
<circle class=B cx=215.5 cy=639.5 r=2.95 />
<circle class=L cx=271 cy=650 r=2.95 />
<circle class=O cx=216.5 cy=573.5 r=2.95 />
<circle class=M cx=200.5 cy=660 r=2.95 />
<circle class=B cx=358.5 cy=619 r=2.95 />
<circle class=P cx=447.5 cy=632 r=2.95 />
<circle class=B cx=358.5 cy=662.5 r=2.95 />
<circle class=N cx=273 cy=667 r=2.95 />
<circle class=O cx=206.5 cy=608 r=2.95 />
<circle class=O cx=241 cy=629.5 r=2.95 />
<circle class=B cx=245.5 cy=688.5 r=2.95 />
<circle class=P cx=212.5 cy=676 r=2.95 />
<circle class=M cx=210 cy=634.5 r=2.95 />
<circle class=B cx=457 cy=649.5 r=2.95 />
<circle class=M cx=270.5 cy=680 r=2.95 />
<circle class=L cx=421 cy=686.5 r=2.95 />
<circle class=O cx=218.5 cy=621 r=2.95 />
<circle class=N cx=235 cy=652.5 r=2.95 />
<circle class=O cx=256 cy=654.5 r=2.95 />
<circle class=M cx=222 cy=660.5 r=2.95 />
<circle class=O cx=399.5 cy=623.5 r=2.95 />
<circle class=O cx=429.5 cy=646 r=2.95 />
<circle class=B cx=325 cy=617.5 r=2.95 />
<circle class=M cx=318 cy=639.5 r=2.95 />
<circle class=N cx=250.5 cy=641 r=2.95 />
<circle class=R cx=225.5 cy=678 r=2.95 />
<circle class=P cx=246.5 cy=647 r=2.95 />
<circle class=B cx=216 cy=635 r=2.95 />
<circle class=N cx=343.5 cy=687.5 r=2.95 />
<circle class=N cx=247 cy=641 r=2.95 />
<circle class=R cx=200.5 cy=579 r=2.95 />
<circle class=L cx=203.5 cy=632 r=2.95 />
<circle class=L cx=272 cy=639 r=2.95 />
<circle class=M cx=220.5 cy=661.5 r=2.95 />
<circle class=L cx=226 cy=644 r=2.95 />
<circle class=M cx=212.5 cy=643.5 r=2.95 />
<circle class=R cx=261.5 cy=649 r=2.95 />
<circle class=N cx=347 cy=626.5 r=2.95 />
<circle class=R cx=210 cy=671.5 r=2.95 />
<circle class=B cx=222.5 cy=642 r=2.95 />
<circle class=L cx=206.5 cy=652.5 r=2.95 />
<circle class=M cx=244 cy=589 r=2.95 />
<circle class=R cx=284 cy=645.5 r=2.95 />
<circle class=G cx=257 cy=661 r=2.95 />
<circle class=N cx=226 cy=644 r=2.95 />
<circle class=B cx=268 cy=621 r=2.95 />
<circle class=O cx=245.5 cy=624 r=2.95 />
<circle class=B cx=355.5 cy=628 r=2.95 />
<circle class=M cx=384.5 cy=632.5 r=2.95 />
<circle class=M cx=220.5 cy=642 r=2.95 />
<circle class=M cx=229 cy=626 r=2.95 />
<circle class=M cx=281 cy=666.5 r=2.95 />
<circle class=L cx=208 cy=662.5 r=2.95 />
<circle class=N cx=302 cy=623.5 r=2.95 />
<circle class=M cx=245 cy=639 r=2.95 />
<circle class=B cx=348 cy=683.5 r=2.95 />
<circle class=P cx=326.5 cy=620 r=2.95 />
<circle class=L cx=250.5 cy=614 r=2.95 />
<circle class=L cx=303.5 cy=572.5 r=2.95 />
<circle class=P cx=240 cy=653 r=2.95 />
<circle class=M cx=207.5 cy=667 r=2.95 />
<circle class=L cx=203.5 cy=596.5 r=2.95 />
<circle class=M cx=209.5 cy=665 r=2.95 />
<circle class=B cx=442 cy=656 r=2.95 />
<circle class=B cx=218 cy=655 r=2.95 />
<circle class=M cx=267.5 cy=588 r=2.95 />
<circle class=B cx=295 cy=642 r=2.95 />
<circle class=N cx=205 cy=681 r=2.95 />
<circle class=O cx=206.5 cy=647 r=2.95 />
<circle class=B cx=258 cy=513.5 r=2.95 />
<circle class=M cx=374 cy=605 r=2.95 />
<circle class=O cx=308 cy=622.5 r=2.95 />
<circle class=N cx=223.5 cy=692.5 r=2.95 />
<circle class=B cx=420.5 cy=638 r=2.95 />
<circle class=M cx=264 cy=652.5 r=2.95 />
<circle class=P cx=285 cy=691.5 r=2.95 />
<circle class=M cx=344.5 cy=656.5 r=2.95 />
<circle class=L cx=265.5 cy=598 r=2.95 />
<circle class=L cx=237 cy=604.5 r=2.95 />
<circle class=N cx=307 cy=689.5 r=2.95 />
<circle class=O cx=225 cy=616.5 r=2.95 />
<circle class=O cx=360 cy=626 r=2.95 />
<circle class=G cx=233 cy=662 r=2.95 />
<circle class=M cx=461 cy=643.5 r=2.95 />
<circle class=O cx=221.5 cy=654 r=2.95 />
<circle class=B cx=419.5 cy=621.5 r=2.95 />
<circle class=M cx=284 cy=630 r=2.95 />
<circle class=B cx=322.5 cy=618.5 r=2.95 />
<circle class=B cx=232 cy=610 r=2.95 />
<circle class=M cx=261.5 cy=684.5 r=2.95 />
<circle class=B cx=218 cy=598 r=2.95 />
<circle class=N cx=444 cy=632.5 r=2.95 />
<circle class=R cx=396.5 cy=668.5 r=2.95 />
<circle class=N cx=252.5 cy=695 r=2.95 />
<circle class=B cx=206 cy=639 r=2.95 />
<circle class=P cx=238 cy=624.5 r=2.95 />
<circle class=O cx=235.5 cy=680 r=2.95 />
<circle class=G cx=207 cy=669 r=2.95 />
<circle class=B cx=216 cy=596.5 r=2.95 />
<circle class=N cx=224 cy=662 r=2.95 />
<circle class=R cx=210 cy=647.5 r=2.95 />
<circle class=P cx=351 cy=630.5 r=2.95 />
<circle class=L cx=206 cy=587 r=2.95 />
<circle class=N cx=269.5 cy=601.5 r=2.95 />
<circle class=G cx=233 cy=601 r=2.95 />
<circle class=M cx=306.5 cy=653.5 r=2.95 />
<circle class=B cx=419.5 cy=618 r=2.95 />
<circle class=R cx=225 cy=629.5 r=2.95 />
<circle class=B cx=252 cy=648 r=2.95 />
<circle class=B cx=428.5 cy=672 r=2.95 />
<circle class=O cx=250 cy=677.5 r=2.95 />
<circle class=L cx=297.5 cy=632.5 r=2.95 />
<circle class=B cx=454.5 cy=645 r=2.95 />
<circle class=N cx=254.5 cy=601 r=2.95 />
<circle class=B cx=309.5 cy=622.5 r=2.95 />
<circle class=M cx=302.5 cy=702.5 r=2.95 />
<circle class=B cx=218.5 cy=670 r=2.95 />
<circle class=L cx=252 cy=631.5 r=2.95 />
<circle class=P cx=342 cy=660.5 r=2.95 />
<circle class=B cx=238.5 cy=554.5 r=2.95 />
<circle class=G cx=287.5 cy=604.5 r=2.95 />
<circle class=N cx=208.5 cy=643 r=2.95 />
<circle class=N cx=217 cy=639 r=2.95 />
<circle class=O cx=204 cy=623.5 r=2.95 />
<circle class=M cx=202.5 cy=646 r=2.95 />
<circle class=M cx=314.5 cy=617.5 r=2.95 />
<circle class=P cx=278 cy=617.5 r=2.95 />
<circle class=M cx=251.5 cy=535.5 r=2.95 />
<circle class=N cx=245 cy=636.5 r=2.95 />
<circle class=L cx=226 cy=667 r=2.95 />
<circle class=M cx=233 cy=699 r=2.95 />
<circle class=M cx=316 cy=614.5 r=2.95 />
<circle class=M cx=201 cy=610 r=2.95 />
<circle class=L cx=210.5 cy=580 r=2.95 />
<circle class=M cx=219 cy=729.5 r=2.95 />
<circle class=B cx=351 cy=664 r=2.95 />
<circle class=O cx=275.5 cy=647 r=2.95 />
<circle class=B cx=327 cy=680 r=2.95 />
<circle class=B cx=458 cy=638.5 r=2.95 />
<circle class=B cx=450 cy=660 r=2.95 />
<circle class=P cx=229.5 cy=769 r=2.95 />
<circle class=L cx=217.5 cy=638 r=2.95 />
<circle class=P cx=211.5 cy=605 r=2.95 />
<circle class=P cx=215.5 cy=714 r=2.95 />
<circle class=O cx=243.5 cy=625 r=2.95 />
<circle class=L cx=249 cy=632 r=2.95 />
<circle class=P cx=457 cy=659.5 r=2.95 />
<circle class=M cx=225.5 cy=613 r=2.95 />
<circle class=O cx=394.5 cy=644.5 r=2.95 />
<circle class=M cx=225.5 cy=645.5 r=2.95 />
<circle class=P cx=442 cy=654 r=2.95 />
<circle class=L cx=327.5 cy=666.5 r=2.95 />
<circle class=L cx=287.5 cy=656 r=2.95 />
<circle class=N cx=385 cy=653 r=2.95 />
<circle class=G cx=228.5 cy=680.5 r=2.95 />
<circle class=N cx=203.5 cy=694.5 r=2.95 />
<circle class=M cx=268.5 cy=641 r=2.95 />
<circle class=N cx=313 cy=638.5 r=2.95 />
<circle class=M cx=200.5 cy=608.5 r=2.95 />
<circle class=N cx=329 cy=693 r=2.95 />
<circle class=R cx=245 cy=669.5 r=2.95 />
<circle class=M cx=468.5 cy=637.5 r=2.95 />
<circle class=P cx=264.5 cy=655.5 r=2.95 />
<circle class=M cx=212 cy=685 r=2.95 />
<circle class=M cx=294 cy=635 r=2.95 />
<circle class=M cx=227 cy=669 r=2.95 />
<circle class=N cx=326 cy=664 r=2.95 />
<circle class=O cx=210 cy=589 r=2.95 />
<circle class=G cx=217 cy=687.5 r=2.95 />
<circle class=R cx=200.5 cy=662.5 r=2.95 />
<circle class=P cx=201 cy=644.5 r=2.95 />
<circle class=M cx=341 cy=662 r=2.95 />
<circle class=P cx=209.5 cy=662.5 r=2.95 />
<circle class=B cx=215.5 cy=627 r=2.95 />
<circle class=R cx=263 cy=602 r=2.95 />
<circle class=B cx=266.5 cy=590 r=2.95 />
<circle class=B cx=291 cy=689 r=2.95 />
<circle class=M cx=315.5 cy=678 r=2.95 />
<circle class=O cx=208.5 cy=652.5 r=2.95 />
<circle class=N cx=226 cy=643.5 r=2.95 />
<circle class=O cx=303.5 cy=653 r=2.95 />
<circle class=B cx=233.5 cy=699 r=2.95 />
<circle class=P cx=204 cy=620 r=2.95 />
<circle class=M cx=348.5 cy=644.5 r=2.95 />
<circle class=M cx=223 cy=680 r=2.95 />
<circle class=B cx=402.5 cy=626 r=2.95 />
<circle class=R cx=385 cy=671 r=2.95 />
<circle class=B cx=273 cy=604 r=2.95 />
<circle class=P cx=234 cy=635.5 r=2.95 />
<circle class=M cx=265.5 cy=698.5 r=2.95 />
<circle class=B cx=294 cy=584.5 r=2.95 />
<circle class=R cx=247 cy=718 r=2.95 />
<circle class=M cx=226 cy=677.5 r=2.95 />
<circle class=L cx=209 cy=605 r=2.95 />
<circle class=B cx=283.5 cy=670.5 r=2.95 />
<circle class=N cx=237 cy=732.5 r=2.95 />
<circle class=R cx=366 cy=629.5 r=2.95 />
<circle class=N cx=228.5 cy=638.5 r=2.95 />
<circle class=N cx=348.5 cy=646.5 r=2.95 />
<circle class=M cx=231 cy=676 r=2.95 />
<circle class=R cx=251 cy=642 r=2.95 />
<circle class=M cx=203.5 cy=589.5 r=2.95 />
<circle class=B cx=318.5 cy=660 r=2.95 />
<circle class=O cx=337.5 cy=671 r=2.95 />
<circle class=N cx=257 cy=699 r=2.95 />
<circle class=L cx=428.5 cy=662.5 r=2.95 />
<circle class=P cx=222 cy=649 r=2.95 />
<circle class=R cx=302 cy=662 r=2.95 />
<circle class=B cx=231 cy=603.5 r=2.95 />
<circle class=L cx=208.5 cy=603.5 r=2.95 />
<circle class=N cx=205.5 cy=701.5 r=2.95 />
<circle class=R cx=348 cy=615.5 r=2.95 />
<circle class=O cx=258.5 cy=654.5 r=2.95 />
<circle class=P cx=330.5 cy=632.5 r=2.95 />
<circle class=M cx=219 cy=610.5 r=2.95 />
<circle class=O cx=245 cy=687 r=2.95 />
<circle class=M cx=362.5 cy=682.5 r=2.95 />
<circle class=N cx=290.5 cy=695.5 r=2.95 />
<circle class=R cx=204.5 cy=693.5 r=2.95 />
<circle class=O cx=343 cy=540 r=2.95 />
<circle class=B cx=218.5 cy=661.5 r=2.95 />
<circle class=R cx=211 cy=653 r=2.95 />
<circle class=M cx=205 cy=620 r=2.95 />
<circle class=O cx=224.5 cy=634.5 r=2.95 />
<circle class=N cx=202.5 cy=636.5 r=2.95 />
<circle class=B cx=249.5 cy=680.5 r=2.95 />
<circle class=L cx=334 cy=657.5 r=2.95 />
<circle class=N cx=281.5 cy=657 r=2.95 />
<circle class=B cx=219.5 cy=631.5 r=2.95 />
<circle class=L cx=298.5 cy=639 r=2.95 />
<circle class=M cx=300.5 cy=575 r=2.95 />
<circle class=B cx=208 cy=624 r=2.95 />
<circle class=N cx=200.5 cy=658.5 r=2.95 />
<circle class=B cx=204.5 cy=608 r=2.95 />
<circle class=O cx=210 cy=678 r=2.95 />
<circle class=P cx=205.5 cy=653 r=2.95 />
<circle class=B cx=237.5 cy=608 r=2.95 />
<circle class=L cx=363 cy=640 r=2.95 />
<circle class=B cx=288 cy=634 r=2.95 />
<circle class=R cx=245 cy=632 r=2.95 />
<circle class=P cx=319.5 cy=655 r=2.95 />
<circle class=R cx=231 cy=655 r=2.95 />
<circle class=M cx=349 cy=607.5 r=2.95 />
<circle class=M cx=260.5 cy=636 r=2.95 />
<circle class=P cx=210 cy=604.5 r=2.95 />
<circle class=M cx=308 cy=610.5 r=2.95 />
<circle class=B cx=349.5 cy=620 r=2.95 />
<circle class=O cx=209.5 cy=593 r=2.95 />
<circle class=R cx=215.5 cy=626.5 r=2.95 />
<circle class=P cx=230.5 cy=631 r=2.95 />
<circle class=O cx=306 cy=656 r=2.95 />
<circle class=R cx=239 cy=658.5 r=2.95 />
<circle class=O cx=402.5 cy=617.5 r=2.95 />
<circle class=B cx=216.5 cy=664 r=2.95 />
<circle class=M cx=274 cy=695.5 r=2.95 />
<circle class=L cx=219.5 cy=685.5 r=2.95 />
<circle class=L cx=261 cy=581 r=2.95 />
<circle class=O cx=297.5 cy=633.5 r=2.95 />
<circle class=N cx=211.5 cy=650.5 r=2.95 />
<circle class=L cx=203 cy=660.5 r=2.95 />
<circle class=L cx=209 cy=649 r=2.95 />
<circle class=P cx=235 cy=571.5 r=2.95 />
<circle class=B cx=241.5 cy=684 r=2.95 />
<circle class=R cx=325.5 cy=677 r=2.95 />
<circle class=O cx=244.5 cy=670 r=2.95 />
<circle class=P cx=320.5 cy=756.5 r=2.95 />
<circle class=M cx=245 cy=663.5 r=2.95 />
<circle class=R cx=252.5 cy=659.5 r=2.95 />
<circle class=O cx=252.5 cy=696 r=2.95 />
<circle class=M cx=209 cy=690 r=2.95 />
<circle class=P cx=330 cy=636.5 r=2.95 />
<circle class=N cx=230.5 cy=534.5 r=2.95 />
<circle class=R cx=269 cy=648 r=2.95 />
<circle class=P cx=220 cy=633.5 r=2.95 />
<circle class=B cx=215.5 cy=651 r=2.95 />
<circle class=B cx=270 cy=589.5 r=2.95 />
<circle class=O cx=206 cy=684.5 r=2.95 />
<circle class=L cx=408.5 cy=664.5 r=2.95 />
<circle class=L cx=280 cy=697 r=2.95 />
<circle class=P cx=351.5 cy=640 r=2.95 />
<circle class=N cx=230 cy=723.5 r=2.95 />
<circle class=R cx=247 cy=631.5 r=2.95 />
<circle class=L cx=252 cy=569.5 r=2.95 />
<circle class=N cx=440.5 cy=625.5 r=2.95 />
<circle class=B cx=280.5 cy=629 r=2.95 />
<circle class=M cx=241 cy=623.5 r=2.95 />
<circle class=L cx=243.5 cy=667 r=2.95 />
<circle class=O cx=217 cy=707.5 r=2.95 />
<circle class=M cx=203 cy=622 r=2.95 />
<circle class=P cx=245.5 cy=598.5 r=2.95 />
<circle class=M cx=204 cy=671.5 r=2.95 />
<circle class=L cx=249 cy=697 r=2.95 />
<circle class=R cx=276.5 cy=707.5 r=2.95 />
<circle class=M cx=209.5 cy=675 r=2.95 />
<circle class=R cx=242 cy=642 r=2.95 />
<circle class=M cx=238.5 cy=628 r=2.95 />
<circle class=M cx=226.5 cy=649.5 r=2.95 />
<circle class=O cx=201 cy=581.5 r=2.95 />
<circle class=L cx=203 cy=653.5 r=2.95 />
<circle class=M cx=290.5 cy=660.5 r=2.95 />
<circle class=R cx=380.5 cy=682.5 r=2.95 />
<circle class=P cx=230 cy=635 r=2.95 />
<circle class=R cx=355 cy=603 r=2.95 />
<circle class=M cx=376 cy=622.5 r=2.95 />
<circle class=O cx=430.5 cy=645.5 r=2.95 />
<circle class=O cx=213 cy=641.5 r=2.95 />
<circle class=P cx=328.5 cy=631.5 r=2.95 />
<circle class=M cx=237 cy=586.5 r=2.95 />
<circle class=R cx=249.5 cy=657 r=2.95 />
<circle class=P cx=210.5 cy=626.5 r=2.95 />
<circle class=R cx=202.5 cy=650 r=2.95 />
<circle class=P cx=220 cy=610 r=2.95 />
<circle class=M cx=298.5 cy=662.5 r=2.95 />
<circle class=P cx=303 cy=635 r=2.95 />
<circle class=R cx=290.5 cy=668.5 r=2.95 />
<circle class=B cx=228 cy=674 r=2.95 />
<circle class=O cx=310 cy=612 r=2.95 />
<circle class=O cx=215 cy=660.5 r=2.95 />
<circle class=B cx=222.5 cy=646.5 r=2.95 />
<circle class=L cx=206 cy=659 r=2.95 />
<circle class=G cx=223 cy=621.5 r=2.95 />
<circle class=B cx=290 cy=620.5 r=2.95 />
<circle class=N cx=267 cy=602.5 r=2.95 />
<circle class=R cx=319 cy=631.5 r=2.95 />
<circle class=R cx=244 cy=669 r=2.95 />
<circle class=M cx=375 cy=632 r=2.95 />
<circle class=B cx=276 cy=670.5 r=2.95 />
<circle class=O cx=222 cy=691.5 r=2.95 />
<circle class=L cx=265 cy=636.5 r=2.95 />
<circle class=L cx=285 cy=638 r=2.95 />
<circle class=M cx=450 cy=664 r=2.95 />
<circle class=O cx=247.5 cy=649.5 r=2.95 />
<circle class=L cx=293.5 cy=635.5 r=2.95 />
<circle class=B cx=322.5 cy=681 r=2.95 />
<circle class=N cx=420 cy=632.5 r=2.95 />
<circle class=M cx=333 cy=554.5 r=2.95 />
<circle class=N cx=249.5 cy=646.5 r=2.95 />
<circle class=M cx=288 cy=680.5 r=2.95 />
<circle class=O cx=213 cy=676 r=2.95 />
<circle class=N cx=254 cy=632 r=2.95 />
<circle class=N cx=305 cy=634 r=2.95 />
<circle class=P cx=239.5 cy=624.5 r=2.95 />
<circle class=B cx=343.5 cy=634.5 r=2.95 />
<circle class=L cx=337 cy=653 r=2.95 />
<circle class=M cx=388 cy=627 r=2.95 />
<circle class=M cx=333.5 cy=675 r=2.95 />
<circle class=B cx=208 cy=704 r=2.95 />
<circle class=N cx=263 cy=659.5 r=2.95 />
<circle class=G cx=286 cy=633.5 r=2.95 />
<circle class=B cx=214 cy=648 r=2.95 />
<circle class=B cx=200.5 cy=667 r=2.95 />
<circle class=M cx=255 cy=614 r=2.95 />
<circle class=O cx=312 cy=680 r=2.95 />
<circle class=L cx=392.5 cy=639 r=2.95 />
<circle class=P cx=213.5 cy=671 r=2.95 />
<circle class=M cx=279.5 cy=648.5 r=2.95 />
<circle class=B cx=227.5 cy=687.5 r=2.95 />
<circle class=M cx=220 cy=665 r=2.95 />
<circle class=O cx=419 cy=641 r=2.95 />
<circle class=G cx=200.5 cy=659 r=2.95 />
<circle class=N cx=275 cy=705 r=2.95 />
<circle class=M cx=301 cy=628.5 r=2.95 />
<circle class=R cx=217 cy=593.5 r=2.95 />
<circle class=N cx=224.5 cy=633.5 r=2.95 />
<circle class=M cx=315 cy=672 r=2.95 />
<circle class=N cx=247.5 cy=608.5 r=2.95 />
<circle class=L cx=218.5 cy=589 r=2.95 />
<circle class=N cx=306 cy=669.5 r=2.95 />
<circle class=M cx=204 cy=542 r=2.95 />
<circle class=O cx=212 cy=688 r=2.95 />
<circle class=L cx=265 cy=651.5 r=2.95 />
<circle class=P cx=200.5 cy=679 r=2.95 />
<circle class=P cx=228.5 cy=634.5 r=2.95 />
<circle class=R cx=341 cy=609.5 r=2.95 />
<circle class=G cx=364.5 cy=645.5 r=2.95 />
<circle class=R cx=216.5 cy=612 r=2.95 />
<circle class=N cx=352.5 cy=655 r=2.95 />
<circle class=P cx=201 cy=686 r=2.95 />
<circle class=L cx=215 cy=607.5 r=2.95 />
<circle class=M cx=216 cy=676.5 r=2.95 />
<circle class=B cx=287 cy=563 r=2.95 />
<circle class=B cx=225.5 cy=628.5 r=2.95 />
<circle class=B cx=396 cy=650.5 r=2.95 />
<circle class=P cx=216.5 cy=615 r=2.95 />
<circle class=N cx=239 cy=601.5 r=2.95 />
<circle class=N cx=202 cy=642.5 r=2.95 />
<circle class=O cx=306 cy=632.5 r=2.95 />
<circle class=B cx=211 cy=678 r=2.95 />
<circle class=O cx=354 cy=677 r=2.95 />
<circle class=R cx=254.5 cy=622 r=2.95 />
<circle class=M cx=341 cy=654 r=2.95 />
<circle class=G cx=242.5 cy=605 r=2.95 />
<circle class=R cx=207 cy=565.5 r=2.95 />
<circle class=M cx=299 cy=636 r=2.95 />
<circle class=B cx=249.5 cy=662.5 r=2.95 />
<circle class=B cx=275.5 cy=678.5 r=2.95 />
<circle class=B cx=229.5 cy=719.5 r=2.95 />
<circle class=O cx=302 cy=623 r=2.95 />
<circle class=M cx=275 cy=666 r=2.95 />
<circle class=M cx=217 cy=643 r=2.95 />
<circle class=P cx=223.5 cy=613.5 r=2.95 />
<circle class=G cx=456 cy=689 r=2.95 />
<circle class=L cx=281.5 cy=653 r=2.95 />
<circle class=R cx=226.5 cy=698 r=2.95 />
<circle class=B cx=244 cy=654 r=2.95 />
<circle class=L cx=240.5 cy=546.5 r=2.95 />
<circle class=M cx=430 cy=644.5 r=2.95 />
<circle class=M cx=383 cy=634 r=2.95 />
<circle class=N cx=322.5 cy=544 r=2.95 />
<circle class=R cx=279.5 cy=691 r=2.95 />
<circle class=M cx=202 cy=644.5 r=2.95 />
<circle class=M cx=342 cy=657.5 r=2.95 />
<circle class=N cx=205 cy=662 r=2.95 />
<circle class=B cx=217.5 cy=674.5 r=2.95 />
<circle class=R cx=252.5 cy=747.5 r=2.95 />
<circle class=L cx=350 cy=627.5 r=2.95 />
<circle class=M cx=254.5 cy=652.5 r=2.95 />
<circle class=B cx=203.5 cy=646.5 r=2.95 />
<circle class=L cx=213.5 cy=650 r=2.95 />
<circle class=B cx=266.5 cy=625.5 r=2.95 />
<circle class=R cx=275 cy=569 r=2.95 />
<circle class=M cx=328 cy=596 r=2.95 />
<circle class=N cx=316.5 cy=641.5 r=2.95 />
<circle class=O cx=280 cy=611 r=2.95 />
<circle class=G cx=383.5 cy=629 r=2.95 />
<circle class=B cx=220.5 cy=706.5 r=2.95 />
<circle class=R cx=218 cy=678 r=2.95 />
<circle class=M cx=219.5 cy=618 r=2.95 />
<circle class=N cx=224.5 cy=626.5 r=2.95 />
<circle class=L cx=352 cy=676.5 r=2.95 />
<circle class=N cx=367.5 cy=664 r=2.95 />
<circle class=L cx=311 cy=665 r=2.95 />
<circle class=L cx=317.5 cy=651.5 r=2.95 />
<circle class=M cx=320.5 cy=678 r=2.95 />
<circle class=M cx=308.5 cy=630 r=2.95 />
<circle class=L cx=311 cy=671 r=2.95 />
<circle class=N cx=205.5 cy=614.5 r=2.95 />
<circle class=R cx=218 cy=670 r=2.95 />
<circle class=B cx=217.5 cy=668.5 r=2.95 />
<circle class=L cx=254 cy=619 r=2.95 />
<circle class=O cx=220 cy=655.5 r=2.95 />
<circle class=P cx=201 cy=631.5 r=2.95 />
<circle class=P cx=235.5 cy=649.5 r=2.95 />
<circle class=R cx=429.5 cy=627 r=2.95 />
<circle class=M cx=307.5 cy=668 r=2.95 />
<circle class=O cx=232 cy=587.5 r=2.95 />
<circle class=G cx=239.5 cy=628.5 r=2.95 />
<circle class=O cx=204 cy=663 r=2.95 />
<circle class=O cx=227 cy=672 r=2.95 />
<circle class=N cx=344.5 cy=637.5 r=2.95 />
<circle class=M cx=210.5 cy=650 r=2.95 />
<circle class=O cx=215.5 cy=587.5 r=2.95 />
<circle class=M cx=270 cy=574.5 r=2.95 />
<circle class=P cx=273 cy=587 r=2.95 />
<circle class=O cx=203.5 cy=654.5 r=2.95 />
<circle class=R cx=323 cy=688 r=2.95 />
<circle class=L cx=258.5 cy=589.5 r=2.95 />
<circle class=M cx=351.5 cy=619 r=2.95 />
<circle class=O cx=338 cy=648 r=2.95 />
<circle class=M cx=216 cy=672.5 r=2.95 />
<circle class=B cx=427 cy=633.5 r=2.95 />
<circle class=R cx=227 cy=653.5 r=2.95 />
<circle class=N cx=208 cy=676 r=2.95 />
<circle class=P cx=227.5 cy=689.5 r=2.95 />
<circle class=M cx=218.5 cy=576.5 r=2.95 />
<circle class=N cx=220 cy=658.5 r=2.95 />
<circle class=N cx=295.5 cy=615 r=2.95 />
<circle class=P cx=204 cy=647 r=2.95 />
<circle class=B cx=308 cy=607.5 r=2.95 />
<circle class=L cx=248.5 cy=691 r=2.95 />
<circle class=M cx=236.5 cy=594 r=2.95 />
<circle class=O cx=258.5 cy=599.5 r=2.95 />
<circle class=O cx=230.5 cy=657.5 r=2.95 />
<circle class=G cx=221.5 cy=661 r=2.95 />
<circle class=L cx=221 cy=658 r=2.95 />
<circle class=P cx=406.5 cy=613 r=2.95 />
<circle class=B cx=319.5 cy=670.5 r=2.95 />
<circle class=M cx=342.5 cy=620.5 r=2.95 />
<circle class=N cx=205 cy=607.5 r=2.95 />
<circle class=M cx=331.5 cy=629 r=2.95 />
<circle class=M cx=285 cy=608 r=2.95 />
<circle class=B cx=312 cy=637.5 r=2.95 />
<circle class=M cx=264 cy=663.5 r=2.95 />
<circle class=R cx=304 cy=626.5 r=2.95 />
<circle class=B cx=437 cy=655 r=2.95 />
<circle class=O cx=224.5 cy=609.5 r=2.95 />
<circle class=M cx=226.5 cy=680.5 r=2.95 />
<circle class=P cx=229.5 cy=647 r=2.95 />
<circle class=O cx=263.5 cy=564 r=2.95 />
<circle class=R cx=297 cy=646 r=2.95 />
<circle class=M cx=231 cy=567.5 r=2.95 />
<circle class=M cx=239.5 cy=495 r=2.95 />
<circle class=O cx=228 cy=640.5 r=2.95 />
<circle class=L cx=204.5 cy=682 r=2.95 />
<circle class=N cx=221 cy=612 r=2.95 />
<circle class=B cx=200.5 cy=669 r=2.95 />
<circle class=R cx=371 cy=633 r=2.95 />
<circle class=G cx=303.5 cy=616 r=2.95 />
<circle class=R cx=206 cy=512 r=2.95 />
<circle class=B cx=224 cy=669 r=2.95 />
<circle class=L cx=200.5 cy=624.5 r=2.95 />
<circle class=M cx=215.5 cy=624.5 r=2.95 />
<circle class=N cx=232 cy=659 r=2.95 />
<circle class=M cx=464 cy=643.5 r=2.95 />
<circle class=B cx=228 cy=622 r=2.95 />
<circle class=R cx=247.5 cy=681 r=2.95 />
<circle class=G cx=229 cy=643.5 r=2.95 />
<circle class=L cx=300 cy=613.5 r=2.95 />
<circle class=M cx=220 cy=575 r=2.95 />
<circle class=M cx=242 cy=687 r=2.95 />
<circle class=N cx=403.5 cy=654 r=2.95 />
<circle class=M cx=244.5 cy=621 r=2.95 />
<circle class=R cx=223.5 cy=703 r=2.95 />
<circle class=O cx=339.5 cy=664.5 r=2.95 />
<circle class=G cx=222.5 cy=697.5 r=2.95 />
<circle class=R cx=413.5 cy=626.5 r=2.95 />
<circle class=R cx=221 cy=612.5 r=2.95 />
<circle class=L cx=240.5 cy=645.5 r=2.95 />
<circle class=G cx=245 cy=647.5 r=2.95 />
<circle class=B cx=236.5 cy=650 r=2.95 />
<circle class=B cx=235 cy=668.5 r=2.95 />
<circle class=P cx=211.5 cy=629.5 r=2.95 />
<circle class=M cx=307 cy=629 r=2.95 />
<circle class=G cx=292.5 cy=648 r=2.95 />
<circle class=R cx=207 cy=666 r=2.95 />
<circle class=M cx=232.5 cy=670.5 r=2.95 />
<circle class=B cx=217 cy=535 r=2.95 />
<circle class=G cx=303.5 cy=609.5 r=2.95 />
<circle class=R cx=270.5 cy=658.5 r=2.95 />
<circle class=M cx=246.5 cy=630.5 r=2.95 />
<circle class=M cx=207.5 cy=616.5 r=2.95 />
<circle class=P cx=270 cy=606 r=2.95 />
<circle class=M cx=360 cy=627.5 r=2.95 />
<circle class=R cx=313 cy=572.5 r=2.95 />
<circle class=P cx=200 cy=677.5 r=2.95 />
<circle class=B cx=227.5 cy=608.5 r=2.95 />
<circle class=R cx=227 cy=619 r=2.95 />
<circle class=O cx=216 cy=658.5 r=2.95 />
<circle class=R cx=243 cy=636 r=2.95 />
<circle class=M cx=231.5 cy=591 r=2.95 />
<circle class=B cx=222.5 cy=634.5 r=2.95 />
<circle class=B cx=239.5 cy=636.5 r=2.95 />
<circle class=N cx=402 cy=646 r=2.95 />
<circle class=G cx=235 cy=601.5 r=2.95 />
<circle class=B cx=309.5 cy=635 r=2.95 />
<circle class=N cx=269.5 cy=707.5 r=2.95 />
<circle class=M cx=307 cy=710.5 r=2.95 />
<circle class=M cx=207.5 cy=668.5 r=2.95 />
<circle class=O cx=268 cy=595 r=2.95 />
<circle class=L cx=246 cy=680.5 r=2.95 />
<circle class=L cx=227.5 cy=688 r=2.95 />
<circle class=O cx=234 cy=640 r=2.95 />
<circle class=M cx=231.5 cy=640.5 r=2.95 />
<circle class=R cx=321 cy=671.5 r=2.95 />
<circle class=M cx=306.5 cy=690 r=2.95 />
<circle class=R cx=382.5 cy=634.5 r=2.95 />
<circle class=M cx=254.5 cy=565 r=2.95 />
<circle class=M cx=333.5 cy=649 r=2.95 />
<circle class=R cx=227 cy=702 r=2.95 />
<circle class=M cx=218 cy=672 r=2.95 />
<circle class=B cx=306 cy=651.5 r=2.95 />
<circle class=R cx=271.5 cy=642.5 r=2.95 />
<circle class=L cx=236.5 cy=677 r=2.95 />
<circle class=M cx=291 cy=668.5 r=2.95 />
<circle class=G cx=241.5 cy=672 r=2.95 />
<circle class=M cx=224.5 cy=641.5 r=2.95 />
<circle class=M cx=215 cy=631 r=2.95 />
<circle class=G cx=281.5 cy=618.5 r=2.95 />
<circle class=M cx=242 cy=628.5 r=2.95 />
<circle class=N cx=200.5 cy=618.5 r=2.95 />
<circle class=B cx=201 cy=652.5 r=2.95 />
<circle class=O cx=232.5 cy=675 r=2.95 />
<circle class=B cx=203 cy=549 r=2.95 />
<circle class=M cx=347 cy=607 r=2.95 />
<circle class=P cx=283 cy=662 r=2.95 />
<circle class=L cx=334.5 cy=587 r=2.95 />
<circle class=N cx=363 cy=634 r=2.95 />
<circle class=G cx=217 cy=634.5 r=2.95 />
<circle class=M cx=276 cy=657.5 r=2.95 />
<circle class=R cx=201 cy=688 r=2.95 />
<circle class=L cx=275.5 cy=623 r=2.95 />
<circle class=M cx=258.5 cy=672.5 r=2.95 />
<circle class=B cx=300 cy=650 r=2.95 />
<circle class=N cx=266.5 cy=660.5 r=2.95 />
<circle class=N cx=316.5 cy=659.5 r=2.95 />
<circle class=M cx=303 cy=699.5 r=2.95 />
<circle class=R cx=265 cy=611 r=2.95 />
<circle class=L cx=206 cy=635 r=2.95 />
<circle class=B cx=278 cy=574 r=2.95 />
<circle class=B cx=365.5 cy=623.5 r=2.95 />
<circle class=M cx=263 cy=640 r=2.95 />
<circle class=P cx=314.5 cy=653 r=2.95 />
<circle class=G cx=243.5 cy=661 r=2.95 />
<circle class=L cx=353 cy=629 r=2.95 />
<circle class=B cx=235 cy=627 r=2.95 />
<circle class=B cx=326.5 cy=649.5 r=2.95 />
<circle class=L cx=462.5 cy=597.5 r=2.95 />
<circle class=R cx=303.5 cy=665.5 r=2.95 />
<circle class=G cx=227.5 cy=668 r=2.95 />
<circle class=B cx=248 cy=654 r=2.95 />
<circle class=P cx=236 cy=584 r=2.95 />
<circle class=M cx=204 cy=614 r=2.95 />
<circle class=L cx=210 cy=655 r=2.95 />
<circle class=R cx=319.5 cy=630.5 r=2.95 />
<circle class=B cx=213 cy=675 r=2.95 />
<circle class=B cx=232.5 cy=684 r=2.95 />
<circle class=N cx=255.5 cy=616 r=2.95 />
<circle class=L cx=323.5 cy=653.5 r=2.95 />
<circle class=B cx=227 cy=633.5 r=2.95 />
<circle class=M cx=335 cy=691 r=2.95 />
<circle class=B cx=230.5 cy=707.5 r=2.95 />
<circle class=L cx=255 cy=701 r=2.95 />
<circle class=O cx=320.5 cy=660.5 r=2.95 />
<circle class=R cx=249.5 cy=668.5 r=2.95 />
<circle class=N cx=381.5 cy=643 r=2.95 />
<circle class=N cx=202 cy=658 r=2.95 />
<circle class=B cx=247 cy=660 r=2.95 />
<circle class=R cx=202.5 cy=655 r=2.95 />
<circle class=L cx=265.5 cy=638 r=2.95 />
<circle class=O cx=270.5 cy=599 r=2.95 />
<circle class=P cx=280 cy=672.5 r=2.95 />
<circle class=B cx=211 cy=585.5 r=2.95 />
<circle class=R cx=346.5 cy=690 r=2.95 />
<circle class=B cx=323 cy=615.5 r=2.95 />
<circle class=N cx=209.5 cy=643.5 r=2.95 />
<circle class=B cx=383 cy=627 r=2.95 />
<circle class=B cx=292.5 cy=644 r=2.95 />
<circle class=R cx=303 cy=653.5 r=2.95 />
<circle class=P cx=245.5 cy=667.5 r=2.95 />
<circle class=P cx=251.5 cy=673 r=2.95 />
<circle class=O cx=234 cy=648.5 r=2.95 />
<circle class=N cx=312 cy=597.5 r=2.95 />
<circle class=M cx=280.5 cy=618.5 r=2.95 />
<circle class=O cx=214.5 cy=630 r=2.95 />
<circle class=N cx=210 cy=681.5 r=2.95 />
<circle class=O cx=217 cy=632.5 r=2.95 />
<circle class=B cx=222.5 cy=638 r=2.95 />
<circle class=M cx=227.5 cy=672.5 r=2.95 />
<circle class=L cx=318.5 cy=621 r=2.95 />
<circle class=G cx=213 cy=615.5 r=2.95 />
<circle class=M cx=264 cy=697.5 r=2.95 />
<circle class=N cx=238.5 cy=637 r=2.95 />
<circle class=P cx=224 cy=707.5 r=2.95 />
<circle class=O cx=258.5 cy=687 r=2.95 />
<circle class=B cx=295.5 cy=677 r=2.95 />
<circle class=M cx=225.5 cy=659.5 r=2.95 />
<circle class=B cx=263.5 cy=705 r=2.95 />
<circle class=B cx=310.5 cy=599.5 r=2.95 />
<circle class=P cx=273.5 cy=690.5 r=2.95 />
<circle class=N cx=234 cy=651 r=2.95 />
<circle class=M cx=207.5 cy=677 r=2.95 />
<circle class=B cx=256 cy=582.5 r=2.95 />
<circle class=N cx=204 cy=580 r=2.95 />
<circle class=P cx=241 cy=666.5 r=2.95 />
<circle class=M cx=205 cy=717 r=2.95 />
<circle class=O cx=245 cy=684 r=2.95 />
<circle class=N cx=272.5 cy=690 r=2.95 />
<circle class=N cx=206.5 cy=686.5 r=2.95 />
<circle class=O cx=291 cy=638.5 r=2.95 />
<circle class=M cx=228.5 cy=620 r=2.95 />
<circle class=P cx=211 cy=690 r=2.95 />
<circle class=N cx=202.5 cy=685 r=2.95 />
<circle class=B cx=270 cy=625 r=2.95 />
<circle class=O cx=388.5 cy=656 r=2.95 />
<circle class=M cx=251.5 cy=665.5 r=2.95 />
<circle class=R cx=213 cy=721 r=2.95 />
<circle class=R cx=266.5 cy=679.5 r=2.95 />
<circle class=B cx=246.5 cy=650.5 r=2.95 />
<circle class=O cx=259 cy=682 r=2.95 />
<circle class=M cx=238.5 cy=670.5 r=2.95 />
<circle class=N cx=287.5 cy=650.5 r=2.95 />
<circle class=M cx=283 cy=651 r=2.95 />
<circle class=L cx=205 cy=675.5 r=2.95 />
<circle class=P cx=277 cy=688 r=2.95 />
<circle class=M cx=214 cy=617 r=2.95 />
<circle class=N cx=250.5 cy=651.5 r=2.95 />
<circle class=O cx=423 cy=682 r=2.95 />
<circle class=M cx=285 cy=671.5 r=2.95 />
<circle class=B cx=211 cy=611 r=2.95 />
<circle class=N cx=288 cy=684 r=2.95 />
<circle class=O cx=240.5 cy=653 r=2.95 />
<circle class=B cx=315.5 cy=704.5 r=2.95 />
<circle class=N cx=291.5 cy=673 r=2.95 />
<circle class=M cx=285.5 cy=630.5 r=2.95 />
<circle class=B cx=212 cy=645.5 r=2.95 />
<circle class=P cx=261 cy=615.5 r=2.95 />
<circle class=L cx=216.5 cy=650 r=2.95 />
<circle class=N cx=259.5 cy=654 r=2.95 />
<circle class=N cx=250.5 cy=648 r=2.95 />
<circle class=B cx=208 cy=634.5 r=2.95 />
<circle class=O cx=276.5 cy=674.5 r=2.95 />
<circle class=R cx=232.5 cy=584.5 r=2.95 />
<circle class=O cx=223 cy=696 r=2.95 />
<circle class=M cx=258 cy=702 r=2.95 />
<circle class=P cx=356 cy=647.5 r=2.95 />
<circle class=P cx=208.5 cy=727.5 r=2.95 />
<circle class=M cx=347.5 cy=633 r=2.95 />
<circle class=M cx=202.5 cy=692 r=2.95 />
<circle class=B cx=212 cy=650.5 r=2.95 />
<circle class=M cx=237.5 cy=660 r=2.95 />
<circle class=M cx=343.5 cy=625.5 r=2.95 />
<circle class=L cx=429 cy=672.5 r=2.95 />
<circle class=O cx=204.5 cy=599.5 r=2.95 />
<circle class=N cx=333 cy=683 r=2.95 />
<circle class=P cx=228 cy=620.5 r=2.95 />
<circle class=B cx=469.5 cy=657.5 r=2.95 />
<circle class=L cx=252.5 cy=671 r=2.95 />
<circle class=M cx=221.5 cy=591.5 r=2.95 />
<circle class=M cx=321.5 cy=689 r=2.95 />
<circle class=N cx=302 cy=649 r=2.95 />
<circle class=O cx=255.5 cy=558 r=2.95 />
<circle class=R cx=238.5 cy=616.5 r=2.95 />
<circle class=B cx=457.5 cy=641.5 r=2.95 />
<circle class=B cx=269.5 cy=701.5 r=2.95 />
<circle class=B cx=294 cy=544.5 r=2.95 />
<circle class=B cx=347 cy=640.5 r=2.95 />
<circle class=B cx=302 cy=658.5 r=2.95 />
<circle class=P cx=345.5 cy=662.5 r=2.95 />
<circle class=O cx=227 cy=643.5 r=2.95 />
<circle class=B cx=202 cy=540 r=2.95 />
<circle class=L cx=300.5 cy=613.5 r=2.95 />
<circle class=B cx=266.5 cy=682.5 r=2.95 />
<circle class=P cx=251 cy=640 r=2.95 />
<circle class=N cx=205.5 cy=685 r=2.95 />
<circle class=N cx=270 cy=588.5 r=2.95 />
<circle class=M cx=209.5 cy=705 r=2.95 />
<circle class=B cx=227.5 cy=574 r=2.95 />
<circle class=B cx=265 cy=641.5 r=2.95 />
<circle class=L cx=219.5 cy=682.5 r=2.95 />
<circle class=R cx=276 cy=589 r=2.95 />
<circle class=N cx=222.5 cy=648 r=2.95 />
<circle class=L cx=240.5 cy=662 r=2.95 />
<circle class=R cx=226.5 cy=658.5 r=2.95 />
<circle class=M cx=210.5 cy=579 r=2.95 />
<circle class=M cx=262.5 cy=629 r=2.95 />
<circle class=B cx=213 cy=625 r=2.95 />
<circle class=L cx=221 cy=659.5 r=2.95 />
<circle class=R cx=204 cy=648 r=2.95 />
<circle class=O cx=265.5 cy=709.5 r=2.95 />
<circle class=L cx=203 cy=613.5 r=2.95 />
<circle class=N cx=254.5 cy=641.5 r=2.95 />
<circle class=B cx=224.5 cy=612 r=2.95 />
<circle class=N cx=214.5 cy=639 r=2.95 />
<circle class=B cx=201.5 cy=653 r=2.95 />
<circle class=B cx=301.5 cy=632.5 r=2.95 />
<circle class=N cx=293 cy=634.5 r=2.95 />
<circle class=B cx=290.5 cy=677.5 r=2.95 />
<circle class=B cx=265.5 cy=657.5 r=2.95 />
<circle class=M cx=278.5 cy=685.5 r=2.95 />
<circle class=B cx=262 cy=646 r=2.95 />
<circle class=O cx=217.5 cy=659 r=2.95 />
<circle class=R cx=231 cy=704.5 r=2.95 />
<circle class=P cx=213 cy=645 r=2.95 />
<circle class=L cx=276.5 cy=631.5 r=2.95 />
<circle class=M cx=254 cy=569.5 r=2.95 />
<circle class=L cx=256 cy=626 r=2.95 />
<circle class=M cx=222 cy=630 r=2.95 />
<circle class=M cx=447 cy=619 r=2.95 />
<circle class=L cx=206.5 cy=628 r=2.95 />
<circle class=M cx=327.5 cy=666 r=2.95 />
<circle class=L cx=204.5 cy=640 r=2.95 />
<circle class=P cx=217 cy=634 r=2.95 />
<circle class=R cx=286.5 cy=696 r=2.95 />
<circle class=N cx=284 cy=612.5 r=2.95 />
<circle class=N cx=200.5 cy=647.5 r=2.95 />
<circle class=L cx=412 cy=651.5 r=2.95 />
<circle class=O cx=258.5 cy=647 r=2.95 />
<circle class=R cx=339.5 cy=619.5 r=2.95 />
<circle class=L cx=267.5 cy=648 r=2.95 />
<circle class=R cx=237.5 cy=561 r=2.95 />
<circle class=L cx=251.5 cy=654.5 r=2.95 />
<circle class=L cx=249.5 cy=670.5 r=2.95 />
<circle class=L cx=245.5 cy=647 r=2.95 />
<circle class=L cx=459.5 cy=662.5 r=2.95 />
<circle class=N cx=252 cy=646 r=2.95 />
<circle class=B cx=331 cy=609.5 r=2.95 />
<circle class=N cx=234.5 cy=654.5 r=2.95 />
<circle class=L cx=247.5 cy=698 r=2.95 />
<circle class=O cx=280.5 cy=646.5 r=2.95 />
<circle class=P cx=345 cy=674.5 r=2.95 />
<circle class=P cx=204.5 cy=677.5 r=2.95 />
<circle class=P cx=238 cy=604.5 r=2.95 />
<circle class=G cx=221.5 cy=596.5 r=2.95 />
<circle class=M cx=239.5 cy=684 r=2.95 />
<circle class=B cx=234 cy=693.5 r=2.95 />
<circle class=P cx=226 cy=663 r=2.95 />
<circle class=G cx=232.5 cy=653.5 r=2.95 />
<circle class=L cx=277 cy=646 r=2.95 />
<circle class=L cx=290.5 cy=610 r=2.95 />
<circle class=P cx=218 cy=650.5 r=2.95 />
<circle class=M cx=231.5 cy=623.5 r=2.95 />
<circle class=O cx=250 cy=587 r=2.95 />
<circle class=B cx=327.5 cy=626.5 r=2.95 />
<circle class=N cx=217 cy=648.5 r=2.95 />
<circle class=B cx=235.5 cy=623.5 r=2.95 />
<circle class=M cx=220.5 cy=712.5 r=2.95 />
<circle class=G cx=342 cy=673 r=2.95 />
<circle class=N cx=371.5 cy=678.5 r=2.95 />
<circle class=N cx=246 cy=618.5 r=2.95 />
<circle class=M cx=297 cy=663 r=2.95 />
<circle class=P cx=227.5 cy=617 r=2.95 />
<circle class=R cx=224 cy=538 r=2.95 />
<circle class=M cx=273.5 cy=653 r=2.95 />
<circle class=N cx=219 cy=582 r=2.95 />
<circle class=P cx=256 cy=608.5 r=2.95 />
<circle class=N cx=226.5 cy=603 r=2.95 />
<circle class=L cx=202.5 cy=678.5 r=2.95 />
<circle class=N cx=249.5 cy=613 r=2.95 />
<circle class=O cx=248 cy=649.5 r=2.95 />
<circle class=O cx=378.5 cy=647 r=2.95 />
<circle class=B cx=266.5 cy=651 r=2.95 />
<circle class=O cx=231 cy=686 r=2.95 />
<circle class=M cx=231.5 cy=583 r=2.95 />
<circle class=M cx=281 cy=625.5 r=2.95 />
<circle class=N cx=238.5 cy=599.5 r=2.95 />
<circle class=B cx=293 cy=665 r=2.95 />
<circle class=P cx=228.5 cy=627 r=2.95 />
<circle class=O cx=221 cy=684.5 r=2.95 />
<circle class=O cx=217 cy=527.5 r=2.95 />
<circle class=N cx=212 cy=680.5 r=2.95 />
<circle class=N cx=335 cy=650 r=2.95 />
<circle class=N cx=216 cy=609 r=2.95 />
<circle class=N cx=237.5 cy=565.5 r=2.95 />
<circle class=P cx=286.5 cy=581.5 r=2.95 />
<circle class=N cx=282 cy=643 r=2.95 />
<circle class=B cx=391 cy=672.5 r=2.95 />
<circle class=M cx=273.5 cy=695 r=2.95 />
<circle class=L cx=248 cy=655 r=2.95 />
<circle class=N cx=205.5 cy=685.5 r=2.95 />
<circle class=L cx=211 cy=601 r=2.95 />
<circle class=M cx=212.5 cy=650 r=2.95 />
<circle class=M cx=265 cy=632 r=2.95 />
<circle class=B cx=342.5 cy=656 r=2.95 />
<circle class=M cx=203.5 cy=585 r=2.95 />
<circle class=M cx=368 cy=643.5 r=2.95 />
<circle class=M cx=208.5 cy=594 r=2.95 />
<circle class=R cx=220.5 cy=612 r=2.95 />
<circle class=G cx=266.5 cy=663.5 r=2.95 />
<circle class=M cx=318 cy=660 r=2.95 />
<circle class=M cx=244 cy=619 r=2.95 />
<circle class=N cx=315.5 cy=654.5 r=2.95 />
<circle class=B cx=365 cy=687 r=2.95 />
<circle class=R cx=203.5 cy=617 r=2.95 />
<circle class=P cx=334.5 cy=659 r=2.95 />
<circle class=M cx=281.5 cy=574 r=2.95 />
<circle class=L cx=243 cy=623.5 r=2.95 />
<circle class=N cx=202.5 cy=668 r=2.95 />
<circle class=B cx=213.5 cy=633.5 r=2.95 />
<circle class=O cx=210.5 cy=649.5 r=2.95 />
<circle class=M cx=202 cy=677 r=2.95 />
<circle class=M cx=280.5 cy=648.5 r=2.95 />
<circle class=N cx=206.5 cy=696.5 r=2.95 />
<circle class=M cx=200.5 cy=737 r=2.95 />
<circle class=L cx=218 cy=657 r=2.95 />
<circle class=B cx=206 cy=640 r=2.95 />
<circle class=M cx=223 cy=664.5 r=2.95 />
<circle class=G cx=323 cy=623 r=2.95 />
<circle class=M cx=303.5 cy=681 r=2.95 />
<circle class=L cx=257 cy=660 r=2.95 />
<circle class=M cx=240.5 cy=672 r=2.95 />
<circle class=M cx=261.5 cy=656.5 r=2.95 />
<circle class=O cx=323 cy=639 r=2.95 />
<circle class=O cx=214.5 cy=616.5 r=2.95 />
<circle class=N cx=293.5 cy=708 r=2.95 />
<circle class=L cx=350.5 cy=663 r=2.95 />
<circle class=O cx=245 cy=613.5 r=2.95 />
<circle class=B cx=334.5 cy=676 r=2.95 />
<circle class=R cx=242 cy=661 r=2.95 />
<circle class=R cx=202 cy=617.5 r=2.95 />
<circle class=L cx=370.5 cy=644 r=2.95 />
<circle class=R cx=278.5 cy=632.5 r=2.95 />
<circle class=M cx=225 cy=633 r=2.95 />
<circle class=N cx=247.5 cy=703 r=2.95 />
<circle class=M cx=219 cy=668.5 r=2.95 />
<circle class=B cx=252 cy=605 r=2.95 />
<circle class=L cx=363 cy=629.5 r=2.95 />
<circle class=B cx=258 cy=664 r=2.95 />
<circle class=M cx=225.5 cy=667.5 r=2.95 />
<circle class=M cx=243 cy=638 r=2.95 />
<circle class=N cx=394.5 cy=641 r=2.95 />
<circle class=N cx=249 cy=606 r=2.95 />
<circle class=L cx=314 cy=677 r=2.95 />
<circle class=M cx=252 cy=626 r=2.95 />
<circle class=G cx=242 cy=589 r=2.95 />
<circle class=M cx=212.5 cy=648 r=2.95 />
<circle class=B cx=202 cy=628 r=2.95 />
<circle class=L cx=216.5 cy=653 r=2.95 />
<circle class=B cx=289 cy=680.5 r=2.95 />
<circle class=M cx=467 cy=659 r=2.95 />
<circle class=M cx=267 cy=663.5 r=2.95 />
<circle class=M cx=261 cy=670.5 r=2.95 />
<circle class=P cx=267.5 cy=662 r=2.95 />
<circle class=M cx=220 cy=707.5 r=2.95 />
<circle class=P cx=202.5 cy=670 r=2.95 />
<circle class=B cx=203.5 cy=658 r=2.95 />
<circle class=G cx=238.5 cy=665.5 r=2.95 />
<circle class=P cx=206 cy=585 r=2.95 />
<circle class=P cx=216.5 cy=631 r=2.95 />
<circle class=L cx=248 cy=695 r=2.95 />
<circle class=R cx=244 cy=610 r=2.95 />
<circle class=M cx=234 cy=680 r=2.95 />
<circle class=O cx=242 cy=636.5 r=2.95 />
<circle class=L cx=340 cy=620.5 r=2.95 />
<circle class=B cx=324 cy=613.5 r=2.95 />
<circle class=B cx=258.5 cy=639 r=2.95 />
<circle class=L cx=255.5 cy=636.5 r=2.95 />
<circle class=B cx=357 cy=672 r=2.95 />
<circle class=R cx=237.5 cy=677 r=2.95 />
<circle class=N cx=309.5 cy=681.5 r=2.95 />
<circle class=B cx=279 cy=667.5 r=2.95 />
<circle class=O cx=212 cy=628 r=2.95 />
<circle class=G cx=389.5 cy=675 r=2.95 />
<circle class=P cx=288.5 cy=644 r=2.95 />
<circle class=O cx=220 cy=625.5 r=2.95 />
<circle class=B cx=271 cy=648 r=2.95 />
<circle class=N cx=277.5 cy=626 r=2.95 />
<circle class=O cx=204 cy=668 r=2.95 />
<circle class=R cx=339 cy=640.5 r=2.95 />
<circle class=G cx=336.5 cy=691 r=2.95 />
<circle class=L cx=233.5 cy=623 r=2.95 />
<circle class=R cx=226 cy=663.5 r=2.95 />
<circle class=B cx=234 cy=587.5 r=2.95 />
<circle class=B cx=210 cy=661 r=2.95 />
<circle class=R cx=286.5 cy=679 r=2.95 />
<circle class=B cx=249 cy=624.5 r=2.95 />
<circle class=L cx=221 cy=606 r=2.95 />
<circle class=L cx=250.5 cy=612.5 r=2.95 />
<circle class=O cx=312.5 cy=638.5 r=2.95 />
<circle class=O cx=286 cy=590.5 r=2.95 />
<circle class=P cx=264.5 cy=643 r=2.95 />
<circle class=M cx=242.5 cy=687.5 r=2.95 />
<circle class=O cx=218 cy=654 r=2.95 />
<circle class=B cx=215 cy=608 r=2.95 />
<circle class=P cx=357.5 cy=612.5 r=2.95 />
<circle class=N cx=212 cy=697.5 r=2.95 />
<circle class=O cx=232 cy=615.5 r=2.95 />
<circle class=N cx=222.5 cy=601.5 r=2.95 />
<circle class=L cx=204 cy=637 r=2.95 />
<circle class=L cx=303 cy=669 r=2.95 />
<circle class=O cx=226 cy=596 r=2.95 />
<circle class=L cx=430 cy=659.5 r=2.95 />
<circle class=B cx=229 cy=717 r=2.95 />
<circle class=L cx=223.5 cy=600.5 r=2.95 />
<circle class=L cx=269 cy=677.5 r=2.95 />
<circle class=O cx=357.5 cy=647 r=2.95 />
<circle class=M cx=256 cy=699 r=2.95 />
<circle class=B cx=228.5 cy=653 r=2.95 />
<circle class=N cx=229 cy=591.5 r=2.95 />
<circle class=N cx=354 cy=646.5 r=2.95 />
<circle class=B cx=272.5 cy=598.5 r=2.95 />
<circle class=L cx=200 cy=681.5 r=2.95 />
<circle class=N cx=280 cy=628.5 r=2.95 />
<circle class=B cx=207.5 cy=678 r=2.95 />
<circle class=P cx=413.5 cy=684.5 r=2.95 />
<circle class=O cx=245.5 cy=615 r=2.95 />
<circle class=P cx=426 cy=634.5 r=2.95 />
<circle class=B cx=210.5 cy=632.5 r=2.95 />
<circle class=N cx=297 cy=661.5 r=2.95 />
<circle class=R cx=218 cy=675 r=2.95 />
<circle class=M cx=239 cy=653.5 r=2.95 />
<circle class=N cx=201 cy=668 r=2.95 />
<circle class=R cx=377 cy=647.5 r=2.95 />
<circle class=N cx=377.5 cy=644 r=2.95 />
<circle class=M cx=271.5 cy=671 r=2.95 />
<circle class=N cx=357.5 cy=627 r=2.95 />
<circle class=L cx=221 cy=595.5 r=2.95 />
<circle class=N cx=418.5 cy=645 r=2.95 />
<circle class=L cx=207 cy=605 r=2.95 />
<circle class=O cx=211.5 cy=646 r=2.95 />
<circle class=B cx=325.5 cy=737.5 r=2.95 />
<circle class=O cx=221.5 cy=662 r=2.95 />
<circle class=R cx=261.5 cy=677 r=2.95 />
<circle class=B cx=212 cy=617.5 r=2.95 />
<circle class=M cx=223 cy=669.5 r=2.95 />
<circle class=B cx=251 cy=628 r=2.95 />
<circle class=L cx=218 cy=593.5 r=2.95 />
<circle class=M cx=270 cy=678 r=2.95 />
<circle class=O cx=213 cy=567 r=2.95 />
<circle class=M cx=260.5 cy=645 r=2.95 />
<circle class=L cx=204.5 cy=638.5 r=2.95 />
<circle class=P cx=224 cy=566 r=2.95 />
<circle class=B cx=370.5 cy=605 r=2.95 />
<circle class=B cx=259 cy=639.5 r=2.95 />
<circle class=M cx=300.5 cy=713 r=2.95 />
<circle class=O cx=297 cy=669.5 r=2.95 />
<rect x="195.3" y="528" width="5.4" height="290" rx="2.7" fill="#0b3f80" fill-opacity="0.9"/>
<circle class=N cx=894 cy=686 r=2.95 />
<circle class=M cx=812 cy=674.5 r=2.95 />
<circle class=P cx=737 cy=638.5 r=2.95 />
<circle class=B cx=689.5 cy=652 r=2.95 />
<circle class=P cx=499.5 cy=634.5 r=2.95 />
<circle class=G cx=732 cy=656 r=2.95 />
<circle class=M cx=849.5 cy=657.5 r=2.95 />
<circle class=O cx=847 cy=643 r=2.95 />
<circle class=P cx=463 cy=672 r=2.95 />
<circle class=R cx=541 cy=667.5 r=2.95 />
<circle class=P cx=878.5 cy=661.5 r=2.95 />
<circle class=M cx=643 cy=629 r=2.95 />
<circle class=L cx=827.5 cy=653 r=2.95 />
<circle class=N cx=518 cy=651.5 r=2.95 />
<circle class=N cx=499 cy=670 r=2.95 />
<circle class=M cx=835.5 cy=625.5 r=2.95 />
<circle class=B cx=867.5 cy=672 r=2.95 />
<circle class=M cx=884 cy=635 r=2.95 />
<circle class=L cx=806.5 cy=622.5 r=2.95 />
<circle class=L cx=729.5 cy=668.5 r=2.95 />
<circle class=N cx=650 cy=620.5 r=2.95 />
<circle class=B cx=560 cy=640.5 r=2.95 />
<circle class=N cx=758.5 cy=659.5 r=2.95 />
<circle class=L cx=764.5 cy=672 r=2.95 />
<circle class=L cx=790 cy=675.5 r=2.95 />
<circle class=M cx=657 cy=665.5 r=2.95 />
<circle class=N cx=802.5 cy=622 r=2.95 />
<circle class=M cx=887 cy=643.5 r=2.95 />
<circle class=R cx=646.5 cy=665 r=2.95 />
<circle class=B cx=572.5 cy=636 r=2.95 />
<circle class=L cx=805.5 cy=658 r=2.95 />
<circle class=R cx=543 cy=646 r=2.95 />
<circle class=B cx=586 cy=634 r=2.95 />
<circle class=N cx=801.5 cy=670.5 r=2.95 />
<circle class=M cx=795.5 cy=633 r=2.95 />
<circle class=G cx=868 cy=642 r=2.95 />
<circle class=M cx=747.5 cy=642 r=2.95 />
<circle class=O cx=639 cy=684.5 r=2.95 />
<circle class=R cx=638.5 cy=650 r=2.95 />
<circle class=B cx=831.5 cy=643.5 r=2.95 />
<circle class=P cx=660 cy=656 r=2.95 />
<circle class=B cx=544.5 cy=683.5 r=2.95 />
<circle class=P cx=527 cy=636 r=2.95 />
<circle class=G cx=859 cy=599 r=2.95 />
<circle class=R cx=464 cy=640 r=2.95 />
<circle class=G cx=781.5 cy=616.5 r=2.95 />
<circle class=G cx=741.5 cy=651 r=2.95 />
<circle class=L cx=739 cy=662.5 r=2.95 />
<circle class=N cx=538 cy=644 r=2.95 />
<circle class=O cx=542.5 cy=650.5 r=2.95 />
<circle class=B cx=751 cy=648 r=2.95 />
<circle class=O cx=502.5 cy=619 r=2.95 />
<circle class=B cx=655.5 cy=667 r=2.95 />
<circle class=L cx=668.5 cy=639.5 r=2.95 />
<circle class=L cx=609 cy=644 r=2.95 />
<circle class=O cx=534.5 cy=663 r=2.95 />
<circle class=L cx=804.5 cy=628 r=2.95 />
<circle class=B cx=621 cy=618.5 r=2.95 />
<circle class=L cx=887 cy=667.5 r=2.95 />
<circle class=B cx=553.5 cy=645 r=2.95 />
<circle class=M cx=626.5 cy=630.5 r=2.95 />
<circle class=L cx=735.5 cy=655 r=2.95 />
<circle class=L cx=492.5 cy=661.5 r=2.95 />
<circle class=P cx=488 cy=636.5 r=2.95 />
<circle class=M cx=547.5 cy=652.5 r=2.95 />
<circle class=B cx=573.5 cy=663 r=2.95 />
<circle class=M cx=844 cy=657.5 r=2.95 />
<circle class=L cx=608 cy=640 r=2.95 />
<circle class=B cx=596 cy=643 r=2.95 />
<circle class=P cx=775 cy=658 r=2.95 />
<circle class=R cx=833 cy=684.5 r=2.95 />
<circle class=R cx=467.5 cy=644 r=2.95 />
<circle class=N cx=455.5 cy=655 r=2.95 />
<circle class=R cx=751 cy=657 r=2.95 />
<circle class=O cx=874.5 cy=683.5 r=2.95 />
<circle class=G cx=604.5 cy=640 r=2.95 />
<circle class=M cx=714 cy=659.5 r=2.95 />
<circle class=B cx=803 cy=655.5 r=2.95 />
<circle class=M cx=518.5 cy=599.5 r=2.95 />
<circle class=L cx=450.5 cy=652.5 r=2.95 />
<circle class=M cx=691 cy=638 r=2.95 />
<circle class=P cx=498 cy=666 r=2.95 />
<circle class=G cx=595.5 cy=663.5 r=2.95 />
<circle class=P cx=473 cy=653 r=2.95 />
<circle class=P cx=720.5 cy=635.5 r=2.95 />
<circle class=R cx=624 cy=647.5 r=2.95 />
<circle class=N cx=677.5 cy=641 r=2.95 />
<circle class=M cx=614.5 cy=639.5 r=2.95 />
<circle class=M cx=519.5 cy=615 r=2.95 />
<circle class=L cx=643.5 cy=620.5 r=2.95 />
<circle class=B cx=478 cy=636 r=2.95 />
<circle class=N cx=611.5 cy=627 r=2.95 />
<circle class=G cx=461 cy=608 r=2.95 />
<circle class=P cx=652.5 cy=645.5 r=2.95 />
<circle class=N cx=643.5 cy=647 r=2.95 />
<circle class=O cx=836 cy=667.5 r=2.95 />
<circle class=L cx=672.5 cy=665 r=2.95 />
<circle class=B cx=545.5 cy=618.5 r=2.95 />
<circle class=R cx=596 cy=660 r=2.95 />
<circle class=M cx=766 cy=667 r=2.95 />
<circle class=M cx=836 cy=658 r=2.95 />
<circle class=B cx=801.5 cy=653.5 r=2.95 />
<circle class=L cx=579 cy=635.5 r=2.95 />
<circle class=R cx=816 cy=628 r=2.95 />
<circle class=L cx=477 cy=662.5 r=2.95 />
<circle class=R cx=459.5 cy=628 r=2.95 />
<circle class=G cx=771.5 cy=602.5 r=2.95 />
<circle class=M cx=760 cy=642.5 r=2.95 />
<circle class=P cx=639.5 cy=601 r=2.95 />
<circle class=B cx=592 cy=644 r=2.95 />
<circle class=N cx=973 cy=632.5 r=2.95 />
<circle class=P cx=1235.5 cy=656.5 r=2.95 />
<circle class=O cx=1059 cy=631 r=2.95 />
<circle class=O cx=1021 cy=655.5 r=2.95 />
<circle class=M cx=1057.5 cy=605 r=2.95 />
<circle class=N cx=985.5 cy=656.5 r=2.95 />
<circle class=B cx=957.5 cy=619 r=2.95 />
<circle class=R cx=1062 cy=651 r=2.95 />
<circle class=R cx=1178.5 cy=662 r=2.95 />
<circle class=P cx=1178 cy=616 r=2.95 />
<circle class=R cx=979 cy=622.5 r=2.95 />
<circle class=L cx=921.5 cy=655.5 r=2.95 />
<circle class=P cx=959.5 cy=622 r=2.95 />
<circle class=B cx=1103 cy=637.5 r=2.95 />
<circle class=B cx=965 cy=614.5 r=2.95 />
<circle class=R cx=1148.5 cy=643 r=2.95 />
<circle class=O cx=1174 cy=667.5 r=2.95 />
<circle class=M cx=1181 cy=647.5 r=2.95 />
<circle class=M cx=986.5 cy=658.5 r=2.95 />
<circle class=N cx=1213.5 cy=669 r=2.95 />
<circle class=R cx=918.5 cy=643 r=2.95 />
<circle class=L cx=914 cy=679 r=2.95 />
<circle class=M cx=1090.5 cy=649 r=2.95 />
<circle class=R cx=938.5 cy=669 r=2.95 />
<circle class=M cx=1028 cy=638 r=2.95 />
<circle class=M cx=1030 cy=648.5 r=2.95 />
<circle class=N cx=1173 cy=631.5 r=2.95 />
<circle class=N cx=984.5 cy=647.5 r=2.95 />
<circle class=O cx=1168.5 cy=666.5 r=2.95 />
<circle class=L cx=931.5 cy=661.5 r=2.95 />
<circle class=N cx=991 cy=662 r=2.95 />
<circle class=B cx=1038 cy=640.5 r=2.95 />
<circle class=O cx=1298 cy=649 r=2.95 />
<circle class=M cx=1333 cy=650 r=2.95 />
<circle class=B cx=1050 cy=612 r=2.95 />
<circle class=M cx=429.5 cy=301.5 r=2.95 />
<circle class=N cx=462 cy=496 r=2.95 />
<circle class=L cx=356 cy=525 r=2.95 />
<circle class=P cx=385 cy=515 r=2.95 />
<circle class=O cx=540 cy=571 r=2.95 />
<circle class=N cx=465.5 cy=722.5 r=2.95 />
<circle class=N cx=418 cy=719.5 r=2.95 />
<circle class=R cx=400.5 cy=719.5 r=2.95 />
<circle class=R cx=367.5 cy=719.5 r=2.95 />
<circle class=R cx=344.5 cy=719.5 r=2.95 />
<circle class=N cx=201 cy=699 r=2.95 />
<circle class=N cx=204 cy=698 r=2.95 />
<circle class=B cx=207 cy=699 r=2.95 />
<circle class=N cx=209.5 cy=698.5 r=2.95 />
<circle class=N cx=212.5 cy=699.5 r=2.95 />
<circle class=B cx=215.5 cy=699.5 r=2.95 />
<circle class=N cx=218.5 cy=698.5 r=2.95 />
<circle class=N cx=221.5 cy=699 r=2.95 />
<circle class=B cx=224.5 cy=700.5 r=2.95 />
<circle class=N cx=227 cy=699 r=2.95 />
<circle class=N cx=230 cy=699.5 r=2.95 />
<circle class=B cx=233 cy=699 r=2.95 />
<circle class=O cx=204 cy=720.5 r=2.95 />
<circle class=R cx=208 cy=719.5 r=2.95 />
<circle class=O cx=212 cy=720.5 r=2.95 />
<circle class=P cx=216 cy=720.5 r=2.95 />
<circle class=O cx=219.5 cy=721 r=2.95 />
<circle class=R cx=223.5 cy=722 r=2.95 />
<circle class=O cx=227.5 cy=720.5 r=2.95 />
<circle class=P cx=231.5 cy=722 r=2.95 />
<circle class=O cx=235.5 cy=719.5 r=2.95 />
<circle class=R cx=239.5 cy=720.5 r=2.95 />
<circle class=O cx=243.5 cy=722 r=2.95 />
<circle class=P cx=247.5 cy=721 r=2.95 />
<circle class=O cx=251 cy=721.5 r=2.95 />
<circle class=R cx=255 cy=721.5 r=2.95 />
<circle class=O cx=259 cy=720.5 r=2.95 />
<circle class=P cx=263 cy=721.5 r=2.95 />
<circle class=O cx=276 cy=721.5 r=2.95 />
<circle class=R cx=285 cy=720.5 r=2.95 />
<circle class=R cx=303 cy=721 r=2.95 />
<circle class=R cx=315 cy=720.5 r=2.95 />
<circle class=R cx=345 cy=723.5 r=2.95 />
<circle class=R cx=367 cy=720.5 r=2.95 />
<circle class=B cx=202 cy=730 r=2.95 />
<circle class=M cx=206 cy=730 r=2.95 />
<circle class=N cx=210 cy=730.5 r=2.95 />
<circle class=B cx=214 cy=730 r=2.95 />
<circle class=M cx=217.5 cy=730 r=2.95 />
<circle class=N cx=221.5 cy=728.5 r=2.95 />
<circle class=B cx=225.5 cy=730 r=2.95 />
<circle class=M cx=229.5 cy=730 r=2.95 />
<circle class=N cx=233.5 cy=731 r=2.95 />
<circle class=B cx=237.5 cy=730 r=2.95 />
<circle class=M cx=241 cy=730 r=2.95 />
<circle class=N cx=245 cy=729 r=2.95 />
<circle class=B cx=249 cy=729.5 r=2.95 />
<circle class=M cx=253 cy=730.5 r=2.95 />
<circle class=B cx=263.5 cy=731.5 r=2.95 />
<circle class=B cx=271.5 cy=729 r=2.95 />
<circle class=B cx=287.5 cy=729.5 r=2.95 />
<circle class=B cx=297.5 cy=728.5 r=2.95 />
<circle class=M cx=324 cy=730.5 r=2.95 />
<circle class=M cx=344.5 cy=731.5 r=2.95 />
<circle class=M cx=373.5 cy=730.5 r=2.95 />
<circle class=P cx=227 cy=741 r=2.95 />
<circle class=P cx=237 cy=743 r=2.95 />
<circle class=G cx=247 cy=741.5 r=2.95 />
<circle class=P cx=257.5 cy=742 r=2.95 />
<circle class=P cx=267.5 cy=741 r=2.95 />
<circle class=G cx=277.5 cy=742 r=2.95 />
<circle class=P cx=287.5 cy=742.5 r=2.95 />
<circle class=P cx=297.5 cy=741 r=2.95 />
<circle class=G cx=307.5 cy=741 r=2.95 />
<circle class=P cx=318 cy=741.5 r=2.95 />
<circle class=P cx=328 cy=742 r=2.95 />
<circle class=G cx=338 cy=742 r=2.95 />
<circle class=L cx=204 cy=748 r=2.95 />
<circle class=L cx=208 cy=749 r=2.95 />
<circle class=L cx=212 cy=750 r=2.95 />
<circle class=L cx=216.5 cy=750 r=2.95 />
<circle class=L cx=220.5 cy=747.5 r=2.95 />
<circle class=L cx=224.5 cy=749 r=2.95 />
<circle class=L cx=229 cy=749 r=2.95 />
<circle class=L cx=233 cy=749 r=2.95 />
<circle class=L cx=237 cy=748 r=2.95 />
<circle class=L cx=245 cy=749.5 r=2.95 />
<circle class=L cx=249 cy=748 r=2.95 />
<circle class=L cx=262 cy=748.5 r=2.95 />
<circle class=L cx=268 cy=749.5 r=2.95 />
<circle class=L cx=287 cy=750 r=2.95 />
<circle class=L cx=301 cy=748.5 r=2.95 />
<circle class=L cx=322 cy=749 r=2.95 />
<circle class=N cx=207 cy=770.5 r=2.95 />
<circle class=N cx=210 cy=770 r=2.95 />
<circle class=N cx=213 cy=770 r=2.95 />
<circle class=N cx=216 cy=768.5 r=2.95 />
<circle class=N cx=219 cy=769 r=2.95 />
<circle class=N cx=222 cy=768 r=2.95 />
<circle class=N cx=225 cy=769 r=2.95 />
<circle class=N cx=233.5 cy=766.5 r=2.95 />
<circle class=N cx=249 cy=765 r=2.95 />
<circle class=N cx=266.5 cy=762 r=2.95 />
<circle class=N cx=278 cy=761 r=2.95 />
<circle class=N cx=295 cy=759.5 r=2.95 />
<circle class=N cx=207 cy=766 r=2.95 />
<circle class=N cx=207 cy=772 r=2.95 />
</g>
<line x1="125.1" x2="1734.3" y1="629.6" y2="629.6" stroke="#5a1424" stroke-width="2.3"/>
<line x1="125.1" x2="1734.3" y1="652.2" y2="652.2" stroke="#5a1424" stroke-width="2.3"/>
<line x1="125.1" x2="1734.3" y1="674.7" y2="674.7" stroke="#5a1424" stroke-width="2.3"/>
<path d="M125.1,125.2 V1041.7 H1734.3" fill="none" stroke="#000" stroke-width="4.3" stroke-linecap="butt" stroke-linejoin="round"/>
<line x1="113.2" x2="125.1" y1="139.4" y2="139.4" stroke="#333" stroke-width="4.3"/>
<text x="104.3" y="152.5" class="tk" text-anchor="end">4</text>
<line x1="113.2" x2="125.1" y1="395.8" y2="395.8" stroke="#333" stroke-width="4.3"/>
<text x="104.3" y="408.9" class="tk" text-anchor="end">2</text>
<line x1="113.2" x2="125.1" y1="652.2" y2="652.2" stroke="#333" stroke-width="4.3"/>
<text x="104.3" y="665.3" class="tk" text-anchor="end">0</text>
<line x1="113.2" x2="125.1" y1="908.6" y2="908.6" stroke="#333" stroke-width="4.3"/>
<text x="104.3" y="921.7" class="tk" text-anchor="end">-2</text>
<line x1="198.0" x2="198.0" y1="1041.7" y2="1053.4" stroke="#333" stroke-width="4.3"/>
<text x="198.0" y="1090" class="tk" text-anchor="middle">0e+00</text>
<line x1="717.0" x2="717.0" y1="1041.7" y2="1053.4" stroke="#333" stroke-width="4.3"/>
<text x="717.0" y="1090" class="tk" text-anchor="middle">1e+05</text>
<line x1="1236.0" x2="1236.0" y1="1041.7" y2="1053.4" stroke="#333" stroke-width="4.3"/>
<text x="1236.0" y="1090" class="tk" text-anchor="middle">2e+05</text>
<text x="929.7" y="1143.5" class="ti" text-anchor="middle">Expression [rpmm]</text>
<text transform="translate(46.7,582.6) rotate(-90)" class="ti" text-anchor="middle">Foldchange</text>
<text x="1805" y="297.8" class="lt">Age</text>
<circle cx="1840.2" cy="361.8" r="2.6" fill="#F0C8B8" fill-opacity="0.45"/>
<text x="1899.7" y="375.7" class="lg">12 months</text>
<circle cx="1840.2" cy="434.7" r="2.6" fill="#D0D0D0" fill-opacity="0.45"/>
<text x="1899.7" y="448.6" class="lg">15 months</text>
<circle cx="1840.2" cy="507.6" r="2.6" fill="#7FB0CF" fill-opacity="0.85"/>
<text x="1899.7" y="521.5" class="lg">18 months</text>
<circle cx="1840.2" cy="580.5" r="2.6" fill="#4383B3" fill-opacity="0.85"/>
<text x="1899.7" y="594.4" class="lg">21 months</text>
<circle cx="1840.2" cy="653.4" r="2.6" fill="#2A5E9C" fill-opacity="0.85"/>
<text x="1899.7" y="667.3" class="lg">24 months</text>
<circle cx="1840.2" cy="726.3" r="2.6" fill="#1B3560" fill-opacity="0.85"/>
<text x="1899.7" y="740.2" class="lg">27 months</text>
<circle cx="1840.2" cy="799.2" r="2.6" fill="#B2384B" fill-opacity="0.85"/>
<text x="1899.7" y="813.1" class="lg">6 months</text>
<circle cx="1840.2" cy="872.1" r="2.6" fill="#F0A07A" fill-opacity="0.85"/>
<text x="1899.7" y="886.0" class="lg">9 months</text>
</g>
</svg>
</body></html>
